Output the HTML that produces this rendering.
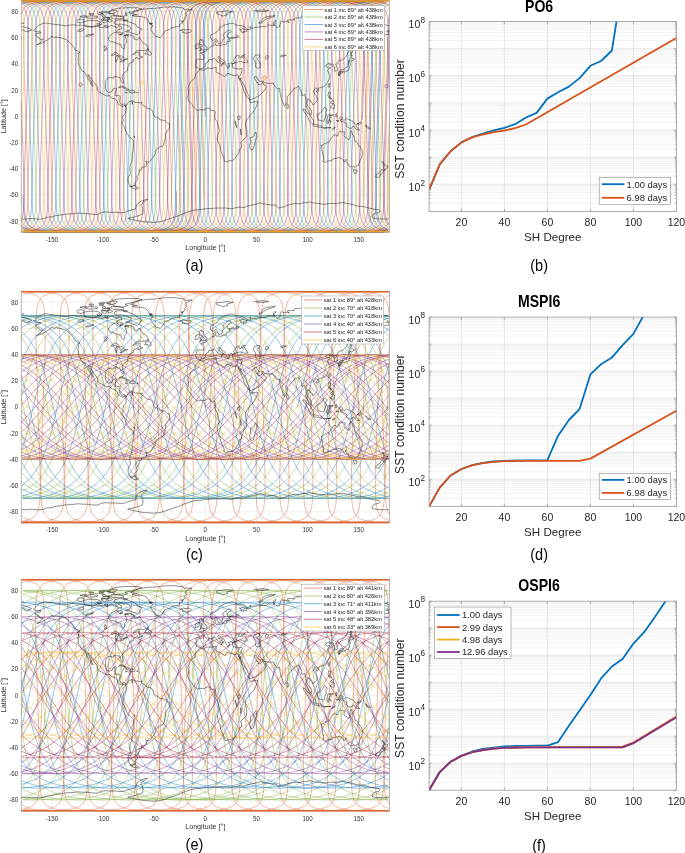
<!DOCTYPE html>
<html><head><meta charset="utf-8"><style>html,body{margin:0;padding:0;background:#fff;}svg{display:block;will-change:transform;}</style></head>
<body><svg width="685" height="853" viewBox="0 0 685 853" font-family='"Liberation Sans", sans-serif'><rect width="685" height="853" fill="#fff"/><defs><path id="coast" d="M33.5 -85.9 36.5 -89.1 38.6 -91 41.7 -92.4 45.2 -93.4 49.8 -92.7 53.9 -92.1 61.1 -91.2 66.2 -90.4 69.3 -91.2 73.4 -91.7 77.5 -91 81.5 -91.2 87.7 -89.7 92.8 -89.3 96.9 -89.9 102 -88.7 105.1 -89.7 107.1 -88.2 109.2 -90.1 111.2 -91 114.8 -89.7 117.3 -88.6 118.6 -90.9 121.4 -89.7 121.9 -87.5 117.9 -86.9 116.5 -84.2 113.2 -83.2 110.7 -81.2 108.8 -78.9 108.5 -76.9 110.4 -74.7 113.8 -74.3 117.9 -72.3 121.1 -72 121.2 -69.2 123.9 -67.3 124.8 -68.8 124.3 -71.5 126.7 -73.8 126.3 -77 125.3 -79.6 125.8 -81.7 129.6 -81.5 132.4 -80.3 134 -79.9 134.2 -77.3 136.2 -76.4 137.8 -77 139.1 -79 141.4 -76 142.6 -73.6 145 -72.3 146.7 -71.3 148.2 -68.5 146.7 -66.5 143.9 -65.8 140.4 -65.9 137.3 -65.8 134.9 -64.1 132.7 -61.4 134.2 -62.2 137.3 -64.3 139.3 -63.9 138.8 -62.2 139.3 -60.7 140.9 -60 142.9 -59.3 140.4 -58.3 138 -57.2 137.5 -59.2 136.3 -58.3 133.5 -57.1 133 -55.3 133.7 -54.8 132.2 -54.2 129.8 -53.3 129.5 -52 128.5 -50.8 127.7 -48.7 127.3 -47.3 128.1 -46.2 126.9 -45.5 125 -44.3 123 -42.3 122 -40 122.9 -37.1 123.4 -34.3 122.9 -33 122 -33.8 121.1 -35.4 120.6 -37.5 119.6 -39.2 118.1 -38.9 116.9 -39.8 114.8 -39.8 113.7 -39.6 114.1 -38.3 112.7 -38.1 110.7 -38.8 108.6 -38.6 106.6 -37.1 105.8 -35.9 105.6 -33.1 105.4 -29.5 105.9 -27.1 107 -25 108.6 -23.8 111 -24.4 112.2 -24.9 112.8 -27.2 115 -28.2 116.4 -27.8 115.8 -25.5 115.1 -22.9 115 -21 116.8 -20.7 119.4 -20.7 120.2 -19.5 119.8 -16.4 119.7 -14.4 121.1 -12.3 122.1 -11.5 123.9 -12.6 125.6 -11.8 126.2 -10.7 125.6 -9.6 125 -10.9 123.9 -11.1 123.1 -9.7 122.2 -10.1 121.2 -10.7 119.8 -11.1 117.6 -13 117.5 -14.8 115.8 -16.9 114.1 -17.7 111.8 -18.2 109.4 -20.8 106.6 -20.4 104.2 -21.5 101.4 -23.2 99.4 -24 97.6 -25.9 97.3 -29.3 96.1 -30.9 94 -33.5 92.5 -36 90.5 -38.3 89.5 -40.9 87.9 -41.7 88.5 -39.6 89.9 -37.1 91.2 -34.7 92.2 -31.8 93.3 -30.4 92.6 -30 90.5 -32.5 90.4 -34.3 88.5 -36.3 87.6 -38.6 85.9 -41.5 85.3 -43.5 84.1 -44.5 82 -45.3 80.6 -47.9 80 -49.5 78.8 -51.1 78.2 -53.1 78.4 -55 78 -57 78.6 -60.5 77.8 -63.4 79.4 -63.3 79.7 -64.3 77.5 -65.5 74.9 -66.4 74.4 -68.1 72.1 -71.3 70.8 -72.6 68.8 -74.8 66.4 -76.6 62.5 -78.1 59.6 -78.7 56.1 -79.3 53.6 -79 51.6 -80.2 50 -77.8 48.3 -77 45.9 -75.5 43.4 -73.8 40.1 -72.6 36.7 -71.4 39.6 -73.2 43.2 -77 40.1 -76.9 39.1 -78.6 36.8 -79.8 35.5 -81.2 36.7 -82.8 40.4 -83.3 40.8 -84.5 38.1 -84.6 35.1 -84.8 33.5 -85.9M126.2 -10.7 127.4 -12.3 128 -13.9 129.4 -14.7 131.5 -15.6 132.3 -16.2 131.8 -14.7 132.3 -13.6 131.9 -12.3 132.7 -12.1 132.1 -14.3 133.5 -15.1 135.4 -13.9 137.6 -13.9 139.4 -13.6 142 -13.9 141.4 -12.6 142.9 -11.1 144.1 -10.9 146 -8.9 148.1 -7.6 150.2 -7.5 152.5 -5.5 153.5 -2.5 154.2 -0.3 155.7 1 156.4 0.8 159.5 2.2 159.8 3.5 162.5 3.8 165.1 4.2 167.3 6.4 169.2 6.9 169.7 10 169.2 12.2 167.5 14.3 165.9 16.8 165.4 18.1 165.5 21 164.7 24.9 163.6 28 162.5 29.9 160.7 30.1 159 31.2 155.8 33.5 155.6 36.9 153.8 40 152 42.2 150.7 44.1 149.1 45.7 147.2 45.5 145.6 44.8 146.8 46.6 146.4 49.5 144.4 50.7 141.7 50.8 141.6 53.3 138.7 53.7 139.7 55.5 138.9 56.1 138.6 58.8 136.4 60.4 137.9 62.7 136.1 65 134.6 66.7 135.3 68.5 134.1 68.8 132.8 70.2 131.1 70.1 129.3 68.1 128.2 65.5 128.1 62.2 129 59.6 130.4 57 130 54.8 129.9 51.7 130.1 48.7 131.4 46.4 132.1 43.5 132.3 40 132.2 37.6 133 35 133.3 30.8 133.5 27.1 133.4 24 132.2 22.7 129.8 21.1 127.4 17.9 126.3 15.7 125.2 13 124 10 122.2 7.9 122.1 5.6 123.2 4.5 123.7 3.3 122.6 2.1 123.1 0.4 123.5 -1.2 124.6 -2 125.6 -3.5 126.2 -5.5 126.1 -8.5 125.6 -9.4 126.2 -10.7M135.1 68.9 136.3 70.7 138.6 71.8 137.3 72.3 135.2 72.7 133.2 72 131.1 71.1 129.6 69.6 132.2 70.1 134.2 69.3 135.1 68.9M199.6 -47 198.7 -45.6 197.5 -44 195.8 -42.6 195.3 -40 194.8 -38.4 193.5 -36.9 191.8 -36 190.5 -34.3 189.4 -32.1 188.6 -29.9 187.9 -27.5 188.7 -25.2 188.4 -21.4 187.7 -19.4 188.2 -17 189.3 -15.1 190.4 -13.8 191.8 -12.2 193 -10 194.5 -8.4 197.1 -5.9 199.7 -6.7 202.2 -6.7 204.1 -6.4 206.5 -8 208.4 -8.3 209.9 -8.1 211.3 -5.6 212.5 -5.8 214.1 -6 215.1 -5 215.3 -3.1 214.9 -1.3 214.8 0.8 215.7 3.7 217.2 5.2 217.9 7.9 218.8 11.4 219.4 14.4 218.2 17.4 217.4 21.9 217.4 23.6 218.7 27 220.1 29.6 220.5 33.5 221.4 35.9 222.1 37.5 223.1 39.6 224 41.7 224.1 44.7 225.9 45.6 228.4 44.5 231.7 44.3 233.5 43.5 235.6 41.3 237.3 38.4 238.5 36.9 239 34.3 238.7 33.5 241.6 31.6 241.5 28.3 240.8 25.9 242.5 24.5 244.2 22.7 246.7 20.2 246.7 14.3 245.7 10.5 245.4 6.2 246.5 3.4 248 2.1 249.7 -0.5 252.3 -3.3 254.3 -5.8 255.8 -9 257.3 -12.4 257.7 -14.8 256.3 -14.7 254.3 -14.5 251.6 -13.9 250.3 -13.6 249.6 -15.5 249 -17 247.4 -19.1 245.9 -20.8 244.8 -23.4 243.7 -25.8 243.1 -28.8 241.7 -31.3 240.6 -34.7 239.2 -37.3 238.6 -39.2 238.3 -41 236.5 -41.3 235 -40.5 232.9 -41.1 231.1 -41.4 228.6 -42.8 226.7 -42.7 225.8 -40.7 224.7 -39.7 223.2 -40.6 221.1 -41.8 219.3 -43 217 -43.5 216 -44.8 216.4 -46.2 215.8 -47.9 216.7 -48.5 215.3 -48.9 213.2 -48.3 210.7 -47.9 208.4 -48.2 206.3 -47.8 203.9 -46.2 202 -46.2 199.6 -47M238.6 -39.2 239.5 -37.2 240.4 -36.4 241 -38.6 240.7 -36.7 241.7 -35.1 242.8 -33 244.4 -30.9 245.3 -28.3 246.7 -25.8 247.8 -22.5 249.1 -20.2 249.6 -16.6 250.9 -16.6 252.9 -17.6 255 -18.3 257.4 -19.8 258.7 -20.4 260.5 -21.9 262.2 -23.4 263.2 -24.4 264.3 -25.9 266.5 -29.3 265.3 -30.9 264 -31.3 263 -33.5 263 -34.6 262.2 -33.3 260.6 -31.6 259.1 -31.7 258.1 -31.8 257.8 -34.2 257 -33.4 256.6 -34.8 255.7 -36 254.8 -37.5 254.3 -39.3 255.3 -39.7 256.5 -39.6 257.3 -37.7 258 -36.5 260 -35.1 262 -35.1 263.5 -35.5 264 -33.7 266.3 -33.3 268.2 -32.9 271.3 -33 273.2 -33.3 274.2 -31.3 275.7 -29.2 277.4 -27.4 279.6 -28 279.8 -25.2 280.4 -21.5 281.6 -16.9 282.8 -14.8 283.6 -11.7 284.6 -10.5 285.4 -11.7 286.4 -13.5 287 -13.6 287.4 -17 287.2 -19.8 288.4 -21 289.4 -21.7 291.1 -24 292.3 -25.5 293.8 -26.5 294.3 -28.2 296.2 -28.4 297.9 -29.9 298.8 -29.9 299.6 -27.8 300 -27.1 301 -25.8 301.8 -23.8 301.6 -21 302.9 -20.6 304.7 -22.1 305.3 -19.5 306 -17 306.1 -13.1 305.8 -10.7 306 -10.3 307.3 -8.4 308 -6.9 308.3 -5.1 308.9 -3.8 310.5 -2 311.2 -1.6 311.9 -2 311.1 -6.4 310.8 -7.2 309.7 -8.1 308.7 -9 307.9 -9.8 307.3 -12.2 306.8 -13.5 307.2 -15.6 307.6 -16.1 307.9 -17.7 308.5 -16.5 309.3 -16.5 310.2 -16 310.6 -14.4 312 -13.8 312.8 -11.8 312.5 -11.3 313.1 -11.4 314.4 -12.6 315.6 -14 317 -15.3 317.1 -17.6 316.7 -20 315.1 -21.9 314.1 -23.6 313.3 -25 314.1 -26.3 315 -27.9 315.9 -28.3 316.9 -28.2 318.2 -26.6 318.8 -28.2 320 -28.6 321.4 -29.1 322.2 -29.3 323.8 -29.9 325.3 -30.9 326.7 -32.1 327.6 -33.8 327.8 -34.8 328.6 -36.5 329.4 -37.1 330 -39.2 329.6 -40.5 330 -41.5 329 -42.7 328.3 -44.9 327.2 -45.7 328.2 -47 329.2 -47.9 330.6 -48.3 329.2 -49.1 328.8 -49.5 326.9 -49 326.1 -49.9 325.5 -50.7 326 -51.4 327.6 -52.3 329.5 -53.4 330.2 -52.9 329.5 -51.7 329.7 -51 330.8 -51.9 332.4 -52.3 333.5 -51.7 332.9 -50 333.6 -49.4 334.8 -49.4 334.4 -47.9 334.6 -45.1 336 -45.3 337.5 -46.1 337.7 -48.2 336.6 -50.6 335.7 -52.1 336.8 -52.7 338 -53.7 338.1 -55 339 -55.4 340.1 -56.3 341.5 -56.1 343.9 -57.5 345.6 -59.2 347.1 -61.6 348 -63.4 348.9 -65.6 349.1 -67.5 349.9 -69.2 349.8 -69.6 348.4 -71 345.7 -70.7 345.1 -71.5 346 -73.1 347.8 -75.1 350.1 -76.9 352 -77.7 354.2 -77.8 357.2 -77.7 359.5 -78.1 361.3 -77.3 363 -78.3 363.5 -79.3 366.2 -81 369.1 -81.1 369.4 -79.9 370.9 -79 372.7 -80 373.2 -81.7 373.6 -82 372.2 -82 373.3 -81.7 372.4 -79.9 371.1 -77.7 370.9 -76.1 372.2 -73.6 371 -72.4 371.1 -71.9 369.4 -71.1 368.4 -69.7 367.1 -68.1 365.7 -66.8 365.3 -68.8 364.8 -72.3 364.8 -74.4 365.7 -75.7 367.3 -76.1 369.2 -77.7 370.9 -79.1 372.5 -80 374 -81.2 375.5 -79 378.1 -79.4 380 -79 381.4 -79.9 383 -80.8 385 -81.4 386.7 -81.9 388.6 -81.6 389.4 -85.2 388.1 -84.5 386.7 -84.6 387.7 -85.7 389.4 -85.9M21.2 -85.9 23.2 -86.5 25.3 -85 27.3 -84.5 28.8 -84.5 28.7 -85.7 30.6 -85.9 31.7 -86.5 29.5 -87.6 26.3 -88.7 22.5 -89.9 21.2 -90.3M389.4 -90.3 388 -90.9 385 -91.6 382.9 -91.4 379.7 -91.8 379.2 -91.3 377.1 -91.2 375.1 -91 372 -91.2 370 -91 368.9 -92.4 366.9 -93 363.8 -93 360.8 -92.7 358.7 -93.8 354.6 -94.6 351.6 -95.2 348.5 -95 348 -93.7 345.9 -93.4 343.9 -93.8 340.8 -94.2 339.3 -92.7 337.8 -93.3 336.7 -95.4 334.2 -96.3 331.1 -96.5 327 -95.8 323.9 -96.4 320.9 -96.3 319.9 -96.7 317.8 -96.9 317.3 -97.7 319.9 -98.4 321.4 -99.4 319.9 -100.2 315.8 -100.5 313.7 -101.3 312 -101.8 308.6 -100.7 306.6 -100.1 304.5 -99.4 301.4 -99.4 299.4 -98.4 295.3 -98.5 293.8 -97.5 294.3 -96.3 291.2 -96.5 287.6 -96.4 287.8 -95 289.4 -93.9 287.6 -94.5 285.6 -94.8 283 -94.2 282.2 -95.5 281.7 -95.5 280.3 -93.8 280.6 -93.1 280 -91.7 279.8 -89.9 277.4 -88.9 275.9 -89.9 275 -90.8 273.9 -91.3 274.1 -92.7 275.4 -94.2 276.1 -95.4 275.4 -95.9 274.1 -94.6 273.2 -93 273.6 -92.1 274.7 -90.9 273.7 -90.7 271.3 -91 267.9 -91.4 267 -90.5 266.2 -89.6 263.9 -89.7 262 -89.6 260.4 -90.1 260.5 -89.3 257.4 -89.2 254.7 -88.8 252.9 -88 250.5 -88.7 250.4 -89.7 249.8 -89.9 250.4 -87.6 250.2 -86.6 248.4 -87.1 246.5 -86.5 245.1 -86.9 243 -87.8 241.2 -87.1 240.3 -87 239.3 -87.2 240.9 -86.3 241 -84.4 242.3 -84 243.7 -83.6 243.3 -85.3 245.8 -84.5 246.7 -84.9 246 -85.8 247.6 -86.7 247.1 -87.5 244.6 -89.6 241.3 -90.7 239.6 -90.8 237.1 -91.2 235.4 -91.6 233.6 -93 231.6 -93.1 229.1 -92.6 227.1 -92.1 224.9 -91.4 222.1 -89.9 220.8 -89.2 219.2 -88 218.5 -86.5 217.9 -85.4 216.1 -84 214.4 -82.9 212.3 -82 210.5 -81.1 210.3 -79.3 210.6 -77.9 211.1 -76.8 212.3 -76.1 213.7 -76.1 215.3 -77.2 216 -77.8 216.6 -77.2 217.1 -76.4 217.9 -74.4 218.2 -73.8 218.5 -72.6 219.9 -72.8 221.7 -73.4 222.2 -74.7 222.4 -75.8 222.5 -76.9 224.1 -77.8 224.5 -78.7 223 -80.3 223.2 -82 224.6 -83.2 226.7 -84.5 227.3 -85.4 228 -86.1 230.4 -86.2 231.3 -85.3 230.5 -84 228.2 -82.9 227.1 -81.6 227.3 -80.2 227 -79.4 228.7 -78.3 231.3 -78.9 233 -79.3 235.2 -78.7 234 -77.9 231.7 -78.1 229.3 -77.6 229.4 -76.6 230.2 -76.4 230.3 -75.3 229.1 -74.7 227.4 -75.2 226.9 -74.4 226.8 -73.2 227 -72.3 225.7 -71.9 224.3 -71.7 223.3 -71.8 222.1 -71.4 219.7 -70.5 218.3 -71.3 216.6 -70.7 216.4 -71.3 215.5 -71.5 215.4 -72.3 215.1 -72.7 216 -74 215.8 -75.5 214.5 -74.9 213.6 -74 213.6 -72.7 214.1 -71.3 214.4 -70.6 212.6 -70.3 211.4 -70.1 210.1 -69.2 209.6 -68.1 208.7 -67.2 207.9 -66.9 206.9 -66.7 206.6 -65.5 205.5 -65.1 204.2 -64.6 203.7 -65.1 203.9 -63.8 202.2 -63.9 200.6 -63.8 200.9 -62.7 202.4 -62.2 203.2 -61.7 204.1 -60.5 204 -58.7 203.8 -57 201.7 -57 199.8 -57.1 197.1 -57.2 195.7 -56.3 196.2 -55.2 196.3 -53.7 196.1 -52.4 195.7 -51.6 195.6 -50.7 196.3 -50.2 196.3 -48.6 197.6 -48.7 198.7 -48.3 199.2 -47.6 199.8 -47 200.8 -48.1 203.2 -48.1 204.6 -49.3 205.5 -50.8 205 -51.5 205.4 -52.4 206.2 -53.7 208.6 -54.9 208.5 -56.5 210 -56.9 211.9 -56.5 212.9 -57.2 214.4 -58.2 215.2 -57.6 215.9 -56.7 216.8 -55.4 218.2 -54.1 219.4 -53.7 220.7 -52.7 221.6 -52 221.3 -50 221.8 -51 222.8 -51.6 222.2 -53.2 224 -52.7 224.1 -52.8 223.2 -53.6 221.8 -54.6 220.8 -55 219.6 -55.9 219.1 -57.1 217.9 -58.4 217.9 -59.3 218.7 -59.9 219.2 -59.1 220.5 -58.6 221.1 -57.2 222.6 -56.6 224.3 -55.5 225.1 -54.9 225 -53.3 225.1 -52.8 226 -51.9 226.8 -50.3 227.6 -48.2 228.3 -47.7 229 -49 228.6 -50.3 229.8 -50 228.9 -51.9 228.4 -52.8 229.1 -52.3 230.3 -53.4 232 -53.4 232.2 -52.7 233.2 -52.9 235 -53.7 234 -54.8 233.5 -55.8 233.9 -56.7 234.6 -57.9 235.6 -59 236.4 -60.3 236.9 -61 238.1 -61 239.6 -60.3 238.5 -59.5 239.7 -58.3 241.2 -58.7 242.7 -59.2 241.1 -59.7 241.4 -60.4 243 -60.9 244.4 -61.6 245.3 -62 244.4 -61 243.6 -60.4 244.5 -59 245.5 -58 246.5 -56.5 247.8 -54.5 247.6 -54.2 245.7 -53.8 243.7 -54 242.9 -54.1 241.3 -55 239.6 -55 237.5 -54.2 235.2 -54 234.8 -52.9 233.2 -52.9 232.1 -52.4 232.7 -51.1 232.5 -49.9 233.2 -48.3 234.8 -48.1 236.4 -47.6 238.5 -47.3 240.1 -47.6 241.7 -47.9 242.2 -46.9 241.9 -45.7 241.6 -44.4 241.2 -43 240.6 -41.4 240.4 -40.9 238.6 -39.2M253.4 -58.3 254.7 -60.5 256.2 -61 258 -61.6 259.5 -61.4 259.6 -59.3 257.8 -58.3 257.1 -57.8 257.8 -56.6 259.2 -55.2 259.4 -54.1 260.5 -53.4 260 -52.3 260.4 -51 260.4 -48.9 257.8 -48.1 255.6 -49.3 255.3 -50.7 255.9 -52.7 255 -54.8 253.9 -56.3 253.4 -58.3M199.5 -65.6 201.8 -66.3 204 -66.4 206.7 -67.1 207 -69 205.6 -69.8 205.1 -70.9 204.1 -71.5 203.7 -72.8 203.2 -73.6 203.5 -75.5 202.1 -75.6 201.2 -75.7 202.1 -76.8 200.2 -76.8 199.4 -75.7 199.6 -73.8 199 -73.4 199.6 -72.4 200.4 -71.9 201.8 -71.9 202 -71 202.2 -70 200.9 -70 200.6 -69.4 201.1 -68.5 200.1 -67.9 201 -67.6 201.9 -67.3 200.9 -67.1 199.5 -65.6M199.1 -68.4 199.2 -69.6 199.1 -70.7 199.6 -71.4 199.1 -72.3 197.7 -72.4 196.8 -72.2 196.5 -71.1 195.1 -71 195.2 -70 195.8 -69.3 194.8 -68.3 195.3 -67.5 196.9 -67.7 198.8 -68.4 199.1 -68.4M182.1 -86.1 183 -84.9 182.1 -83.8 183.8 -83.7 186.1 -83.1 188.4 -83.6 190.4 -84.2 191.4 -85.3 190.4 -86.5 189 -87.1 187.1 -86.5 184.9 -86.5 183.3 -87 182.4 -87 180.2 -85.8 182.1 -86.1M130.6 -102.7 135.7 -105.1 139.8 -106.5 147 -107.7 156.2 -108.1 164.4 -109.3 174.6 -109.4 182.8 -108.3 184.8 -106.9 192 -107 187.4 -105.1 185.4 -102.8 186.4 -100.6 184.3 -98.6 185.4 -97.2 182.8 -95 182.3 -93 179.2 -91.7 179.7 -90.1 174.6 -89.3 171.5 -88.4 169.5 -86.7 165.9 -85.8 163.9 -84.1 162.9 -81.9 161.5 -79.9 160.3 -78.6 158.3 -79.4 155.7 -79.9 154.2 -81.9 153.1 -83.6 151.6 -85.5 150.6 -87.2 151.1 -89.1 153.1 -90.4 150.1 -92.4 152.6 -92.7 149 -93.7 148.5 -95.4 147 -97.2 145 -98.9 140.9 -99.8 135.2 -99.8 132.2 -100.9 137.3 -101.5 130.6 -102.7M142.1 -87.2 140 -84.8 139.1 -82.9 137.8 -81.6 135.2 -82.1 132.2 -83.1 129.1 -84.6 126 -84.4 125.5 -85.2 129.6 -85.9 130.1 -87.2 131.1 -88.4 130.1 -89.5 126 -91.4 123.7 -91.3 121.4 -92.2 115.8 -92 113.8 -93.1 114.8 -95.4 117.3 -96.2 123 -96.5 126.5 -95.5 130.1 -94.1 134.2 -92.5 136.8 -90.9 137 -89.5 140 -88.2 142.1 -87.2M123.5 -100.1 127.6 -101.4 125 -102.8 130.6 -104.1 135.7 -105.5 141.9 -107.4 137.8 -108.5 128.6 -108.7 118.4 -108.1 112.2 -106.8 110.2 -104.8 107.6 -103.5 113.2 -102.4 113.8 -100.9 121.4 -100.2 123.5 -100.1M123.5 -97.6 119.4 -97.5 113.2 -97.7 110.7 -99 111.2 -100.5 115.3 -100.5 119.9 -100 123.5 -99.2 123.5 -97.6M85.1 -90.5 89.7 -89.7 93.8 -90.1 97.4 -90.8 101.5 -91.6 101.5 -93.4 97.9 -95.4 94.3 -95.8 88.7 -95.8 84.1 -94.8 83.6 -93.4 85.1 -90.5M77.5 -94.2 81 -93.5 83.8 -94.6 84.1 -96.4 81.5 -97.3 78 -97.2 76.9 -95.1 77.5 -94.2M85.6 -98.9 88.7 -98 93.8 -98.1 97.9 -98.8 97.4 -100 94.3 -100.2 91.8 -100.7 87.7 -100.1 85.6 -98.9M103 -98.2 107.1 -98.9 109.2 -98.8 109.7 -97.2 105.1 -96.2 101 -96.4 103 -98.2M117.1 -84.1 121.9 -84.2 123.2 -83.2 119.9 -81.5 117.9 -82.7 117.1 -84.1M106.1 -96.3 107.1 -94.7 104.6 -93.3 101.5 -95 103 -96.7 106.1 -96.3M144.6 -62.4 145.5 -63.5 146.7 -65.2 148 -67.6 148.5 -67.5 148.3 -65.2 150.5 -64.6 151.4 -62.2 150.5 -61 148.7 -61.7 147.8 -62.4 144.6 -62.4M118.5 -28.7 119.9 -30 121.9 -30.4 124 -29.6 126.2 -28.3 128 -27.2 129.4 -26.5 127.9 -26.1 125.8 -26.1 126.1 -27.1 125 -28.2 123 -28.8 121.6 -29.1 120.1 -29.1 118.5 -28.7M129.1 -24.1 130.2 -25.8 131.7 -26.1 133.7 -25.8 135.3 -24.4 135 -23.8 133 -23.8 132.3 -23.1 131.1 -23.8 129.1 -24.1M125.2 -24.1 127.4 -23.6 126.5 -23.2 125.2 -24.1M136.6 -24.2 138.2 -24 137.8 -23.6 136.6 -23.6M216.6 -102.6 220.6 -101.3 222.7 -100.3 227.8 -101.7 226.8 -103 232.9 -104.7 226.8 -105.5 221.7 -104.8 216.6 -104.3 216.6 -102.6M258.5 -93.5 261.6 -94.7 262.1 -96 263.1 -98 266.7 -99.8 270.8 -100.1 275.4 -100.9 272.8 -99.4 266.7 -97.5 263.6 -95.6 262.1 -93.7 260 -92.7 258.5 -93.5M302.5 -104.1 307.6 -103.5 312.2 -103 311.2 -104.3 307.6 -106.1 303 -106.4 302.5 -104.1M344.4 -99 349.5 -99.6 353.6 -98.9 350.5 -96.8 346.4 -97.6 344.4 -99M23.2 -93.7 23.9 -93 21.2 -92.9 21.2 -93.7M253.4 -105.5 261.6 -106.4 268.7 -105.7 264.6 -104.7 256.4 -104.8M338.5 -41 339.6 -41.1 340.1 -43 339.8 -44 340.7 -44.4 339.3 -45.1 340.7 -46.4 341.8 -46.6 343.9 -46.6 344.4 -47.7 345.3 -48.6 345.9 -48.3 347.1 -49.5 348.1 -51 348.5 -52.7 348.5 -54 349.4 -54.4 350 -52.9 350.5 -51.5 349.5 -50.2 349.5 -48.6 349.2 -47.2 348.4 -46 347.6 -45.6 347 -45.3 345.4 -45.3 345.2 -44.9 344.2 -43.9 343.6 -44.9 343.1 -45.5 341.7 -45.1 340.8 -44.8 343 -44.1 342.6 -43.5 341.3 -43 340.7 -43.8 340.3 -43.2 340 -41.4 339 -40.6 338.1 -42.7 337.9 -43.6 338.8 -44.4 339.2 -44.4 338.5 -41M348.5 -54.4 348.7 -55.5 348.4 -55.8 350.1 -56.7 350.1 -59.5 351.5 -58.6 352.9 -57.8 353.9 -58 354.2 -56.7 352.8 -56.2 351.9 -55 349.7 -55.8 349.5 -54.6 348.5 -54.4M350.5 -60.4 352.1 -60.5 351.4 -62.2 351.6 -64.2 352.1 -64.6 352.8 -64.2 351.8 -67.9 351.9 -69.4 351.2 -71.1 350.3 -69.4 350.5 -67.6 350.1 -65.5 350.6 -63.5 350.4 -61.7 350.5 -60.4M328.2 -29.9 328.1 -31 329.1 -32.9 330.1 -32.8 329.6 -30.4 329 -28.8 328.2 -29.9M316.4 -25.2 317.4 -26.3 318.4 -26.3 318.8 -25.7 317.3 -23.8 316.4 -24.4 316.4 -25.2M328.6 -24.2 330.3 -24.2 330.5 -22.5 329.7 -21 329.6 -18.9 330.6 -18.7 332.1 -17 331.1 -17.9 329.1 -18.1 328.6 -19.1 327.9 -21.2 328.4 -22.3 328.6 -24.2M330.1 -9 331.8 -10.3 332.6 -11.4 333.6 -12.8 334.4 -12.2 334.7 -9.8 334.2 -8.3 333.6 -7.3 332.1 -8.3 330.1 -9M330.6 -14 331.6 -12.4 333 -13 333.4 -14.8 332.9 -16.4 331.9 -14.7 330.6 -14M316.8 -2 317.4 0.4 318 2.2 318 3.8 319.5 3.9 320.9 4.2 322.4 4.6 323.9 5.1 324.5 3.3 324.5 2 325.5 -0 325.8 -1.3 326.9 -1.7 325.8 -3 326 -5.5 327.2 -7.1 325.5 -8.5 324.6 -9 323.3 -7.1 322.4 -6 321.4 -4.6 320.4 -3.9 319.1 -3.1 318.8 -2 317.4 -2.6 316.8 -2M302.8 -7.3 305 -6.8 306.1 -5 307.5 -3 308.2 -2.8 309 -2.8 311.4 1 312.3 2.5 313.7 4.1 313.5 7.6 312.4 7.7 311.6 6.7 310.2 5.5 309 3.7 307.9 1 306.9 -0.3 306.3 -2.1 305.2 -3.1 303.9 -5 302.8 -7.3M312.9 8.9 313.8 7.9 315 7.7 316.3 8.4 318.3 8.9 319.4 8.8 320.5 9 322.4 10.1 322.3 11.3 320.4 10.9 318.3 10.6 316.3 10.1 314.2 9.7 313.1 9 312.9 8.9M327.4 7.2 328.4 7.3 328.3 3.8 329.1 3.4 330.6 6.2 331.3 5.6 330.3 3.7 329.4 2.2 329.7 1.3 331.4 1.2 329.6 -0.8 331.6 -0.7 332.5 -0.7 333.3 -2.1 332.6 -1.3 329.6 -1.4 328.5 -1.7 327.8 -0.3 327.2 2.9 326.8 3.5 327.4 7.2M322.9 11.4 324.5 11.7 326 11.3 327 11.5 329.1 11.5 331.1 11 330.1 11.4 327.5 11.3 325 11.8 322.9 11.4M332.1 13.1 333.1 11.9 335.5 11 334.7 11.7 332.6 13.4 332.1 13.1M335.7 -2 336.4 -2.9 336.2 -1 336.9 -0.4 336.1 1 335.6 -0.7 335.7 -2M336.2 4.2 338.8 4.1 339.1 5 336.7 4.7 336.2 4.2M339.3 1.7 340.8 0.5 342.5 1.2 342.9 3.3 343.9 4.3 345.4 3 346.4 2.1 348 2.9 349.5 3.4 351.3 4.3 353.1 5 354.4 6.4 354.4 7.2 356.3 8 355.9 9.7 357.1 11.3 358 11.9 359 13.4 359.6 13.8 358.3 13.5 356.2 13.2 354.6 10.6 353.3 10 351.9 10.9 352 11.8 350.4 12.1 349.5 11.9 347.5 10.6 346.4 9.8 347.2 8.9 346.2 6.9 343.6 5.8 342 4.7 341.1 5.4 340.3 3.7 341.8 3.1 340.5 2.9 339.3 1.7M357 7.3 358.7 7.1 360.3 5.6 361.1 5.6 360.8 7.2 359.4 8.3 357 7.3M365.4 8.6 366.4 9.6 367.9 10.5 369.5 11 370.5 12.4 368.9 12.6 366.9 11.5 365.4 8.6M321.4 28.8 321.7 32.1 322.1 34.5 322.9 38.6 323.6 41.4 323.6 43.6 322.9 44.9 324.6 45.9 326 45.9 327.9 44.5 331.6 44.4 332.3 43.2 334.2 42.3 336.2 41.9 339.6 41.3 340.9 41.9 342.7 43 343.6 45.2 344.3 45.6 345.3 44.1 346.2 42.7 345.9 44.7 346.8 46.5 347 46.6 348.1 47.3 348.4 49 349.1 49.8 350.7 50.3 352.1 50.8 353.5 49.6 354.1 50.6 354.9 51.2 356.1 50 356.9 49.5 358.7 49.1 358.8 47.7 359.4 46.1 359.9 44.4 361.3 42.2 361.8 40.6 362.4 36.9 361.9 34.2 361.8 32.8 360.9 31.8 359.5 29.6 358.4 29.2 357.7 26.7 356.2 25.5 354.9 24.9 354.5 22.4 354 21 353.9 19.5 353.2 18.6 352.2 18.3 352.1 16.8 351 14 350.6 14.8 350.1 16.9 350.2 19.7 349.9 21.5 349.1 23.1 347.8 22.8 346.4 21.5 345 20.8 344 19.3 344.3 17.4 345.3 16.1 344.7 15.6 343.9 15.7 341.9 15.5 340.9 15.1 340.1 14.8 338.9 16.2 338.4 17.2 337.9 19.5 336.2 19.5 335.3 18.3 334.3 18.5 333.3 19.1 332.5 20.4 331.5 22.1 330.4 22.7 329.9 24.6 329.1 25.5 327.5 26.2 326.8 26.7 325.5 27.1 324.7 27 323.4 28.2 322.5 28.6 322.1 29.5 321.4 28.8M353.2 53.3 355 53.8 357 53.6 357 55.3 356.6 56.6 355.7 57 354.6 57 353.9 55.3 353.2 53.3M381.9 45.1 383.6 46.2 384.1 48.2 385.2 49.1 386.5 49.6 387.9 49.4 387.3 51.4 386.2 51.7 385.5 53.4 384.6 54.5 383.9 54.1 384.5 52.7 383.1 51.4 383.9 49.9 383.9 48.5 382.9 47 381.9 45.1M381.9 53.1 383.6 54.2 383.2 55.3 382.4 56.3 381.9 57.4 380.5 57.9 379.8 60.1 378.5 61 376.9 60.8 375.6 60.3 376 59.1 377.4 57.8 379.8 56.3 380.7 54.8 381.3 53.6 381.9 53.1M255.7 15.7 256.4 17.7 257 20 256.2 21.9 255.9 23.3 254.9 26.9 253.9 30.8 253.5 32.6 251.7 33.5 250.3 32.8 250 30.8 249.6 28.8 249.9 27.8 250.7 26.2 250.7 24.9 250.3 22.8 250.7 21.2 252.7 20.7 254.1 19.1 254.4 17.8 255.7 15.7M287 -12.7 287.9 -12.2 288.6 -10.7 289 -9.2 288.4 -8.1 287.2 -7.9 286.9 -10 287 -12.7M21.2 102.6 26.3 102.6 31.4 102.2 38.6 102.8 43.7 102.3 46.8 100.9 51.9 100.5 56 99.2 62.1 98.5 66.2 97.7 72.3 97.5 77.5 96.7 82.6 97.1 87.7 97.3 92.8 97.9 97.9 98 102 96 106.1 95.6 110.2 96 115.3 95.9 121.4 96.5 125.5 95.8 127.6 94.7 131.7 93.7 135.7 92.4 136.3 89.7 137.8 87.1 140.9 84.9 146 83.1 147.5 83.1 145.5 84.5 143.4 85.8 141.9 87.1 140.9 89.1 142.4 91 142.9 93.7 142.9 96.3 142.4 97.6 139.8 98.9 134.7 100.6 129.6 101.5 127.6 102.2 133.7 103.5 143.9 105.5 154.2 106.1 160.3 105.5 168.5 102.8 172.6 101.5 176.7 100 179.7 98.9 185.9 96.3 190 95 194 93.7 199.2 93.4 205.3 92.4 210.4 92.2 215.5 91.7 220.6 91.7 225.8 91.7 230.9 92.4 236 91.4 239.1 90.8 244.2 91.2 246.2 90.1 251.3 88.8 256.4 87.8 260.5 86.5 263.6 87.6 266.7 88 271.8 88.6 275.9 88.8 276.9 90.4 278.9 92 280 90.8 283 91 285.1 89.9 289.2 88.4 293.3 87.5 295.3 87.2 299.4 87.4 303.5 86.5 307.6 86.2 309.6 85.5 313.7 86.6 317.8 87.1 322.9 87.8 326 87.8 330.1 87.1 335.2 87.2 340.3 86.5 343.4 86.2 346.4 87 350.5 87.8 353.6 88.4 355.7 89.3 358.7 89.9 362.8 90.1 365.9 90.9 368.9 91.7 372 92.4 375.1 93 379.2 93.5 380.2 94.7 378.7 96.3 375.1 96.9 373 98.2 372 100.2 372.5 101.5 375.6 102.2 377.1 102.4 381.2 102.6 385.3 102.7 389.4 102.6M111.1 -61.2 113.7 -62.9 114.9 -63.9 116.8 -63.8 118.6 -61.6 118.8 -60.9 116.8 -60.9 115.3 -62 112.7 -61 111.1 -61.2M115.8 -54.6 116.7 -54.8 117.1 -57 117.9 -59.1 118.6 -60 117.5 -60.3 115.8 -59.6 115.3 -58 115.7 -56.3 115.8 -54.6M118.7 -60.1 119.8 -60.4 122.2 -60.4 123.4 -59.2 122.9 -58.3 121.7 -58 120.9 -56.3 119.9 -57.6 120.1 -59 118.7 -60.1M120 -54.6 121.9 -54.4 123.7 -55.3 124.6 -56.1 122.5 -55.8 120.3 -55 120 -54.6M123.7 -56.7 125.5 -56.9 127.3 -57 127.4 -57.9 126 -57.5 124.1 -57.1 123.7 -56.7M77.5 -85.4 79.5 -86.7 81.5 -87.8 84.1 -87.1 83.1 -85.8 81 -85 79 -84.9 77.5 -85.4M85.6 -79.9 88.7 -80.2 90.7 -80.8 93.8 -82.3 91.3 -82 88.2 -81.7 86.7 -81 85.6 -79.9M104 -66 105.6 -67.3 104 -69.2 104.9 -70.5 106.1 -69.7 106.6 -67.5 106.4 -66.2 104 -66M265.1 -57.8 266.5 -57.1 268.1 -58.3 268.4 -60 267.2 -60.8 265.8 -60.3 265.1 -57.8M311.5 -67.5 313.2 -67.6 315.6 -69.4 317.3 -71.8 317.6 -73.1 316.1 -71.4 314 -69.4 312.1 -68.1 311.5 -67.5M280.5 -60.3 282 -61 284.6 -61.2 286.3 -61 285.6 -60.7 283 -60 281.5 -59 280.5 -60.3M237.6 0.3 239.7 -0.4 240.2 0.7 239.7 3.1 238.3 3.5 237.6 2 237.6 0.3M235.2 4.5 235.8 5.9 236.5 8.8 237 11.3 236.6 11.1 235.6 8.6 235.1 6.3 235.2 4.5M240.5 12.6 241 15.1 240.7 17.7 241.4 18.7 241 16.1 240.5 12.6M235.9 -78.7 237.5 -79 239 -79.5 238.6 -80.3 236.5 -80.6 235.9 -79.6 235.9 -78.7M133.9 20 134.9 20.3 134.4 21.5 133.9 20M106.1 -104.5 111.2 -105.5 115.3 -106.1 117.3 -105.1 115.3 -103.5 111.7 -102.6 108.1 -103.2 106.1 -104.5M98.9 -102 103 -103 104 -101.9 101 -101.3 98.9 -102M80 -99.8 85.1 -100.9 86.7 -100.1 83.6 -99 80 -99.8M102 -100 105.1 -100.6 106.1 -98.9 104 -98.1 102 -100M107.1 -98.9 109.7 -98.8 109.4 -97.9 107.1 -98.1 107.1 -98.9M107.6 -96.5 111.2 -96.8 112.7 -95.6 109.7 -94.3 107.6 -95 107.6 -96.5M104.6 -91 107.1 -91.2 108.1 -89.7 105.6 -89.3 104.6 -91M123.5 -96.7 127.6 -96.3 126.5 -95.1 123 -95.6 123.5 -96.7M120.4 -82.5 122.5 -82 120.9 -81.2 119.9 -81.7 120.4 -82.5M126.5 -81.5 128.6 -80.3 124 -80.7 126.5 -81.5M96.9 -92.7 98.9 -93.1 100.7 -91.7 97.9 -91.2 96.9 -92.7M88.7 -102.8 92.8 -103.1 93.8 -102 89.7 -101.9 88.7 -102.8M98.9 -103.8 104 -104.9 105.6 -104.1 102 -103.2 98.9 -103.8M180.8 -95 183.3 -95.4 182.3 -94.1 180.8 -95M152.1 -92.7 151.1 -92.1 149 -92.5 150.6 -93.1 152.1 -92.7" fill="none" stroke="#1c1c1c" stroke-width="0.5" stroke-linejoin="round"/></defs><clipPath id="clipa"><rect x="21.2" y="0.3" width="368.2" height="232.1"/></clipPath><rect x="21.2" y="0.3" width="368.2" height="232.1" fill="#fff"/><path d="M21.2 221.2H389.4M21.2 194.9H389.4M21.2 168.8H389.4M21.2 142.6H389.4M21.2 116.3H389.4M21.2 90.1H389.4M21.2 63.9H389.4M21.2 37.7H389.4M21.2 11.5H389.4M51.9 0.3V232.4M103.0 0.3V232.4M154.2 0.3V232.4M205.3 0.3V232.4M256.4 0.3V232.4M307.6 0.3V232.4M358.7 0.3V232.4" stroke="#e6e6e6" stroke-width="0.6" fill="none"/><g clip-path="url(#clipa)" fill="none" stroke-width="0.5" stroke-opacity="0.8"><path stroke="#D95319" d="M389.4 117.2 387.7 165.2 387.2 192.1 387.3 201.4 387.6 208.9 388.3 214.8 389.2 219M21.2 219.9 22.7 223.2 24.6 225.7 26.8 227.4 30.3 229 33.1 229.8 37.1 230.6 43.3 231.4 53.9 232.1 73.6 232.7 106.9 232.9 140.4 232.7 160.4 232.1 171.1 231.4 177.4 230.6 181.4 229.8 184.2 229 186.2 228.2 188.9 226.6 190.6 224.9 191.8 223.2 193 220.7 193.8 218.2 194.5 214.8 194.9 211.5 195.4 202.2 195.5 188.8 195.2 170.2 191.8 72.6 191.1 40.6 191.3 28.8 191.9 20.4 192.3 17 193.1 13.7 194 11.2 194.8 9.5 196.8 7 198.9 5.3 202.4 3.7 205.1 2.9 209.1 2.1 215.3 1.3 225.8 0.6 245.2 0 278.3 -0.2 312 -0 332.2 0.6 343.1 1.3 349.4 2 353.5 2.8 356.3 3.6 358.3 4.5 361 6.1 363.4 8.6 365.1 12 366.1 15.3 366.9 20.4 367.4 26.2 367.7 34.7 367.6 45.6 366.9 75.1 364.3 149.2 363.5 176.1 363.3 198 363.5 205.5 363.9 211.4 364.6 216.5 365.8 220.7 367.5 224 369.8 226.5 372.5 228.2 374.5 229 377.2 229.8 381.1 230.6 387.2 231.4M29.4 232.1 48.6 232.7 81.5 232.9 115.4 232.7 135.8 232.1 146.8 231.4 153.2 230.7 157.3 229.9 160.2 229.1 162.2 228.3 163.7 227.4 165.9 225.8 167.3 224.1 168.3 222.4 169.4 219.9 170 217.4 170.6 214 171.1 209.8 171.6 199.7 171.6 186.3 171.2 167.8 167.9 76 167.2 44.8 167.2 33.1 167.6 23.8 168.4 17.1 169.7 12 170.9 9.5 172 7.9 173.7 6.2 174.9 5.4 178.3 3.7 181.1 2.9 185 2.1 191 1.3 201.3 0.6 220.2 0 252.9 -0.2 287 -0 307.7 0.5 318.8 1.2 325.3 2 329.4 2.8 332.2 3.6 335.8 5.3 337.1 6.1 338.8 7.7 340.4 10.3 341.2 11.9 342 14.4 343 20.3 343.6 28.7 343.7 39.7 343.1 70.8 340.3 150.8 339.5 179.4 339.4 200.5 339.7 208 340.3 213.9 341.3 219 342.1 221.5 343 223.2 344.9 225.7 347 227.3 348.5 228.1 350.4 229 353.1 229.8 357 230.6 363 231.3 373.1 232.1M23.7 232.7 56.1 232.9 90.4 232.7 111.3 232.2 122.6 231.5 129.1 230.7 133.3 229.9 136.1 229.1 139.7 227.5 141 226.6 142.7 225 143.9 223.3 145.1 220.8 146.4 215.8 147.2 209 147.6 198.9 147.6 185.5 147.2 166.9 144 76 143.3 44.9 143.3 33.1 143.7 23.8 144.4 17.1 145.7 12.1 146.9 9.6 148 7.9 149.7 6.2 150.9 5.4 154.3 3.8 157 2.9 160.8 2.1 166.8 1.4 176.8 0.7 195.3 0.1 227.5 -0.2 262 -0 283.2 0.5 294.5 1.2 301.1 2 305.3 2.8 308.2 3.6 310.3 4.4 313.1 6.1 314.8 7.7 316 9.4 316.9 11.1 317.8 13.6 318.9 19.5 319.6 27 319.8 38 319.7 51.4 319.2 69.1 316.2 154.1 315.4 183.6 315.4 195.4 315.6 204.6 316.1 212.2 316.9 217.3 318.2 221.4 319 223.1 320.2 224.8 321.8 226.5 323 227.3 326.4 228.9 329.1 229.7 332.9 230.5 338.8 231.3 348.7 232 366.9 232.6M30.7 232.9 65.4 232.7 86.8 232.2 98.3 231.5 105 230.7 109.2 229.9 112.1 229.1 114.2 228.3 117 226.7 117.9 225.8 119.4 224.2 120.4 222.5 121.4 220 122.6 214.9 123.4 207.4 123.7 197.3 123.6 183.8 123.2 166.1 120.1 76.1 119.3 44.9 119.3 33.1 119.7 23.9 120.5 17.1 121.8 12.1 122.9 9.6 124.1 7.9 125.7 6.3 126.9 5.4 130.3 3.8 132.9 3 136.7 2.2 142.5 1.4 152.3 0.7 170.4 0.1 202.1 -0.2 236.9 -0.1 258.6 0.5 270.3 1.2 277 1.9 281.3 2.7 284.2 3.5 286.3 4.4 289.1 6 290.1 6.8 291.5 8.5 292.5 10.2 293.6 12.7 294.8 17.7 295.5 25.3 295.8 35.4 295.8 48.9 295.4 66.5 292.2 156.6 291.4 187.8 291.5 199.6 291.8 208.8 292.6 215.5 293.9 220.6 295.1 223.1 296.2 224.8 297.9 226.4 299 227.2 302.4 228.9 305 229.7 308.8 230.5 314.5 231.3 324.2 232 342 232.6 373.5 232.9M40.3 232.8 62.2 232.2 74 231.5 80.8 230.8 85.1 230 88 229.2 90.2 228.3 91.8 227.5 94 225.9 95.4 224.2 96.4 222.5 97.2 220.9 98 218.3 98.9 213.3 99.5 206.6 99.8 197.3 99.7 184.7 98.9 154.4 95.9 68.5 95.5 50.8 95.3 37.4 95.6 27.3 96.2 19.7 97.3 13.8 98.2 11.3 99 9.6 100.1 8 101.8 6.3 104.4 4.6 106.3 3.8 108.9 3 112.6 2.2 118.3 1.4 127.9 0.7 145.5 0.1 176.7 -0.2 211.8 -0.1 234.1 0.5 246 1.2 252.8 1.9 257.2 2.7 260.1 3.5 263.9 5.2 265.1 6 266.9 7.6 268.1 9.3 269 11 270.3 15.2 271.3 21.9 271.8 31.2 271.9 42.9 271.2 74.9 267.9 167.5 267.5 185.2 267.5 198.7 267.9 208.8 268.7 215.5 270 220.5 271.1 223.1 272.2 224.7 273.9 226.4 276.5 228 278.3 228.9 280.9 229.7 284.6 230.5 290.3 231.2 299.8 232 317.2 232.6 348.1 232.9 383.4 232.8M37.7 232.3 49.7 231.6 56.7 230.8 61 230 64 229.2 66.2 228.4 67.8 227.6 70 225.9 72 223.4 73.5 220 74.7 215 75.4 209.1 75.7 202.4 75.8 193.1 75.7 180.5 74.9 151.9 72 71.1 71.4 39.9 71.6 29 72.1 20.6 73.1 14.7 74.6 10.5 76.1 8 77.8 6.3 78.9 5.5 82.2 3.9 84.8 3 88.5 2.2 94.1 1.5 103.5 0.7 120.6 0.1 151.3 -0.2 186.7 -0.1 209.5 0.4 221.7 1.1 228.7 1.9 233.1 2.7 236.1 3.5 239.9 5.1 241.1 6 242.9 7.6 244.1 9.3 245 11 246.4 15.2 247.4 21.9 247.9 31.1 248 42.9 247.2 74.9 244 167.5 243.6 186 243.6 199.5 244 209.6 244.5 213.8 245.1 217.2 245.7 219.7 246.7 222.2 247.7 223.9 249 225.5 251 227.2 252.4 228 254.3 228.8 256.9 229.6 260.5 230.4 266.1 231.2 275.4 231.9 292.3 232.6 322.7 232.9 358.3 232.8 381.3 232.3M25.4 231.6 32.5 230.8 36.9 230 40 229.2 42.1 228.4 45 226.8 46 225.9 47.5 224.3 48.9 221.8 50.3 217.6 51.1 212.5 51.6 206.6 51.9 199.1 51.7 178 50.9 150.2 48.2 73.6 47.5 43.3 47.5 32.4 47.9 24 48.5 18.1 49.6 13 50.6 10.5 51.6 8.9 53.8 6.4 56.3 4.7 58.2 3.9 60.7 3.1 64.4 2.3 69.9 1.5 79.1 0.8 95.8 0.1 125.9 -0.2 161.6 -0.1 184.9 0.4 197.4 1.1 204.5 1.9 209 2.6 212.1 3.5 214.2 4.3 217.1 5.9 218.9 7.6 220.2 9.3 221.1 10.9 222 13.4 223.2 19.3 223.8 27.7 224 40.3 223.3 73.2 220 170 219.6 188.5 219.7 202 220.2 211.2 221.3 218 222 220.5 223.2 223 224.3 224.7 225.9 226.3 228.4 228 230.3 228.8 232.8 229.6 236.4 230.4 241.9 231.2 251 231.9 267.5 232.6 297.3 232.9 333.1 232.8 356.7 232.3 369.3 231.6 376.6 230.9 381.1 230.1 384.1 229.3 386.3 228.4 389.2 226.8M22 226 23.5 224.3 24.6 222.6 25.6 220.1 26.5 216.8 27.2 212.6 27.6 208.4 27.9 196.6 27.9 182.3 27.4 162.9 23.8 60.2 23.5 41.7 23.7 28.2 24.4 19 25 15.6 25.7 13.1 26.7 10.6 27.6 8.9 28.9 7.2 30.9 5.6 34.2 3.9 36.7 3.1 40.2 2.3 45.7 1.5 54.6 0.8 71 0.2 100.5 -0.2 136.4 -0.1 160.3 0.4 173.1 1.1 180.4 1.8 184.9 2.6 188 3.4 191.9 5.1 194.2 6.7 195.7 8.4 196.7 10.1 197.8 12.6 198.5 15.1 199.5 21.8 200 31.9 200.1 45.4 199.7 63.9 196.4 158.2 195.7 190.2 195.8 202.8 196.3 211.2 197.3 217.9 198.8 222.1 199.7 223.8 201.1 225.5 203 227.1 204.4 227.9 208.8 229.6 212.3 230.4 217.7 231.2 226.6 231.9 242.7 232.5 271.9 232.9 307.9 232.8 332.1 232.3 345 231.6 352.4 230.9 357 230.1 360.1 229.3 362.3 228.5 365.3 226.8 366.3 226 367.8 224.3 368.8 222.7 369.9 220.1 371.1 215.1 371.8 209.2 372.2 200.8 372.2 189 371.5 157.9 368.1 59.4 367.8 38.3 368.1 24.9 368.7 19 369.5 14.8 370.5 11.4 371.8 8.9 374.1 6.4 376.5 4.8 380.8 3.1 384.3 2.3M21.5 1.6 30.3 0.8 46.2 0.2 75.2 -0.2 111.2 -0.1 135.7 0.4 148.8 1 156.2 1.8 160.8 2.6 164 3.4 166.2 4.2 167.9 5 170.2 6.7 171.7 8.4 172.7 10 173.8 12.5 174.5 15.1 175.5 21.8 176.1 31.9 176.1 45.3 175.7 63.9 172.4 158.1 171.7 190.1 171.8 202.8 172.3 211.2 173.4 217.9 174.8 222.1 175.8 223.8 177.1 225.4 179 227.1 180.4 227.9 184.7 229.5 188.2 230.3 193.5 231.1 202.2 231.9 217.9 232.5 246.6 232.9 282.8 232.8 307.5 232.3 320.7 231.7 328.2 230.9 332.9 230.1 336 229.3 338.3 228.5 341.3 226.9 342.3 226 343.8 224.4 344.9 222.7 345.6 221 346.4 218.5 347 216 347.8 210.1 348.2 202.5 348.3 191.6 347.6 160.4 344.8 82.1 344 53.5 343.9 32.5 344.2 24.9 344.8 19 345.7 14 347 10.6 348.5 8.1 350.1 6.5 351.2 5.6 354.3 4 356.8 3.2 360.2 2.4 365.5 1.6 374.1 0.8M21.4 0.2 49.8 -0.2 86 -0.1 111 0.3 124.4 1 132 1.8 136.8 2.6 139.9 3.4 143.9 5 145.2 5.8 147 7.5 148.3 9.2 149.5 11.7 150.4 14.2 150.9 16.7 151.8 24.3 152.2 34.4 152.1 47.8 151.7 66.3 148.6 155.6 147.8 186.7 147.8 198.5 148.1 207.8 148.8 214.5 149.9 219.5 150.9 222.1 151.8 223.7 153.1 225.4 155.1 227.1 158.2 228.7 160.6 229.5 164.1 230.3 169.3 231.1 177.8 231.8 193.1 232.5 221.3 232.9 257.5 232.8 282.8 232.4 296.4 231.7 304.1 230.9 308.8 230.2 312 229.4 314.3 228.5 317.3 226.9 319.2 225.2 320.4 223.6 321.3 221.9 322.3 219.4 323.4 213.5 324.1 205.9 324.3 195 324.2 181.5 323.8 163.8 320.8 79.7 320 50.2 319.9 38.4 320.1 29.1 320.4 22.4 321.2 16.5 321.8 14 322.6 11.5 323.4 9.8 324.5 8.2 326.1 6.5 327.2 5.7 330.3 4 332.7 3.2 336.1 2.4 341.3 1.6 349.7 0.9 364.9 0.2M24.5 -0.2 60.8 -0.2 86.4 0.3 100.1 1 107.9 1.7 112.7 2.5 115.9 3.3 119.9 5 122.2 6.6 123.8 8.3 124.8 10 125.9 12.5 127.1 17.5 127.9 25.1 128.2 35.2 128.2 48.6 127.8 67.2 124.6 155.6 123.9 186.7 123.9 198.5 124.2 207.7 124.9 214.5 126 219.5 126.9 222 127.8 223.7 129.1 225.4 131.1 227 134.2 228.7 136.6 229.5 140 230.3 145.1 231.1 153.4 231.8 168.4 232.5 195.9 232.9 232.3 232.9 258.1 232.4 272.1 231.7 279.9 231 284.7 230.2 288 229.4 292 227.8 294.3 226.1 295.9 224.4 296.9 222.8 298 220.2 299.3 215.2 300.1 207.6 300.4 197.5 300.3 184.1 299.9 165.6 296.8 77.2 296 46 296 34.2 296.3 25 297 18.2 298.1 13.2 299 10.7 300 9 301.3 7.4 303.2 5.7 306.3 4 308.7 3.2 312 2.4 317.1 1.6 325.3 0.9 340.1 0.2 367.4 -0.2M35.6 -0.2 61.7 0.3 75.8 1 83.7 1.7 88.6 2.5 91.8 3.3 94.1 4.1 97.2 5.8 99.1 7.4 100.4 9.1 101.3 10.8 102.2 13.3 103.3 18.3 104 25 104.3 34.3 104.3 46.9 103.5 77.2 100.4 164.8 100 182.5 99.9 195.9 100.1 206 100.8 213.6 101.8 218.6 102.6 221.1 103.4 222.8 105.2 225.3 107.1 227 108.4 227.8 112.5 229.5 115.9 230.3 120.9 231 129 231.8 143.7 232.4 170.6 232.9 207 232.9 233.4 232.4 247.7 231.8 255.7 231 260.6 230.2 263.9 229.4 268 227.8 269.3 227 271.2 225.3 272.5 223.6 273.4 222 274.8 217.8 275.8 211 276.3 202.6 276.4 190 275.7 158 272.5 64.6 272.1 46.9 272.1 33.4 272.5 23.3 272.9 19.1 273.5 15.8 274.1 13.2 275.1 10.7 276 9.1 277.3 7.4 279.2 5.7 280.5 4.9 284.6 3.3 287.9 2.5 292.9 1.7 301 0.9 315.4 0.3 342.1 -0.2 378.5 -0.2M37 0.3 51.4 0.9 59.5 1.7 64.5 2.5 67.8 3.3 70.1 4.1 73.2 5.7 74.3 6.6 75.8 8.2 76.9 9.9 77.7 11.6 78.5 14.1 79.1 16.6 79.8 22.5 80.2 29.2 80.4 38.5 80.3 50.3 79.5 79.7 76.5 163.9 76.1 181.6 75.9 195.1 76.2 206 76.8 213.6 77.4 216.9 78.1 219.4 79 222 79.9 223.6 81.2 225.3 83.1 227 86.2 228.6 88.5 229.4 91.8 230.2 96.7 231 104.7 231.8 119 232.4 145.4 232.9 181.8 232.9 208.7 232.4 223.4 231.8 231.5 231 236.5 230.3 239.9 229.5 242.2 228.6 245.3 227 247.2 225.3 248.5 223.7 249.4 222 250.4 219.5 251.5 214.4 252.2 207.7 252.5 198.5 252.5 186.7 251.7 155.5 248.6 66.3 248.1 47.8 248.1 34.3 248.5 24.2 249.4 16.6 249.9 14.1 250.8 11.6 252 9.1 253.3 7.4 255.2 5.8 256.5 4.9 260.6 3.3 263.8 2.5 268.7 1.7 276.6 1 290.7 0.3 316.8 -0.2 353.2 -0.2 380.5 0.2M27.1 0.9 35.3 1.6 40.4 2.4 43.7 3.2 46.1 4 49.2 5.7 50.3 6.5 51.9 8.2 53.4 10.7 54.8 14.9 55.6 19.9 56.1 25.8 56.4 33.4 56.3 54.4 55.5 82.2 52.7 160.5 52 190.8 52.1 201.8 52.5 210.2 53.3 216 53.9 218.6 54.7 221.1 55.5 222.8 56.5 224.4 58.1 226.1 59.1 226.9 62.1 228.6 64.4 229.4 67.7 230.2 72.5 231 80.3 231.7 94.3 232.4 120.1 232.9 156.5 232.9 184 232.5 199 231.8 207.3 231.1 212.4 230.3 215.8 229.5 220 227.8 221.3 227 223.3 225.4 224.6 223.7 225.5 222 226.9 217.8 228 211.1 228.5 202.7 228.6 190.1 227.8 158.1 224.5 63.8 224.2 45.3 224.2 31.8 224.7 21.7 225.8 15 226.5 12.5 227.6 10 228.6 8.3 230.2 6.6 232.5 5 234.2 4.1 236.5 3.3 239.7 2.5 244.5 1.7 252.3 1 266 0.3 291.6 -0.2 327.9 -0.2 355.8 0.2 370.9 0.9 379.3 1.6 384.5 2.4 387.9 3.2M22.1 4 23.9 4.8 26.3 6.5 27.9 8.2 29.4 10.7 30.4 13.2 31.2 16.5 31.8 20.7 32.1 24.9 32.5 37.6 32.3 56.9 28.6 165.5 28.1 185.7 28.1 200 28.4 206.8 28.8 211.8 29.4 216 30.1 219.4 31.1 221.9 32.6 224.4 34.1 226.1 36.4 227.7 40.4 229.4 43.6 230.2 48.4 230.9 56 231.7 69.6 232.4 94.9 232.8 131.1 232.9 159.3 232.5 174.6 231.8 183.1 231.1 188.3 230.3 191.8 229.5 196 227.9 198.4 226.2 200 224.6 201.1 222.9 202.2 220.4 203 217.9 204 211.1 204.6 201 204.6 187.6 204.2 169.1 200.9 74.8 200.2 42.8 200.3 31 200.8 21.7 201.8 15 203.2 10.8 204.1 9.2 205.4 7.5 207.2 5.8 208.5 5 212.5 3.4 215.7 2.6 220.4 1.8 228 1 241.4 0.3 266.4 -0.1 302.6 -0.2 331 0.2 346.5 0.8 355.1 1.6 360.4 2.4 363.8 3.2 366.3 4 369.5 5.6 370.5 6.5 372.1 8.1 373.2 9.8 374.3 12.3 375.6 17.3 376.3 23.2 376.7 31.6 376.8 43.4 376 74.6 372.6 173.1 372.3 194.1 372.7 207.6 373.2 213.5 374 217.7 375 221 376.2 223.5 378.3 226 380.6 227.7 384.6 229.3 387.7 230.1M24.2 230.9 31.7 231.7 44.9 232.3 69.6 232.8 105.8 232.9 134.5 232.5 150.2 231.9 158.9 231.1 164.2 230.3 167.7 229.5 170.2 228.7 172 227.9 174.4 226.3 176 224.6 177.1 222.9 177.9 221.2 178.8 218.7 179.9 212.9 180.5 203.6 180.7 191 180.4 174.1 178.3 112.7"/><path stroke="#77AC30" d="M203.5 194.9 203.1 167.2 199.7 72 199.3 53.5 199.1 39.2 199.4 26.6 200.1 18.2 200.8 14.8 201.5 12.3 202.6 9.8 203.7 8.1 205.4 6.4 207.8 4.8 212.1 3.1 215.6 2.3 220.9 1.6 229.7 0.8 245.6 0.2 274.4 -0.2 310.6 -0.1 335.1 0.4 348.2 1 355.7 1.8 360.3 2.6 363.5 3.4 367.4 5 369.7 6.7 371.8 9.2 373.3 12.5 374.2 15.9 374.9 20.1 375.4 26 375.7 40.3 375.3 61.3 372.1 153.9 371.3 181.7 371.3 201.1 371.6 207.8 372 212.8 372.7 217 373.6 220.4 374.8 222.9 376.6 225.4 378.6 227.1 381.7 228.7 384.2 229.5 387.7 230.3M24.7 231.1 33.4 231.9 49.1 232.5 77.7 232.9 113.8 232.8 138.6 232.4 152 231.7 159.5 230.9 164.2 230.1 167.3 229.3 169.6 228.5 171.3 227.7 173.6 226 175.1 224.4 176.2 222.7 177.2 220.2 178 217.7 179 210.9 179.5 200.9 179.6 187.4 179.2 168.9 175.9 74.6 175.2 42.6 175.3 30 175.8 21.5 176.8 14.8 178.3 10.6 179.2 9 180.5 7.3 182.5 5.6 183.8 4.8 188.1 3.2 191.5 2.4 196.7 1.6 205.3 0.9 220.8 0.2 249.1 -0.2 285.3 -0.1 310.4 0.3 323.9 1 331.5 1.8 336.2 2.5 339.4 3.4 341.7 4.2 344.7 5.8 345.7 6.6 347.2 8.3 348.3 10 349.1 11.7 349.9 14.2 350.4 16.7 351.2 22.6 351.6 31 351.7 41.9 351.1 72.2 348.3 150.5 347.5 178.3 347.3 199.4 347.6 206.9 348.1 212.8 349 217.9 350.4 222 351.9 224.6 353.5 226.2 354.6 227 357.7 228.7 360.1 229.5 363.6 230.3 368.7 231.1 377.2 231.8M24.3 232.5 52.3 232.9 88.6 232.8 114 232.4 127.6 231.7 135.3 231 140.1 230.2 143.3 229.4 147.3 227.7 148.6 226.9 150.5 225.2 151.7 223.6 153 221.1 153.8 218.5 154.4 216 155.2 208.5 155.6 198.4 155.6 184.9 155.2 166.4 152 77.1 151.2 46 151.2 34.2 151.6 24.9 152.2 18.2 153.3 13.2 154.3 10.7 155.2 9 156.5 7.3 158.5 5.7 161.6 4 164 3.2 167.4 2.4 172.5 1.6 180.9 0.9 196 0.2 223.8 -0.2 260.1 -0.2 285.8 0.3 299.6 1 307.3 1.7 312.1 2.5 315.4 3.3 317.7 4.1 320.7 5.8 322.6 7.4 323.8 9.1 324.7 10.8 325.7 13.3 326.9 19.2 327.5 26.7 327.8 37.7 327.7 51.2 327.2 68.8 324.2 153 323.4 182.5 323.3 194.3 323.5 203.5 323.9 210.3 324.7 216.1 325.2 218.7 326.1 221.2 326.8 222.9 327.9 224.5 329.5 226.2 330.6 227 333.7 228.7 336.1 229.5 339.5 230.3 344.5 231.1 352.8 231.8 367.8 232.5M27 232.9 63.4 232.9 89.3 232.4 103.3 231.7 111.1 231 116 230.2 119.2 229.4 123.3 227.8 125.6 226.1 127.2 224.4 128.2 222.8 129.3 220.3 130.6 215.2 131.4 207.6 131.7 197.6 131.6 184.1 131.2 165.6 128.1 77.2 127.3 46 127.3 34.2 127.6 25 128.3 18.3 129.4 13.2 130.3 10.7 131.3 9 132.6 7.4 134.5 5.7 137.6 4.1 140 3.2 143.3 2.4 148.4 1.7 156.6 0.9 171.3 0.3 198.5 -0.2 234.9 -0.2 261.1 0.3 275.2 1 283.2 1.7 288.1 2.5 291.3 3.3 295.4 4.9 297.8 6.6 299.3 8.2 300.4 9.9 301.5 12.4 302.7 17.5 303.5 25 303.8 35.1 303.8 48.6 303.3 67.1 300.2 155.5 299.4 186.7 299.4 198.5 299.8 207.7 300.4 214.4 301.5 219.5 302.5 222 303.4 223.7 304.7 225.3 306.6 227 309.7 228.6 312 229.4 315.4 230.3 320.4 231 328.5 231.8 343 232.4 369.9 232.9M38.1 232.9 64.6 232.4 78.9 231.8 87 231 91.9 230.2 95.2 229.4 97.5 228.6 100.6 227 102.5 225.3 103.8 223.6 104.7 222 105.7 219.4 106.7 214.4 107.4 207.7 107.7 198.4 107.7 186.6 106.9 155.5 103.8 67.1 103.4 48.6 103.3 35.1 103.7 25 104.5 17.4 105.7 12.4 106.8 9.9 107.9 8.2 109.4 6.6 111.8 4.9 115.9 3.3 119.2 2.5 124.2 1.7 132.2 0.9 146.6 0.3 173.2 -0.2 209.6 -0.2 236.4 0.3 250.9 0.9 259 1.7 264 2.5 267.3 3.3 269.6 4.1 272.7 5.7 274.6 7.4 275.9 9.1 276.8 10.7 277.8 13.2 278.9 18.3 279.5 25 279.9 34.3 279.9 46 279.1 77.2 276 165.6 275.5 184.1 275.5 197.6 275.8 207.7 276.6 215.2 277.8 220.3 278.9 222.8 280 224.5 281.5 226.1 283.9 227.8 288 229.4 291.3 230.2 296.2 231 304.1 231.8 318.3 232.4 344.7 232.9 381 232.9M39.9 232.4 54.6 231.8 62.8 231 67.8 230.3 71.1 229.5 73.5 228.6 76.6 227 77.7 226.2 79.2 224.5 80.3 222.8 81.1 221.2 81.9 218.6 82.5 216.1 83.3 210.2 83.7 203.5 83.8 194.3 83.7 182.5 82.9 153 79.9 68.8 79.5 51.1 79.4 37.7 79.6 26.7 80.3 19.2 81.5 13.3 82.4 10.8 83.3 9.1 84.6 7.4 86.5 5.8 89.5 4.1 91.9 3.3 95.1 2.5 100 1.7 107.9 1 121.9 0.3 147.9 -0.2 184.3 -0.2 211.7 0.2 226.5 0.9 234.8 1.6 239.9 2.4 243.2 3.2 245.6 4 248.7 5.7 250.7 7.3 252 9 252.9 10.7 253.8 13.2 254.9 18.2 255.6 25 255.9 34.2 255.9 46 255.1 77.2 252 166.4 251.6 184.9 251.5 198.4 251.9 208.5 252.8 216 253.4 218.6 254.2 221.1 255.5 223.6 256.7 225.3 258.6 226.9 259.9 227.7 263.9 229.4 267.2 230.2 272 231 279.8 231.7 293.7 232.4 319.4 232.9 355.7 232.9 383.4 232.5M30.2 231.8 38.6 231.1 43.7 230.3 47.1 229.5 49.5 228.7 52.6 227 53.7 226.2 55.3 224.5 56.8 222 58.2 217.8 59.1 212.8 59.6 206.9 59.8 199.3 59.7 178.3 58.9 150.5 56.1 72.2 55.4 41.9 55.5 31 56 22.6 56.7 16.7 57.3 14.2 58.1 11.6 58.9 10 59.9 8.3 61.5 6.6 62.5 5.8 65.5 4.1 67.8 3.3 71 2.5 75.8 1.7 83.5 1 97.2 0.3 122.7 -0.2 159 -0.2 186.9 0.2 202.1 0.9 210.6 1.6 215.8 2.4 219.2 3.2 223.4 4.8 224.7 5.7 226.7 7.3 228 9 228.9 10.7 230.3 14.9 231.4 21.6 231.9 30 232 42.6 231.3 74.6 228 168.9 227.6 187.4 227.6 200.9 228.2 211 229.2 217.7 229.9 220.2 231 222.7 232.1 224.4 233.6 226.1 235.9 227.7 237.6 228.5 239.9 229.4 243.1 230.2 247.8 230.9 255.5 231.7 269 232.4 294.2 232.8 330.4 232.9 358.7 232.5 374.1 231.8 382.6 231.1 387.8 230.3M23 229.5 25.5 228.7 28.6 227.1 30.6 225.4 32.4 222.9 33.8 219.5 34.6 216.2 35.2 212 35.7 206.1 35.9 192.6 35.6 172.4 32.2 74.8 31.5 44.5 31.6 32.7 31.9 24.3 32.6 17.5 33.8 12.5 34.9 10 36 8.3 37.5 6.7 38.5 5.8 41.5 4.2 43.8 3.4 46.9 2.6 51.6 1.8 59.2 1 72.6 0.3 97.4 -0.1 133.7 -0.2 162.2 0.2 177.8 0.8 186.4 1.6 191.6 2.4 195.1 3.2 199.4 4.8 200.7 5.6 202.7 7.3 204 9 205 10.6 206.4 14.8 207.4 21.5 207.9 29.9 208.1 42.6 207.3 74.6 204 168.9 203.7 187.4 203.7 200.8 204.2 210.9 205.3 217.7 206 220.2 207.1 222.7 208.1 224.4 209.6 226 211.9 227.7 215.8 229.3 219 230.1 223.7 230.9 231.1 231.7 244.3 232.3 268.9 232.8 305.1 232.9 333.9 232.5 349.7 231.9 358.4 231.1 363.7 230.4 367.2 229.6 369.7 228.7 372.9 227.1 374.8 225.4 376.2 223.8 377.5 221.3 378.3 218.7 379 215.4 379.6 211.2 380.2 199.4 380.1 185.1 379.7 165.7 376 56.3 375.8 36.9 376.2 24.3 376.5 20.1 377.2 15.9 378.1 12.5 379.2 10 380.9 7.5 382.8 5.9 385.7 4.2 387.9 3.4M22.8 2.6 27.5 1.8 34.9 1 47.9 0.4 72.2 -0.1 108.3 -0.2 137.4 0.2 153.4 0.8 162.2 1.5 167.5 2.3 171.1 3.1 173.5 3.9 175.4 4.8 177.9 6.4 179.5 8.1 180.6 9.8 181.7 12.3 182.4 14.8 183.5 21.5 184.1 31.6 184.1 45.1 183.7 63.6 180.4 157.9 179.7 189.9 179.8 201.7 180.3 210.9 181.3 217.6 182.7 221.8 183.6 223.5 184.8 225.2 186.7 226.8 187.9 227.6 191.8 229.3 194.9 230.1 199.5 230.9 206.8 231.6 219.7 232.3 243.8 232.8 279.7 232.9 309.1 232.5 325.3 231.9 334.2 231.2 339.6 230.4 343.1 229.6 345.6 228.8 348.9 227.1 350 226.3 351.6 224.6 352.7 223 353.5 221.3 354.4 218.8 354.9 216.3 355.7 210.4 356.2 202 356.3 191 355.6 160.7 352.8 82.4 352 54.6 351.9 33.6 352.1 26 352.6 20.1 353.4 15.1 354.8 10.9 356.3 8.4 357.8 6.7 358.8 5.9 361.7 4.2 363.9 3.4 367 2.6 371.5 1.8 378.8 1.1M23.3 0.4 47.1 -0.1 83 -0.2 112.6 0.2 129 0.8 138 1.5 143.4 2.3 147 3.1 151.4 4.7 152.8 5.6 154.8 7.2 156.1 8.9 157 10.6 158 13.1 158.7 15.6 159.3 19 159.7 23.2 160.1 33.2 160.1 46.7 159.8 64.4 156.5 157.8 155.8 189.8 155.8 201.6 156.3 210.9 157.4 217.6 158.7 221.8 159.6 223.5 160.8 225.1 162.7 226.8 163.9 227.6 167.8 229.3 170.8 230.1 175.3 230.9 182.5 231.6 195.1 232.3 218.6 232.8 254.4 232.9 284.3 232.6 300.9 231.9 310 231.2 315.5 230.4 319.1 229.6 321.6 228.8 324.9 227.2 326 226.3 327.6 224.7 329.2 222.2 330.6 218 331.6 212.1 332.2 203.7 332.3 192.7 331.7 161.6 328.8 80.8 328 52.1 327.9 39.5 328 30.3 328.3 23.5 329 17.6 330.2 12.6 331.7 9.3 333.8 6.8 336 5.1 337.7 4.3 339.8 3.5 342.9 2.7 347.4 1.9 354.5 1.1 366.9 0.4M21.9 -0.1 57.6 -0.2 87.8 0.1 104.6 0.8 113.8 1.5 119.3 2.3 123 3.1 125.5 3.9 127.4 4.7 128.8 5.5 130.8 7.2 132.1 8.9 133.1 10.5 134.1 13 134.7 15.6 135.3 18.9 135.8 23.1 136.2 33.2 136.2 46.7 135.8 65.2 132.6 157.8 131.8 189.8 131.9 201.6 132.4 210.8 133.4 217.6 134.8 221.8 135.6 223.4 136.9 225.1 138.7 226.8 139.9 227.6 143.7 229.2 146.7 230 151.2 230.8 158.2 231.6 170.5 232.3 193.4 232.8 229 232.9 259.4 232.6 276.5 232 285.8 231.2 291.4 230.4 295 229.6 297.6 228.8 299.5 228 302 226.4 303.6 224.7 304.8 223 305.6 221.4 306.5 218.8 307.6 213 308.2 205.4 308.4 195.3 308.3 181.8 307.8 164.1 304.8 78.3 304 48 304 35.3 304.2 26.1 304.8 19.4 305.8 14.3 306.5 11.8 307.3 10.1 308.3 8.5 309.8 6.8 312 5.1 313.7 4.3 315.8 3.5 318.8 2.7 323.2 1.9 330.2 1.1 342.3 0.4 365 -0.1M32.2 -0.2 62.9 0.1 80.2 0.7 89.6 1.5 95.2 2.2 98.9 3 101.5 3.8 104.8 5.5 105.9 6.3 107.6 8 108.7 9.7 109.8 12.2 111.1 17.2 111.9 23.9 112.3 33.2 112.3 45 111.5 76.1 108.4 166.2 107.9 183.9 107.9 197.3 108.2 207.4 109 215 110.2 220 111.2 222.6 112.2 224.2 113.7 225.9 114.7 226.7 117.5 228.4 119.7 229.2 122.7 230 127 230.8 133.9 231.6 145.9 232.2 168.3 232.8 203.6 232.9 234.6 232.6 252 232 261.6 231.3 267.2 230.5 271 229.7 273.6 228.9 276.9 227.2 278 226.4 279.7 224.7 280.8 223.1 282 220.5 283.2 215.5 284 208.8 284.4 199.5 284.4 187.8 283.7 156.6 280.5 66.5 280.1 48.8 280 35.4 280.3 25.3 281.1 17.7 282.3 12.7 283.3 10.2 284.4 8.5 285.8 6.8 286.8 6 289.6 4.3 291.8 3.5 294.7 2.7 299 1.9 305.9 1.2 317.7 0.5 339.9 -0.1 375 -0.2M38.1 0.1 55.7 0.7 65.3 1.4 71.1 2.2 74.8 3 77.4 3.8 80.8 5.5 81.9 6.3 83.6 8 84.7 9.6 85.6 11.3 86.8 15.5 87.6 20.5 88.2 28.1 88.4 37.4 88.3 49.1 87.5 78.6 84.5 163.6 84 181.3 83.9 194.8 84.2 205.7 84.8 213.3 86 219.2 86.9 221.7 87.7 223.4 88.9 225 90.7 226.7 93.5 228.3 95.6 229.2 98.6 230 102.9 230.8 109.6 231.5 121.4 232.2 143.2 232.8 178.2 232.9 209.7 232.6 227.6 232 237.3 231.3 243.1 230.5 246.9 229.7 249.5 228.9 252.9 227.3 254 226.4 255.7 224.8 256.9 223.1 258 220.6 259.3 215.5 260.1 208.8 260.4 199.6 260.5 187.8 259.7 156.6 256.5 65.7 256.1 47.2 256.1 33.7 256.5 23.6 257.3 16.9 258.6 11.9 259.8 9.4 261.1 7.7 262.8 6 264.1 5.2 267.7 3.6 270.6 2.7 274.9 2 281.6 1.2 293.2 0.5 314.8 -0.1 349.6 -0.2 381.4 0.1M31.3 0.7 41.1 1.4 47 2.2 50.8 3 53.4 3.8 56.8 5.4 58 6.3 59.6 7.9 61.2 10.4 62.5 13.8 63.5 18.8 64.1 24.7 64.4 32.3 64.3 53.3 63.5 81.1 60.6 161.9 60 193.1 60.2 204 60.7 212.4 61.8 218.3 62.6 220.8 63.3 222.5 65 225 66.7 226.7 67.9 227.5 71.6 229.1 74.5 229.9 78.7 230.7 85.4 231.5 96.8 232.2 118.2 232.7 152.8 232.9 184.8 232.6 203.2 232 213.1 231.3 219 230.5 222.8 229.7 225.5 228.9 228.9 227.3 230.1 226.5 231.7 224.8 232.9 223.1 234.1 220.6 235.3 215.6 236.1 208.9 236.5 199.6 236.5 187.8 235.8 156.7 232.6 64.9 232.2 46.4 232.2 32.9 232.6 22.8 233.1 18.6 233.7 15.3 234.4 12.7 235.4 10.2 236.4 8.6 237.9 6.9 240.1 5.2 241.6 4.4 243.7 3.6 246.6 2.8 250.8 2 257.3 1.2 268.7 0.5 289.7 -0 324.2 -0.2 356.5 0.1 375 0.7 385.1 1.4M22.8 2.1 26.7 2.9 29.4 3.8 31.3 4.6 34 6.2 35.7 7.9 37.3 10.4 38.5 13.7 39.4 17.9 40.1 23.8 40.5 37.3 40.2 58.3 36.8 157.7 36.1 188 36.1 199.8 36.4 208.2 37 214.1 38 219.1 38.9 221.6 39.8 223.3 41.8 225.8 44 227.5 45.5 228.3 47.6 229.1 50.4 229.9 54.6 230.7 61.1 231.5 72.3 232.2 93.1 232.7 127.4 232.9 159.9 232.7 178.7 232.1 188.9 231.3 194.9 230.6 198.8 229.8 201.5 229 203.4 228.1 204.9 227.3 207 225.7 208.4 224 209.4 222.3 210.9 218.1 212 211.4 212.5 203 212.6 190.4 211.9 158.4 208.6 63.2 208.2 44.7 208.3 31.3 208.8 21.2 209.3 17.8 210 14.5 210.7 11.9 211.9 9.4 213.1 7.8 214.9 6.1 217.6 4.4 219.7 3.6 222.5 2.8 226.6 2 233.1 1.2 244.1 0.5 264.7 -0 298.8 -0.2 331.5 0 350.6 0.6 360.8 1.3 366.9 2.1 370.8 2.9 373.6 3.7 377 5.4 379.1 7 380.5 8.7 381.9 11.2 382.8 13.7 383.5 17.1 384.1 21.3 384.7 33.1 384.7 47.4 384.2 67.6 380.6 174.5 380.3 193 380.5 205.6 381.3 214 381.9 217.4 382.6 219.9 383.6 222.4 384.6 224.1 386 225.8 388.2 227.4M21.5 228.2 23.5 229.1 26.3 229.9 30.4 230.7 36.8 231.4 47.8 232.1 68.1 232.7 102 232.9 134.9 232.7 154.2 232.1 164.6 231.4 170.8 230.6 174.7 229.8 177.4 229 179.4 228.2 182.1 226.5 183.8 224.9 185 223.2 186.1 220.7 186.9 218.2 187.6 214.8 188.4 206.4 188.7 194.6 188.5 181.1 188.1 161.8 184.6 60.8 184.2 42.2 184.4 28.8 185.1 19.5 185.6 16.2 186.5 12.8 187.5 10.3 188.5 8.6 189.9 7 192.1 5.3 195.6 3.7 198.4 2.8 202.5 2 208.8 1.3 219.6 0.6 239.7 -0 273.4 -0.2 306.6 0 326.1 0.6 336.6 1.3 342.8 2.1 346.8 2.9 349.5 3.7 351.5 4.5 354.2 6.2 356.6 8.7 358.3 12 359.6 17 360.3 22.9 360.7 30.5 360.8 41.4"/><path stroke="#0072BD" d="M23 194.9 23.1 204.2 23.7 211.8 24.6 217.6 26 221.8 27.4 224.3 28.9 226 29.9 226.8 32.9 228.5 35.1 229.3 38.2 230.1 42.8 230.9 50.2 231.6 63.2 232.3 87.5 232.8 123.5 232.9 152.7 232.5 168.7 231.9 177.6 231.2 182.9 230.4 186.5 229.6 188.9 228.8 192.2 227.1 194.1 225.5 195.5 223.8 196.4 222.1 197.4 219.6 198.2 216.2 198.7 212.9 199.4 203.6 199.5 190.2 199.2 171.6 195.7 71.5 195.3 52.9 195.1 38.6 195.3 26.8 196.1 18.4 196.7 15.1 197.4 12.6 198.5 10.1 199.5 8.4 201 6.7 203.3 5.1 207.2 3.4 210.3 2.6 214.9 1.8 222.2 1.1 235 0.4 259 -0.1 294.9 -0.2 324.4 0.2 340.6 0.8 349.6 1.5 355 2.3 358.5 3.1 362.9 4.7 365.4 6.4 367 8.1 368.5 10.6 369.8 13.9 370.5 17.3 371.1 22.3 371.5 29.1 371.6 48.4 370.9 77 367.5 173.9 367.2 195.7 367.7 209.2 368.4 215.1 369.3 219.3 370.6 222.6 372.3 225.1 374.2 226.8 377.1 228.5 379.3 229.3 382.3 230.1 386.9 230.9M25.9 231.6 38.6 232.3 62.3 232.8 98.1 232.9 127.8 232.5 144.3 231.9 153.4 231.2 158.8 230.4 162.4 229.6 164.9 228.8 166.8 228 168.2 227.1 170.2 225.5 171.5 223.8 172.5 222.1 173.4 219.6 174.1 217.1 174.7 213.8 175.1 209.6 175.6 199.5 175.5 186 175.1 167.5 171.9 74.9 171.2 42.9 171.3 31.1 171.8 21.8 172.8 15.1 174.1 10.9 175 9.2 176.2 7.6 178.1 5.9 179.3 5.1 183.2 3.4 186.2 2.6 190.7 1.9 197.9 1.1 210.4 0.4 233.8 -0.1 269.5 -0.2 299.5 0.1 316.2 0.8 325.4 1.5 330.9 2.3 334.5 3.1 337 3.9 340.3 5.5 341.4 6.4 343 8 344.6 10.5 346 14.7 347 20.6 347.6 29 347.7 40 347.1 71.1 344.2 151.9 343.4 180.6 343.3 193.2 343.4 202.4 343.7 209.2 344.4 215.1 345.6 220.1 347.1 223.4 349.2 225.9 351.4 227.6 353.1 228.4 355.2 229.2 358.3 230 362.7 230.8 369.8 231.6 382.2 232.3M37.1 232.8 72.8 232.9 103 232.6 119.9 231.9 129.1 231.2 134.7 230.4 138.3 229.6 140.9 228.8 142.8 228 144.2 227.2 146.2 225.5 147.5 223.9 148.5 222.2 149.5 219.7 150.1 217.1 150.7 213.8 151.2 209.6 151.6 199.5 151.6 186 151.2 167.5 148 74.9 147.2 42.9 147.3 31.1 147.8 21.9 148.8 15.1 150.2 11 151.1 9.3 152.3 7.6 154.1 5.9 155.3 5.1 159.1 3.5 162.1 2.7 166.5 1.9 173.6 1.1 185.8 0.4 208.7 -0.1 244.2 -0.2 274.7 0.1 291.8 0.7 301.1 1.5 306.7 2.2 310.4 3 313 3.9 314.9 4.7 317.4 6.3 319.1 8 320.2 9.7 321 11.3 321.9 13.9 323 19.7 323.6 27.3 323.8 37.4 323.7 50.9 323.2 68.5 320.2 154.4 319.4 184.7 319.4 197.4 319.6 206.6 320.2 213.3 321.2 218.4 322 220.9 322.7 222.6 323.7 224.2 325.2 225.9 327.4 227.6 329.1 228.4 331.2 229.2 334.2 230 338.6 230.8 345.5 231.6 357.6 232.3 380.2 232.8M47.4 232.9 78.2 232.6 95.5 232 104.9 231.2 110.6 230.5 114.3 229.7 116.9 228.9 120.2 227.2 121.3 226.4 123 224.7 124.1 223 125.2 220.5 126.5 215.5 127.3 208.8 127.7 199.5 127.7 187.7 126.9 156.6 123.8 66.5 123.4 48.8 123.3 35.4 123.6 25.3 124.4 17.7 125.6 12.7 126.6 10.1 127.6 8.5 129.1 6.8 130.1 6 132.9 4.3 135.1 3.5 138 2.7 142.4 1.9 149.3 1.2 161.2 0.5 183.5 -0.1 218.8 -0.2 249.8 0.1 267.4 0.7 276.9 1.4 282.6 2.2 286.4 3 288.9 3.8 290.9 4.6 293.4 6.3 295.1 8 296.2 9.6 297 11.3 297.9 13.8 299 19.7 299.6 27.3 299.8 37.4 299.7 50.8 299.3 68.5 296.3 154.4 295.5 184.7 295.4 197.3 295.7 206.6 296.3 213.3 297.2 218.3 298 220.9 298.7 222.5 299.8 224.2 301.2 225.9 303.4 227.5 305 228.4 307.2 229.2 310.1 230 314.4 230.8 321.2 231.5 333.1 232.2 355.1 232.8M22 232.9 53.3 232.6 71 232 80.7 231.3 86.5 230.5 90.2 229.7 92.8 228.9 96.2 227.2 97.3 226.4 99 224.8 100.1 223.1 101.3 220.6 102.6 215.5 103.3 208.8 103.7 199.6 103.7 187.8 103 156.6 99.8 66.5 99.4 48.9 99.4 35.4 99.7 25.3 100.4 17.7 101.6 12.7 102.7 10.2 103.7 8.5 105.1 6.8 106.1 6 108.9 4.4 111 3.5 114 2.7 118.2 1.9 125 1.2 136.7 0.5 158.5 -0.1 193.4 -0.2 225 0.1 242.9 0.7 252.7 1.4 258.5 2.2 262.3 3 264.9 3.8 268.3 5.4 269.5 6.3 271.1 7.9 272.3 9.6 273.4 12.1 274.7 17.2 275.5 23.9 275.9 33.1 275.9 44.9 275.1 76.1 272 166.1 271.5 183.8 271.5 197.3 271.8 207.4 272.6 215 273.7 220 274.8 222.5 275.8 224.2 277.3 225.8 278.2 226.7 281 228.3 283.1 229.1 286 229.9 290.3 230.7 297 231.5 308.5 232.2 330 232.8 364.8 232.9M28.4 232.6 46.6 232 56.5 231.3 62.3 230.5 66.2 229.7 68.8 228.9 72.2 227.3 73.4 226.4 75 224.8 76.2 223.1 77 221.4 78.3 217.2 79.1 212.2 79.6 204.6 79.8 195.4 79.7 183.6 79 154.1 76 69.1 75.5 51.4 75.4 38 75.6 27 76.3 19.4 77.4 13.6 78.3 11.1 79.2 9.4 80.4 7.7 82.1 6 84.9 4.4 87 3.6 89.9 2.8 94.1 2 100.7 1.2 112.1 0.5 133.4 -0 168 -0.2 200.1 0.1 218.5 0.7 228.5 1.4 234.4 2.2 238.2 3 240.9 3.8 244.3 5.4 245.5 6.2 247.1 7.9 248.3 9.6 249.5 12.1 250.8 17.1 251.5 23.8 251.9 33.1 251.9 44.9 251.2 76 248 167 247.6 185.5 247.6 198.9 248 209 248.8 215.8 250.1 220.8 251.3 223.3 252.5 225 254.2 226.6 255.5 227.5 259.1 229.1 261.9 229.9 266.1 230.7 272.7 231.5 284 232.2 305 232.7 339.4 232.9 371.7 232.6M22.1 232.1 32.2 231.3 38.2 230.6 42.1 229.8 44.8 229 46.7 228.1 48.2 227.3 50.3 225.6 52.2 223.1 53 221.5 53.9 219 54.9 213.9 55.5 208 55.8 200.5 55.7 179.4 54.9 150.8 52.1 71.7 51.5 41.4 51.6 30.4 52 22.8 52.7 17 54 11.9 55.8 8.6 57.2 6.9 58.1 6.1 60.9 4.4 63 3.6 65.8 2.8 70 2 76.4 1.2 87.6 0.5 108.3 -0 142.6 -0.2 175.1 0 194 0.6 204.2 1.4 210.3 2.1 214.2 2.9 216.9 3.7 218.8 4.5 220.3 5.4 222.4 7 223.8 8.7 224.8 10.4 226.3 14.6 227.4 21.3 227.9 29.7 228 42.3 227.3 74.3 224 169.4 223.6 188 223.7 201.4 224.2 211.5 224.7 214.9 225.4 218.2 226.1 220.8 227.3 223.3 228.5 224.9 230.3 226.6 233 228.3 235.1 229.1 237.9 229.9 242 230.7 248.4 231.4 259.4 232.2 279.9 232.7 314 232.9 346.8 232.7 365.9 232.1 376.2 231.4 382.3 230.6 386.2 229.8 388.9 229M22.7 228.2 24.2 227.3 26.3 225.7 27.7 224 29.1 221.5 30 219 30.7 215.6 31.6 207.2 31.9 194.6 31.7 175.2 28 67.5 27.6 47.3 27.6 33 28.2 21.2 28.7 17 29.5 13.6 30.4 11.1 31.8 8.6 33.2 6.9 35.4 5.3 38.9 3.6 41.7 2.8 45.8 2 52.2 1.3 63.1 0.6 83.3 -0 117.1 -0.2 150.2 0 169.5 0.6 180 1.3 186.1 2.1 190.1 2.9 192.8 3.7 196.3 5.3 198.4 7 199.8 8.7 200.8 10.3 201.8 12.9 202.5 15.4 203.1 18.7 203.6 22.9 204 33 204 46.5 203.6 65 200.4 156.8 199.7 187.9 199.7 199.7 200.1 209 200.9 215.7 202.2 220.7 203.4 223.2 204.6 224.9 206.3 226.6 207.5 227.4 211 229 213.8 229.9 217.9 230.6 224.2 231.4 234.9 232.1 254.9 232.7 288.5 232.9 321.8 232.7 341.4 232.1 352 231.4 358.2 230.6 362.2 229.8 364.9 229 368.4 227.4 369.6 226.5 371.3 224.9 372.5 223.2 373.3 221.5 374.2 219 374.8 216.5 375.6 210.6 376.1 202.2 376.2 190.4 375.5 159.3 372.1 59.1 371.8 38.9 372.1 25.4 372.6 19.5 373.3 15.3 374.3 12 375.5 9.5 377.4 7 379.6 5.3 383.1 3.7 385.9 2.9M21.7 2.1 27.9 1.3 38.6 0.6 58.3 0 91.7 -0.2 125.2 0 145 0.6 155.7 1.3 162 2.1 166 2.9 168.8 3.7 170.8 4.5 172.3 5.3 174.5 7 175.9 8.6 176.9 10.3 177.9 12.8 178.6 15.3 179.2 18.7 179.6 22.9 180.1 33 180.1 46.5 179.7 65 176.5 156.8 175.7 187.9 175.8 199.7 176.1 208.9 176.9 215.7 178.2 220.7 179.4 223.2 180.6 224.9 182.3 226.5 183.5 227.4 187 229 189.7 229.8 193.7 230.6 199.9 231.4 210.4 232.1 229.9 232.7 263.1 232.9 296.8 232.7 316.9 232.1 327.7 231.4 334 230.7 338.1 229.9 340.9 229 344.4 227.4 345.6 226.6 347.4 224.9 349 222.4 350.5 218.2 351.5 212.3 352.1 203.9 352.3 193 351.7 161.8 348.8 81 348 52.4 347.8 39.8 347.9 30.5 348.3 23.8 348.9 17.9 350.1 12.9 351.5 9.5 353.5 7 355.6 5.3 357.1 4.5 359.1 3.7 361.8 2.9 365.8 2.1 371.9 1.3 382.3 0.6M33.4 0 66.3 -0.2 100.2 -0 120.5 0.6 131.5 1.3 137.9 2 142 2.8 144.8 3.6 148.3 5.3 149.5 6.1 151.3 7.8 152.5 9.4 153.6 12 155 17 155.8 23.7 156.2 33.8 156.1 47.3 155.7 65.8 152.5 156.7 151.8 187.9 151.8 199.6 152.2 208.9 153 215.6 154.3 220.7 155.4 223.2 156.6 224.8 158.3 226.5 159.5 227.3 163 229 165.7 229.8 169.6 230.6 175.7 231.4 185.9 232.1 205 232.7 237.7 232.9 271.8 232.7 292.4 232.2 303.4 231.5 309.9 230.7 314 229.9 316.9 229.1 318.9 228.3 321.7 226.6 323.4 224.9 324.6 223.3 325.4 221.6 326.3 219.1 327.5 213.2 328.1 205.6 328.3 194.7 328.2 181.2 327.8 163.6 324.8 78.5 324 49.1 323.9 37.3 324.1 28 324.6 20.5 325.4 15.4 326.1 12.9 327.1 10.4 328.1 8.7 329.5 7 331.6 5.4 333.1 4.6 335 3.7 337.7 2.9 341.6 2.1 347.6 1.4 357.8 0.6 376.6 0M40.9 -0.2 75.2 -0 96 0.5 107.2 1.2 113.7 2 117.9 2.8 120.7 3.6 122.8 4.4 125.6 6.1 126.5 6.9 128 8.6 129 10.2 130 12.8 131.2 17.8 131.9 25.4 132.2 35.5 132.2 48.9 131.8 66.6 128.6 156.7 127.8 187.8 127.9 199.6 128.2 208.9 129 215.6 130.3 220.6 131.5 223.1 132.6 224.8 134.3 226.5 135.5 227.3 138.9 228.9 141.6 229.8 145.5 230.6 151.4 231.3 161.5 232 180 232.6 212.3 232.9 246.8 232.7 267.9 232.2 279.2 231.5 285.8 230.7 289.9 229.9 292.8 229.1 294.9 228.3 297.7 226.6 298.6 225.8 300.1 224.1 301.1 222.5 302.1 220 303.3 214.9 304.1 207.4 304.4 197.3 304.3 183.8 303.9 166.1 300.7 76 300 44.9 300 33.1 300.4 23.8 301.2 17.1 302.5 12.1 303.6 9.6 304.8 7.9 306.4 6.2 307.6 5.4 311 3.8 313.7 3 317.5 2.2 323.4 1.4 333.4 0.7 351.7 0.1 383.7 -0.2M50.1 -0 71.5 0.5 82.9 1.2 89.6 2 93.8 2.8 96.7 3.6 98.8 4.4 100.4 5.2 102.5 6.9 104 8.5 105 10.2 105.7 11.9 106.5 14.4 107.5 19.4 108 26.2 108.3 35.4 108.2 48 107.5 78.4 104.4 164.2 104 181.9 103.9 195.4 104.1 205.5 104.7 213 105.8 218.9 106.7 221.4 107.5 223.1 108.7 224.8 110.3 226.4 113 228.1 114.9 228.9 117.5 229.7 121.3 230.5 127.2 231.3 137 232 155.1 232.6 186.9 232.9 221.7 232.8 243.3 232.2 254.9 231.5 261.6 230.7 265.9 230 268.8 229.1 270.9 228.3 273.7 226.7 274.7 225.8 276.1 224.2 277.1 222.5 278.2 220 279.3 215 280.1 207.4 280.4 197.3 280.4 183.8 280 166.2 276.8 76.1 276 44.9 276.1 33.1 276.4 23.9 277.2 17.2 278.5 12.1 279.7 9.6 280.8 7.9 282.5 6.3 283.6 5.4 287 3.8 289.6 3 293.4 2.2 299.2 1.4 308.9 0.7 326.8 0.1 358.3 -0.2M25.1 -0.1 46.9 0.5 58.7 1.2 65.4 1.9 69.7 2.7 72.7 3.5 74.8 4.4 76.4 5.2 78.6 6.8 80 8.5 81 10.2 81.8 11.9 82.6 14.4 83.5 19.4 84.1 26.1 84.4 35.4 84.3 48 83.5 78.3 80.5 164.2 80 181.9 79.9 195.3 80.2 205.4 80.8 213 81.9 218.9 82.7 221.4 83.6 223.1 84.7 224.7 86.4 226.4 89 228.1 90.9 228.9 93.5 229.7 97.2 230.5 103 231.3 112.6 232 130.2 232.6 161.5 232.9 196.6 232.8 218.8 232.2 230.6 231.5 237.5 230.8 241.8 230 244.7 229.2 248.5 227.5 249.7 226.7 251.5 225 252.7 223.4 253.6 221.7 254.9 217.5 255.9 210.8 256.4 201.5 256.5 189.8 255.8 157.8 252.5 65.2 252.1 47.5 252.1 34 252.5 23.9 253.3 17.2 254.5 12.2 255.7 9.6 256.8 8 258.5 6.3 261.1 4.7 263 3.8 265.5 3 269.3 2.2 274.9 1.4 284.5 0.7 301.9 0.1 332.9 -0.2 368.2 -0.1M22.4 0.5 34.4 1.1 41.3 1.9 45.6 2.7 48.6 3.5 50.8 4.3 52.4 5.1 54.6 6.8 56.6 9.3 58.1 12.7 59.3 17.7 60 23.6 60.3 30.3 60.4 39.6 60.3 52.2 59.5 80.8 56.6 161.6 56 192.8 56.2 203.7 56.7 212.1 57.7 218 59.2 222.2 60.7 224.7 62.4 226.4 63.5 227.2 66.8 228.9 69.4 229.7 73.1 230.5 78.7 231.2 88.1 232 105.4 232.6 136.1 232.9 171.5 232.8 194.2 232.3 206.3 231.6 213.3 230.8 217.7 230 220.7 229.2 224.5 227.6 225.7 226.7 227.5 225.1 228.7 223.4 229.6 221.7 231 217.5 232 210.8 232.5 201.6 232.6 189.8 231.8 157.8 228.6 65.2 228.2 46.7 228.2 33.2 228.6 23.1 229.1 18.9 229.6 15.5 230.3 13 231.3 10.5 232.2 8.8 233.6 7.2 235.6 5.5 238.9 3.9 241.5 3.1 245.1 2.3 250.7 1.5 260 0.7 277.1 0.1 307.5 -0.2 343.1 -0.1 366 0.4 378.3 1.1 385.3 1.9M21.6 2.7 24.6 3.5 28.4 5.1 30.6 6.8 32.7 9.3 33.9 11.8 34.9 15.1 35.6 19.3 36.2 25.2 36.5 38.7 36.2 59.7 32.8 158.2 32.1 189.4 32.1 201.2 32.5 209.6 33.2 215.5 34.5 220.5 35.6 223 36.8 224.7 38.4 226.3 39.5 227.2 42.8 228.8 45.3 229.6 49 230.4 54.5 231.2 63.7 231.9 80.5 232.6 110.7 232.9 146.4 232.8 169.6 232.3 182 231.6 189.2 230.8 193.6 230 196.7 229.2 200.5 227.6 201.7 226.8 203.5 225.1 204.8 223.4 205.7 221.8 207 217.6 208 210.9 208.5 201.6 208.6 189.8 207.9 157.8 204.6 63.5 204.2 45 204.3 31.5 204.8 21.5 205.9 14.7 206.6 12.2 207.8 9.7 208.9 8 210.5 6.4 213 4.7 214.9 3.9 217.4 3.1 221 2.3 226.5 1.5 235.6 0.8 252.2 0.1 282.1 -0.2 317.9 -0.1 341.4 0.4 354 1.1 361.2 1.8 365.7 2.6 368.7 3.4 372.6 5.1 374.8 6.7 376.3 8.4 377.8 10.9 378.7 13.4 379.5 16.8 380.1 21 380.5 26 380.7 32.8 380.7 47.1 380.2 67.3 376.6 175.9 376.3 195.2 376.7 207.9 377 212.1 377.7 216.3 378.5 219.6 379.5 222.1 381 224.6 382.6 226.3 385.1 228 387 228.8M21.3 229.6 24.9 230.4 30.3 231.2 39.3 231.9 55.7 232.5 85.3 232.9 121.2 232.8 145 232.3 157.7 231.6 165 230.9 169.5 230.1 172.6 229.3 174.8 228.5 177.7 226.8 179.6 225.1 180.8 223.5 182.1 221 182.9 218.4 183.6 215.1 184.4 206.7 184.7 194.9 184.5 180.6 184 161.2 180.7 63.6 180.3 46.7 180.3 34.1"/><path stroke="#7E2F8E" d="M205.3 116.3 203.3 55.7 203.1 38.9 203.3 27.1 204 18.7 204.6 15.3 205.3 12.8 206.3 10.3 207.3 8.6 208.7 7 210.9 5.3 214.4 3.7 217.2 2.9 221.2 2.1 227.4 1.3 238 0.6 257.7 0 291 -0.2 324.5 0 344.5 0.6 355.2 1.3 361.5 2.1 365.5 2.9 368.3 3.7 371.8 5.3 374 7 375.4 8.6 376.8 11.1 377.7 13.7 378.4 17 379 21.2 379.6 33 379.6 47.3 379.2 66.7 376.2 150.9 375.4 177 375.2 196.3 375.6 208.9 376.2 214 377 218.2 378.1 221.5 379.5 224 380.9 225.7 383 227.4 386.5 229 389.2 229.8M25 230.6 31.2 231.4 41.6 232.1 61.1 232.7 94.2 232.9 127.9 232.7 148.1 232.1 159 231.4 165.3 230.7 169.4 229.9 172.2 229.1 174.2 228.2 175.7 227.4 177.9 225.8 179.3 224.1 180.3 222.4 181.3 219.9 182 217.4 182.6 214 183.1 209.8 183.5 199.7 183.5 186.3 183.1 167.7 179.9 76 179.2 44.8 179.2 33 179.6 23.8 180.4 17.1 181.7 12 182.8 9.5 184 7.8 185.7 6.2 186.9 5.4 190.4 3.7 193.1 2.9 197 2.1 203.1 1.3 213.5 0.6 232.7 0 265.6 -0.2 299.5 -0 320 0.6 330.9 1.3 337.3 2 341.4 2.8 344.3 3.6 347.8 5.3 349 6.1 350.8 7.8 352.4 10.3 353.2 11.9 353.9 14.5 355 20.3 355.5 28.8 355.7 39.7 355.1 70.8 352.2 151.7 351.4 180.3 351.3 192.9 351.4 202.2 351.7 208.9 352.4 214.8 353.5 219.8 355 223.2 356.9 225.7 359 227.3 360.5 228.2 362.4 229 365.2 229.8 369.1 230.6 375.1 231.4 385.4 232.1M36.1 232.7 68.8 232.9 102.9 232.7 123.6 232.2 134.7 231.5 141.2 230.7 145.3 229.9 148.1 229.1 151.7 227.4 152.9 226.6 154.7 225 155.9 223.3 157.1 220.8 158.4 215.7 159.2 209 159.6 198.9 159.6 185.5 159.2 166.9 156 76 155.2 44.9 155.2 33.1 155.6 23.8 156.4 17.1 157.7 12.1 158.9 9.5 160 7.9 161.7 6.2 162.9 5.4 166.3 3.7 169 2.9 172.9 2.1 178.9 1.4 189 0.6 207.8 0 240.2 -0.2 274.5 -0 295.4 0.5 306.7 1.2 313.2 2 317.4 2.8 320.2 3.6 322.3 4.4 325.1 6.1 326.8 7.7 328 9.4 328.9 11.1 329.8 13.6 330.9 19.5 331.5 27 331.8 38 331.6 51.4 331.2 69.1 328.2 154.2 327.4 183.6 327.3 195.4 327.5 204.7 328.1 212.2 328.9 217.3 330.2 221.5 331 223.1 332.2 224.8 333.8 226.5 335 227.3 338.4 228.9 341.1 229.8 344.9 230.6 350.9 231.3 360.9 232 379.4 232.6M43.4 232.9 77.9 232.7 99.1 232.2 110.4 231.5 117 230.7 121.2 229.9 124.1 229.1 126.2 228.3 129 226.6 129.9 225.8 131.4 224.2 132.4 222.5 133.4 220 134.6 214.9 135.4 207.4 135.7 197.3 135.6 183.8 135.2 166.1 132 76 131.3 44.9 131.3 33.1 131.7 23.9 132.5 17.1 133.8 12.1 134.9 9.6 136.1 7.9 137.7 6.2 138.9 5.4 142.3 3.8 145 3 148.8 2.2 154.7 1.4 164.6 0.7 182.8 0.1 214.8 -0.2 249.5 -0 270.9 0.5 282.4 1.2 289.1 2 293.3 2.8 296.2 3.6 298.3 4.4 301.1 6 302.1 6.9 303.5 8.5 304.5 10.2 305.5 12.7 306.7 17.8 307.5 25.3 307.8 35.4 307.7 48.9 307.3 66.6 304.2 156.6 303.4 187.8 303.4 199.6 303.8 208.8 304.6 215.6 305.9 220.6 307 223.1 308.2 224.8 309.9 226.4 311 227.3 314.4 228.9 317 229.7 320.8 230.5 326.7 231.3 336.5 232 354.5 232.6 386.2 232.9M52.8 232.8 74.5 232.2 86.2 231.5 92.9 230.8 97.2 230 100.1 229.2 102.2 228.3 103.8 227.5 106 225.9 107.4 224.2 108.4 222.5 109.2 220.8 110 218.3 110.9 213.3 111.5 206.6 111.7 197.3 111.7 184.7 110.9 154.4 107.9 68.5 107.4 50.8 107.3 37.3 107.5 27.2 108.1 19.7 109.3 13.8 110.1 11.3 111 9.6 112.1 7.9 113.8 6.3 116.4 4.6 118.3 3.8 120.9 3 124.7 2.2 130.4 1.4 140.1 0.7 157.9 0.1 189.4 -0.2 224.4 -0.1 246.3 0.5 258.1 1.2 264.9 1.9 269.2 2.7 272.2 3.5 274.3 4.4 277.1 6 278.1 6.8 279.5 8.5 280.6 10.2 281.6 12.7 282.8 17.7 283.6 25.3 283.9 35.4 283.8 48.8 283.4 66.5 280.2 156.6 279.5 187.8 279.5 199.5 279.9 208.8 280.6 215.5 281.9 220.6 283.1 223.1 284.2 224.7 285.9 226.4 287 227.2 290.4 228.9 293 229.7 296.7 230.5 302.4 231.3 312 232 329.6 232.6 360.8 232.9M27.7 232.8 50 232.2 61.9 231.5 68.7 230.8 73.1 230 76 229.2 78.2 228.4 79.8 227.5 82 225.9 83.4 224.2 84.5 222.5 85.2 220.9 86 218.4 86.9 213.3 87.5 206.6 87.8 197.3 87.7 184.7 87 154.4 83.9 68.5 83.5 50.8 83.4 37.4 83.6 27.3 84.2 19.7 85.3 13.8 86.2 11.3 87 9.6 88.1 8 89.8 6.3 92.3 4.7 94.2 3.8 96.8 3 100.5 2.2 106.2 1.5 115.7 0.7 133.1 0.1 164 -0.2 199.3 -0.1 221.8 0.4 233.8 1.1 240.8 1.9 245.1 2.7 248.1 3.5 251.9 5.1 253.1 6 254.9 7.6 256.1 9.3 257 11 258.3 15.2 259.4 21.9 259.9 31.1 259.9 42.9 259.2 74.9 256 167.5 255.6 186 255.6 199.5 256 209.6 256.4 213.8 257 217.2 257.7 219.7 258.7 222.2 259.6 223.9 261 225.5 263 227.2 264.4 228 266.3 228.8 268.9 229.7 272.6 230.5 278.2 231.2 287.6 232 304.7 232.6 335.4 232.9 370.8 232.8M25.4 232.3 37.6 231.6 44.6 230.8 49 230 52 229.2 54.1 228.4 55.8 227.6 58 225.9 60 223.4 61.6 220.1 62.8 215 63.4 209.1 63.8 202.4 63.9 193.2 63.7 180.5 62.9 151.9 60.1 71.1 59.4 39.9 59.6 29 60.2 20.6 61.1 14.7 62.6 10.5 64.2 8 65.8 6.3 66.9 5.5 70.2 3.9 72.8 3.1 76.4 2.3 82 1.5 91.3 0.8 108.2 0.1 138.6 -0.2 174.2 -0.1 197.2 0.4 209.5 1.1 216.6 1.9 221.1 2.7 224.1 3.5 227.9 5.1 229.1 5.9 230.9 7.6 232.2 9.3 233 10.9 234.4 15.1 235.4 21.9 235.9 31.1 236 42.9 235.3 74.9 232 169.2 231.6 187.7 231.6 201.2 232.2 211.3 233.3 218 234 220.5 235.2 223 236.3 224.7 237.9 226.3 240.4 228 242.3 228.8 244.8 229.6 248.5 230.4 254 231.2 263.2 231.9 279.9 232.6 310 232.9 345.7 232.8 369 232.3 381.5 231.6 388.6 230.8M24.9 230.1 27.9 229.2 31.8 227.6 34 225.9 36.1 223.4 37.3 220.9 38.3 217.6 39.1 213.4 39.6 207.5 39.9 194 39.6 173 36.2 74.5 35.5 43.3 35.6 31.6 36 23.1 36.7 17.3 37.9 12.2 39.1 9.7 40.2 8 41.8 6.4 42.9 5.5 46.2 3.9 48.7 3.1 52.3 2.3 57.8 1.5 66.9 0.8 83.4 0.1 113.2 -0.2 149 -0.1 172.6 0.4 185.2 1.1 192.4 1.8 197 2.6 200 3.4 203.9 5.1 205.1 5.9 207 7.6 208.2 9.2 209.1 10.9 210.4 15.1 211.5 21.8 212 31.1 212.1 42.9 211.3 74.8 208 169.1 207.7 187.7 207.7 201.1 208.3 211.2 209.3 217.9 210.1 220.5 211.2 223 212.3 224.6 213.9 226.3 216.4 228 220.8 229.6 224.4 230.4 229.8 231.2 238.8 231.9 255.1 232.5 284.6 232.9 320.5 232.8 344.4 232.3 357.2 231.6 364.5 230.9 369 230.1 372.1 229.3 376 227.6 378.3 226 379.8 224.3 381.2 221.8 382.1 219.3 382.9 215.9 383.5 211.7 383.9 206.7 384.1 200 384.1 185.7 383.7 165.4 380 56.8 379.8 38.3 380.1 25.7 380.9 17.3 381.7 13.9 382.5 11.4 383.8 8.9 385.2 7.2 387.1 5.6 388.5 4.8M22.2 3.9 24.7 3.1 28.2 2.3 33.6 1.5 42.4 0.8 58.6 0.2 87.8 -0.2 123.8 -0.1 148 0.4 160.9 1.1 168.3 1.8 172.9 2.6 176 3.4 179.9 5 182.2 6.7 183.7 8.4 184.7 10 185.8 12.6 186.5 15.1 187.5 21.8 188 31.9 188.1 45.4 187.7 63.9 184.4 158.2 183.7 190.2 183.8 202.8 184.3 211.2 185.4 217.9 186.8 222.1 187.7 223.8 189.1 225.4 191 227.1 192.4 227.9 196.7 229.6 200.2 230.4 205.6 231.1 214.4 231.9 230.3 232.5 259.3 232.9 295.4 232.8 319.8 232.3 332.9 231.7 340.3 230.9 344.9 230.1 348.1 229.3 350.3 228.5 353.3 226.8 354.3 226 355.8 224.3 356.8 222.7 357.6 221 358.4 218.5 359 216 359.7 210.1 360.1 202.5 360.3 191.6 359.6 161.3 356.8 81.3 356 53.5 355.9 32.5 356.2 24.9 356.7 19 357.7 14 358.9 10.6 360.5 8.1 362.1 6.4 363.2 5.6 366.3 4 368.8 3.2 372.3 2.4 377.6 1.6 386.3 0.8M33.8 0.2 62.5 -0.2 98.6 -0.1 123.3 0.4 136.6 1 144.1 1.8 148.8 2.6 151.9 3.4 155.9 5 157.2 5.8 159 7.5 160.3 9.2 161.5 11.7 162.3 14.2 162.9 16.7 163.8 24.3 164.2 34.4 164.1 47.8 163.7 66.4 160.5 156.4 159.8 187.6 159.8 199.4 160.2 208.6 160.9 215.4 162.2 220.4 163.3 222.9 164.4 224.6 166 226.2 167.1 227.1 170.2 228.7 172.7 229.5 176.1 230.3 181.4 231.1 190 231.9 205.5 232.5 233.9 232.9 270.1 232.8 295.1 232.4 308.6 231.7 316.1 230.9 320.9 230.1 324 229.3 326.3 228.5 329.3 226.9 331.1 225.2 332.4 223.5 333.3 221.9 334.2 219.4 335.4 213.5 336.1 205.9 336.3 195 336.2 181.5 335.8 163.8 332.8 79.6 332 50.2 331.9 38.4 332 29.1 332.4 22.4 333.2 16.5 333.8 14 334.6 11.5 335.4 9.8 336.5 8.1 338.1 6.5 339.2 5.6 342.3 4 344.8 3.2 348.2 2.4 353.4 1.6 361.9 0.9 377.2 0.2M37.1 -0.2 73.4 -0.1 98.7 0.3 112.3 1 119.9 1.8 124.7 2.5 127.9 3.3 130.2 4.2 133.2 5.8 134.2 6.6 135.7 8.3 136.8 10 137.9 12.5 139.1 17.5 139.9 25.1 140.2 35.2 140.2 48.7 139.8 66.3 136.6 155.6 135.8 186.7 135.8 198.5 136.2 207.8 136.8 214.5 137.9 219.5 138.9 222 139.8 223.7 141.1 225.4 143.1 227 146.2 228.7 148.6 229.5 152 230.3 157.2 231.1 165.6 231.8 180.8 232.5 208.6 232.9 244.9 232.9 270.5 232.4 284.2 231.7 292 231 296.8 230.2 300 229.4 304 227.7 306.3 226.1 307.9 224.4 308.9 222.7 310 220.2 311.2 215.2 312 207.6 312.4 197.5 312.3 184.1 311.9 165.5 308.7 77.1 308 46 308 34.2 308.3 25 309 18.2 310.1 13.2 311 10.7 311.9 9 313.2 7.3 315.2 5.7 318.3 4 320.7 3.2 324.1 2.4 329.2 1.6 337.5 0.9 352.5 0.2 380 -0.2M48.2 -0.2 74 0.3 87.9 1 95.8 1.7 100.6 2.5 103.9 3.3 106.2 4.1 109.2 5.8 111.1 7.4 112.4 9.1 113.3 10.8 114.2 13.3 115.3 18.3 115.9 25.1 116.3 34.3 116.2 46.9 115.5 77.2 112.4 164.8 112 182.5 111.9 195.9 112.1 206 112.8 213.6 113.7 218.7 114.6 221.2 115.4 222.8 116.4 224.5 118 226.2 120.4 227.8 122.2 228.7 124.6 229.5 127.9 230.3 133 231.1 141.2 231.8 156 232.5 183.3 232.9 219.7 232.9 245.8 232.4 259.9 231.7 267.8 231 272.7 230.2 275.9 229.4 280 227.8 282.4 226.1 283.9 224.4 285 222.8 286.1 220.3 287.3 215.2 288.1 207.7 288.4 197.6 288.4 184.1 287.9 165.6 284.8 77.2 284 46 284 34.2 284.3 25 285 18.3 286.1 13.2 287.1 10.7 288 9 289.3 7.4 291.2 5.7 294.3 4.1 296.6 3.2 300 2.4 305 1.7 313.1 0.9 327.8 0.3 354.7 -0.2M22.9 -0.2 49.3 0.3 63.6 0.9 71.6 1.7 76.5 2.5 79.8 3.3 82.1 4.1 85.2 5.7 87.1 7.4 88.4 9.1 89.3 10.7 90.2 13.3 91.3 18.3 92 25 92.3 34.3 92.3 46.1 91.5 77.2 88.4 165.6 88 184.1 87.9 197.6 88.3 207.7 89.1 215.3 90.3 220.3 91.4 222.8 92.5 224.5 94 226.1 96.4 227.8 100.5 229.4 103.8 230.2 108.8 231 116.9 231.8 131.3 232.4 158 232.9 194.4 232.9 221.1 232.4 235.5 231.8 243.6 231 248.6 230.2 251.9 229.4 254.2 228.6 257.3 227 259.2 225.3 260.5 223.6 261.4 222 262.4 219.5 263.5 214.4 264.1 207.7 264.5 198.4 264.4 186.7 263.7 155.5 260.6 67.1 260.1 48.6 260.1 35.1 260.4 25 261.2 17.5 262.4 12.4 263.5 9.9 264.6 8.2 266.1 6.6 268.5 4.9 272.6 3.3 275.9 2.5 280.8 1.7 288.8 0.9 303.1 0.3 329.5 -0.2 365.9 -0.2M24.6 0.3 39.3 0.9 47.4 1.7 52.4 2.4 55.8 3.2 58.1 4.1 61.2 5.7 62.3 6.5 63.8 8.2 64.9 9.9 65.7 11.6 66.5 14.1 67.1 16.6 67.9 22.5 68.3 29.2 68.4 38.5 68.3 51.1 67.5 80.5 64.6 162.2 64 193.4 64.2 204.3 64.7 211.9 65.6 217.7 67 221.9 68.5 224.4 70.1 226.1 71.1 226.9 74.2 228.6 76.5 229.4 79.7 230.2 84.6 231 92.5 231.7 106.6 232.4 132.7 232.9 169.1 232.9 196.4 232.5 211.2 231.8 219.4 231.1 224.5 230.3 227.8 229.5 232 227.8 233.3 227 235.3 225.3 236.5 223.7 237.5 222 238.9 217.8 239.9 211.1 240.4 202.7 240.5 190.1 239.8 158.1 236.5 63.8 236.1 45.3 236.2 31.8 236.7 21.7 237.8 15 238.5 12.5 239.6 9.9 240.6 8.3 242.2 6.6 244.5 4.9 246.2 4.1 248.5 3.3 251.8 2.5 256.6 1.7 264.5 1 278.4 0.3 304.2 -0.2 340.6 -0.2 368.1 0.2 383.1 0.9M23.2 1.6 28.3 2.4 31.7 3.2 34.1 4 37.2 5.7 39.2 7.3 41 9.8 42.3 13.2 43.3 17.4 43.9 22.4 44.3 28.3 44.5 35.9 44.2 56.9 40.7 158.8 40 189.1 40.1 200.9 40.5 209.3 41.2 215.2 42.4 220.2 43.5 222.7 44.5 224.4 46.1 226.1 47.1 226.9 50.1 228.6 52.4 229.4 55.6 230.2 60.4 231 68.2 231.7 81.9 232.4 107.5 232.9 143.8 232.9 171.6 232.5 186.8 231.8 195.2 231.1 200.4 230.3 203.8 229.5 208 227.9 209.3 227 211.3 225.4 212.6 223.7 213.5 222 214.9 217.8 216 211.1 216.5 202.7 216.6 190.1 215.9 158.1 212.6 63.8 212.2 45.3 212.2 31.8 212.8 21.7 213.8 15 214.5 12.5 215.6 10 216.7 8.3 218.2 6.6 220.5 5 224.5 3.3 227.7 2.5 232.5 1.8 240.1 1 253.7 0.3 279 -0.1 315.2 -0.2 343.4 0.2 358.7 0.9 367.2 1.6 372.4 2.4 375.9 3.2 378.3 4 381.4 5.6 383.4 7.3 384.7 9 385.6 10.6 386.6 13.2 387.4 16.5 387.9 19.9 388.6 29.1 388.7 42.6 388.4 61.1 384.9 161.3 384.5 179.8 384.3 194.1 384.6 205.9 385.3 214.3 385.9 217.7 386.7 220.2 387.7 222.7 388.8 224.4M21.3 225.2 23.1 226.9 24.4 227.7 28.4 229.3 31.5 230.1 36.3 230.9 43.9 231.7 57.3 232.4 82.2 232.8 118.5 232.9 146.9 232.5 162.4 231.9 171 231.1 176.3 230.3 179.7 229.5 182.2 228.7 185.3 227.1 186.4 226.2 188 224.6 189.1 222.9 190.2 220.4 191 217.9 191.6 214.5 192.4 206.1 192.7 194.3 192.5 180 192 161.5 188.5 58.8 188.2 39.4 188.5 26 189 20.1 189.7 15.9 190.6 12.5 191.6 10 193.4 7.5 195.2 5.8 198.2 4.2 200.5 3.4 203.6 2.6 208.3 1.8 215.8 1 229 0.4 253.7 -0.1 289.9 -0.2 318.6 0.2 334.3 0.8 343 1.6 348.3 2.4 351.8 3.2 354.3 4 357.5 5.6 359.4 7.3 360.7 8.9 361.7 10.6 362.7 13.1 363.3 15.6 363.9 19 364.6 27.4 364.8 39.2 364.6 56.9 362.4 120"/><path stroke="#A2142F" d="M387.6 37.8 387.5 52.1 387 71.4 383.6 167.4 383.2 195.2 383.5 207 384.4 215.4 385.1 218.7 385.9 221.3 387.3 223.8 388.6 225.4M21.2 226.3 23.7 227.9 28 229.6 31.5 230.4 36.8 231.1 45.6 231.9 61.4 232.5 90.3 232.9 126.4 232.8 151 232.3 164.1 231.7 171.6 230.9 176.2 230.1 179.4 229.3 183.3 227.7 185.6 226 187.1 224.4 188.1 222.7 189.2 220.2 189.9 217.7 191 210.9 191.5 200.8 191.5 187.4 191.1 168.9 187.9 74.6 187.1 42.6 187.2 29.9 187.7 21.5 188.8 14.8 190.2 10.6 191.2 8.9 192.5 7.3 194.4 5.6 195.8 4.8 200.1 3.2 203.6 2.4 208.8 1.6 217.5 0.8 233.2 0.2 261.8 -0.2 298 -0.1 322.7 0.3 336.1 1 343.6 1.8 348.3 2.6 351.4 3.4 353.7 4.2 356.7 5.8 357.7 6.7 359.2 8.3 360.3 10 361.3 12.5 362.6 17.6 363.2 23.4 363.6 31.8 363.7 43.6 363 73.9 359.5 175.8 359.3 196.8 359.4 204.4 359.8 210.3 360.4 215.4 361.4 219.5 362.8 222.9 364.6 225.4 366.6 227.1 369.7 228.7 372.2 229.5 375.6 230.3 380.8 231.1M21.2 231.8 36.7 232.5 65 232.9 101.2 232.8 126.3 232.4 139.8 231.7 147.4 230.9 152.1 230.2 155.3 229.3 157.6 228.5 159.3 227.7 161.6 226.1 163.1 224.4 164.2 222.7 165.3 220.2 166 217.7 167 211 167.5 200.9 167.6 187.4 167.2 168.9 163.9 74.6 163.2 42.6 163.3 30 163.8 21.6 164.9 14.8 166.3 10.7 167.2 9 168.5 7.3 170.5 5.7 171.8 4.8 176 3.2 179.5 2.4 184.6 1.6 193.1 0.9 208.4 0.2 236.4 -0.2 272.7 -0.1 298.1 0.3 311.7 1 319.4 1.7 324.2 2.5 327.4 3.3 329.7 4.2 332.7 5.8 333.7 6.6 335.2 8.3 336.7 10.8 338.1 15 339.1 20.9 339.6 28.4 339.8 39.4 339.1 70.5 336.2 152.2 335.4 181.7 335.3 194.3 335.5 203.5 335.9 210.3 336.6 216.2 337.2 218.7 338 221.2 338.8 222.9 339.9 224.5 341.5 226.2 342.6 227 345.7 228.7 348.1 229.5 351.5 230.3 356.6 231.1 365 231.8 380.1 232.5M39.7 232.9 76 232.9 101.7 232.4 115.5 231.7 123.2 231 128 230.2 131.3 229.4 135.3 227.7 137.6 226.1 139.2 224.4 140.2 222.7 141.3 220.2 142.5 215.2 143.3 207.6 143.7 197.5 143.6 184.1 143.2 165.6 140.1 77.1 139.3 46 139.3 34.2 139.6 25 140.3 18.2 141.4 13.2 142.3 10.7 143.2 9 144.5 7.3 146.5 5.7 149.6 4 152 3.2 155.4 2.4 160.4 1.6 168.7 0.9 183.7 0.2 211.1 -0.2 247.5 -0.2 273.4 0.3 287.4 1 295.2 1.7 300.1 2.5 303.3 3.3 307.4 4.9 309.7 6.6 311.3 8.3 312.3 9.9 313.4 12.4 314.7 17.5 315.5 25.1 315.8 35.1 315.7 48.6 315.3 67.1 312.2 155.5 311.4 186.7 311.4 198.5 311.7 207.7 312.4 214.4 313.5 219.5 314.4 222 315.4 223.7 316.7 225.3 318.6 227 321.7 228.6 324.1 229.5 327.4 230.3 332.5 231 340.7 231.8 355.4 232.4 382.6 232.9M50.8 232.9 77 232.4 91.1 231.7 99.1 231 103.9 230.2 107.2 229.4 109.5 228.6 112.6 226.9 114.5 225.3 115.8 223.6 116.7 221.9 117.6 219.4 118.7 214.4 119.4 207.7 119.7 198.4 119.7 185.8 118.9 155.5 115.8 67.9 115.4 50.2 115.3 36.8 115.6 26.7 116.2 19.1 117.2 14.1 118 11.6 118.8 9.9 120.6 7.4 122.5 5.7 123.8 4.9 127.9 3.3 131.3 2.4 136.3 1.7 144.4 0.9 158.9 0.3 185.8 -0.2 222.2 -0.2 248.7 0.3 263.1 0.9 271.1 1.7 276 2.5 279.3 3.3 283.4 4.9 285.8 6.6 287.3 8.2 288.4 9.9 289.5 12.4 290.7 17.5 291.5 25 291.8 35.1 291.8 48.6 291.4 67.1 288.2 155.5 287.5 186.7 287.5 198.4 287.8 207.7 288.4 214.4 289.5 219.5 290.5 222 291.4 223.6 292.7 225.3 294.6 227 297.7 228.6 300 229.4 303.3 230.2 308.3 231 316.3 231.8 330.7 232.4 357.3 232.9M25.5 232.9 52.3 232.4 66.8 231.8 74.9 231 79.9 230.2 83.2 229.4 85.5 228.6 88.6 227 90.5 225.3 91.8 223.6 92.7 222 93.7 219.5 94.8 214.4 95.4 207.7 95.8 198.4 95.8 186.7 95 155.5 91.9 67.1 91.4 48.6 91.4 35.1 91.7 25 92.5 17.5 93.7 12.4 94.8 9.9 95.9 8.2 97.4 6.6 99.8 4.9 103.9 3.3 107.2 2.5 112.1 1.7 120 0.9 134.2 0.3 160.5 -0.2 196.9 -0.2 224 0.3 238.7 0.9 246.9 1.7 251.9 2.4 255.3 3.2 257.6 4.1 260.7 5.7 262.6 7.4 263.9 9 264.9 10.7 265.8 13.2 266.9 18.3 267.6 25 267.9 34.2 267.9 46 267.1 77.2 264 165.6 263.6 184.1 263.5 197.6 263.8 207.7 264.6 215.2 265.9 220.3 266.9 222.8 268 224.4 269.6 226.1 271.9 227.8 276 229.4 279.2 230.2 284.1 231 292 231.7 306 232.4 332 232.9 368.4 232.9M27.6 232.5 42.4 231.8 50.7 231.1 55.8 230.3 59.1 229.5 61.5 228.7 64.6 227 65.7 226.2 67.3 224.5 68.3 222.8 69.1 221.2 70 218.7 70.5 216.1 71.3 210.3 71.7 203.5 71.9 194.3 71.7 181.6 70.9 152.2 68 70.5 67.4 39.4 67.6 28.4 68.1 20.9 69.1 15 70.4 10.8 71.9 8.3 73.5 6.6 74.5 5.8 77.5 4.1 79.8 3.3 83.1 2.5 87.9 1.7 95.7 1 109.6 0.3 135.3 -0.2 171.6 -0.2 199.3 0.2 214.3 0.9 222.7 1.6 227.8 2.4 231.2 3.2 235.4 4.8 236.7 5.7 238.7 7.3 240 9 240.9 10.7 242.3 14.9 243.4 21.6 243.9 30 244 42.6 243.2 74.6 240 168.9 239.6 187.4 239.6 200.9 240.2 211 241.2 217.7 241.9 220.2 243 222.7 244.1 224.4 245.6 226.1 247.9 227.7 249.6 228.6 251.9 229.4 255.1 230.2 259.9 231 267.6 231.7 281.3 232.4 306.8 232.9 343.1 232.9 371 232.5 386.3 231.8M26.5 231.1 31.6 230.3 35.1 229.5 37.5 228.7 40.6 227 42.6 225.4 44.4 222.9 45.8 219.5 46.7 215.3 47.4 210.3 47.7 204.4 47.9 196.8 47.7 175.8 44.2 74.8 43.5 45.3 43.5 34.3 43.8 25.9 44.4 19.2 45.3 14.2 46.1 11.7 46.9 10 48.7 7.5 50.5 5.8 51.8 5 55.8 3.3 59 2.5 63.7 1.8 71.4 1 84.9 0.3 110.1 -0.1 146.3 -0.2 174.5 0.2 190 0.9 198.5 1.6 203.7 2.4 207.1 3.2 209.6 4 212.7 5.6 214.7 7.3 216 9 216.9 10.6 217.9 13.2 218.6 15.7 219.1 19 219.8 27.4 220 40.1 219.4 72.9 216 170.6 215.6 189.1 215.7 202.5 216.4 212.6 216.9 216 217.7 219.4 218.6 221.9 219.5 223.5 220.8 225.2 222.6 226.9 225.6 228.5 227.9 229.3 231 230.1 235.7 230.9 243.3 231.7 256.7 232.4 281.6 232.8 317.8 232.9 346.3 232.5 361.9 231.9 370.5 231.1 375.8 230.3 379.2 229.5 381.7 228.7 384.9 227.1 385.9 226.2 387.5 224.6 389.1 222.1M21.2 221.2 22.5 217 23.3 211.2 23.8 203.6 24 193.5 23.4 163.2 21.2 101.7M389.4 100.9 388.1 63 387.7 39.4 387.8 31 388.1 24.3 388.6 19.2 389.4 15M21.4 14.2 22.5 10.9 24 8.3 25.5 6.7 27.8 5 31.7 3.4 34.9 2.6 39.6 1.8 47 1 60.2 0.4 84.8 -0.1 121 -0.2 149.8 0.2 165.6 0.8 174.3 1.6 179.6 2.3 183.1 3.1 185.6 4 188.8 5.6 190.7 7.3 192 8.9 193 10.6 194 13.1 194.8 16.5 195.3 19.8 196 29.9 196.1 43.4 195.7 61.9 192.3 160.4 191.7 192.4 191.9 205 192.5 213.4 193.7 219.3 194.7 221.8 195.6 223.5 196.8 225.2 198.6 226.8 201.6 228.5 203.8 229.3 206.9 230.1 211.6 230.9 219 231.7 232 232.3 256.4 232.8 292.4 232.9 321.5 232.5 337.5 231.9 346.3 231.2 351.6 230.4 355.2 229.6 359.5 227.9 360.9 227.1 362.8 225.4 364.7 222.9 365.5 221.3 366.3 218.8 367.3 213.7 367.9 207 368.2 198.6 368.2 187.6 367.5 158.2 364.1 58 363.8 36.9 364.3 23.5 364.9 17.6 365.9 13.4 367.2 10 368.9 7.5 370.8 5.9 373.7 4.2 375.9 3.4 379 2.6 383.6 1.8M22.7 1.1 35.6 0.4 59.7 -0.1 95.6 -0.2 125 0.2 141.2 0.8 150.1 1.5 155.5 2.3 159 3.1 163.4 4.7 164.8 5.6 166.8 7.2 168.1 8.9 169 10.6 170 13.1 170.7 15.6 171.2 19 171.7 23.2 172.1 33.3 172.1 46.7 171.7 64.4 168.5 157.9 167.7 189.9 167.8 201.6 168.3 210.9 169.3 217.6 170.7 221.8 171.6 223.5 172.8 225.1 174.7 226.8 175.9 227.6 179.8 229.3 182.9 230.1 187.4 230.9 194.7 231.6 207.4 232.3 231.2 232.8 267.1 232.9 296.7 232.5 313.1 231.9 322.1 231.2 327.5 230.4 331.1 229.6 333.6 228.8 336.9 227.1 338 226.3 339.6 224.6 341.2 222.1 342.6 217.9 343.6 212.1 344.1 203.7 344.3 192.7 343.7 161.6 340.8 80.7 340 52.1 339.9 39.5 340 30.2 340.3 23.5 341 17.6 342.2 12.6 343.7 9.2 345.8 6.7 348 5.1 349.7 4.3 351.9 3.4 354.9 2.6 359.4 1.8 366.6 1.1 379.2 0.4M34.5 -0.1 70.3 -0.2 100.2 0.1 116.8 0.8 125.9 1.5 131.4 2.3 135 3.1 137.5 3.9 139.4 4.7 140.8 5.5 142.8 7.2 144.1 8.9 145.1 10.5 146 13.1 146.7 15.6 147.3 18.9 147.7 23.1 148.2 33.2 148.2 46.7 147.8 65.2 144.5 157.8 143.8 189.8 143.9 201.6 144.4 210.9 145.4 217.6 146.7 221.8 147.6 223.4 148.9 225.1 150.7 226.8 151.9 227.6 155.7 229.2 158.8 230 163.2 230.8 170.4 231.6 182.8 232.3 206 232.8 241.7 232.9 271.9 232.6 288.7 231.9 297.9 231.2 303.4 230.4 307.1 229.6 309.6 228.8 311.5 228 314 226.3 315.6 224.7 316.8 223 317.6 221.3 318.4 218.8 319.5 212.9 320.1 205.4 320.4 195.3 320.2 181.8 319.8 164.1 316.8 78.3 316 47.9 315.9 35.3 316.2 26.1 316.8 19.3 317.7 14.3 318.5 11.8 319.3 10.1 320.3 8.4 321.8 6.8 324 5.1 325.7 4.3 327.8 3.5 330.8 2.7 335.3 1.9 342.3 1.1 354.6 0.4 377.6 -0.1M44.9 -0.2 75.3 0.1 92.4 0.7 101.7 1.5 107.3 2.3 110.9 3.1 113.5 3.9 116.8 5.5 117.9 6.3 119.5 8 120.7 9.7 121.8 12.2 123.1 17.2 123.9 23.9 124.2 33.2 124.2 45 123.5 76.1 120.3 166.2 119.9 183.9 119.9 197.4 120.2 207.5 121 215 122.1 220.1 123.2 222.6 124.2 224.2 125.7 225.9 126.7 226.7 129.6 228.4 131.7 229.2 134.7 230 139.1 230.8 146.1 231.6 158.2 232.3 180.9 232.8 216.3 232.9 247 232.6 264.3 232 273.7 231.2 279.3 230.5 283 229.7 285.6 228.9 288.9 227.2 290 226.4 291.7 224.7 292.8 223 293.9 220.5 295.2 215.5 296 208.8 296.4 199.5 296.4 187.7 295.6 156.6 292.5 66.5 292.1 48.8 292 35.4 292.3 25.3 293.1 17.7 294.3 12.7 295.3 10.1 296.3 8.5 297.8 6.8 298.8 6 301.6 4.3 303.8 3.5 306.8 2.7 311.1 1.9 318 1.1 330 0.5 352.4 -0.1 387.7 -0.2M50.5 0.1 67.9 0.7 77.5 1.4 83.1 2.2 86.9 3 89.5 3.8 92.8 5.5 93.9 6.3 95.6 8 96.7 9.6 97.5 11.3 98.8 15.5 99.6 20.5 100.1 28.1 100.3 37.4 100.3 49.2 99.5 78.6 96.5 163.7 96 181.3 95.9 194.8 96.1 205.7 96.8 213.3 97.9 219.2 98.8 221.7 99.7 223.4 100.9 225 102.7 226.7 105.5 228.4 107.7 229.2 110.6 230 114.9 230.8 121.8 231.5 133.6 232.2 155.8 232.8 190.9 232.9 222.2 232.6 239.8 232 249.4 231.3 255.2 230.5 258.9 229.7 261.5 228.9 264.9 227.2 266 226.4 267.7 224.7 268.8 223.1 270 220.6 271.3 215.5 272 208.8 272.4 199.6 272.4 187.8 271.7 156.6 268.5 66.5 268.1 48.9 268 35.4 268.4 25.3 269.1 17.7 270.3 12.7 271.4 10.2 272.4 8.5 273.8 6.8 274.8 6 277.6 4.4 279.7 3.5 282.7 2.7 287 1.9 293.7 1.2 305.5 0.5 327.3 -0.1 362.3 -0.2M25.6 0.1 43.5 0.7 53.2 1.4 59 2.2 62.8 3 65.4 3.8 68.8 5.4 69.9 6.3 71.6 7.9 72.8 9.6 73.6 11.3 74.9 15.5 75.7 20.5 76.2 28.1 76.4 37.3 76.3 49.1 75.5 78.6 72.5 163.6 72.1 181.3 72 194.8 72.2 205.7 72.8 213.3 74 219.2 74.9 221.7 75.7 223.3 77 225 78.7 226.7 81.5 228.3 83.6 229.1 86.5 230 90.8 230.7 97.5 231.5 109.1 232.2 130.7 232.8 165.5 232.9 197.3 232.6 215.4 232 225.2 231.3 231.1 230.5 234.9 229.7 237.5 228.9 240.9 227.3 242.1 226.4 243.7 224.8 244.9 223.1 246 220.6 247.3 215.6 248.1 208.8 248.5 199.6 248.5 187.8 247.7 156.7 244.5 64.9 244.1 46.4 244.1 32.9 244.6 22.8 245.1 18.6 245.7 15.2 246.4 12.7 247.4 10.2 248.4 8.5 249.9 6.9 252.1 5.2 253.6 4.4 255.7 3.6 258.6 2.8 262.8 2 269.5 1.2 280.9 0.5 302.3 -0 336.9 -0.2 368.9 0.1 387.3 0.7M29 1.4 34.9 2.2 38.7 3 41.4 3.8 43.3 4.6 46 6.2 48.3 8.7 50 12.1 51.1 16.3 51.8 21.3 52.2 27.2 52.4 34.8 52.2 55.8 51.4 82.8 48.7 159.4 48 189.7 48.1 200.6 48.5 209 49.1 214.9 50.3 220 51.3 222.5 52.3 224.1 53.8 225.8 54.7 226.6 57.5 228.3 59.6 229.1 62.5 229.9 66.6 230.7 73.2 231.5 84.5 232.2 105.6 232.7 140.1 232.9 172.4 232.6 190.9 232 201 231.3 206.9 230.6 210.8 229.8 213.5 228.9 215.4 228.1 216.9 227.3 219 225.6 220.4 224 221.4 222.3 222.8 218.1 223.9 211.4 224.5 203 224.6 190.4 223.9 158.4 220.5 63.2 220.2 44.7 220.2 31.2 220.8 21.2 221.2 17.8 221.9 14.4 222.7 11.9 223.9 9.4 225.1 7.7 226.8 6.1 229.6 4.4 231.7 3.6 234.5 2.8 238.7 2 245.2 1.2 256.4 0.5 277.2 -0 311.5 -0.2 344 0 362.8 0.6 373 1.4 379 2.1 382.9 2.9 385.6 3.7 389 5.4M22 6.2 23.7 7.9 24.8 9.5 26 12.1 27 15.4 27.6 18.8 28 23 28.5 34.8 28.4 49.1 28 68.4 24.4 173.7 24.1 193 24.3 205.6 25 214.1 25.6 217.4 26.3 219.9 27.4 222.4 28.4 224.1 29.8 225.8 32 227.4 35.6 229.1 38.4 229.9 42.5 230.7 49 231.5 60 232.2 80.6 232.7 114.7 232.9 147.4 232.7 166.5 232.1 176.7 231.4 182.8 230.6 186.7 229.8 189.5 229 191.4 228.2 194.1 226.5 195.8 224.8 197 223.2 198.1 220.7 198.9 218.1 199.6 214.8 200 211.4 200.5 202.2 200.6 188.7 200.3 170.2 196.9 72.5 196.2 40.5 196.4 28.8 197 20.3 197.4 17 198.2 13.6 199.1 11.1 199.9 9.4 201.1 7.8 202.9 6.1 205.6 4.5 207.6 3.6 210.5 2.8 214.5 2 220.9 1.3 231.9 0.6 252.2 -0 286.1 -0.2 319 0 338.3 0.6 348.7 1.3 354.9 2.1 358.8 2.9 361.5 3.7 363.5 4.5 365 5.3 367.1 7 369.1 9.5 369.9 11.2 370.8 13.7 371.8 18.7 372.4 24.6 372.7 33 372.8 44.8 372 75.1 368.6 174.5 368.3 195.5 368.8 209 369.4 214.9 370.3 219.1 371.6 222.4 373.3 224.9 375 226.6 377.7 228.2 379.7 229 382.5 229.9 386.6 230.7M24.7 231.4 35.5 232.1 55.6 232.7 89.3 232.9 122.5 232.7 142 232.1 152.5 231.4 158.7 230.6 162.7 229.8 165.4 229 167.4 228.2 170.1 226.5 172.5 224 174.2 220.7 175.5 215.7 176.2 209.8 176.6 202.2 176.7 191.3"/><path stroke="#EDB120" d="M207.1 37.8 207.2 28.5 207.8 20.9 208.7 15.1 210.1 10.9 211.5 8.4 213 6.7 214 5.9 217 4.2 219.2 3.4 222.3 2.6 226.9 1.8 234.3 1.1 247.3 0.4 271.6 -0.1 307.6 -0.2 336.8 0.2 352.8 0.8 361.7 1.5 367 2.3 370.6 3.1 373 3.9 376.3 5.6 378.2 7.2 379.6 8.9 380.9 11.4 381.7 13.9 382.3 16.5 382.9 20.7 383.3 24.9 383.6 36.6 383.5 51 383 70.3 379.5 173.9 379.2 193.2 379.5 205.9 379.8 210.9 380.3 215.1 381 218.5 382.2 221.8 383.6 224.3 385.1 226 387.4 227.6 389.1 228.5M23.1 229.3 26.2 230.1 30.8 230.9 38.1 231.6 50.9 232.3 74.9 232.8 110.8 232.9 140.3 232.5 156.5 231.9 165.5 231.2 170.9 230.4 174.4 229.6 176.9 228.8 178.8 228 181.3 226.3 182.9 224.6 184 223 185.1 220.5 185.9 217.9 186.9 211.2 187.5 201.1 187.5 187.7 187.2 169.1 183.9 74.8 183.1 42.9 183.2 31.1 183.7 21.8 184.7 15.1 186.1 10.9 187 9.2 188.2 7.6 190.1 5.9 191.3 5.1 195.2 3.4 198.2 2.6 202.8 1.8 210 1.1 222.7 0.4 246.4 -0.1 282.2 -0.2 312 0.2 328.4 0.8 337.5 1.5 342.9 2.3 346.5 3.1 349 3.9 352.3 5.6 353.4 6.4 355 8 356.1 9.7 356.9 11.4 357.8 13.9 358.4 16.4 359.1 22.3 359.6 30.7 359.7 41.7 359 72.8 356.3 150.3 355.4 178 355.3 199.1 355.6 206.7 356 212.5 356.9 217.6 358.2 221.8 359.7 224.3 361.2 226 362.2 226.8 365.1 228.4 367.3 229.3 370.3 230.1 374.8 230.8 382 231.6M26.3 232.3 49.7 232.8 85.4 232.9 115.4 232.6 132.1 231.9 141.3 231.2 146.8 230.4 150.4 229.6 152.9 228.8 154.8 228 156.2 227.2 158.2 225.5 159.5 223.8 160.5 222.2 161.5 219.6 162.1 217.1 162.7 213.8 163.1 209.6 163.6 199.5 163.6 186 163.2 167.5 159.9 74.9 159.2 42.9 159.3 31.1 159.8 21.9 160.8 15.1 162.2 10.9 163 9.3 164.3 7.6 166.1 5.9 167.3 5.1 171.1 3.5 174.2 2.7 178.6 1.9 185.7 1.1 198.1 0.4 221.2 -0.1 256.9 -0.2 287.1 0.1 304 0.8 313.2 1.5 318.8 2.3 322.4 3.1 325 3.9 328.3 5.5 329.4 6.3 331 8 332.6 10.5 334.1 14.7 335 20.6 335.6 29 335.8 39.9 335.1 71.1 332.3 151.9 331.5 180.5 331.3 193.2 331.4 202.4 331.8 209.1 332.4 215 333.6 220.1 335.2 223.4 337.2 225.9 339.4 227.6 341.1 228.4 343.2 229.2 346.2 230 350.6 230.8 357.7 231.6 369.9 232.3M24.6 232.8 60.1 232.9 90.6 232.6 107.7 232 117 231.2 122.6 230.5 126.3 229.7 128.9 228.8 130.8 228 132.2 227.2 134.2 225.5 135.6 223.9 136.5 222.2 137.5 219.7 138.2 217.2 138.8 213.8 139.2 209.6 139.6 199.5 139.6 186 139.2 167.5 136 74.9 135.3 42.9 135.3 31.1 135.8 21.9 136.8 15.2 138.2 11 139.1 9.3 140.3 7.6 142.1 6 143.3 5.1 147.1 3.5 150.1 2.7 154.5 1.9 161.4 1.1 173.5 0.4 196.1 -0.1 231.5 -0.2 262.3 0.1 279.6 0.7 289 1.5 294.7 2.2 298.4 3 301 3.8 302.9 4.7 305.4 6.3 307.1 8 308.2 9.7 309 11.3 309.9 13.8 311 19.7 311.6 27.3 311.8 37.4 311.7 50.9 311.3 68.5 308.2 154.4 307.4 184.7 307.4 197.3 307.7 206.6 308.2 213.3 309.2 218.4 310 220.9 310.7 222.6 311.8 224.2 313.2 225.9 315.4 227.5 317 228.4 319.2 229.2 322.1 230 326.5 230.8 333.4 231.5 345.3 232.2 367.6 232.8M34.7 232.9 65.7 232.6 83.3 232 92.8 231.3 98.5 230.5 102.2 229.7 104.8 228.9 108.2 227.2 109.3 226.4 111 224.7 112.1 223.1 113.3 220.6 114.5 215.5 115.3 208.8 115.7 199.5 115.7 187.8 115 156.6 111.8 66.5 111.4 48.8 111.3 35.4 111.6 25.3 112.4 17.7 113.6 12.7 114.6 10.2 115.7 8.5 117.1 6.8 118.1 6 120.9 4.3 123.1 3.5 126 2.7 130.3 1.9 137.1 1.2 148.9 0.5 171 -0.1 206.1 -0.2 237.4 0.1 255.1 0.7 264.8 1.4 270.6 2.2 274.3 3 276.9 3.8 280.3 5.5 281.4 6.3 283.1 7.9 284.2 9.6 285.4 12.1 286.7 17.2 287.5 23.9 287.8 33.1 287.8 44.9 287.1 76.1 283.9 166.2 283.5 183.8 283.5 197.3 283.8 207.4 284.5 215 285.7 220 286.8 222.5 287.8 224.2 289.2 225.9 290.2 226.7 293 228.3 295.1 229.2 298.1 230 302.3 230.8 309.1 231.5 320.8 232.2 342.6 232.8 377.5 232.9M40.9 232.6 58.8 232 68.6 231.3 74.4 230.5 78.2 229.7 80.8 228.9 84.2 227.3 85.3 226.4 87 224.8 88.2 223.1 89 221.4 90.3 217.2 91.1 212.2 91.6 204.6 91.8 195.4 91.7 183.6 90.9 154.1 87.9 69.1 87.5 51.4 87.4 37.9 87.6 27 88.2 19.4 89.4 13.6 90.3 11 91.2 9.4 92.4 7.7 94.1 6 96.9 4.4 99 3.6 101.9 2.8 106.2 2 112.9 1.2 124.4 0.5 145.9 -0.1 180.7 -0.2 212.5 0.1 230.7 0.7 240.6 1.4 246.4 2.2 250.3 3 252.9 3.8 256.3 5.4 257.5 6.3 259.1 7.9 260.3 9.6 261.4 12.1 262.7 17.1 263.5 23.9 263.9 33.1 263.9 44.9 263.2 76 260 167 259.6 185.5 259.5 199 259.9 209.1 260.7 215.8 262.1 220.8 263.3 223.3 264.5 225 266.2 226.7 267.5 227.5 271.1 229.1 274 229.9 278.2 230.7 284.8 231.5 296.2 232.2 317.5 232.7 352.1 232.9 384.2 232.6M34.4 232 44.4 231.3 50.3 230.5 54.1 229.7 56.8 228.9 58.7 228.1 60.2 227.3 62.3 225.6 64.2 223.1 65 221.5 65.9 218.9 66.9 213.9 67.5 208 67.8 200.4 67.7 179.4 66.9 151.6 64 70.8 63.4 39.7 63.6 28.7 64.2 20.3 65.2 14.4 66 11.9 66.7 10.2 68.4 7.7 70.1 6.1 71.4 5.2 75 3.6 77.8 2.8 82 2 88.6 1.2 99.9 0.5 120.9 -0 155.3 -0.2 187.6 0.1 206.2 0.6 216.3 1.4 222.3 2.1 226.2 2.9 228.9 3.7 232.3 5.4 233.5 6.2 235.2 7.9 236.3 9.6 237.5 12.1 238.8 17.1 239.6 23.8 239.9 33.1 240 44.9 239.2 76 236 167.8 235.6 186.3 235.6 199.8 236.1 209.9 236.5 214.1 237.1 217.4 237.8 219.9 238.9 222.5 239.9 224.1 241.3 225.8 243.5 227.4 245 228.3 247.1 229.1 249.9 229.9 254.1 230.7 260.5 231.5 271.7 232.2 292.4 232.7 326.7 232.9 359.2 232.7 378.1 232.1 388.3 231.3M26.2 230.6 30.1 229.8 32.8 229 34.7 228.2 37.4 226.5 39.1 224.8 40.7 222.3 42 219 42.8 214.8 43.5 208.9 43.9 195.4 43.6 174.4 40.2 75 39.5 44.7 39.5 33 39.9 24.5 40.4 18.7 41.5 13.6 42.4 11.1 43.2 9.4 45.2 6.9 47.4 5.3 48.9 4.4 50.9 3.6 53.8 2.8 57.9 2 64.3 1.3 75.3 0.5 95.8 -0 129.9 -0.2 162.7 0 181.8 0.6 192.1 1.3 198.2 2.1 202.1 2.9 204.8 3.7 206.8 4.5 209.5 6.2 211.2 7.9 212.4 9.5 213.2 11.2 214.1 13.7 214.8 17.1 215.3 20.4 215.9 28.8 216.1 40.6 215.4 72.6 212 170.3 211.6 188.8 211.7 202.3 212.3 211.5 212.7 214.9 213.4 218.2 214.2 220.7 215.4 223.3 216.5 224.9 218.3 226.6 221 228.2 223 229.1 225.8 229.9 229.9 230.7 236.3 231.4 247.2 232.1 267.4 232.7 301.2 232.9 334.3 232.7 353.6 232.1 364.1 231.4 370.2 230.6 374.2 229.8 376.9 229 380.4 227.4 382.5 225.7 384 224 384.9 222.4 386 219.8 386.8 216.5 387.3 213.1 388 203.9 388.2 190.4 387.9 171.9 384.4 70.9 383.9 51.5 383.7 38 384 26.3 384.8 17.8 385.5 14.5 386.3 12 387.5 9.5 388.7 7.8M21.2 7 23.4 5.3 26.9 3.7 29.7 2.8 33.7 2.1 40.1 1.3 50.8 0.6 70.8 -0 104.4 -0.2 137.7 0 157.3 0.6 167.9 1.3 174.1 2.1 178.1 2.9 180.8 3.7 182.8 4.5 185.5 6.2 187.2 7.8 188.4 9.5 189.6 12 190.4 14.5 191 17.9 191.5 21.2 192 30.5 192.1 44 191.7 62.5 188.3 160.1 187.7 192.1 187.8 203.9 188.4 212.3 188.9 215.7 189.7 219 190.5 221.5 191.4 223.2 192.6 224.9 194.3 226.6 197 228.2 199 229 201.8 229.8 205.8 230.6 212 231.4 222.7 232.1 242.4 232.7 275.8 232.9 309.3 232.7 329.1 232.1 339.8 231.4 346.1 230.6 350.1 229.8 352.9 229 354.9 228.2 357.6 226.6 360 224.1 361 222.4 362 219.9 363.2 214.8 363.8 209 364.2 200.5 364.2 189.6 363.5 159.3 360.8 83.5 360 55.7 359.8 34.7 360 27.1 360.5 21.2 361.2 16.2 362.3 12 364 8.7 366.4 6.2 369.1 4.5 371.1 3.7 373.8 2.9 377.8 2.1 384 1.3M26.3 0.6 45.8 0 79 -0.2 112.7 -0 132.8 0.6 143.6 1.3 149.9 2 154 2.8 156.8 3.7 158.8 4.5 160.3 5.3 162.5 7 163.9 8.6 164.9 10.3 165.9 12.8 166.6 15.3 167.2 18.7 167.7 22.9 168.1 33 168.1 46.4 167.7 65 164.5 156.7 163.8 187.9 163.8 199.7 164.2 208.9 165 215.6 166.3 220.7 167.4 223.2 168.6 224.9 170.3 226.5 171.5 227.4 175 229 177.7 229.8 181.7 230.6 187.8 231.4 198.2 232.1 217.5 232.7 250.4 232.9 284.3 232.7 304.6 232.1 315.6 231.4 322 230.7 326.1 229.9 328.9 229.1 330.9 228.2 333.6 226.6 335.4 224.9 336.6 223.3 337.4 221.6 338.3 219.1 339.4 213.2 340.1 205.6 340.3 194.7 340.2 181.2 339.7 163.5 336.7 78.5 335.9 49 335.9 37.3 336.1 28 336.6 20.4 337.4 15.4 338.1 12.9 339.1 10.4 340.1 8.7 341.5 7 343.6 5.4 345.1 4.5 347.1 3.7 349.8 2.9 353.7 2.1 359.8 1.3 370.1 0.6 389.1 0M53.6 -0.2 87.7 -0 108.3 0.5 119.3 1.2 125.8 2 129.9 2.8 132.7 3.6 134.8 4.4 137.5 6.1 139.9 8.6 140.9 10.3 142 12.8 143.1 17.8 143.9 25.4 144.2 35.5 144.1 48.9 143.7 66.6 140.6 156.7 139.8 187.9 139.8 199.6 140.2 208.9 141 215.6 142.3 220.6 143.5 223.2 144.6 224.8 146.3 226.5 147.5 227.3 150.9 229 153.6 229.8 157.5 230.6 163.5 231.3 173.7 232.1 192.5 232.7 225 232.9 259.3 232.7 280.1 232.2 291.3 231.5 297.8 230.7 302 229.9 304.8 229.1 306.9 228.3 309.7 226.6 311.4 225 312.6 223.3 313.5 221.6 314.4 219.1 315.5 213.2 316.1 205.7 316.4 194.7 316.2 181.3 315.8 163.6 312.8 78.5 312 49.1 311.9 37.3 312.1 28 312.7 20.5 313.5 15.4 314.8 11.2 315.6 9.6 316.7 7.9 318.4 6.2 319.6 5.4 323 3.8 325.7 2.9 329.6 2.1 335.5 1.4 345.6 0.7 364.1 0.1M28.2 -0.2 62.7 -0 83.7 0.5 95.1 1.2 101.7 2 105.8 2.8 108.7 3.6 110.8 4.4 113.6 6.1 114.5 6.9 116 8.6 117 10.2 118 12.7 119.2 17.8 120 25.3 120.3 35.4 120.2 48.9 119.8 66.6 116.6 156.7 115.9 187.8 115.9 199.6 116.3 208.9 117.1 215.6 118.3 220.6 119.5 223.1 120.7 224.8 122.3 226.5 123.5 227.3 126.9 228.9 129.6 229.7 133.4 230.5 139.3 231.3 149.3 232 167.6 232.6 199.6 232.9 234.2 232.7 255.6 232.2 267 231.5 273.7 230.7 277.9 229.9 280.8 229.1 282.9 228.3 285.7 226.7 286.6 225.8 288.1 224.2 289.1 222.5 290.1 220 291.3 214.9 292.1 207.4 292.4 197.3 292.3 183.8 291.9 166.1 288.8 76 288 44.9 288 33.1 288.4 23.9 289.2 17.1 290.5 12.1 291.6 9.6 292.8 7.9 294.5 6.3 295.6 5.4 299 3.8 301.6 3 305.4 2.2 311.3 1.4 321.1 0.7 339.2 0.1 371 -0.2M37.6 -0.1 59.2 0.5 70.8 1.2 77.5 2 81.8 2.7 84.7 3.6 86.8 4.4 88.4 5.2 90.6 6.9 92 8.5 93 10.2 93.8 11.9 94.6 14.4 95.5 19.4 96.1 26.1 96.3 35.4 96.3 48 95.5 78.3 92.5 164.2 92 181.9 91.9 195.4 92.1 205.5 92.7 213 93.9 218.9 94.7 221.4 95.5 223.1 96.7 224.8 98.4 226.4 101 228.1 102.9 228.9 105.5 229.7 109.3 230.5 115.1 231.3 124.8 232 142.7 232.6 174.2 232.9 209.2 232.8 231 232.2 242.8 231.5 249.5 230.8 253.8 230 256.8 229.2 260.5 227.5 261.7 226.7 263.5 225 264.7 223.4 265.5 221.7 266.9 217.5 267.9 210.8 268.4 201.5 268.5 189.7 267.7 157.7 264.5 65.1 264.1 47.5 264.1 34 264.5 23.9 265.2 17.2 266.5 12.1 267.7 9.6 268.8 8 270.5 6.3 273.1 4.6 275 3.8 277.6 3 281.3 2.2 287.1 1.4 296.7 0.7 314.3 0.1 345.6 -0.2 380.7 -0.1M34.7 0.5 46.5 1.2 53.4 1.9 57.7 2.7 60.6 3.5 62.8 4.3 64.4 5.2 66.6 6.8 68.6 9.3 70.1 12.7 71.3 17.7 72 23.6 72.3 30.3 72.4 39.6 72.3 52.2 71.5 80.8 68.6 161.7 68 192.8 68.1 203.7 68.7 212.2 69.7 218 71.1 222.2 72.7 224.7 74.4 226.4 75.5 227.2 78.8 228.9 81.4 229.7 85.2 230.5 90.8 231.3 100.4 232 117.8 232.6 148.8 232.9 184.1 232.8 206.5 232.2 218.5 231.6 225.4 230.8 229.8 230 232.7 229.2 236.5 227.6 237.7 226.7 239.5 225.1 240.7 223.4 241.6 221.7 242.9 217.5 243.9 210.8 244.4 201.6 244.5 189.8 243.8 157.8 240.5 65.2 240.1 46.6 240.1 33.2 240.6 23.1 241 18.9 241.6 15.5 242.3 13 243.3 10.5 244.2 8.8 245.6 7.2 247.6 5.5 249.1 4.7 250.9 3.8 253.5 3 257.2 2.2 262.8 1.5 272.3 0.7 289.5 0.1 320.2 -0.2 355.6 -0.1 378.3 0.4M22.2 1.1 29.2 1.9 33.6 2.7 36.6 3.5 38.7 4.3 41.6 6 42.6 6.8 44.1 8.5 45.1 10.1 45.9 11.8 47 16 47.8 21 48.2 26.9 48.4 34.5 48.3 55.5 47.4 83.3 44.7 159.1 44 189.4 44.1 200.3 44.4 208.8 45.1 214.6 46.2 219.7 47.2 222.2 48.1 223.9 50.4 226.4 52.9 228 54.8 228.8 57.4 229.6 61 230.4 66.6 231.2 75.9 232 93 232.6 123.4 232.9 158.9 232.8 181.9 232.3 194.2 231.6 201.2 230.8 205.7 230 208.7 229.2 210.8 228.4 213.7 226.8 215.5 225.1 216.8 223.4 217.6 221.8 218.6 219.2 219.7 213.4 220.4 205 220.6 192.3 219.9 159.5 216.5 62.7 216.2 44.2 216.3 30.7 216.8 21.4 217.9 14.7 218.6 12.2 219.8 9.7 220.9 8 222.5 6.4 225 4.7 226.9 3.9 229.5 3.1 233.1 2.3 238.6 1.5 247.8 0.8 264.6 0.1 294.8 -0.2 330.5 -0.1 353.7 0.4 366.1 1.1 373.3 1.9 377.7 2.7 380.8 3.5 382.9 4.3 385.8 5.9 387.6 7.6 389.4 10.1M21.6 10.9 22.9 15.1 23.8 21 24.4 29.4 24.5 40.4 23.9 72.3 21.2 146.4M389.4 147.3 388.6 174.2 388.3 192.7 388.5 205.4 388.8 210.4 389.3 214.6M21.3 215.4 22.3 219.6 23.7 223 25.5 225.5 27.5 227.2 28.9 228 30.8 228.8 33.3 229.6 36.9 230.4 42.4 231.2 51.5 231.9 68.1 232.6 98 232.9 133.8 232.8 157.3 232.3 169.9 231.6 177.1 230.9 181.6 230.1 184.6 229.3 186.8 228.4 189.7 226.8 191.6 225.1 192.8 223.5 194 220.9 194.8 218.4 195.4 215.9 196.3 208.3 196.6 196.6 196.6 183.1 196.1 163.7 193.2 81.2 192.4 52.6 192.3 31.6 192.6 24.8 193.1 19 194.1 13.9 195.4 10.6 196.9 8.1 198.5 6.4 199.6 5.6 202.9 3.9 205.4 3.1 209 2.3 214.4 1.5 223.4 0.8 239.8 0.2 269.4 -0.2 305.3 -0.1 329.1 0.4 341.8 1.1 349.1 1.8 353.6 2.6 356.7 3.4 358.9 4.2 361.8 5.9 362.9 6.7 364.4 8.4 365.4 10.1 366.5 12.6 367.2 15.1 367.8 18.5 368.5 26.9 368.8 39.5 368.1 72.3 364.8 168.3 364.4 186 364.4 198.6"/></g><circle cx="80.5" cy="84.6" r="1.7" fill="none" stroke="#A2142F" stroke-width="0.5"/><circle cx="141.5" cy="82.7" r="1.7" fill="none" stroke="#EDB120" stroke-width="0.5"/><circle cx="264.4" cy="77.7" r="1.7" fill="none" stroke="#D95319" stroke-width="0.5"/><circle cx="386.5" cy="86.2" r="1.7" fill="none" stroke="#7E2F8E" stroke-width="0.5"/><g clip-path="url(#clipa)"><use href="#coast" transform="translate(0 116.35)"/></g><rect x="21.2" y="0.3" width="368.2" height="232.1" fill="none" stroke="#8a8a8a" stroke-width="0.6"/><line x1="21.2" x2="389.4" y1="0.9" y2="0.9" stroke="#E99A22" stroke-width="1.5"/><line x1="21.2" x2="389.4" y1="231.6" y2="231.6" stroke="#E8A030" stroke-width="1.5"/><g font-size="6.9" fill="#333"><text transform="translate(18.2 223.6) scale(0.9 1)" text-anchor="end">-80</text><text transform="translate(18.2 197.3) scale(0.9 1)" text-anchor="end">-60</text><text transform="translate(18.2 171.2) scale(0.9 1)" text-anchor="end">-40</text><text transform="translate(18.2 145.0) scale(0.9 1)" text-anchor="end">-20</text><text transform="translate(18.2 118.8) scale(0.9 1)" text-anchor="end">0</text><text transform="translate(18.2 92.5) scale(0.9 1)" text-anchor="end">20</text><text transform="translate(18.2 66.3) scale(0.9 1)" text-anchor="end">40</text><text transform="translate(18.2 40.1) scale(0.9 1)" text-anchor="end">60</text><text transform="translate(18.2 13.9) scale(0.9 1)" text-anchor="end">80</text><text transform="translate(51.9 241.9) scale(0.9 1)" text-anchor="middle">-150</text><text transform="translate(103.0 241.9) scale(0.9 1)" text-anchor="middle">-100</text><text transform="translate(154.2 241.9) scale(0.9 1)" text-anchor="middle">-50</text><text transform="translate(205.3 241.9) scale(0.9 1)" text-anchor="middle">0</text><text transform="translate(256.4 241.9) scale(0.9 1)" text-anchor="middle">50</text><text transform="translate(307.6 241.9) scale(0.9 1)" text-anchor="middle">100</text><text transform="translate(358.7 241.9) scale(0.9 1)" text-anchor="middle">150</text></g><text x="205.3" y="250.4" font-size="7.15" fill="#333" text-anchor="middle">Longitude [°]</text><text transform="translate(6.3 116.3) rotate(-90)" font-size="7.15" fill="#333" text-anchor="middle">Latitude [°]</text><rect x="302.3" y="5.8" width="82.0" height="44.8" fill="#fff" stroke="#999" stroke-width="0.5"/><line x1="304.6" x2="323.0" y1="9.5" y2="9.5" stroke="#D95319" stroke-width="0.55"/><text x="324.5" y="11.5" font-size="5.75" fill="#222">sat 1 inc 89° alt 438km</text><line x1="304.6" x2="323.0" y1="17.0" y2="17.0" stroke="#77AC30" stroke-width="0.55"/><text x="324.5" y="19.0" font-size="5.75" fill="#222">sat 2 inc 89° alt 438km</text><line x1="304.6" x2="323.0" y1="24.5" y2="24.5" stroke="#0072BD" stroke-width="0.55"/><text x="324.5" y="26.5" font-size="5.75" fill="#222">sat 3 inc 89° alt 438km</text><line x1="304.6" x2="323.0" y1="31.9" y2="31.9" stroke="#7E2F8E" stroke-width="0.55"/><text x="324.5" y="33.9" font-size="5.75" fill="#222">sat 4 inc 89° alt 438km</text><line x1="304.6" x2="323.0" y1="39.4" y2="39.4" stroke="#A2142F" stroke-width="0.55"/><text x="324.5" y="41.4" font-size="5.75" fill="#222">sat 5 inc 89° alt 438km</text><line x1="304.6" x2="323.0" y1="46.9" y2="46.9" stroke="#EDB120" stroke-width="0.55"/><text x="324.5" y="48.9" font-size="5.75" fill="#222">sat 6 inc 89° alt 438km</text><text transform="translate(194.4 271.0) scale(0.93 1)" font-size="15.6" fill="#000" text-anchor="middle">(a)</text><clipPath id="clipc"><rect x="21.2" y="291.2" width="368.2" height="231.7"/></clipPath><rect x="21.2" y="291.2" width="368.2" height="231.7" fill="#fff"/><path d="M21.2 511.9H389.4M21.2 485.7H389.4M21.2 459.5H389.4M21.2 433.2H389.4M21.2 407.1H389.4M21.2 380.9H389.4M21.2 354.6H389.4M21.2 328.4H389.4M21.2 302.2H389.4M51.9 291.2V522.9M103.0 291.2V522.9M154.2 291.2V522.9M205.3 291.2V522.9M256.4 291.2V522.9M307.6 291.2V522.9M358.7 291.2V522.9" stroke="#e6e6e6" stroke-width="0.6" fill="none"/><g clip-path="url(#clipc)" fill="none" stroke-width="0.5" stroke-opacity="0.8"><path stroke="#D95319" d="M205.3 407.1 203.3 347.1 203.1 330.3 203.3 318.5 204 310 205.1 304.1 206.1 301.6 206.9 299.9 208.2 298.3 210 296.6 212.9 295 215.1 294.1 218.2 293.3 222.7 292.5 230 291.8 242.7 291.1 266.5 290.6 302.5 290.5 332.1 290.9 348.5 291.5 357.5 292.2 363 293 366.5 293.8 369 294.6 372.3 296.3 374.3 297.9 375.6 299.6 376.9 302.1 377.8 304.6 378.5 308 379 312.2 379.6 324 379.6 338.4 379.2 357.8 375.5 467.5 375.3 486.9 375.7 499.5 376.2 504.6 377 508.8 378.1 512.1 379.4 514.7 380.8 516.3 382.9 518 386.3 519.6 389 520.4M24.6 521.2 30.6 522 40.6 522.7 59.1 523.3 91.4 523.6 125.9 523.4 147.1 522.9 158.4 522.2 165 521.4 169.2 520.6 172.1 519.8 174.1 519 175.7 518.2 177.9 516.5 179.3 514.8 180.3 513.2 181.4 510.6 182 508.1 183 501.4 183.6 491.3 183.6 477.8 183.2 459.2 179.9 365.5 179.2 333.5 179.3 320.8 179.8 312.4 180.9 305.7 182.2 301.5 183.2 299.8 184.4 298.1 186.3 296.4 187.7 295.6 191.7 294 195 293.2 200 292.4 208 291.6 222.4 291 248.9 290.5 285.4 290.5 312.3 291 326.8 291.6 334.9 292.4 339.9 293.2 343.2 294 345.5 294.8 348.6 296.4 349.7 297.3 351.2 298.9 352.7 301.4 354.1 305.7 355.1 311.5 355.6 320 355.8 330.9 355.1 362.2 352.3 442.3 351.5 471 351.4 483.7 351.5 492.9 351.8 499.7 352.5 505.6 353.6 510.6 355.1 514 357.1 516.5 359.3 518.1 360.8 519 362.9 519.8 365.7 520.6 369.9 521.4 376.4 522.2 387.6 522.9M40.3 523.4 74.7 523.6 107.2 523.4 125.9 522.8 136.1 522 142.1 521.3 145.9 520.5 148.6 519.6 150.6 518.8 153.2 517.2 154.9 515.5 156.1 513.8 157.2 511.3 158.5 506.3 159.4 498.7 159.7 488.6 159.7 475.1 159.3 457.4 156.1 367.1 155.3 335.8 155.4 324 155.7 314.8 156.5 308 157.7 303 158.9 300.5 160 298.8 161.6 297.1 162.7 296.3 165.9 294.6 168.4 293.8 171.9 293 177.3 292.2 186.2 291.5 202.4 290.9 231.8 290.5 267.9 290.6 291.9 291.1 304.8 291.8 312.1 292.5 316.7 293.3 319.8 294.1 322 294.9 324.9 296.6 326.8 298.3 328 299.9 328.9 301.6 329.8 304.1 331 310 331.6 317.6 331.9 328.6 331.8 342.1 331.3 359.8 328.4 443.3 327.6 472.8 327.5 484.7 327.6 493.9 328 500.7 328.7 506.6 329.3 509.1 330.1 511.6 330.8 513.3 331.9 515 333.4 516.6 334.4 517.5 337.3 519.1 339.5 519.9 342.5 520.8 347 521.5 354.2 522.3 366.8 523M22.1 523.5 58 523.6 87.9 523.3 104.5 522.6 113.6 521.9 119 521.1 122.6 520.3 125.2 519.5 127 518.7 129.5 517 131.2 515.3 132.3 513.7 133.4 511.1 134.7 506.1 135.4 499.4 135.8 489.2 135.8 475.8 135.4 457.2 132.2 366.9 131.5 335.7 131.5 323.9 131.8 314.6 132.6 307.9 133.9 302.8 135.1 300.3 136.2 298.6 137.9 297 139 296.1 142.4 294.5 145.1 293.7 148.9 292.9 154.8 292.1 164.7 291.4 183 290.8 215.1 290.5 249.8 290.7 271.2 291.2 282.7 291.9 289.3 292.7 293.5 293.5 296.4 294.3 298.5 295.1 301.3 296.8 302.2 297.6 303.7 299.3 304.7 300.9 305.7 303.5 306.9 308.5 307.7 316.1 308 326.2 307.9 339.7 307.5 357.4 304.4 446.9 303.6 477.2 303.6 489 303.9 498.3 304.6 505.1 305.7 510.1 306.6 512.6 307.5 514.3 308.8 516 310.7 517.6 313.8 519.3 316.1 520.1 319.4 520.9 324.3 521.7 332.2 522.4 346.4 523.1 372.7 523.6M41 523.6 68.1 523.1 82.8 522.5 90.9 521.7 96 521 99.3 520.1 101.7 519.3 104.8 517.7 106.7 516 108 514.3 108.9 512.7 109.8 510.1 110.9 505.1 111.6 498.4 111.9 489.1 111.9 477.3 111.2 446.9 108 357.5 107.6 339.7 107.5 326.2 107.9 316.1 108.6 308.5 109.8 303.5 110.8 301 111.8 299.3 113.2 297.6 114.2 296.8 117 295.1 119 294.3 121.8 293.5 126 292.7 132.4 291.9 143.5 291.2 164.2 290.7 198.4 290.5 231.1 290.7 250.1 291.3 260.3 292.1 266.4 292.8 270.3 293.6 273 294.4 274.9 295.3 277.6 296.9 279.9 299.4 280.9 301.1 281.9 303.6 283 308.7 283.8 316.2 284.1 326.4 284 339.9 283.6 357.6 280.5 447 279.7 478.2 279.7 490 280.1 499.3 280.9 506.1 282.1 511.1 283.2 513.6 284.3 515.3 286 517 287 517.8 290.3 519.4 292.7 520.3 296.3 521.1 301.6 521.8 310.4 522.6 326.4 523.2 355.6 523.6M23.5 523.5 47.8 523 60.8 522.3 68.2 521.6 72.8 520.8 75.9 520 78.2 519.2 79.8 518.3 82.1 516.7 84.2 514.2 85.1 512.5 86 510 87.1 504.9 87.7 498.2 88 488.9 88 477.1 87.3 446.7 84.1 357.3 83.7 339.6 83.7 326.1 84 316 84.8 308.4 86 303.3 87 300.8 88 299.1 89.5 297.5 90.5 296.6 93.4 295 95.6 294.2 98.6 293.4 103.1 292.6 110.2 291.8 122.7 291.1 146 290.6 181.7 290.5 211.9 290.8 228.7 291.5 237.8 292.2 243.4 293 247 293.8 249.5 294.6 252.8 296.2 253.9 297.1 255.5 298.7 256.6 300.4 257.8 302.9 259 308 259.8 314.7 260.2 324 260.2 335.8 259.4 367 256.3 457.3 255.9 475 255.8 488.5 256.2 498.6 257 506.2 258.3 511.3 259.4 513.8 260.6 515.5 262.3 517.1 264.9 518.8 266.8 519.6 269.4 520.4 273.2 521.2 279.1 522 288.9 522.7 307 523.3 338.8 523.6 373.7 523.5M27.1 522.9 38.7 522.2 45.4 521.4 49.6 520.6 52.5 519.8 54.6 519 56.2 518.2 58.4 516.5 60.4 514 61.9 510.7 63.1 505.6 63.7 499.7 64.1 493 64.2 483.7 64 471 63.2 442.4 60.4 362.2 59.8 331 59.9 320 60.5 311.6 61.4 305.7 62.8 301.5 64.3 299 65.8 297.3 66.9 296.5 69.9 294.8 72.2 294 75.5 293.2 80.3 292.4 88.2 291.7 102.2 291 128.3 290.5 164.7 290.5 192.1 290.9 207 291.6 215.2 292.3 220.3 293.1 223.6 293.9 227.8 295.6 229.1 296.4 231.1 298.1 232.3 299.7 233.3 301.4 234.7 305.6 235.7 312.4 236.2 320.8 236.3 333.4 235.6 365.5 232.3 459.2 232 477.7 232 491.2 232.5 501.3 233.5 508.1 234.2 510.6 235.2 513.1 236.2 514.8 237.6 516.5 239.8 518.1 241.3 518.9 243.3 519.8 246.2 520.6 250.3 521.4 256.7 522.1 267.6 522.8 288.1 523.4 322.1 523.6 355 523.4 374.2 522.8 384.6 522.1M22.4 521.3 26.4 520.5 29.1 519.7 31.1 518.9 33.7 517.2 35.4 515.5 37.1 513 38.3 509.7 39.2 505.5 39.9 499.6 40.3 486.1 40 465 36.6 364.6 35.9 333.3 36 321.5 36.4 313.1 37.2 307.2 37.8 304.7 38.6 302.2 39.4 300.5 40.5 298.8 42.1 297.2 43.2 296.3 46.4 294.7 48.9 293.9 52.4 293 57.6 292.3 66.4 291.5 82.2 290.9 111.1 290.5 147.3 290.6 171.9 291.1 185 291.7 192.5 292.5 197.1 293.3 200.3 294.1 204.2 295.7 205.5 296.6 207.3 298.2 208.6 299.9 209.5 301.6 210.8 305.8 211.8 312.5 212.4 321.8 212.4 333.6 211.7 365.7 208.4 459.3 208.1 477.9 208.1 491.4 208.6 501.5 209.6 508.2 210.3 510.7 211.4 513.3 212.4 514.9 213.9 516.6 216.1 518.3 219.9 519.9 222.9 520.7 227.4 521.5 234.4 522.3 246.8 523 269.8 523.5 305.4 523.6 335.9 523.3 352.8 522.6 362.1 521.9 367.7 521.1 371.3 520.3 373.8 519.5 377.1 517.9 379.2 516.2 380.5 514.5 381.8 512 382.7 509.5 383.4 506.1 384 501.9 384.6 490.1 384.5 475.8 384.1 456.4 380.4 348.4 380.2 329.8 380.5 317.2 380.8 312.1 381.4 307.9 382.1 304.5 383 302 384.3 299.5 385.7 297.8 387.8 296.2 389.2 295.3M22.9 294.5 25.5 293.7 29.3 292.9 35.1 292.1 44.8 291.4 62.7 290.8 94.3 290.5 129.3 290.6 151.2 291.2 162.9 291.9 169.7 292.6 173.9 293.4 176.9 294.2 180.6 295.9 182.8 297.6 184.2 299.2 185.2 300.9 186.3 303.4 187 305.9 188 312.7 188.5 322.8 188.5 336.3 188.1 354.9 184.9 448.5 184.1 480.6 184.2 492.4 184.7 501.7 185.8 508.4 187.2 512.6 188.1 514.3 189.3 515.9 191.2 517.6 192.5 518.4 196.5 520.1 199.8 520.9 204.6 521.7 212.4 522.4 226.3 523.1 252.1 523.6 288.5 523.6 316.1 523.2 331.1 522.5 339.5 521.8 344.6 521 348 520.2 350.4 519.4 353.5 517.7 354.6 516.9 356.1 515.2 357.2 513.5 358 511.9 358.8 509.3 359.4 506.8 360.2 500.9 360.6 492.5 360.7 481.5 360 450.3 357.3 373.5 356.5 346.5 356.3 325.4 356.5 317.8 357 311.9 357.7 306.9 358.8 302.7 360.6 299.3 362.9 296.8 365.7 295.2 367.7 294.4 370.5 293.5 374.5 292.7 380.9 292M23.6 291.3 43.8 290.7 77.6 290.5 110.8 290.7 130.1 291.3 140.6 292 146.7 292.8 150.7 293.6 153.4 294.4 155.4 295.2 158.1 296.9 159.8 298.6 161 300.2 162.2 302.7 163.5 307.8 164.3 315.4 164.6 325.5 164.6 339 164.2 356.7 161 447 160.3 478.2 160.3 490 160.7 499.3 161.4 506 162.7 511.1 163.8 513.6 164.9 515.3 166.5 516.9 167.6 517.8 170.7 519.4 173.2 520.2 176.7 521 181.9 521.8 190.6 522.6 206.2 523.2 234.8 523.6 271.1 523.5 295.9 523.1 309.2 522.4 316.8 521.6 321.5 520.8 324.6 520 326.9 519.2 329.8 517.6 331.7 515.9 332.9 514.2 333.8 512.5 334.8 510 335.9 504.1 336.6 496.5 336.8 485.6 336.7 472.1 336.2 453.5 333.3 370.8 332.5 342.1 332.4 330.3 332.5 321.1 332.9 314.3 333.5 308.4 334.7 303.4 336.2 300 338.3 297.5 340.5 295.8 342.1 295 344.3 294.2 347.3 293.4 351.7 292.6 358.7 291.8 370.8 291.1M25.4 290.6 61 290.5 91.6 290.8 108.8 291.4 118.1 292.2 123.7 292.9 127.4 293.8 130 294.6 131.9 295.4 134.4 297 136.1 298.7 137.2 300.4 138.3 302.9 139.6 308 140.4 315.5 140.8 325.7 140.7 339.1 140.3 356.9 137.1 447.2 136.4 478.4 136.4 490.2 136.8 499.4 137.6 506.2 138.8 511.2 140 513.8 141.1 515.4 142.8 517.1 143.9 517.9 147.3 519.6 149.9 520.4 153.6 521.2 159.4 522 169 522.7 186.7 523.3 218 523.6 253.2 523.5 275.3 522.9 287.1 522.2 293.9 521.5 298.3 520.7 301.2 519.9 303.3 519 306.2 517.4 307.1 516.6 308.6 514.9 309.6 513.2 310.7 510.7 311.8 505.6 312.6 498.1 312.9 487.9 312.9 474.4 312.5 456.7 309.3 367.3 308.6 336.9 308.5 325.1 308.9 315.8 309.5 309.1 310.6 304 311.5 301.5 312.4 299.8 313.7 298.2 315.6 296.5 318.6 294.9 320.9 294 324.1 293.2 328.9 292.4 336.6 291.7 350.3 291 375.8 290.5M44 290.5 71.9 290.9 87.1 291.6 95.5 292.3 100.7 293.1 104.1 293.9 106.5 294.7 109.6 296.4 111.6 298 112.9 299.7 113.8 301.4 114.8 303.9 115.9 309 116.5 315.7 116.9 325 116.9 336.8 116.1 367.2 113 456.6 112.6 474.3 112.5 487.8 112.8 497.9 113.6 505.5 114.7 510.6 115.7 513.1 116.7 514.8 119.1 517.3 121.8 518.9 123.8 519.7 126.6 520.5 130.6 521.3 136.9 522.1 147.7 522.8 167.7 523.4 201.3 523.6 234.7 523.4 254.3 522.8 264.8 522.1 271 521.3 275 520.5 277.8 519.7 279.8 518.9 282.5 517.2 284.8 514.7 285.8 513.1 286.8 510.5 288 505.5 288.7 497.9 289 487.8 289 474.3 288.6 456.6 285.4 367.1 284.7 336.8 284.7 324.9 285 315.7 285.7 308.9 286.8 303.9 287.7 301.4 288.7 299.7 290 298 291.9 296.3 295.1 294.7 297.5 293.9 301 293.1 306.2 292.3 314.7 291.6 330.2 290.9 358.6 290.5M26.7 290.6 51.8 291 65.2 291.7 72.8 292.5 77.6 293.3 80.7 294.1 83 294.9 84.7 295.7 87 297.4 89.1 299.9 90 301.6 90.9 304.1 92 309.1 92.7 315.9 93 325.1 93 336.9 92.2 367.3 89.1 456.8 88.7 474.5 88.6 488 88.9 498.1 89.7 505.7 90.9 510.7 91.9 513.2 93 514.9 94.4 516.6 95.4 517.4 98.3 519.1 100.4 519.9 103.4 520.7 107.7 521.5 114.7 522.3 126.7 522.9 149.3 523.5 184.7 523.6 215.6 523.3 232.9 522.7 242.4 521.9 248.1 521.2 251.7 520.4 254.3 519.5 257.7 517.9 258.8 517.1 260.4 515.4 261.6 513.7 262.7 511.2 264 506.2 264.7 499.4 265.1 490.2 265.1 478.3 264.4 447.1 261.2 356.8 260.8 339.1 260.8 325.6 261.1 315.5 261.9 307.9 263.2 302.9 264.4 300.4 265.5 298.7 267.1 297 269.7 295.4 271.6 294.5 274.2 293.7 277.9 292.9 283.6 292.1 293.1 291.4 310.6 290.8 341.7 290.5 377 290.6M31.2 291.2 43.1 291.9 50 292.6 54.4 293.4 57.3 294.2 59.5 295 61.1 295.9 63.3 297.5 65.3 300 66.8 303.4 68 308.4 68.7 314.3 69 321.1 69.1 330.4 69 343 68.2 371.7 65.3 451.9 64.7 483.1 64.8 494 65.4 502.5 66.3 508.4 67.7 512.6 69.2 515.1 70.7 516.7 71.7 517.6 74.7 519.2 77 520 80.2 520.9 84.9 521.6 92.6 522.4 106.1 523.1 131.4 523.5 167.8 523.6 195.9 523.2 211.3 522.5 219.8 521.8 225 521 228.4 520.2 232.6 518.6 234 517.7 235.9 516.1 237.3 514.4 238.2 512.7 239.6 508.5 240.7 501.8 241.2 493.4 241.3 480.7 240.5 448.7 237.3 355 236.9 336.4 236.9 322.9 237.4 312.8 238.4 306.1 239.1 303.6 240.1 301 241.1 299.4 242.5 297.7 244.6 296 246.1 295.2 248.2 294.4 250.9 293.6 254.9 292.8 261.2 292 271.8 291.3 291.6 290.7 325 290.5 358.6 290.7 378.4 291.3 389.1 292M27.1 292.8 31.1 293.6 33.9 294.4 35.9 295.2 38.6 296.9 40.3 298.5 42 301 43.2 304.4 44.1 308.6 44.8 314.5 45.2 328 45 349.1 41.6 447 40.9 475.6 40.8 486.6 41 495 41.4 501.8 42.1 506.8 43.2 511 44.8 514.4 47 516.9 49.4 518.6 53.6 520.2 57.1 521 62.2 521.8 70.7 522.5 86 523.2 114.1 523.6 150.5 523.5 175.8 523.1 189.4 522.4 197.1 521.6 201.9 520.9 205.1 520.1 207.3 519.2 210.3 517.6 212.2 515.9 213.5 514.2 214.4 512.6 215.3 510 216.5 504.2 217.2 495.7 217.4 483.1 216.7 451 213.3 352.3 213 333.7 213.1 320.2 213.8 310.1 214.4 306.8 215.3 303.4 216.3 300.9 217.3 299.2 218.8 297.5 221 295.9 224.7 294.2 227.7 293.4 232 292.6 238.9 291.9 250.8 291.2 273.1 290.6 308.4 290.5 339.5 290.8 357.1 291.4 366.6 292.1 372.4 292.9 376.1 293.7 378.7 294.5 380.6 295.4 383.1 297 385.4 299.5 387.1 302.9 388.2 307.1 389 313 389.4 319.7M21.2 320.6 21.3 329.8 21.2 342.5M389.4 343.3 388.6 372 385.7 452.2 385.1 483.4 385.3 496 386.1 504.5 386.6 507.8 387.3 510.4 388.3 512.9 389.2 514.6M21.7 515.4 23.3 517.1 24.4 517.9 27.7 519.5 30.3 520.4 34 521.2 39.6 521.9 49.1 522.7 66.4 523.3 97.2 523.6 132.7 523.5 155.3 523 167.4 522.3 174.3 521.5 178.7 520.7 181.7 519.9 185.4 518.2 186.7 517.4 188.5 515.8 189.7 514.1 190.9 511.6 191.7 509 192.2 506.5 192.8 502.3 193.2 498.1 193.5 486.3 193.4 472.8 192.9 453.4 189.4 349.6 189.1 330.2 189.4 316.7 189.9 310.8 190.5 306.6 191.4 303.2 192.5 300.7 194.2 298.2 196.1 296.5 199.1 294.9 201.3 294.1 204.5 293.3 209.2 292.5 216.8 291.7 230.2 291 255.2 290.6 291.5 290.5 320 290.9 335.5 291.5 344.1 292.3 349.3 293.1 352.8 293.9 355.2 294.7 357 295.5 359.4 297.2 361 298.8 362.1 300.5 363.2 303 364 305.6 365 312.3 365.6 322.4 365.6 335.9 365.2 354.5 362.7 427.9"/><path stroke="#77AC30" d="M297.4 315.4 306.7 315.7 317.4 316.9 322.3 317.8 326.8 318.9 335 321.5 341.9 324.7 344.9 326.4 348.4 328.8 353.8 333.4 356.4 336.1 358.7 338.8 362.8 344.6 366.5 351.2 369.9 358.8 373.2 368.1 375.9 376.7 378.6 386.9 389.2 431.3M21.3 432.1 24.7 443.9 28.2 453.9 31.8 462.3 35.9 469.7 38.4 473.3 40.5 476.1 43 478.9 45.7 481.5 51.2 486 54.9 488.4 58 490.1 62.6 492.2 66.4 493.6 72.1 495.3 76.7 496.4 81.6 497.3 86.8 498 97.9 498.7 109.1 498.5 114.6 498.1 121.6 497.2 126.5 496.2 131.1 495.1 135.3 493.9 140.4 492 144.9 489.8 149.9 487 154.1 483.9 158.5 479.9 162.2 475.8 165.3 471.5 168.5 466.4 171.2 461.2 173.5 455.9 175.9 449.8 180 436.5 183.7 422.3 192.4 385.8 195.1 375.5 197.8 367 201.3 357.7 204.8 350.2 206.8 346.5 209.1 342.8 213.4 337.1 216.5 333.7 220.2 330.5 223.5 328 227.2 325.6 231.5 323.4 235 321.8 240.2 320 244.5 318.7 250.7 317.3 255.8 316.5 266.6 315.5 277.9 315.4 283.5 315.7 290.6 316.5 298.9 317.9 306.3 319.9 313.9 322.8 320.3 326.1 325.6 329.7 330.7 334.3 335.5 339.8 339.4 345.6 342.6 351.5 345.4 357.6 348 364.5 350.8 373.1 355.3 389.6 365.1 430.9 368.2 441.9 371.3 451.2 375.1 460.3 379 467.8 381.3 471.4 383.9 475 386.2 477.8 388.8 480.5M21.2 481.2 25.8 485 30.3 488.1 35.6 490.8 41.7 493.3 48.7 495.5 55 496.8 63.6 498 70.9 498.6 78.4 498.7 87.8 498.3 94.9 497.6 103.1 496.1 109.1 494.5 115.7 492.2 121.4 489.6 127.2 486.1 130.5 483.6 134.1 480.3 137.3 476.9 140 473.4 142.5 469.8 145 465.4 147.3 460.9 149.6 455.6 153.3 445.5 156.8 433.8 160 421.2 168 387 170.6 377.6 173.2 369 176.2 360.4 179.4 352.8 183 346.1 186.8 340.4 189.6 336.9 192.1 334.1 194.9 331.5 198.1 328.9 201.7 326.5 204.7 324.8 209.1 322.6 212.8 321.1 218.2 319.4 222.6 318.2 227.4 317.2 232.5 316.4 243.4 315.5 254.7 315.5 263.9 316.1 269.1 316.8 274 317.8 281.5 319.6 289.2 322.5 295.7 325.7 298.6 327.5 301.9 330 307 334.6 311.7 340.1 315.6 345.9 318.8 351.9 322.1 359.4 325.2 367.9 327.8 376.5 330.4 386 339.2 423.3 342.9 437.5 345.1 444.5 347.5 451.5 349.9 457.6 352.3 462.9 355.6 468.8 359 473.9 363.1 478.8 367.2 482.8 372.1 486.5 377 489.4 382.6 492.1 389.2 494.4M22.4 494.8 28.4 496.3 33.3 497.2 40.3 498.1 45.8 498.5 53.3 498.7 59 498.6 64.5 498.3 71.6 497.5 76.6 496.6 82.8 495.2 87.1 493.9 92.2 492 96.7 489.9 100.8 487.6 104.4 485.2 107.6 482.7 110.4 480 112.9 477.3 115.7 473.8 118.2 470.2 120.4 466.5 122.7 462.1 126.7 453 129.9 443.7 133.3 431.9 136.3 420 143.9 387.5 146.4 378 148.8 370.2 151.7 361.7 154.9 354 158.3 347.3 162 341.5 164.7 338 167.1 335.2 169.8 332.5 172.8 329.9 176.2 327.4 179.1 325.7 183.3 323.4 186.8 321.9 194.8 319.2 199.3 318.1 204.1 317.1 209.2 316.3 214.6 315.8 225.8 315.4 235.2 315.7 244.1 316.7 252.2 318.2 256.7 319.4 260.8 320.7 268 323.7 274 327.2 276.7 329 279.8 331.6 284.5 336.2 289 341.9 293 348.4 296.7 356 300 364.4 302.8 372.9 305.6 383.2 315.7 425.2 318.1 434.7 320.4 442.5 323.3 451.1 326 458 329.3 464.7 332.7 470.6 336.9 476.3 339.3 479.1 342 481.7 345.1 484.3 347.6 486.2 351.4 488.5 354.5 490.2 361.7 493.3 365.7 494.6 370.2 495.8 374.9 496.8 380 497.6 389 498.5M22.6 498.6 32 498.7 43.1 498 51.7 496.8 56.4 495.8 60.9 494.6 68.7 491.8 75.2 488.6 78.1 486.8 81.5 484.3 86.7 479.7 91.4 474.2 95.7 467.7 99.6 460.3 103.1 451.9 106.2 442.5 109.4 431.6 112.3 419.7 119.8 387.9 122.3 378.5 124.6 370.6 127.5 362.1 130.7 354.5 134.1 347.7 137.7 341.9 140.3 338.4 142.7 335.6 145.4 332.9 148.3 330.3 151.7 327.8 154.5 326 158.6 323.8 162.1 322.2 169.9 319.4 174.4 318.3 179.2 317.3 184.2 316.5 189.6 315.9 200.7 315.4 212 315.8 217.3 316.3 222.5 317.1 227.3 318 231.8 319.2 239.8 321.9 243.3 323.4 247.6 325.7 250.4 327.4 253.8 329.9 256.8 332.5 259.5 335.2 262 337.9 264.7 341.5 268.3 347.3 271.8 354 274.9 361.6 277.9 370.2 280.2 378 282.7 387.5 290.4 420 293.4 431.9 296.5 442.9 299.7 452.2 303.5 461.3 307.5 468.7 312 475.2 314.3 478 316.9 480.7 319.8 483.3 323.1 485.8 326.8 488.2 329.9 489.9 336.9 493 340.9 494.3 345.3 495.6 350 496.6 355 497.4 365.7 498.5 377 498.7 388.1 497.9M21.6 497.7 30 496.3 37.5 494.4 45.2 491.6 51.7 488.3 54.5 486.5 57.9 484.1 62.9 479.5 67.6 473.9 71.5 468.1 74.7 462.2 77.4 456.1 80 449.2 82.8 440.7 87.1 424.9 96.7 384.4 99.5 374.2 102.2 365.6 105.5 357.2 109 349.6 112.9 343 117.1 337.4 119.6 334.6 122.4 332 125.5 329.4 128.1 327.5 134 324.1 141.1 321 145.1 319.7 149.5 318.5 157.5 316.9 166.3 315.8 175.7 315.4 186.9 315.7 197.5 316.9 202.4 317.8 207 318.9 215.1 321.6 218.7 323.1 223 325.3 225.9 327.1 229.3 329.5 232.4 332.1 235.2 334.8 237.6 337.5 240.4 341.1 244.1 346.9 247.6 353.6 250.8 361.2 253.7 369.7 256.3 378.3 258.8 387.8 266.5 420.3 269.7 433 273.1 444.7 276.4 454 280.4 463.1 282.8 467.6 285.1 471.2 287.7 474.8 290.6 478.3 293.2 481 296.2 483.6 300.4 486.7 304.2 489 308.6 491.2 313.5 493.2 318.9 494.9 325 496.4 331.7 497.6 337 498.2 344.4 498.7 350 498.7 357.5 498.5 364.8 497.9 371.6 496.8 377.9 495.5 383.6 493.8 388.7 491.9M21.7 491.4 26.1 489.2 30.9 486.3 35 483.2 39.2 479.2 42.8 475 45.8 470.7 48.9 465.6 51.9 459.6 54.1 454.3 56.1 448.9 60.2 435.6 63.7 422.2 72.2 386.5 74.7 377 77 369.2 80.1 360.7 83.3 353.1 86.4 347.1 90.1 341.3 94.6 335.7 97.3 333 100.2 330.4 103.6 327.9 106.3 326.1 112.7 322.8 120.3 319.9 127.7 318 132.5 317 137.7 316.3 146.8 315.5 158.1 315.4 169.1 316.3 174.2 317 179.1 318 183.6 319.1 189.1 320.8 192.8 322.3 197.3 324.4 200.4 326.1 204 328.6 207.2 331.1 210.1 333.7 212.7 336.4 215.5 339.9 219.4 345.7 223 352.4 226.3 360 229.6 369.3 232.2 377.9 234.7 387.3 242.7 421.5 246 434.1 249.7 446.6 253.4 456.6 255.8 461.9 258.2 466.4 260.8 470.8 263.3 474.4 266.2 477.9 269.5 481.2 273.3 484.5 276.7 486.9 282.8 490.4 290 493.4 297 495.5 305 497.1 315.6 498.4 324.9 498.7 334.3 498.5 343.3 497.5 351.5 496 358.8 494.1 365.2 491.7 370.7 489 376.3 485.4 381 481.6 385.5 476.8 389.3 471.9M21.6 471.2 24.7 466 27.7 460 30.5 453.2 33.3 445.5 35.7 437.6 38.2 428.2 47 390.9 51.2 375.1 53.7 367.3 56.2 360.4 58.7 354.3 61.7 348.3 65.3 342.4 69.6 336.8 74.3 332.1 79 328.2 84.8 324.7 91.6 321.6 98.3 319.3 105.9 317.5 112.7 316.4 118 315.8 129.2 315.4 134.9 315.5 142.3 316 147.5 316.6 154.2 317.8 158.8 318.9 164.3 320.6 169.3 322.5 173.8 324.7 177.7 327 181.2 329.4 184.3 332 187.7 335.4 192.3 340.9 194.7 344.5 196.8 348.2 200.5 355.7 204.1 364.9 207.1 374.3 210 384.5 219.2 423.4 223.1 438.4 225.6 446.2 228 453.1 230.6 459.2 233.1 464.5 236.5 470.4 240.1 475.4 244.4 480.2 248.8 484.1 254.1 487.8 259.2 490.6 265.2 493.1 270.7 494.9 276.8 496.4 281.7 497.3 288.7 498.1 294.2 498.6 305.5 498.7 311.1 498.4 318.3 497.7 323.4 496.9 328.2 495.9 332.6 494.7 338 493 342.8 490.9 347.1 488.7 350.9 486.4 354.3 483.9 357.3 481.3 359.9 478.6 362.3 475.8 365 472.3 367.3 468.7 369.4 465 371.7 460.5 373.7 455.9 377.1 446.7 380.6 434.9 384.1 421.5 389.2 399.3M21.2 398.5 25.1 382.6 28.7 370.1 32.3 360 36.3 350.9 40.5 343.6 43 340 45.3 337.2 47.8 334.4 50.6 331.8 53.7 329.2 57.2 326.8 61.2 324.5 65.7 322.3 70.7 320.4 74.9 319.1 81 317.7 86 316.8 96.7 315.6 107.9 315.4 113.5 315.6 120.8 316.3 126 317 130.8 317.9 135.4 319 140.9 320.8 145.8 322.7 151.2 325.5 155.9 328.5 160.6 332.3 164.6 336.3 168 340.5 171.3 345.6 174.6 351.5 177 356.8 179.4 362.9 181.5 369.1 183.7 376.2 187.6 391.2 196.7 429.3 199.5 439.5 202.2 448.1 205.7 457.3 209.3 464.8 211.4 468.5 213.7 472.1 218.1 477.8 221.4 481.1 224.3 483.8 227.7 486.2 231.5 488.6 235.7 490.8 240.5 492.8 245.9 494.6 250.3 495.8 256.7 497.1 261.9 497.8 269.1 498.5 274.8 498.7 286 498.5 291.5 498 298.4 497 306.3 495.4 313.3 493.2 320.4 490.2 326.4 486.7 331.4 483 336.2 478.3 340.7 472.7 344.4 466.9 347.5 460.9 350.1 454.8 352.7 447.9 355.1 440.1 359.4 424.3 368.8 384.7 371.6 374.4 374.3 365.9 377.6 357.4 381.1 349.9 384.9 343.3 389.1 337.6M21.5 336.9 25.4 332.8 30 329 35.6 325.4 41 322.6 47.3 320.2 54.5 318.2 62.7 316.7 69.8 315.8 79.1 315.4 86.6 315.5 95.8 316.1 104.3 317.4 112 319.2 118.7 321.5 124.5 324 130.5 327.5 133.9 330 137.6 333.2 140.8 336.6 143.7 340.1 146.1 343.7 148.8 348.1 151.1 352.6 153.4 357.9 157.1 367.9 160.9 380.4 164.1 393.1 172.1 427.2 174.6 436.7 177.3 445.3 180.3 453.8 183.5 461.4 187.1 468.1 190.9 473.9 193.8 477.4 196.3 480.1 199.1 482.7 202.3 485.3 205.9 487.7 208.9 489.4 213.3 491.6 217 493 222.5 494.8 227 496 231.8 496.9 236.9 497.7 247.8 498.6 259.1 498.6 268.2 497.9 273.4 497.2 278.3 496.3 285.8 494.4 293.5 491.5 300 488.3 302.8 486.5 306.1 484 309.1 481.4 311.8 478.7 316.4 473.1 320.1 467.3 323.2 461.4 326.5 453.7 329.5 445.2 332.1 436.6 334.7 427.2 342.9 392.3 346.6 378 350.7 364.8 353 358.6 355.4 353.3 358.4 347.3 361.6 342.2 365.4 337.3 369.2 333.2 373.8 329.3 378.2 326.3 383.4 323.5 388.1 321.4M21.2 321 26.7 319.2 32.7 317.7 39.4 316.6 44.7 315.9 52.1 315.4 57.7 315.4 65.2 315.6 72.5 316.2 77.7 317 84.1 318.2 88.6 319.4 94 321.2 98.8 323.2 103.1 325.4 106.8 327.8 111 330.9 113.9 333.5 116.5 336.2 119.3 339.7 121.9 343.3 124.1 346.9 126.5 351.4 130.5 360.5 133.7 369.8 137.2 381.6 140.2 393.4 148 426.8 150.5 436.2 152.8 444.1 156.1 453.3 159.3 461 162.8 467.7 166.6 473.5 169.4 477 171.9 479.7 174.7 482.4 177.8 484.9 181.4 487.4 184.3 489.1 188.7 491.3 192.3 492.8 196.3 494.2 200.5 495.4 205.2 496.4 210.1 497.3 220.8 498.5 232.1 498.7 241.4 498.2 250.1 497.1 258.1 495.4 262.4 494.2 266.3 492.8 273.3 489.7 279.1 486.2 281.7 484.4 284.7 481.8 289.3 477 293.6 471.4 297.1 465.5 300.8 458 304.1 449.6 307.1 440.2 309.9 430 319.6 389.5 324 373 326.8 364.4 329.5 357.5 332.6 350.7 335.9 344.8 339.9 339.1 342.2 336.3 344.8 333.6 350.1 329 353.7 326.6 356.6 324.9 363.4 321.7 370 319.4 374.5 318.3 379.3 317.3 387.9 316M21.5 315.9 32.6 315.4 42 315.6 52.7 316.8 57.6 317.7 62.3 318.8 66.6 320 70.5 321.4 77.4 324.5 80.5 326.2 84.1 328.6 87.3 331.2 90.2 333.8 92.7 336.5 95 339.3 99.4 345.8 103.4 353.2 107.2 362.4 110.3 371.7 113.4 382.7 116.2 393.8 123.9 426.3 126.4 435.8 128.7 443.6 131.6 452.1 134.8 459.8 138.2 466.5 141.8 472.3 144.5 475.9 146.9 478.6 149.5 481.3 152.5 483.9 155.9 486.4 158.7 488.2 162.9 490.4 166.3 492 174.2 494.8 178.7 495.9 183.5 496.9 188.6 497.7 193.9 498.3 205.1 498.7 216.3 498.3 221.7 497.7 226.8 497 231.7 496 236.1 494.9 244.1 492.1 247.6 490.6 251.8 488.3 254.6 486.6 258 484.1 261 481.5 263.7 478.8 266.1 476 268.8 472.5 272.5 466.7 275.9 460 279 452.3 282 443.8 284.3 436 286.8 426.5 294.5 394 297.5 382.1 300.4 371.9 303.5 362.6 307.3 353.4 311.2 346 315.6 339.5 317.9 336.7 320.4 334 323.3 331.3 326.5 328.8 330.1 326.4 333.1 324.6 339.9 321.5 343.8 320.1 348.1 318.9 352.7 317.8 357.6 316.9 368.3 315.7 377.6 315.4 388.8 315.8M22.4 316 31.1 317.2 35.9 318.2 40.3 319.3 48.3 322.1 54.9 325.3 57.8 327.1 61.3 329.5 66.4 334.1 71.2 339.6 75.2 345.4 78.4 351.3 81.2 357.3 83.8 364.2 86.7 372.8 91.1 389.3 101 430.6 103.8 440.8 106.6 449.4 109.9 457.8 113.5 465.3 117 471.2 121.3 476.9 123.8 479.6 126.6 482.3 129.7 484.8 132.3 486.7 138.2 490.1 145.4 493.2 149.4 494.5 153.8 495.7 161.9 497.3 170.7 498.3 180 498.7 191.3 498.4 201.9 497.1 206.7 496.2 211.3 495.1 219.4 492.4 222.9 490.9 227.2 488.7 230.1 486.9 233.5 484.4 236.6 481.9 239.3 479.2 241.8 476.4 244.5 472.9 248.2 467.1 251.7 460.4 254.9 452.8 257.8 444.3 260.4 435.6 262.9 426.2 270.5 393.6 273.5 381.8 276.9 370 280.2 360.7 284.2 351.6 286.5 347.1 288.8 343.5 291.3 339.9 294.1 336.4 296.7 333.7 299.6 331.1 303.7 327.9 307.4 325.5 311.7 323.3 316.5 321.3 321.8 319.5 327.8 318 334.3 316.8 339.6 316.1 346.9 315.5 352.5 315.4 358.2 315.4 365.6 315.9 370.9 316.5 377.6 317.6 383.7 319.1 389.2 320.8M22.3 321.3 27.1 323.3 32.3 326.1 36.8 329.2 41.4 333 45.2 337.1 49 342 52.2 347.1 55.3 353.1 57.6 358.4 60 364.6 64.1 377.8 67.8 392.1 76.2 427.8 78.8 437.2 81.4 445.8 84.5 454.3 87.8 461.9 90.9 467.9 94.7 473.6 99.4 479.2 104.4 483.8 107.8 486.3 110.6 488.1 117 491.4 124.6 494.3 132 496.2 136.9 497.1 142.1 497.9 151.2 498.6 162.5 498.7 173.4 497.8 178.6 497 183.4 496.1 187.9 494.9 193.4 493.2 197.1 491.7 201.6 489.6 204.6 487.8 208.2 485.4 211.4 482.9 214.3 480.3 216.8 477.5 219.7 474 223.5 468.3 227.1 461.6 230.4 454 233.7 444.7 236.3 436.1 238.8 426.6 246.6 393.3 249.8 380.6 253.6 368.1 257.2 358.1 259.6 352.8 261.9 348.3 264.5 343.9 267 340.3 269.8 336.8 273 333.4 276.7 330.1 280 327.7 285.9 324.2 291.7 321.6 298.4 319.3 306 317.5 314.5 316.2 323.7 315.5 331.2 315.4 340.5 315.8 347.6 316.6 355.8 318.1 363.1 320.1 369.5 322.5 374.9 325.2 380.5 328.8 385.1 332.6 389.1 336.7M21.5 337.4 25.7 343.1 29.6 349.7 33.1 357.2 36.3 365.7 39.1 374.2 41.9 384.5 51.3 424.2 55.5 439.9 58.3 448.5 60.9 455.4 63.6 461.5 66.7 467.4 70.4 473.2 75 478.8 79.9 483.5 85 487.2 91.2 490.6 98.5 493.6 105.6 495.6 113.6 497.3 120.6 498.1 126.1 498.6 137.4 498.7 143 498.4 150.2 497.7 155.3 496.9 161.6 495.5 165.9 494.3 171.2 492.5 174.8 491 179 488.8 182.8 486.4 186.2 483.9 189.2 481.3 192.5 477.9 196.9 472.3 199.3 468.7 201.4 465 205 457.5 208.5 448.3 211.2 439.7 214 429.5 223.3 390.6 227 376.4 229.1 369.3 231.3 363.1 233.7 357 236.1 351.7 239.3 345.8 242.7 340.7 246 336.5 250 332.5 254.7 328.6 259.3 325.6 264.6 322.9 269.5 320.9 275 319.1 279.5 318 286.1 316.8 291.3 316.1 298.6 315.5 304.2 315.4 315.5 315.7 326.1 317 330.9 317.9 336.9 319.4 341 320.8 345.9 322.7 349.3 324.3 353.3 326.6 356.8 329.1 360 331.6 362.8 334.3 365.3 337 367.6 339.8 370.1 343.4 374.3 350.7 378.4 359.8 381.9 369.9 385.4 381.7 389.3 397.5M21.3 398.3 26.6 421.3 30.1 434.8 33.6 446.5 37 455.7 39 460.3 41.2 464.8 43.3 468.5 45.6 472.1 48.3 475.7 50.7 478.4 53.3 481.1 56.3 483.7 59.6 486.2 63.4 488.6 67.6 490.8 72.4 492.8 77.8 494.6 82.2 495.8 87 496.8 92 497.6 99.2 498.4 104.8 498.7 116.1 498.6 121.6 498.2 128.6 497.3 133.6 496.4 139.7 495 146.5 492.8 152.3 490.2 157.4 487.3 162.5 483.6 166.8 479.7 171 474.9 174.6 469.8 177.9 463.9 180.4 458.7 182.9 452.6 185.4 445.6 187.5 438.6 191.5 423.6 200.7 384.7 203.6 374.5 206.6 365.1 210.1 355.9 213.8 348.4 215.9 344.7 218.3 341.1 222.9 335.5 226.3 332.2 229.3 329.6 232.8 327.1 236.7 324.8 241.1 322.7 246.1 320.7 251.6 319 256.2 317.9 262.8 316.7 268 316 275.4 315.5 281 315.4 292.2 315.8 297.6 316.3 304.4 317.4 312.1 319.2 318.8 321.4 325.7 324.6 331.5 328.1 336.3 331.9 341 336.6 345.3 342.2 348.9 348.1 351.9 354.1 354.5 360.2 357 367.1 359.5 374.9 363.7 390.7 372.5 428 375 437.4 377.4 445.3 380.1 453 383 459.9 386 465.8 389.1 471M21.3 471.7 25.7 477.3 28.2 480.1 31.1 482.7 34.2 485.3 36.9 487.1 43 490.5 50.2 493.5 57.3 495.6 62 496.6 67 497.5 76 498.4 85.3 498.7 96.5 498.3 101.9 497.7 107 496.9 111.8 496 116.3 494.8 124.2 492.1 130.9 488.8 133.8 487.1 137.3 484.6 140.4 482.1 143.1 479.4"/><path stroke="#0072BD" d="M297.4 407.1 301.3 390.4 304.3 378.5 307.4 368.4 310.5 359.9 313.8 352.3 317.4 345.6 321.3 339.8 326 334.3 331.2 329.7 334.6 327.2 337.5 325.5 344 322.2 351.9 319.5 356.3 318.3 361.1 317.3 369.7 316.1 378.9 315.4 388.3 315.4M22 315.5 31.1 316.3 36.2 317.1 41.1 318 45.6 319.1 49.8 320.4 57.1 323.4 60.3 325 64.2 327.4 66.8 329.2 69.9 331.8 72.7 334.4 75.2 337.2 77.4 340 80 343.6 83.4 349.4 86.6 356.2 89.4 363.1 92.2 371.6 94.5 379.5 97 389 107 431 109.9 441.2 112.7 449.8 116 458.2 119.7 465.7 123.7 472.3 128.1 477.9 132.9 482.6 136 485.1 138.7 487 144.7 490.4 152 493.4 156.1 494.7 160.5 495.9 168.7 497.4 177.6 498.4 187 498.7 198.2 498.3 203.5 497.8 208.7 497 213.5 496 218 494.9 226 492.2 229.5 490.6 233.7 488.4 236.5 486.6 239.9 484.1 242.9 481.5 245.6 478.8 248 476.1 250.7 472.5 254.4 466.7 257.8 460 261 452.4 263.9 443.8 266.2 436 268.7 426.6 276.4 394 279.4 382.1 282.8 370.4 286 361.1 289.9 352 294 344.6 296.4 340.9 299.2 337.4 301.6 334.7 304.4 332 307.5 329.4 311 327 314.9 324.7 319.4 322.5 324.3 320.6 328.5 319.3 334.5 317.8 339.4 316.9 346.4 316 351.9 315.6 359.5 315.4 365.1 315.5 370.6 315.8 377.7 316.6 382.8 317.5 388.9 318.9M22.2 319.3 28.9 321.6 34.7 324.2 39.7 327 44.7 330.8 49 334.7 53.1 339.6 56.6 344.6 59.9 350.5 62.4 355.8 64.9 361.9 67.3 368.9 69.5 375.9 73.4 390.9 82.3 428.2 84.8 437.6 87.5 446.2 90.5 454.7 93.9 462.3 97.1 468.2 101 474 105.7 479.6 110.7 484.2 114.2 486.6 117 488.4 123.5 491.7 131.3 494.5 138.8 496.4 143.7 497.3 148.9 498 158.1 498.7 169.4 498.6 180.3 497.7 185.4 496.9 190.1 495.9 194.6 494.7 200 492.9 203.6 491.4 208.1 489.3 211 487.5 214.6 485.1 217.7 482.6 220.6 479.9 223.1 477.2 225.9 473.7 229.7 467.9 233.2 461.2 236.5 453.6 239.5 445.1 242.1 436.5 244.6 427 252.6 392.9 255.9 380.2 259.4 368.5 263 358.5 265.3 353.1 267.6 348.7 270.2 344.2 272.6 340.6 275.4 337.1 278.6 333.7 281.5 331.1 284.7 328.6 290.3 325 295.8 322.3 302.3 319.9 308.1 318.3 316.2 316.8 323.2 315.9 330.6 315.4 338.1 315.4 345.6 315.7 354.5 316.7 361 318 368.4 319.9 373.6 321.8 379.3 324.4 384.2 327.3 389.3 331M21.8 331.7 24.6 334.3 27.1 337.1 29.9 340.6 32.3 344.2 34.5 347.8 36.8 352.3 40.7 361.4 43.9 370.7 47.3 382.5 50.3 394.4 57.6 425.4 62.1 441.9 64.9 450.4 67.6 457.3 70.4 463.4 73.7 469.3 77.7 475 80 477.8 82.6 480.5 87.9 485.1 93.4 488.7 100 491.9 106.4 494.2 110.8 495.5 115.4 496.5 123.9 497.9 131.1 498.5 136.8 498.7 148 498.5 158.7 497.3 163.7 496.4 169.8 494.9 173.9 493.7 179 491.7 182.4 490.1 186.5 487.9 190.1 485.5 193.3 482.9 196.8 479.6 199.9 476.2 204.1 470.5 207.9 463.9 211.4 456.3 214.8 447.1 217.5 438.5 220.3 428.3 228.9 391.7 232.4 378.3 236.5 365 238.5 359.7 240.8 354.3 243.4 349.1 246.4 343.9 249.4 339.6 252.9 335.5 257 331.5 261 328.3 265.7 325.3 270 323.1 274.8 321.1 278.8 319.8 283.2 318.6 287.9 317.5 294.6 316.4 300 315.8 311.1 315.4 322.4 315.8 327.7 316.4 332.8 317.1 337.7 318.1 342.2 319.2 346.3 320.5 351.3 322.5 357.8 325.8 360.6 327.5 364 330 367 332.6 369.7 335.3 374.3 340.9 378.5 347.4 382.2 354.9 385.9 364.1 389.2 374.2M21.2 375 25.2 390 34.6 429.6 37.5 439.9 40.2 448.4 44.1 458.4 48.2 466.7 50.4 470.3 52.9 473.9 57.6 479.5 61.1 482.8 64.3 485.3 67.9 487.7 71.9 490 76.5 492.1 80.3 493.5 85.9 495.2 90.5 496.3 97.1 497.5 102.4 498.1 109.8 498.6 115.4 498.7 126.6 498.3 132 497.7 138.7 496.6 146.4 494.8 153 492.5 158.8 489.9 164.7 486.4 169.6 482.7 174.4 478 178.8 472.4 182.5 466.5 185.5 460.6 188.1 454.5 190.7 447.5 193.1 439.7 197.3 424 207 383.5 209.8 373.3 212.9 363.9 216.6 354.8 220.4 347.3 222.6 343.6 225.1 340 229.8 334.5 233.3 331.2 236.5 328.7 240.2 326.2 244.2 324 248.9 321.9 254 320 259.8 318.4 264.6 317.4 271.3 316.3 276.7 315.8 284.2 315.4 289.8 315.4 295.4 315.6 302.7 316.2 307.9 317 314.3 318.3 321.5 320.3 327.8 322.7 333.2 325.4 338.7 329 343.3 332.9 347.8 337.7 352 343.3 355.5 349.2 358 354.5 360.3 359.8 362.6 366 364.8 373 369.1 388.7 376.9 422.1 380.4 435.5 384.5 448.8 386.8 454.9 389.1 460.3M21.2 461 24.8 467.7 29.1 474.2 33.2 479.1 38.1 483.7 43.3 487.4 49.5 490.8 56.9 493.7 64 495.8 68.8 496.8 73.9 497.6 82.9 498.5 92.2 498.7 103.4 498.2 112.1 497.1 117 496.1 121.5 495 129.6 492.3 133.1 490.8 137.3 488.5 141.1 486.2 145.2 483 148.7 479.7 151.8 476.3 155 472 157.8 467.7 160.2 463.2 162.7 458 166.8 447.2 170.6 434.7 174 421.3 182.2 386.3 184.8 376.9 187.4 368.3 190.8 359 194.1 351.4 197.8 344.8 201.8 339 204.8 335.6 207.4 332.9 210.4 330.3 213.8 327.8 217.5 325.4 220.7 323.7 225.4 321.7 229.2 320.3 234.9 318.6 239.6 317.6 244.6 316.7 249.9 316 257.2 315.5 262.8 315.4 274.1 315.8 282.9 316.8 287.8 317.7 292.5 318.8 299.4 320.9 306.5 324 312.5 327.4 315.1 329.3 318.2 331.9 321 334.5 323.4 337.3 327.7 342.9 331.2 348.8 334.5 355.5 337.3 362.4 340.2 371 342.5 378.8 344.8 387.5 352.8 421.6 356.1 434.3 359.8 446.8 363.6 456.8 366 462.1 368.7 467.3 371.4 471.7 374.6 475.9 377.7 479.4 381.1 482.7 385.2 485.8 388.9 488.2M21.7 488.8 27.1 491.5 32.1 493.5 39.2 495.6 45.5 496.9 52.3 497.9 59.6 498.5 67.1 498.7 74.7 498.5 81.9 497.9 88.8 496.9 95.2 495.6 100.9 494 106.1 492.1 111.7 489.4 115.6 487.1 119.9 484 123 481.4 125.6 478.8 128.6 475.3 131.2 471.7 133.5 468.1 136 463.7 140.1 454.6 143.6 444.5 147.1 432.8 150.1 420.9 157.9 387.6 160.4 378.1 163 369.5 166 361 169.2 353.4 172.7 346.7 176.5 340.9 179.2 337.3 181.7 334.6 184.5 331.9 187.6 329.4 191.1 326.9 194 325.2 198.3 323 201.9 321.5 205.8 320.1 210.1 318.8 214.7 317.8 219.6 316.8 230.3 315.7 241.5 315.4 250.8 315.8 256.2 316.4 261.3 317.2 269.1 319 277.2 321.6 284 324.8 289.7 328.3 295.2 332.8 297.9 335.5 300.3 338.2 304.4 344 307.8 349.8 311.3 357.4 314.5 365.8 317.2 374.4 320 384.6 329.3 423.5 333.5 439.3 335.9 447.1 338.4 454 341 460.1 344.1 466.1 347.6 472 352 477.6 356.7 482.3 361.5 486.1 367.3 489.6 374.3 492.7 381 495 388.7 496.7M22.2 497 27.3 497.8 32.7 498.3 43.9 498.7 55.1 498.2 60.4 497.6 67.1 496.5 71.8 495.5 76.1 494.2 80.1 492.9 84.9 490.8 89.2 488.6 92.9 486.3 96.3 483.8 99.2 481.2 101.9 478.5 104.3 475.7 106.4 472.9 108.8 469.3 112.9 461.9 116.8 452.7 120 443.4 123.2 432.4 126.1 420.6 134 387.2 136.5 377.8 138.9 369.9 141.8 361.4 145 353.8 148.4 347.1 152.1 341.3 154.9 337.7 157.3 335 160 332.3 163.1 329.7 166.5 327.3 169.4 325.5 173.6 323.3 177.2 321.8 185.2 319.1 189.8 317.9 194.6 317 205.2 315.7 216.4 315.4 227.6 315.9 232.9 316.5 238 317.3 242.7 318.4 247.1 319.5 254.9 322.3 258.3 323.9 262.4 326.2 265.2 328 268.5 330.5 271.5 333.1 274.1 335.8 276.5 338.5 279.1 342.1 282.7 347.9 286.1 354.7 289.2 362.3 292.1 370.8 294.4 378.7 296.9 388.1 304.4 419.9 307.4 431.8 310.3 442 313.4 451.3 316.8 459.7 320.6 467.2 324.9 473.7 329.5 479.3 334.5 483.9 339.7 487.6 346 490.9 353.4 493.9 357.6 495.1 362.2 496.2 370.5 497.7 379.5 498.5 388.9 498.7M22.6 498.7 33.7 498 38.9 497.3 43.8 496.4 48.4 495.3 52.7 494 60.2 491.1 63.5 489.5 67.5 487.2 70.2 485.4 73.4 482.9 76.2 480.2 78.8 477.5 83.1 471.9 86.7 466 90.1 459.3 93.2 451.6 96.1 443.1 98.4 435.3 100.9 425.8 111.1 383 114 372.7 117.1 363.4 120.4 355 124.2 347.5 128.4 341 132.9 335.4 137.8 330.7 142.9 327 149 323.6 156.3 320.6 160.4 319.3 164.9 318.1 173 316.6 182 315.7 191.3 315.4 202.5 315.8 207.9 316.4 213 317.2 217.8 318.1 222.3 319.3 230.2 322 233.7 323.6 237.9 325.8 240.7 327.6 244.1 330.1 247.1 332.7 249.8 335.4 252.2 338.1 254.8 341.7 258.5 347.5 261.9 354.2 265.1 361.9 268 370.4 270.3 378.2 272.8 387.7 280.5 420.2 283.4 432.1 286.6 443.1 289.8 452.4 293.7 461.5 297.7 469 300.1 472.6 302.7 476.1 305.2 478.9 307.9 481.5 310.9 484.1 314.3 486.6 318.1 489 322.4 491.1 327.3 493.1 331.4 494.5 337.3 496 342.1 497 349 498 354.5 498.5 365.7 498.7 376.8 498.1 382.1 497.4 388.7 496.2M22 495.9 29.3 493.9 35.6 491.4 41 488.7 46.5 485.1 51.1 481.3 55.6 476.5 59.8 470.8 63.3 465 65.9 459.7 68.4 453.6 70.9 446.7 73.4 438.9 77.3 423.9 86.6 385 89.1 375.5 91.8 367 95 358.5 98.4 350.9 102.1 344.3 106.2 338.5 108.6 335.8 111.2 333.1 116.6 328.6 122.2 325 129 321.8 137 319.1 144.7 317.3 149.8 316.5 155.1 315.9 164.4 315.4 175.6 315.6 186.4 316.7 191.3 317.6 196 318.7 200.3 319.9 204.3 321.3 207.9 322.8 212.3 324.9 215.2 326.7 218.8 329.1 221.9 331.7 224.7 334.3 227.2 337 230 340.6 233.8 346.3 237.3 353 240.6 360.7 243.6 369.2 246.2 377.8 248.7 387.2 256.5 420.6 259.7 433.2 263.2 445 266.8 455 269.1 460.3 271.3 464.8 273.9 469.3 276.3 472.9 279 476.4 282.1 479.8 284.9 482.5 288 485 292.5 488.1 297.8 490.8 303.9 493.3 309.4 495.1 317.2 496.8 324 497.8 331.2 498.5 338.7 498.7 346.3 498.6 353.6 498 360.5 497 366.9 495.7 372.7 494.1 379.1 491.7 384.6 489.1 389.4 486.1M22 485.5 25.2 483 28.8 479.6 31.8 476.2 34.5 472.7 36.9 469.1 39.4 464.6 41.7 460.1 43.9 454.8 47.5 444.8 51 433 54.2 420.4 61.8 387.8 66.4 371.3 69.3 362.8 72 355.9 74.9 349.8 78.3 344 82.4 338.2 84.8 335.5 87.5 332.8 93 328.3 96.6 325.9 99.7 324.2 106.7 321.1 113.6 319 118.2 317.9 123.1 316.9 131.9 315.8 143 315.4 148.7 315.5 156.1 316 161.4 316.6 166.4 317.4 171.1 318.5 176.9 320.1 180.8 321.5 185.5 323.5 188.7 325.2 192.5 327.5 195.9 330 199 332.6 201.6 335.3 204.6 338.7 208.7 344.5 212.4 351.1 215.8 358.7 219.2 367.9 221.8 376.5 224.4 386 232.8 421.7 236.3 435.1 240.1 447.6 242 453 244.2 458.4 246.7 463.7 249.6 468.8 252.5 473.2 255.8 477.4 259 480.8 262.7 484 267 487.1 271 489.4 275.4 491.6 279.1 493.1 283.1 494.4 287.5 495.6 292.2 496.6 297.2 497.5 306.2 498.4 317.4 498.7 328.5 498.1 333.8 497.5 338.8 496.6 343.5 495.6 347.9 494.4 355.6 491.5 362 488.2 367.4 484.6 372.6 480 377.4 474.5 381.7 468 385.7 460.6 389.2 452.2M21.2 451.4 24.4 442.1 27.5 431.1 30.4 419.2 37.3 389.9 41.3 374.9 43.5 367.8 46 360.9 48.5 354.8 51.1 349.5 54.5 343.7 58.7 338 63.1 333.2 67.6 329.3 73.1 325.7 78.4 322.9 84.6 320.5 91.7 318.4 98.1 317.1 103.2 316.3 110.5 315.6 116.1 315.4 121.7 315.4 129.2 315.7 134.6 316.2 141.4 317.3 146.2 318.2 152.1 319.8 156.1 321.2 160.9 323.2 165.1 325.4 168.9 327.8 172.3 330.3 175.9 333.5 178.5 336.2 180.9 339 183.4 342.6 185.7 346.2 189.6 353.7 193.4 362.8 196.5 372.2 199.6 383.2 209.7 425.2 213.9 441 216.5 448.7 219.1 455.7 221.7 461.7 224.9 467.7 228.7 473.5 233.3 479 238.3 483.7 243.4 487.4 249.6 490.8 257 493.7 264.1 495.8 272.2 497.3 279.3 498.2 284.8 498.6 296.1 498.7 301.7 498.4 308.8 497.6 313.9 496.8 320.2 495.4 324.5 494.2 329.7 492.3 333.2 490.8 337.4 488.6 341.2 486.2 344.5 483.7 347.5 481.1 350.8 477.7 355.2 472.1 357.5 468.4 359.6 464.8 363.5 456.5 366.9 447.2 369.8 437.9 372.6 427.6 380.6 393.5 383.4 382.4 386.3 372.2 389.2 363.6M21.2 362.9 24.7 354.5 28.5 347 32.7 340.5 37.3 334.9 42.3 330.3 47.5 326.6 53.7 323.2 61.2 320.3 65.4 319 69.9 317.9 74.8 317 80 316.2 91 315.4 102.3 315.5 113.1 316.6 118.1 317.4 122.9 318.4 127.3 319.6 131.3 320.9 135 322.4 139.5 324.5 143.5 326.8 147.8 329.9 151.5 333.2 154.8 336.5 158.1 340.7 161 345.1 163.9 350.2 166.4 355.5 168.6 360.9 170.6 366.3 174.4 378.8 177.9 392.2 186.3 427.9 189.1 438.2 191.8 446.7 195.2 456 198.6 463.6 202.4 470.2 206.5 475.9 209.6 479.3 212.3 482 215.4 484.6 218.9 487 222.8 489.4 226.1 491 230.9 493 234.9 494.3 240.8 495.9 245.6 496.9 250.7 497.7 256 498.3 267.2 498.7 272.9 498.6 280.3 498.1 288.9 497 293.7 496 298.2 494.8 305 492.6 311.8 489.5 317.6 485.9 323.1 481.5 325.8 478.8 328.2 476 332.3 470.3 335.7 464.4 338.6 458.4 341.4 451.5 344.3 443 346.6 435.2 349.1 425.7 356.5 393.9 359.7 381.3 363.2 369.5 366.7 359.5 369 354.1 371.2 349.6 373.7 345.2 376.6 340.9 379.3 337.4 382.5 333.9 386.1 330.7 389.4 328.1M22.1 327.5 26.9 324.6 31.4 322.5 37.7 320.1 43.5 318.5 51.5 316.9 58.5 316 65.9 315.5 73.4 315.4 80.9 315.7 88.1 316.4 94.8 317.5 102.4 319.3 107.8 321.1 113.8 323.7 118.9 326.5 123.3 329.5 126.4 332.1 129.2 334.8 132.2 338.2 134.9 341.8 137.2 345.4 139.7 349.8 141.9 354.3 144.2 359.7 147.5 368.9 150.9 380.7 154.2 393.3 162 426.7 164.5 436.1 167.1 444.7 170.1 453.3 173.3 460.9 176.8 467.6 180.6 473.4 183.4 476.9 185.8 479.6 188.6 482.3 191.8 484.8 195.3 487.3 198.2 489 202.5 491.2 206.2 492.7 210.1 494.1 214.4 495.3 219 496.4 224 497.3 234.7 498.5 245.9 498.7 255.2 498.2 260.5 497.6 265.6 496.8 273.4 495.1 281.5 492.4 288.3 489.2 291.2 487.5 294.8 485.1 300.1 480.5 302.7 477.8 305 475 309 469.3 312.3 463.4 315.7 455.8 318.9 447.3 321.6 438.8 324.3 428.5 333.4 390.4 337.3 375.4 339.8 367.6 342.3 360.7 344.8 354.6 347.4 349.3 350.8 343.5 355 337.8 359.4 333 364 329.1 369.5 325.5 374.9 322.8 381.1 320.4 388.3 318.3M21.7 318 28.2 316.7 33.5 316.1 44.5 315.4 55.8 315.6 61.3 316.1 68.2 317 73.1 318 79 319.5 83.1 320.8 88 322.8 92.4 325 96.2 327.3 99.7 329.8 102.7 332.4 105.4 335.1 107.9 337.8 110.6 341.4 112.9 345 117 352.4 120.9 361.5 124.1 370.8 127.2 381.8 130.2 393.7 137.9 426.2 140.4 435.7 142.9 444.3 145.9 452.8 149.1 460.4 152.6 467.1 156.3 473 159 476.5 161.5 479.2 164.2 481.9 167.3 484.5 170.7 486.9 173.6 488.7 177.9 490.9 181.4 492.4 189.5 495.1 194.1 496.2 199 497.1 209.6 498.4 220.8 498.7 230.1 498.3 239 497.3 247 495.7 251.4 494.5 255.5 493.2 262.6 490.1 268.5 486.6 273.5 482.9 278.3 478.2 282.8 472.6 286.4 466.8 290.2 459.3 293.6 450.9 296.7 441.6 299.6 431.3 302.6 419.5 309.8 388.5 312.3 379 314.6 371.2 317.5 362.7 320.6 355 323.9 348.3 327.5 342.4 330.1 338.9 332.4 336.1 335 333.4 338 330.8 341.2 328.2 344 326.4 348 324.2 351.4 322.6 359.1 319.7 363.4 318.5 368.1 317.5 373.1 316.6 378.4 316 387.7 315.4M21.3 315.4 30.7 315.6 39.8 316.4 48.1 317.8 52.7 318.9 57 320.1 64.5 323 70.8 326.4 76 330.1 81 334.7 85.7 340.2 90 346.7 93.8 354.2 97.3 362.6 100.4 371.9 103.3 382.1 106.3 394 114 426.5 116.5 436 118.8 443.8 121.7 452.4 124.9 460 128.3 466.7 132 472.5 134.7 476.1 137.1 478.8 139.8 481.5 142.8 484.1 146.2 486.6 149 488.4 153.2 490.6 156.7 492.2 164.7 494.9 169.2 496 174 497 179.1 497.7 184.5 498.3 195.7 498.7 206.9 498.3 212.3 497.7 217.4 496.9 222.1 495.9 226.6 494.7 234.5 492 238 490.4 242.1 488.2 244.9 486.4 248.3 483.9 251.3 481.3 253.9 478.6 256.3 475.8 259 472.3 262.6 466.5 266 459.7 269.2 452.1 272.1 443.6 274.4 435.7 276.9 426.3 284.6 393.7 287.5 381.9 290.7 370.9 293.9 361.6 297.8 352.4 301.8 345 304.2 341.4 306.3 338.6 308.7 335.8 311.3 333.1 314.3 330.5 317.6 328 321.3 325.6 325.6 323.4 330.3 321.4 334.3 320 338.6 318.7 343.2 317.7 349.9 316.5 355.2 315.9 366.3 315.4 377.6 315.7 388.1 317M21.6 317.3 29.4 319 36.2 321.2 42.1 323.8 48.1 327.2 53.1 331 57.9 335.6 62 340.5 65.7 346.3 68.9 352.3 71.6 358.3 74.2 365.3 77 373.8 81.2 389.6 90.2 427.7 94.4 442.6"/><path stroke="#7E2F8E" d="M205.3 407.1 218.9 391.5 224.3 385.8 229.4 380.8 234.3 376.5 239.4 372.5 244.9 368.7 249.9 365.6 255.3 362.8 260.9 360.4 266.8 358.3 272.9 356.7 279.2 355.5 284.9 354.9 291.4 354.7 297.1 354.9 302.7 355.4 309.1 356.6 314.5 357.9 320.4 359.9 325.4 361.9 330.8 364.6 336 367.6 341.5 371.3 346.2 374.8 350.6 378.6 355.3 382.9 359.9 387.5 368.6 397 389 420.6M21.3 421.2 27.2 427.4 32.8 432.9 38.2 437.7 43.3 441.8 48.8 445.5 54.5 449 59.9 451.7 65.6 454.1 71.5 456.1 77.7 457.6 84 458.7 90.5 459.3 97 459.4 103.5 459 109.9 458.1 116.1 456.7 120.7 455.4 125.8 453.6 130 451.7 134.8 449.4 139.3 446.8 143.6 443.9 147.8 440.9 152.3 437.3 159.2 431 166.7 423.3 173.9 415.4 191 395.4 200.3 385.5 205.4 380.5 210.3 376.3 215.5 372.2 220.3 368.9 226.7 365 232.8 362 239.2 359.4 245.2 357.5 252.2 356 258.6 355.1 265.1 354.7 271.6 354.8 278.1 355.4 284.4 356.5 290.6 358.1 296.5 360.1 302.2 362.4 308.2 365.6 313.9 369 319.3 372.9 323.9 376.5 328.2 380.3 336.9 388.8 345 397.8 363.1 418.8 372.4 428.7 380.8 436.6 385.3 440.2 389.4 443.3M21.8 443.7 26.1 446.6 30.6 449.2 35.3 451.6 40.3 453.7 45.4 455.5 49.9 456.8 55.4 458 60.2 458.8 65.8 459.3 70.7 459.4 75.6 459.3 81.3 458.8 86 458 91.5 456.8 96 455.5 101.2 453.7 108.8 450.2 116.6 445.8 123.8 440.7 131 434.7 137.3 428.7 143.7 422 166 396.2 174.8 386.8 179.9 381.7 184.7 377.4 189.7 373.3 194.5 369.9 200.8 365.9 206.8 362.8 213.1 360.1 219.1 358.1 226 356.3 232.3 355.3 238.8 354.7 245.3 354.7 251 355.1 257.4 356 263.7 357.3 269.7 359.2 275.5 361.4 281 364 286.2 366.9 291.8 370.5 296.5 374 301 377.7 305.8 382 310.4 386.5 319.6 396.5 335.3 414.9 341.9 422.3 348.9 429.5 355.7 435.9 363.6 442.3 371.6 447.5 376.2 450.1 380.3 452.1 384.6 453.8 389 455.4M21.5 455.6 29.2 457.7 37.1 458.9 45.2 459.4 53.4 459.2 61.4 458.1 69.2 456.3 76.6 453.8 84.2 450.4 90.8 446.7 96.9 442.6 103.2 437.7 109.1 432.4 114.7 426.9 120.6 420.6 141.1 396.9 149.7 387.5 154.8 382.4 159.6 378.1 164 374.4 168.7 370.9 174.9 366.8 180.8 363.6 187.1 360.7 192.9 358.6 199.8 356.7 206.1 355.6 212.5 354.9 219.1 354.7 224.8 354.9 230.4 355.5 235.9 356.5 242.1 358.1 247.3 359.8 253 362.2 257.7 364.5 262.9 367.5 267.8 370.8 273.1 374.7 278.1 378.9 283.3 383.8 293.2 394.1 312.7 416.8 321.3 426.2 325.9 430.8 330.6 435.2 335 439 339.7 442.5 345.1 446.2 351 449.6 357.1 452.6 362.9 454.8 369.6 456.9 375.9 458.2 382.3 459.1 388.8 459.4M21.4 459.4 27.1 459.3 32.8 458.8 38.3 457.9 44.5 456.4 49.8 454.7 55.5 452.5 61 449.8 66.2 446.9 71.1 443.6 76.4 439.7 81.4 435.5 86.7 430.7 91.7 425.6 97 419.8 116.6 397.2 125.2 387.7 129.8 383.1 134.5 378.7 138.9 375 143.6 371.5 149.7 367.4 155.6 364.1 161.8 361.2 167.6 359 174.4 357 180.7 355.7 187.1 354.9 193.6 354.7 200.1 354.9 206.6 355.6 212.9 356.8 219.7 358.7 225.5 360.8 231.8 363.7 237.7 367 243.9 371 248.5 374.5 253 378.2 257.8 382.6 262.8 387.7 271.5 397.1 291.5 420.3 297.3 426.5 302.9 432.1 308.8 437.4 315.1 442.3 321.2 446.4 327 449.8 334.6 453.3 342 455.9 349.7 457.8 357.7 459 365.8 459.4 373.1 459.1 381.1 458.1 388.9 456.3M21.4 456 25.9 454.6 30.2 452.9 34.4 451 39 448.5 42.9 446.3 47.2 443.4 51.3 440.4 55.8 436.7 62.7 430.4 70.1 422.7 76.8 415.2 93 396.3 102.2 386.4 106.8 381.9 111.6 377.5 116.1 373.8 120.8 370.4 126.4 366.8 131.6 363.9 137.2 361.3 142.9 359.1 149 357.3 155.2 355.9 161.6 355 167.3 354.7 173.8 354.8 181.1 355.4 187.4 356.5 194.3 358.4 200.2 360.4 206.5 363.2 212.5 366.4 218.7 370.4 223.4 373.9 227.9 377.6 232.7 381.9 237.8 386.9 246.5 396.4 268.4 421.6 274.8 428.4 281 434.3 288.2 440.4 295.4 445.5 302.4 449.6 310 453.2 315.1 455.1 319.6 456.5 325 457.8 329.8 458.6 335.4 459.2 340.3 459.4 345.2 459.4 350.9 458.9 355.7 458.3 361.2 457.1 365.8 455.9 370.9 454.2 375.2 452.4 380 450.1 384.6 447.6 389 444.8M21.4 444.4 26.2 441 30.7 437.4 35 433.5 39.7 429.1 49 419.2 67.5 397.6 75.7 388.7 84.4 380.1 88.7 376.3 93.3 372.7 98.7 368.9 104.4 365.4 110.5 362.3 116.1 360 122.1 358 128.2 356.4 134.6 355.4 140.2 354.8 146.7 354.7 154.1 355.1 160.4 356 167.4 357.6 173.4 359.5 179.9 362.1 185.9 365.1 192.3 369 197.1 372.4 202.3 376.4 207.1 380.7 212.3 385.7 221.5 395.6 238.7 415.6 245.3 423 252.8 430.7 259.7 437 264.2 440.6 268.4 443.7 272.7 446.5 276.5 448.8 281.2 451.2 285.4 453.1 290.5 455 295 456.4 301.2 457.9 307.5 458.9 314 459.4 319.7 459.4 326.2 459 332.6 458 338.8 456.6 344.9 454.8 350.6 452.5 356.1 449.9 362 446.6 367.5 442.9 372.7 438.9 378.2 434.2 383.4 429.3 389.3 423.1M21.6 422.6 28.2 415.1 44 396.8 52.2 387.8 56.7 383.3 61.4 378.9 65.9 375.1 70.5 371.6 76 367.9 81.1 364.9 86.5 362.2 91.5 360.1 97.4 358.1 102.8 356.7 109.1 355.5 114.8 354.9 121.3 354.7 127.8 354.9 134.2 355.7 141.3 357.1 147.3 358.9 153.9 361.3 160 364.3 165.9 367.6 170.8 370.9 176 374.8 181.5 379.5 186.7 384.5 196.5 394.8 214.7 415.9 222.3 424.3 230.4 432.5 238.5 439.6 243.8 443.5 248.7 446.7 253.9 449.7 258.7 452 264.4 454.4 269.6 456.1 275 457.5 280.5 458.5 287.8 459.3 294.3 459.4 301.6 459 308.8 458 315.7 456.3 322.4 454.1 328.8 451.4 335.5 447.9 341.1 444.3 347 440 352.6 435.4 358.3 430 363.3 424.9 369.1 418.6 389.1 395.4M21.4 394.9 27.2 388.6 32.7 383 38 378.1 43.6 373.5 48.9 369.7 54.6 366.1 60.6 362.9 66.2 360.5 72.8 358.2 78.9 356.6 85.3 355.5 91.7 354.8 98.2 354.7 104.8 355 111.2 355.9 117.4 357.2 122 358.5 127.1 360.3 131.4 362.1 136.1 364.5 140.7 367.1 145 369.9 149.2 372.9 153.7 376.5 161.2 383.2 168.7 390.9 175.8 398.9 192.5 418.3 202.2 428.7 207.4 433.7 212.3 438 217.5 442 222.3 445.4 228.7 449.2 234.8 452.2 241.2 454.8 247.2 456.6 254.3 458.2 260.7 459.1 267.2 459.4 273.7 459.3 280.2 458.7 286.5 457.5 292.6 456 298.5 454 304.2 451.5 309.6 448.8 315.3 445.3 320.7 441.5 325.3 437.9 329.6 434.2 338.3 425.6 346.5 416.7 364.6 395.6 373.3 386.2 381.1 378.8 389 372.4M21.4 372 26.2 368.6 30.6 365.9 35.3 363.4 40.1 361.2 45.2 359.2 50.4 357.6 55.9 356.3 60.6 355.5 66.3 354.9 71.1 354.7 76 354.7 81.7 355.2 86.5 355.8 92 357 97.3 358.4 102.5 360.2 110.2 363.6 118 368.1 125.2 373.1 132.5 379.1 138.7 385 145.6 392.3 167.5 417.6 176.7 427.5 181.8 432.5 186.7 436.9 191.2 440.5 195.9 444 202.1 447.9 208.1 451.1 214.4 453.9 220.3 455.9 227.3 457.7 233.6 458.7 240.9 459.4 247.4 459.4 253.1 459 259.5 458.1 265.7 456.7 271.7 454.9 277.5 452.6 283 450 288.9 446.7 294.4 443 299 439.5 303.5 435.8 308.3 431.4 312.8 426.9 321.5 417.4 343.4 392.1 350.3 384.9 356.6 379 364.4 372.6 372.3 367.2 380.3 362.9 384.4 361 388.8 359.4M21.3 359.1 29.7 356.7 37.6 355.3 45.7 354.7 53.8 354.8 61.9 355.8 70.4 357.7 77.9 360.1 85.6 363.5 92.1 367.1 98.3 371.2 104.6 376.1 110.6 381.3 116.2 386.9 122.1 393.1 143 417.3 151.7 426.8 156.8 431.8 161.6 436.2 166 439.9 170.7 443.4 176.9 447.4 182.8 450.6 189.1 453.5 195 455.6 201.8 457.4 208.2 458.6 214.6 459.3 221.1 459.4 226.8 459.2 232.5 458.5 238 457.5 244.1 455.9 249.3 454.2 255 451.8 259.7 449.5 264.9 446.5 269.8 443.2 275.1 439.2 280 435 285.3 430.1 295.1 419.8 314.6 397.2 322.8 388.2 331.5 379.7 335.9 375.9 340.5 372.3 346.5 368.1 352.3 364.8 358.4 361.8 364.2 359.5 370.2 357.6 376.4 356.1 382.7 355.2 389.2 354.7M21.8 354.7 27.6 354.7 34 355.3 39.6 356.1 45.8 357.6 51.1 359.2 56.8 361.4 62.3 364 67.6 367 72.5 370.2 77.8 374.1 83.4 378.7 88.7 383.6 93.7 388.7 99 394.5 118.5 417.1 126.7 426.1 131.2 430.6 135.9 435 140.3 438.8 145 442.3 151.1 446.5 156.9 449.8 163.1 452.7 168.9 455 175.7 457 181.9 458.3 188.3 459.1 194.8 459.4 201.4 459.3 208.6 458.5 214.9 457.2 221.8 455.3 227.6 453.2 233.8 450.3 239.7 447 245.9 443 250.5 439.4 255 435.7 259.7 431.3 264.3 426.8 273 417.3 293.4 393.6 299.3 387.4 304.9 381.8 310.8 376.6 317.1 371.6 323.2 367.5 329 364.2 335.9 361 343.3 358.3 350.9 356.4 358.9 355.1 367 354.7 374.4 354.9 381.6 355.8 389.4 357.5M21.9 357.7 26.5 359.1 31.5 361 35.7 362.9 40.4 365.3 44.3 367.6 48.6 370.4 52.7 373.4 57.2 377.1 64.1 383.4 71.6 391.1 78.7 399.1 94.9 417.9 104.2 427.9 108.8 432.4 113.6 436.7 118.1 440.4 122.8 443.9 128.4 447.5 133.7 450.4 139.2 452.9 145 455.1 151 456.9 157.3 458.2 163.7 459.1 169.4 459.4 175.9 459.3 182.4 458.7 188.7 457.7 195.6 455.9 201.5 453.9 207.9 451.1 213.8 447.9 220.1 444 224.8 440.5 229.3 436.9 234.2 432.5 239.3 427.5 248.5 417.6 269.9 392.8 276.3 386.1 282.4 380.1 289.6 374 296.8 368.9 303.8 364.7 311.3 361.1 316.4 359.2 320.9 357.8 326.3 356.4 331 355.6 336.7 354.9 341.6 354.7 346.5 354.7 351.3 355 356.1 355.6 360.9 356.5 365.5 357.6 370.8 359.2 375.1 360.9 380 363.1 384.7 365.5 389.2 368.2M21.6 368.6 26.4 371.9 31.6 376 36.5 380.2 41.1 384.7 50.9 395.1 69.5 416.7 77.7 425.6 86.3 434.1 90.7 437.9 95.3 441.5 100.7 445.3 106.4 448.8 111.8 451.5 117.4 453.9 123.3 456 129.5 457.5 135.8 458.7 142.3 459.3 148.8 459.4 156.1 459 162.5 458 169.5 456.4 175.5 454.5 181.9 451.9 188 448.8 194.3 445 199.1 441.6 204.2 437.5 209.1 433.2 214.2 428.2 223.5 418.3 240.2 398.9 246.8 391.5 254.3 383.8 261.2 377.4 265.6 373.8 269.8 370.7 274 367.9 278.5 365.2 283.2 362.8 287.4 360.9 291.8 359.3 296.3 357.9 302.4 356.3 308.8 355.3 315.3 354.7 321 354.7 326.7 355 333.1 355.8 339.4 357.1 345.4 358.9 351.2 361.1 356.8 363.6 362 366.5 367.7 370.1 373 374 378.5 378.6 383.8 383.5 389.3 389.1M21.6 389.6 29.2 398.1 45.9 417.5 53.6 425.9 58.2 430.5 62.9 434.9 67.3 438.7 71.9 442.2 77.3 446 82.5 449 87.9 451.7 93.5 454.1 99.5 456.1 104.8 457.5 111.2 458.6 116.8 459.2 123.3 459.4 129.8 459.2 136.3 458.4 143.3 456.9 149.4 455.1 155.9 452.7 162 449.7 167.9 446.3 172.8 443.1 178 439.1 183.5 434.4 188.7 429.5 198.5 419.1 216.6 398.1 224.2 389.6 232.3 381.5 240.5 374.4 245.8 370.5 250.7 367.2 255.9 364.3 260.7 362 265.7 359.9 270.9 358.2 276.2 356.8 281.8 355.7 289 354.9 295.5 354.7 302.8 355 310 356 317 357.6 323.7 359.8 330.1 362.5 336.2 365.6 341.9 369.1 347.8 373.3 353.4 377.9 359.3 383.3 364.3 388.3 370.1 394.6 389.2 416.7M21.4 417.3 27.6 424.1 33.6 430.3 38.9 435.2 44.4 439.8 49.7 443.7 55.3 447.4 61.2 450.6 66.8 453.1 73.3 455.5 79.4 457.2 85.7 458.5 92.2 459.2 98.7 459.4 105.2 459.2 111.6 458.4 118.7 457 123.3 455.7 128.4 453.9 132.7 452.2 137.5 449.9 142 447.3 146.4 444.5 151.2 441.1 155.7 437.5 163.2 430.7 170.6 423 177.8 415 194 396.1 203.2 386.2 208.3 381.2 213.2 376.9 217.7 373.2 222.4 369.8 228.1 366.3 234 363.1 239.6 360.6 245.5 358.5 251.6 356.8 257.9 355.6 264.4 354.9 270 354.7 275.8 354.8 282.2 355.5 287.8 356.4 293.9 358 299.9 360 305.5 362.3 310.9 365.1 316.7 368.5 321.5 371.8 326.7 375.8 331.6 380.1 336.8 385.1 346.6 395.5 363.3 414.9"/><path stroke="#A2142F" d="M89.7 362.7 96.4 366.3 103.2 370.7 109.6 375.5 116.1 381.2 121.8 386.7 127.6 393 149.1 417.7 157.8 427.1 162.9 432.2 167.7 436.5 172.1 440.2 176.8 443.7 183.1 447.7 189 450.9 195.3 453.7 201.2 455.7 208.1 457.5 214.4 458.7 221.7 459.3 228.2 459.4 233.9 459.1 239.5 458.3 245 457.2 251.1 455.5 256.3 453.7 261.9 451.3 267.2 448.5 272.3 445.4 277.1 442 282.3 438 287.2 433.7 291.9 429.3 301.6 418.9 319.7 397.8 327.4 389.4 336 380.8 344.3 373.8 349.6 369.9 355.2 366.3 360.5 363.5 366.1 360.9 371.9 358.8 377.2 357.2 383.4 355.9 389 355.1M21.6 355 28.1 354.7 34.6 354.8 41.1 355.4 47.4 356.6 53.6 358.2 60.2 360.5 65.8 362.9 71.8 366.1 77.5 369.6 82.8 373.5 88.4 378.1 93.7 383 98.7 388 104.1 393.8 124.1 416.9 132.7 426.4 137.3 431 142 435.4 146.5 439.1 151.1 442.6 157.2 446.7 163.1 450.1 169.3 453 175.1 455.1 181.9 457.1 188.2 458.4 194.6 459.2 201.1 459.4 207.6 459.2 214.1 458.5 220.4 457.3 227.2 455.4 233.1 453.3 239.3 450.4 245.2 447.1 251.4 443.1 256.1 439.6 260.5 435.9 265.3 431.5 270.3 426.4 279 417 299 393.8 304.8 387.5 309.9 382.5 315.8 377.2 321.4 372.6 327.5 368.4 333.2 365 340 361.7 346.5 359.1 353.3 357.1 360.4 355.7 367.6 354.9 374.1 354.7 381.4 355 388.6 356M21.2 356.2 26.7 357.4 31.9 359 37 360.9 41.9 363.1 46.6 365.6 51.7 368.7 56.5 372 61.1 375.6 68.6 382.3 76.7 390.4 83.8 398.4 101 418.3 110.2 428.2 115.4 433.2 120.2 437.5 124.8 441.2 129.5 444.6 135.2 448.1 140.5 450.9 146.1 453.4 152 455.5 158 457.2 163.5 458.3 170 459.1 175.7 459.4 182.2 459.3 188.6 458.7 195 457.5 201.9 455.7 207.7 453.7 214 450.9 220 447.7 226.2 443.7 230.9 440.2 235.4 436.5 240.2 432.2 245.3 427.2 254 417.7 275.4 393 281.8 386.2 288 380.2 294.6 374.6 301.7 369.4 308.6 365.2 315.4 361.8 319.7 360 324.1 358.5 328.7 357.2 333.3 356.2 338.1 355.4 343 354.9 347.8 354.7 352.7 354.7 361.6 355.6 366.4 356.4 371 357.6 375.5 358.9 379.9 360.5 384.1 362.3 388.9 364.7M21.3 365.1 27.1 368.5 33.1 372.7 38.8 377.2 44.6 382.5 49.7 387.6 55.5 393.9 75.5 417 83.7 426 92.4 434.5 96.8 438.3 101.4 441.8 106.8 445.6 112.6 449 118 451.8 123.7 454.1 129.6 456.1 135.7 457.7 142.1 458.7 148.6 459.3 155.1 459.4 162.4 458.9 168.8 457.9 175.7 456.3 181.7 454.3 188.1 451.7 194.1 448.6 200.5 444.7 205.2 441.3 210.3 437.2 215.2 432.9 220.3 427.9 229.5 418 245.7 399.1 252.4 391.6 259.3 384.4 266.2 378 274.1 371.7 282.1 366.4 286.7 363.9 290.8 361.9 295.1 360.2 299.5 358.6 305.6 356.9 311.1 355.8 317.5 355 323.2 354.7 328.9 354.7 335.4 355.3 340.9 356.2 347.1 357.7 352.4 359.3 358.1 361.6 363.6 364.2 368.8 367.1 373.8 370.4 379.1 374.3 384.1 378.5 389.4 383.3M21.7 383.8 26.7 388.9 32 394.7 51 416.8 59.2 425.8 67.9 434.3 72.3 438.1 76.8 441.7 82.2 445.4 87.3 448.5 92.7 451.3 98.3 453.7 104.2 455.8 110.3 457.4 116.6 458.6 122.3 459.2 128.8 459.4 135.3 459.2 141.7 458.4 148.8 457 154.9 455.2 161.4 452.7 167.6 449.8 174 446.1 178.9 442.8 184.1 438.8 189.6 434.1 194.8 429.1 204.5 418.7 222.2 398.2 229.8 389.7 237.9 381.6 245.5 375 250.1 371.5 255 368.1 260.1 365.1 264.8 362.7 269.8 360.6 274.9 358.7 280.2 357.2 285.6 356 292.8 355 299.4 354.7 305.9 354.8 313.1 355.6 320.2 357 327 359 333.5 361.4 339.7 364.4 345.5 367.8 351 371.5 356.8 375.9 362.2 380.7 367.9 386.1 373.8 392.4 389.2 410.1M21.4 410.7 28.9 419.2 34.7 425.5 40.2 431.1 46.1 436.5 51.7 441 57.1 444.9 62.7 448.4 68.8 451.5 75.1 454.2 81.1 456.2 88 457.8 94.4 458.9 101.7 459.4 108.2 459.4 114.7 458.8 121.8 457.6 126.5 456.5 131.7 454.8 136.8 452.9 141.6 450.6 146.3 448.2 150.7 445.4 155.5 442.1 160.1 438.5 167.7 431.8 175.7 423.7 182.9 415.7 200 395.8 209.8 385.3 214.9 380.4 220.4 375.6 225.6 371.6 230.4 368.3 236.9 364.5 243 361.6 249.5 359.1 255.5 357.3 262.6 355.8 269 355 275.5 354.7 282 354.8 287.7 355.4 294 356.6 300.2 358.1 306.1 360.2 311.7 362.6 317.8 365.7 323.4 369.2 328.8 373 337.2 380 345.4 388 353.5 396.9 368.8 414.7 375.4 422.2 382.4 429.4 389.2 435.8M21.5 436.3 26.6 440.4 31.3 443.9 36.2 447.1 41.5 450 47 452.6 52 454.6 57.2 456.3 62.6 457.6 68.2 458.6 73.8 459.2 79.5 459.4 85.2 459.3 90.9 458.7 96.4 457.8 101.8 456.5 107.1 454.9 111.5 453.3 115.7 451.4 123.6 447.2 131.6 441.8 139.4 435.4 145.7 429.5 152.7 422.3 159.3 414.9 175.5 396 184.2 386.6 189.3 381.6 194.2 377.2 199.3 373.1 204 369.7 210.3 365.8 216.3 362.6 222.7 360 228.6 358 235.6 356.3 241.9 355.3 249.2 354.7 255.8 354.7 261.4 355.2 267.8 356.2 274 357.6 280 359.5 285.7 361.8 291.2 364.4 297 367.8 302.5 371.5 307.1 375.1 311.5 378.8 316.3 383.2 320.8 387.8 329.5 397.2 350 420.9 356.3 427.7 362 433.2 368.5 438.9 375.5 444.1 382.4 448.4 389.2 451.9M21.7 452.2 25.9 453.9 30.3 455.5 38.8 457.7 47.5 459 56.5 459.4 65.4 458.9 74.1 457.4 82.5 455 86.8 453.4 91.1 451.6 97.7 448.1 104.6 443.7 111 438.9 117.6 433.2 123.2 427.7 129.6 421 150.5 396.8 159.2 387.3 164.3 382.3 169.1 377.9 173.6 374.2 178.2 370.7 184.4 366.7 190.4 363.5 196.6 360.6 202.5 358.5 209.4 356.7 215.7 355.5 223 354.8 229.5 354.7 235.2 355 240.8 355.7 246.3 356.8 252.4 358.4 258.3 360.5 263.9 362.9 269.2 365.7 274.3 368.8 279.1 372.2 284.3 376.2 289.2 380.5 293.8 385 303.6 395.4 321.7 416.4 329.3 424.9 337.4 433 345.7 440 351 443.9 355.9 447.1 361.2 450.1 366.7 452.7 372.4 454.9 377.7 456.5 383.1 457.8 388.7 458.7M21.3 458.8 27.7 459.4 34.3 459.4 40.8 458.9 47.9 457.8 54.1 456.3 60.8 454.1 67.2 451.4 73.2 448.3 78.8 444.7 84.2 440.9 89.8 436.3 95.7 431 100.7 425.9 106 420.1 126 397 134.2 388 139.3 383 144 378.6 148.4 374.8 153.1 371.3 159.2 367.2 165.1 363.9 171.3 361 177.1 358.9 184 356.9 190.2 355.7 196.7 354.9 203.2 354.7 209.7 354.9 216.1 355.6 222.4 356.9 229.3 358.8 235.1 360.9 241.3 363.8 247.2 367.1 253.4 371.2 258 374.7 262.5 378.4 267.2 382.8 272.3 387.8 281 397.3 300.5 419.9 306.3 426.2 311.4 431.3 317.2 436.6 322.8 441.2 328.8 445.4 334.6 448.8 340.7 451.9 347.1 454.5 353.8 456.6 360.8 458.2 368.1 459.1 375.4 459.4 381.9 459.2 389.1 458.3M21.7 458.2 27.2 457 32.5 455.5 37.6 453.7 42.6 451.5 47.3 449.1 52.4 446.1 57.3 442.8 62.5 438.8 70.1 432.2 78.1 424 85.8 415.6 102.9 395.6 112.2 385.7 116.8 381.2 121.7 376.9 126.8 372.8 131.5 369.4 136.6 366.3 141.9 363.4 147.4 360.9 153.2 358.7 159.3 357 164.8 355.9 171.2 355 176.9 354.7 183.4 354.8 190.7 355.5 197 356.6 203.9 358.4 209.8 360.5 216.1 363.3 222 366.5 228.2 370.6 232.9 374 237.4 377.7 242.2 382.1 247.3 387.1 256 396.6 277.4 421.3 283.8 428 289.4 433.5 296 439.2 303 444.4 310 448.7 316.8 452.1 321 453.9 325.4 455.4 330 456.8 334.6 457.8 339.4 458.6 344.2 459.2 353.2 459.4 362.1 458.7 366.8 457.9 371.5 456.9 376.1 455.6 380.5 454.1 384.8 452.3 388.9 450.3M21.4 450 27.8 446.3 33.9 442.1 40.2 437.2 46.1 431.9 51.2 426.8 57 420.6 77.5 396.9 85.7 388 94.4 379.5 98.8 375.7 103.4 372.1 108.8 368.4 114.6 364.9 120 362.2 125.7 359.9 131.6 357.9 137.8 356.4 144.2 355.3 150.6 354.8 157.1 354.7 164.4 355.2 170.8 356.2 177.8 357.9 183.7 359.9 190.1 362.5 196.1 365.6 202.4 369.5 207.2 373 212.3 377.1 217.1 381.4 222.3 386.4 231.5 396.3 247.7 415.2 254.3 422.7 261.3 429.9 268.1 436.2 276.1 442.5 284.1 447.8 292.2 452 296.4 453.8 300.8 455.3 306.9 457.1 312.3 458.2 318.8 459.1 324.4 459.4 330.1 459.4 335.8 458.9 341.4 458.1 347.7 456.8 352.9 455.2 358.8 453 363.6 450.8 368.9 448 374 444.8 379.3 441 384.4 436.9 389.2 432.6M21.6 432.1 27.1 426.5 33 420.3 53 397.1 61.1 388.2 69.9 379.7 74.2 375.9 78.2 372.7 83.6 368.9 89.3 365.5 94.7 362.7 100.3 360.3 106.2 358.2 112.4 356.6 118.7 355.5 124.3 354.9 130.9 354.7 137.4 354.9 143.8 355.7 150.9 357.2 156.9 359 163.4 361.5 169.6 364.4 176 368.2 180.9 371.5 186.1 375.5 191.6 380.2 196.7 385.1 206.5 395.6 224.1 416.1 231.3 424 239.3 432.1 246.9 438.8 251.5 442.4 256.4 445.7 261.5 448.8 266.2 451.2 271.1 453.3 276.2 455.2 281.5 456.8 286.9 458 294.1 459 300.6 459.4 307.1 459.3 314.4 458.6 320.7 457.4 327.6 455.6 334.1 453.2 340.4 450.3 346.3 447 351.8 443.4 357.6 439 363.1 434.3 368.3 429.3 374.3 423.1 380.5 416.2 389.3 406M21.5 405.4 29.4 396.3 35.6 389.4 41.7 383.3 46.9 378.4 52.5 373.8 58.4 369.5 64.1 366 70.1 362.8 76.5 360.1 82.4 358.1 89.3 356.4 95.7 355.3 102.9 354.7 109.5 354.7 116 355.2 123.1 356.4 127.8 357.5 133 359.1 138.1 361 143 363.2 147.6 365.7 152.7 368.8 157.5 372.1 162.1 375.7 169.6 382.4 177.7 390.6 184.8 398.5 202 418.5 211.7 428.9 216.9 433.9 222.4 438.6 227.6 442.6 232.4 445.9 238.9 449.7 245 452.6 251.5 455.1 257.6 456.9 264.6 458.4 271.1 459.2 277.6 459.4 284.1 459.2 289.7 458.6 296.1 457.5 302.2 455.9 308.1 453.9 313.7 451.4 319.1 448.7 324.8 445.2 330.2 441.4 334.2 438.2 338.6 434.5 347.3 426 355.5 417 376.4 392.8 382.8 386 389 380.1M21.3 379.6 26.3 375.4 31.5 371.4 36.3 368.1 41.5 365 46.9 362.3 51.8 360.2 57 358.4 62.3 357 68.6 355.7 74.2 355 79.9 354.7 85.6 354.7 91.3 355.2 96.9 356 102.4 357.2 108.4 359 112.8 360.6 117 362.4 125 366.7 133 372 140.9 378.3 147.7 384.7 154.6 391.9 177 417.7 186.2 427.7 191.3 432.7 196.2 437 201.2 441.1 206 444.5 212.3 448.4 218.3 451.6 224.7 454.2 230.7 456.2 237.6 457.9 244 458.9 251.3 459.4 257.8 459.4 264.3 458.8 270.6 457.7 276.8 456.2 282.8 454.2 288.4 451.9 293.9 449.2 299.6 445.8 305.1 442 309.7 438.4 314.1 434.7 322.8 426.2 331 417.2 351.4 393.5 357.3 387.3 362.9 381.7 369.4 376 375.7 371.1 382.5 366.7 389.1 363.1M21.6 362.8 25.8 360.9 30.1 359.3 38.5 356.8 43.2 355.9 48 355.2 56.9 354.7 65.9 355.1 70.7 355.7 75.4 356.6 83.8 358.9 88.2 360.5 92.4 362.3 99.1 365.8 106 370.1 113 375.3 119.5 381 125.2 386.5 131.5 393.3 152.5 417.5 161.2 427 166.3 432 171.1 436.4 175.5 440 180.2 443.5 186.4 447.5 192.4 450.8 198.7 453.6 204.5 455.6 211.4 457.5 217.7 458.6 224.2 459.3 230.7 459.4 236.4 459.2 242.8 458.4 248.3 457.3 254.5 455.6 260.3 453.5 265.9 451.1 271.2 448.2 276.3 445.1 281.1 441.8 286.2 437.7 291.1 433.4 295.8 428.9 305.1 419.1 323.2 398 330.8 389.6 338.9 381.5 347.1 374.4 352.4 370.5 357.3 367.2 362.5 364.3 367.3 362 373 359.6 378.2 357.9 383.6 356.6 389.1 355.6M21.7 355.4 29 354.8 36.3 354.7 43.6 355.3 51.5 356.7 58.4 358.6 65.7 361.2 72.5 364.5 79 368.3 84.4 372 89.6 376.1 95 380.8 100.2 385.8 109.4 395.7 132.3 422.1 139.2 429.3 145.4 435.2 152.7 441.2 160 446.2 167.1 450.3 174.8 453.7 179.9 455.5 184.5 456.8 189.1 457.9 193.9 458.7 198.7 459.2 203.6 459.4 208.5 459.4 213.4 459 218.2 458.4 222.9 457.5 227.6 456.4 232.8 454.7 237.1 453.1 242 450.9 246 448.8 250.5 446.1"/><path stroke="#EDB120" d="M320.9 451.4 328.7 454.6 337 457.1 345.6 458.7 354.6 459.4 363.5 459.2 372.3 458 380.8 455.9 388.9 453M21.4 452.7 28.9 449 35.9 444.8 42.9 439.6 50.1 433.5 55.7 428 62.1 421.3 83.1 397.1 91.7 387.6 96.3 383 101 378.6 105.4 374.9 110.1 371.4 115.6 367.7 121.4 364.3 126.9 361.7 132.6 359.4 138.6 357.5 144.8 356.1 151.2 355.2 156.9 354.7 163.4 354.7 170.7 355.3 177.1 356.3 184 358.1 189.9 360 196.3 362.8 202.3 365.9 208.6 369.8 213.3 373.3 218.4 377.4 223.2 381.7 228.3 386.7 237 396.2 259.4 422 266.3 429.2 272.6 435.1 279.9 441.1 287.7 446.5 295.6 450.9 299.8 452.8 304.1 454.5 309.3 456.2 314.7 457.5 320.2 458.6 325.8 459.2 331.5 459.4 337.2 459.3 342.9 458.8 348.5 457.9 353.9 456.6 359.2 455 364.3 453.1 369.1 450.9 373.8 448.5 378.9 445.4 383.7 442 388.9 438M21.2 437.5 28.7 430.8 36.1 423.1 43.3 415.1 59.5 396.2 67.7 387.3 76 379.3 83.8 372.9 89.2 369.1 94.9 365.6 100.9 362.5 106.6 360.1 112.5 358.1 118.6 356.5 125 355.4 130.6 354.8 137.1 354.7 143.7 355 150.1 355.8 157.1 357.3 163.1 359.1 169.6 361.7 175.8 364.7 182.2 368.4 187 371.8 192.2 375.8 197.1 380 202.3 385 212.1 395.4 229.7 415.9 236.8 423.8 244.4 431.5 251.9 438.2 256.5 441.8 261.3 445.2 265.7 447.9 270.3 450.4 275.1 452.7 280.2 454.6 285.4 456.3 290 457.5 297.2 458.7 303.6 459.3 310.1 459.4 316.6 459 323 458.1 330 456.5 336 454.6 342.5 452 348.6 449 354.3 445.5 359.7 441.8 365.4 437.2 370.8 432.4 376.4 426.9 382.2 420.7 389.3 412.6M21.5 412.1 37.8 393.2 43.7 387 49.3 381.5 55.2 376.2 61 371.7 66.4 368 72.2 364.6 78.4 361.6 84.9 359.1 91.7 357.1 98.7 355.7 106 354.9 112.5 354.7 119 355 126.2 355.9 131.7 357.1 137 358.5 142.2 360.4 147.1 362.5 151.8 364.9 157 367.9 161.9 371.2 167.1 375.1 174.7 381.8 182.7 389.9 190.4 398.4 208 418.9 217.8 429.3 223 434.2 228.5 438.9 233.7 442.9 238.6 446.2 244.4 449.6 250.5 452.5 257 455 263.1 456.8 270.1 458.3 276.5 459.1 283 459.4 289.6 459.2 295.2 458.7 301.5 457.5 307.7 455.9 313.6 453.9 319.2 451.5 324.6 448.8 329.7 445.7 335.2 442 339.8 438.4 344.1 434.6 348.9 430.2 353.4 425.6 361.5 416.6 380.1 395.1 389.4 385.2M21.7 384.7 26.9 379.7 32.4 375 37.6 371.1 42.5 367.8 47.7 364.8 53.1 362.1 58.8 359.8 64 358 70.1 356.5 75.7 355.5 82.1 354.8 87.8 354.7 93.5 354.9 100 355.6 105.5 356.6 111.6 358.2 116.1 359.7 120.4 361.4 124.6 363.3 129.2 365.8 137.3 371 141.4 374 145.9 377.7 152.7 384.1 159.7 391.3 166.3 398.7 183 418.1 192.3 428.1 197.4 433 202.2 437.4 207.4 441.4 212.1 444.8 218.5 448.7 224.5 451.8 230.9 454.4 236.9 456.3 243.9 458 250.3 458.9 257.6 459.4 264.1 459.3 270.6 458.7 276.9 457.6 283.1 456 289 454 294.6 451.7 300 448.9 305.8 445.5 311.2 441.7 315.8 438.1 320.1 434.3 328.9 425.8 337 416.9 356.5 394.2 361.9 388.5 366.9 383.4 372.7 378 378.3 373.4 383.7 369.6 389.3 366M21.8 365.7 26.4 363.2 30.6 361.3 34.9 359.6 39.4 358.1 43.9 356.9 48.6 355.9 53.4 355.2 58.3 354.8 63.2 354.7 68.1 354.8 72.9 355.2 77.7 355.9 82.4 356.9 87 358.1 91.5 359.6 96.5 361.6 104 365.3 110.9 369.6 118 374.8 124.6 380.4 130.2 385.9 136.6 392.6 158.5 417.9 167.2 427.3 172.3 432.4 177.2 436.7 181.6 440.4 186.4 443.8 192.6 447.8 198.6 451 204.9 453.8 210.8 455.8 217.7 457.6 224 458.7 230.5 459.3 237 459.4 242.7 459.1 249.1 458.3 254.6 457.2 260.7 455.4 266.5 453.3 272.1 450.8 277.4 448 283.1 444.4 287.8 441 292.3 437.4 297.2 433.1 302.3 428.1 311.6 418.1 328.3 398.7 335.4 390.8 343.4 382.6 350.9 375.9 355.5 372.3 360.3 368.9 364.7 366.2 369.4 363.7 374.2 361.4 379.2 359.4 384.5 357.8 389.1 356.6M21.6 356.5 28.8 355.3 36.1 354.7 43.4 354.8 50.7 355.5 57.8 356.8 65.4 359 71.9 361.5 78.7 364.8 84.5 368.2 90.6 372.3 96.2 376.9 102.1 382.2 107.2 387.2 113.1 393.4 133.5 417.1 142.2 426.6 147.3 431.6 152.1 436 156.5 439.7 161.2 443.2 167.4 447.3 173.3 450.5 179.6 453.4 185.4 455.5 192.3 457.4 198.6 458.5 205 459.2 211.5 459.4 218 459.1 224.5 458.3 230.7 457 237.6 455.1 243.3 452.9 249.5 449.9 255.4 446.6 261.5 442.5 266.1 439 270.5 435.2 275.3 430.8 279.8 426.2 288.5 416.8 308 394.1 313.3 388.4 318.4 383.3 323.6 378.4 329.2 373.8 334.5 369.9 340.2 366.3 346.1 363.2 351.7 360.7 357.6 358.6 363.7 356.9 370 355.6 376.4 354.9 382.9 354.7 388.6 354.9M21.2 354.9 26.8 355.6 33.2 356.7 39.3 358.4 45.1 360.5 50.8 362.9 56.1 365.7 61.8 369.2 67.2 373 75.5 380 80.2 384.4 84.7 389 92.8 398 110.9 419 120.7 429.4 125.9 434.4 130.8 438.6 136 442.6 140.9 445.9 146 449 151.4 451.7 157.1 454.1 162.3 455.8 168.4 457.5 173.9 458.5 179.6 459.2 185.3 459.4 191.8 459.3 198.2 458.6 204.6 457.5 211.4 455.6 217.3 453.6 223.6 450.8 229.5 447.5 235.7 443.5 240.4 440.1 244.9 436.4 249.7 432 254.8 427 263.5 417.5 284.4 393.3 290.8 386.5 296.4 381 303 375.4 309.4 370.5 315.6 366.5 322.2 363 330 359.7 338.3 357.1 346.9 355.5 355 354.7 363.1 354.8 372 355.7 380.6 357.6 388.7 360.3M21.3 360.6 28.9 364.1 36.6 368.6 43.8 373.7 51 379.8 57.2 385.7 63.6 392.5 85 417.2 93.7 426.7 98.2 431.2 103 435.6 107.4 439.3 112.1 442.9 117.6 446.5 123.4 449.9 128.9 452.5 134.7 454.8 140.7 456.6 146.9 458 153.3 459 159 459.4 165.5 459.4 172.8 458.8 179.1 457.7 186.1 456 192 454 198.3 451.2 204.3 448.1 210.6 444.1 215.3 440.7 219.8 437 224.7 432.7 229.8 427.7 239 417.8 261.4 392 268.3 384.7 274.6 378.8 281.8 372.8 289.7 367.4 297.6 363.1 305.4 359.8 310.6 358.1 315.9 356.7 321.5 355.6 327.1 355 332.8 354.7 337.7 354.7 343.4 355.2 348.9 356 354.4 357.1 359.7 358.7 364.9 360.5 369.8 362.6 374.5 365 379.6 368.1 384.5 371.4 389.1 374.9M21.5 375.3 29.1 382 37.1 390.2 44.7 398.6 61.4 418.1 69.7 427 77.9 434.9 85.8 441.4 91.1 445.2 96.9 448.7 102.9 451.7 108.6 454.1 114.5 456.1 120.7 457.7 127 458.7 132.7 459.3 139.2 459.4 145.7 459.1 152.1 458.2 159.2 456.7 165.2 454.9 171.6 452.3 177.8 449.3 184.2 445.5 189 442.2 194.2 438.2 199.1 433.9 204.3 428.9 214 418.5 231.2 398.6 238.3 390.6 245.8 382.9 253.3 376.2 257.9 372.6 262.7 369.2 267.1 366.5 271.7 363.9 276.5 361.6 281.5 359.6 286.7 357.9 291.3 356.7 298.4 355.4 304.9 354.8 311.4 354.7 317.9 355 324.3 355.9 330.6 357.3 336.6 359 343.1 361.6 348.6 364.2 354.4 367.5 359.9 371.2 365.7 375.6 371.2 380.3 376.9 385.8 382.8 392 389.4 399.5M21.6 400 38.8 420 44.6 426.2 50.2 431.8 56.1 437.1 61.8 441.6 67.2 445.4 72.9 448.9 79 451.9 85.4 454.5 92.2 456.7 99.2 458.2 106.4 459.1 113.7 459.4 120.3 459.2 127.5 458.3 133 457.2 138.3 455.7 143.5 453.9 148.4 451.8 153.2 449.5 158.4 446.5 163.3 443.2 168.5 439.3 176.1 432.6 184.2 424.5 191.9 416.1 210 395 219.7 384.7 225 379.7 230.4 375 235.7 371.1 240.6 367.8 246.4 364.4 252.6 361.5 259.1 359 265.1 357.2 272.2 355.7 278.6 354.9 285.1 354.7 291.6 354.9 297.3 355.5 303.6 356.6 309.7 358.2 315.6 360.3 321.3 362.7 326.6 365.4 331.7 368.5 337.2 372.3 341.7 375.9 346.1 379.7 350.8 384.1 355.3 388.7 363.5 397.6 381.1 418.1 389.3 427.1M21.6 427.6 26.7 432.6 32.1 437.4 37.2 441.4 42.6 445.2 47.7 448.3 53 451.1 58.6 453.6 64.5 455.7 70.6 457.3 76.9 458.5 83.4 459.2 89.1 459.4 94.8 459.3 101.2 458.6 106.8 457.6 112.9 456 117.4 454.6 121.7 452.9 125.9 451 130.6 448.5 134.4 446.3 138.7 443.4 142.8 440.4 147.3 436.7 154.2 430.4 161.6 422.7 168.3 415.2 185 395.8 194.2 385.9 199.4 380.9 204.2 376.6 209.3 372.5 214.1 369.1 220.5 365.3 226.6 362.2 233 359.6 239 357.7 245.9 356.1 252.3 355.1 258.8 354.7 265.3 354.7 271.8 355.3 278.2 356.4 284.3 357.9 290.3 359.9 296 362.2 302 365.3 307.8 368.8 313.2 372.5 317.8 376.1 322.1 379.9 330.8 388.5 339 397.4 358 419.5 363.3 425.3 368.3 430.4 373.6 435.3 379.1 439.9 384.4 443.8 389.4 447.1M21.8 447.4 26.4 450 30.5 452 35.5 454 39.9 455.6 45.2 457.1 49.9 458.1 54.7 458.8 59.5 459.3 64.4 459.4 69.3 459.3 74.2 458.9 79 458.3 83.7 457.3 88.3 456.1 92.8 454.7 97.8 452.7 105.3 449.1 112.3 444.8 119.4 439.7 126 434 132.2 428.1 138.6 421.3 160 396.6 169.2 386.6 174.3 381.6 179.1 377.3 183.6 373.6 188.4 370.1 194.6 366.2 200.6 363 206.9 360.2 212.8 358.2 219.7 356.4 226.1 355.4 232.5 354.8 239.1 354.7 244.8 355 251.2 355.9 256.7 357 262.7 358.7 268.6 360.9 274.1 363.4 279.4 366.2 285.1 369.8 289.8 373.2 294.3 376.9 299.2 381.2 304.3 386.2 313.5 396.1 329.7 415 336.9 423 344.3 430.7 351.8 437.4 356.3 441.1 361.1 444.5 365.5 447.3 370 449.8 374.8 452.2 379.1 453.9 384.2 455.7 388.8 457M21.4 457.2 29.2 458.7 36.5 459.3 43.9 459.4 51.1 458.8 58.3 457.6 65.9 455.5 73.2 452.8 80.1 449.6 85.9 446.2 92 442.1 98.2 437.1 104.1 431.8 109.2 426.7 115 420.5 135 397.3 143.7 387.8 148.7 382.8 153.5 378.4 157.9 374.7 162.6 371.2 168.7 367.1 174.6 363.8 180.9 360.9 186.7 358.8 193.5 356.9 199.8 355.6 206.3 354.9 212.8 354.7 219.3 354.9 225.7 355.7 232 356.9 238.8 358.9 244.7 361 250.9 363.9 256.8 367.2 262.9 371.3 267.5 374.8 272 378.6 276.7 383 281.8 388 290 397 309.9 420.1 315.3 425.9 320.3 431 325.6 435.8 331.2 440.4 336.5 444.3 341.5 447.5 346.8 450.4 352.3 452.9 358.1 455.1 364.2 456.9 370.4 458.2 376.8 459.1 383.3 459.4 389 459.3M21.6 459.3 27.3 458.7 33.6 457.6 39.8 456.1 45.7 454.1 51.4 451.7 57.5 448.6 63.2 445.2 68.6 441.4 73.1 437.8 77.5 434 86.2 425.4 94.3 416.4 112.9 394.9 122.7 384.5 127.9 379.6 132.8 375.3 138 371.3 142.9 368 148 365 153.5 362.3 159.1 359.9 164.3 358.2 170.5 356.6 176 355.6 181.6 354.9 187.3 354.7 193.8 354.8 200.3 355.5 206.6 356.7 213.5 358.5 219.3 360.6 225.6 363.4 231.5 366.7 237.7 370.7 242.4 374.2 246.9 377.9 251.7 382.2 256.8 387.3 265.4 396.7 286.4 421 292.3 427.2 297.9 432.7 304.4 438.4 310.8 443.3 316.9 447.3 323.5 450.9 331.3 454.2 339.5 456.8 348.2 458.6 356.2 459.4 364.4 459.3 373.3 458.4 381.1 456.8 389.3 454.2M21.8 454 29.5 450.6 37.4 446.1 45.2 440.7 52.4 434.6 58.6 428.7 65.5 421.5 87 396.7 95.6 387.3 100.2 382.7 105 378.3 109.4 374.6 114.1 371.1 119.6 367.4 125.5 364.1 130.9 361.5 136.7 359.3 142.7 357.4 149 356 155.4 355.1 161 354.7 167.6 354.7 174 355.3 180.4 356.3 187.3 358 193.3 360 199.6 362.6 205.7 365.8 212 369.7 216.7 373.1 221.8 377.2 226.6 381.5 231.7 386.6 240.9 396.5 262.8 421.8 269.7 429 276 435 283.2 441 291.1 446.4 298.9 450.8 306.7 454.1 311.9 455.9 317.2 457.3 322.7 458.4 327.5 459 333.2 459.4 338.1 459.4 343.8 459.1 349.4 458.4 354.1 457.5 359.5 456.1 364.7 454.3 369.7 452.3 374.5 450 379.1 447.5 384.1 444.3 388.8 440.9M21.2 440.4 28.9 433.9 37.1 425.8 45.3 416.9 66.7 392.2 73.6 384.9 80.4 378.5 84.9 374.8 88.9 371.7 96.9 366.4 101.5 363.9 105.6 361.9 109.9 360.2 114.3 358.6"/></g><g clip-path="url(#clipc)"><use href="#coast" transform="translate(0 407.05)"/></g><rect x="21.2" y="291.2" width="368.2" height="231.7" fill="none" stroke="#8a8a8a" stroke-width="0.6"/><line x1="21.2" x2="389.4" y1="291.8" y2="291.8" stroke="#DD6530" stroke-width="1.4"/><line x1="21.2" x2="389.4" y1="522.3" y2="522.3" stroke="#DD6530" stroke-width="1.7"/><g font-size="6.9" fill="#333"><text transform="translate(18.2 514.2) scale(0.9 1)" text-anchor="end">-80</text><text transform="translate(18.2 488.1) scale(0.9 1)" text-anchor="end">-60</text><text transform="translate(18.2 461.9) scale(0.9 1)" text-anchor="end">-40</text><text transform="translate(18.2 435.6) scale(0.9 1)" text-anchor="end">-20</text><text transform="translate(18.2 409.4) scale(0.9 1)" text-anchor="end">0</text><text transform="translate(18.2 383.2) scale(0.9 1)" text-anchor="end">20</text><text transform="translate(18.2 357.0) scale(0.9 1)" text-anchor="end">40</text><text transform="translate(18.2 330.8) scale(0.9 1)" text-anchor="end">60</text><text transform="translate(18.2 304.6) scale(0.9 1)" text-anchor="end">80</text><text transform="translate(51.9 532.4) scale(0.9 1)" text-anchor="middle">-150</text><text transform="translate(103.0 532.4) scale(0.9 1)" text-anchor="middle">-100</text><text transform="translate(154.2 532.4) scale(0.9 1)" text-anchor="middle">-50</text><text transform="translate(205.3 532.4) scale(0.9 1)" text-anchor="middle">0</text><text transform="translate(256.4 532.4) scale(0.9 1)" text-anchor="middle">50</text><text transform="translate(307.6 532.4) scale(0.9 1)" text-anchor="middle">100</text><text transform="translate(358.7 532.4) scale(0.9 1)" text-anchor="middle">150</text></g><text x="205.3" y="540.9" font-size="7.15" fill="#333" text-anchor="middle">Longitude [°]</text><text transform="translate(6.3 407.1) rotate(-90)" font-size="7.15" fill="#333" text-anchor="middle">Latitude [°]</text><rect x="301.5" y="296" width="82.0" height="48.0" fill="#fff" stroke="#999" stroke-width="0.5"/><line x1="303.8" x2="322.2" y1="300.0" y2="300.0" stroke="#D95319" stroke-width="0.55"/><text x="323.7" y="302.0" font-size="5.75" fill="#222">sat 1 inc 89° alt 428km</text><line x1="303.8" x2="322.2" y1="308.0" y2="308.0" stroke="#77AC30" stroke-width="0.55"/><text x="323.7" y="310.0" font-size="5.75" fill="#222">sat 2 inc 70° alt 418km</text><line x1="303.8" x2="322.2" y1="316.0" y2="316.0" stroke="#0072BD" stroke-width="0.55"/><text x="323.7" y="318.0" font-size="5.75" fill="#222">sat 3 inc 70° alt 418km</text><line x1="303.8" x2="322.2" y1="324.0" y2="324.0" stroke="#7E2F8E" stroke-width="0.55"/><text x="323.7" y="326.0" font-size="5.75" fill="#222">sat 4 inc 40° alt 433km</text><line x1="303.8" x2="322.2" y1="332.0" y2="332.0" stroke="#A2142F" stroke-width="0.55"/><text x="323.7" y="334.0" font-size="5.75" fill="#222">sat 5 inc 40° alt 433km</text><line x1="303.8" x2="322.2" y1="340.0" y2="340.0" stroke="#EDB120" stroke-width="0.55"/><text x="323.7" y="342.0" font-size="5.75" fill="#222">sat 6 inc 40° alt 433km</text><text transform="translate(194.4 559.9) scale(0.93 1)" font-size="15.6" fill="#000" text-anchor="middle">(c)</text><clipPath id="clipe"><rect x="21.2" y="579.2" width="368.2" height="231.8"/></clipPath><rect x="21.2" y="579.2" width="368.2" height="231.8" fill="#fff"/><path d="M21.2 799.9H389.4M21.2 773.7H389.4M21.2 747.5H389.4M21.2 721.3H389.4M21.2 695.1H389.4M21.2 668.9H389.4M21.2 642.7H389.4M21.2 616.5H389.4M21.2 590.3H389.4M51.9 579.2V811.0M103.0 579.2V811.0M154.2 579.2V811.0M205.3 579.2V811.0M256.4 579.2V811.0M307.6 579.2V811.0M358.7 579.2V811.0" stroke="#e6e6e6" stroke-width="0.6" fill="none"/><g clip-path="url(#clipe)" fill="none" stroke-width="0.5" stroke-opacity="0.8"><path stroke="#D95319" d="M205.3 695.1 203.3 634.5 203.1 617.7 203.3 605.9 204 597.5 204.6 594.2 205.3 591.7 206.3 589.1 207.3 587.5 208.7 585.8 210.8 584.1 214.2 582.5 216.9 581.7 220.7 580.9 226.7 580.1 236.7 579.4 255.3 578.8 287.5 578.5 322 578.7 343.1 579.3 354.4 580 361 580.7 365.2 581.5 368.1 582.3 371.7 584 373.9 585.6 375.3 587.3 376.7 589.8 377.6 592.3 378.4 595.7 379 599.9 379.4 604.9 379.6 611.6 379.6 625.9 379.2 645.3 375.4 755.5 375.2 774.9 375.6 787.5 376 791.7 376.7 795.9 377.6 799.2 378.8 801.7 380.6 804.2 382.6 805.9 385.9 807.5 388.4 808.3M23.7 809.1 29.1 809.9 38.1 810.7 54.4 811.3 83.9 811.7 119.8 811.6 143.7 811.1 156.5 810.4 163.8 809.6 168.4 808.8 171.5 808 173.7 807.2 175.3 806.4 177.6 804.7 179.1 803.1 180.2 801.4 181.2 798.9 181.9 796.4 183 789.7 183.5 779.6 183.5 766.1 183.1 747.6 179.9 653.4 179.1 621.4 179.2 608.8 179.7 600.4 180.8 593.7 182.2 589.5 183.1 587.8 184.4 586.1 186.3 584.5 187.6 583.7 191.7 582 195 581.2 199.9 580.4 208 579.7 222.3 579 248.8 578.6 285.2 578.6 312.1 579 326.6 579.7 334.7 580.4 339.7 581.2 343 582 345.4 582.8 348.5 584.5 349.6 585.3 351.1 587 352.2 588.6 353 590.3 353.8 592.8 354.4 595.3 355.2 601.2 355.6 609.6 355.7 620.5 355 650.8 352.2 729.1 351.4 756.8 351.3 777.9 351.5 785.4 352 791.3 352.9 796.4 354.2 800.5 355.7 803.1 357.2 804.7 358.2 805.5 361.1 807.2 363.3 808 366.3 808.8 370.9 809.6 378.1 810.4M22.5 811.1 46.1 811.6 81.9 811.7 111.7 811.3 128.2 810.7 137.3 809.9 142.8 809.2 146.4 808.4 148.9 807.6 150.8 806.7 152.2 805.9 154.2 804.2 155.5 802.6 156.5 800.9 157.4 798.4 158.1 795.9 158.7 792.5 159.1 788.3 159.6 778.2 159.6 764.8 159.2 746.3 155.9 653.7 155.2 621.8 155.3 610 155.7 600.7 156.6 594.9 157.2 592.3 158.1 589.8 158.9 588.2 160.1 586.5 161.9 584.8 163.1 584 166.7 582.4 169.5 581.5 173.7 580.7 180.2 580 191.4 579.3 212.2 578.7 246.4 578.5 278.9 578.8 297.8 579.4 308 580.1 314 580.9 317.9 581.7 320.6 582.5 322.5 583.3 325.2 585 326.9 586.6 328 588.3 328.9 590 329.8 592.5 330.9 598.3 331.5 605.9 331.7 616.8 331.6 630.3 331.2 648 328.2 732.9 327.4 762.4 327.3 774.2 327.5 783.4 328 791 328.8 796 330.1 800.2 331 801.9 332.1 803.5 333.8 805.2 334.9 806 338.3 807.7 341 808.5 344.8 809.3 350.7 810.1 360.7 810.8 379 811.4M42.7 811.7 77.3 811.5 98.7 810.9 110.2 810.2 116.9 809.5 121.1 808.7 124 807.9 126.1 807.1 128.9 805.4 129.9 804.6 131.3 802.9 132.3 801.3 133.4 798.7 134.5 793.7 135.3 786.1 135.6 776.1 135.6 762.6 135.2 744.9 132 654.9 131.2 623.8 131.3 612 131.6 602.8 132.4 596 133.6 591 134.8 588.5 135.9 586.8 137.5 585.2 138.6 584.3 141.8 582.7 144.3 581.9 147.8 581.1 153.2 580.3 162.1 579.6 178.1 578.9 207.3 578.5 243.3 578.6 267.5 579.1 280.5 579.8 287.9 580.6 292.5 581.3 295.6 582.1 297.8 583 300.8 584.6 301.8 585.4 303.3 587.1 304.4 588.8 305.4 591.3 306.6 596.3 307.4 603.9 307.8 614 307.7 627.4 307.3 645.9 304.2 734.3 303.4 764.6 303.4 777.2 303.7 786.4 304.4 793.2 305.4 798.2 306.4 800.7 307.3 802.4 308.6 804 310.5 805.7 313.5 807.3 315.9 808.2 319.1 809 324 809.8 331.9 810.5 346.1 811.2 372.3 811.6M40.4 811.6 67.6 811.2 82.4 810.5 90.6 809.8 95.6 809 99 808.2 101.4 807.4 104.5 805.8 106.4 804.1 107.7 802.4 108.6 800.8 109.6 798.2 110.7 793.2 111.3 786.5 111.7 777.2 111.6 764.6 110.9 734.3 107.8 646 107.3 627.5 107.3 614 107.6 603.9 108.4 596.4 109.6 591.3 110.6 588.8 111.7 587.2 113.2 585.5 114.2 584.7 117 583 119.2 582.2 122.3 581.4 126.8 580.6 133.9 579.9 146.4 579.2 169.6 578.6 205.3 578.5 235.4 578.9 252.2 579.5 261.4 580.2 266.9 581 270.5 581.8 273.1 582.6 276.3 584.3 277.5 585.1 279.1 586.8 280.2 588.4 281.4 590.9 282.6 596 283.4 602.7 283.8 611.9 283.8 623.7 283 654.8 279.9 744.9 279.5 762.5 279.4 776 279.7 786.1 280.5 793.6 281.6 798.7 282.7 801.2 283.7 802.9 286.1 805.4 288.8 807 290.9 807.8 293.7 808.6 297.8 809.4 304.2 810.2 315.3 810.9 335.8 811.5 369.8 811.7M34.4 811.4 53.5 810.8 63.8 810.1 69.9 809.3 73.8 808.5 76.5 807.7 78.5 806.9 80 806.1 82.1 804.4 83.5 802.8 84.5 801.1 85.5 798.6 86.2 796.1 87 791 87.5 783.5 87.7 774.2 87.7 762.4 86.8 732.2 83.9 648 83.3 616.9 83.5 606 84.1 598.4 85.2 592.5 86.1 590 86.9 588.3 88.1 586.7 89.8 585 92.4 583.4 94.3 582.5 96.9 581.7 100.7 580.9 106.6 580.2 116.4 579.4 134.4 578.8 166.1 578.5 200.9 578.7 222.6 579.2 234.2 579.9 241 580.7 245.2 581.5 248.2 582.3 251.9 583.9 253.1 584.8 254.9 586.4 256.1 588.1 256.9 589.8 257.8 592.3 258.4 594.8 259.3 600.7 259.8 609.9 259.8 622.5 259.1 653.7 255.9 746.2 255.5 763.9 255.4 777.3 255.8 787.4 256.6 794.1 257.8 799.2 259 801.7 260.1 803.4 261.7 805 264.2 806.7 268.4 808.3 272 809.1 277.3 809.9 286 810.6 301.9 811.3 330.7 811.7 366.8 811.6M23.1 811.1 36.3 810.4 43.8 809.7 48.4 808.9 51.6 808.1 53.8 807.3 56.8 805.6 57.8 804.8 59.3 803.1 60.4 801.4 61.1 799.8 61.9 797.3 62.5 794.7 63.2 788.9 63.6 782.1 63.8 772.9 63.7 760.3 62.8 730.8 59.9 649.2 59.3 618.1 59.5 607.1 60 599.6 61 593.7 62.4 589.5 63.9 587 65.4 585.3 66.4 584.5 69.5 582.9 71.8 582.1 75 581.3 79.9 580.5 87.7 579.7 101.7 579.1 127.5 578.6 163.9 578.6 191.4 579 206.3 579.6 214.7 580.4 219.8 581.2 223.1 582 227.3 583.6 228.7 584.4 230.6 586.1 231.9 587.8 232.8 589.4 234.2 593.6 235.3 600.3 235.8 608.7 235.9 621.4 235.2 653.3 231.9 747.6 231.5 766.1 231.5 779.5 232.1 789.6 233.1 796.3 233.8 798.8 234.8 801.3 235.9 803 237.3 804.7 239.6 806.3 241.2 807.2 243.4 808 246.4 808.8 250.8 809.6 257.9 810.3 270.2 811 293.1 811.5 328.7 811.7 359.1 811.3 376.1 810.7 385.4 810M22.8 809.2 26.5 808.4 29 807.6 30.9 806.8 33.4 805.1 35.1 803.5 36.7 800.9 38.1 796.8 38.9 792.6 39.5 786.7 39.8 773.2 39.5 752.2 36.2 654.6 35.4 624.3 35.4 612.5 35.7 604.1 36.3 597.4 37.4 592.4 38.3 589.9 39.1 588.2 41.1 585.7 43.2 584 44.8 583.2 46.8 582.4 49.6 581.6 53.7 580.8 60.1 580 70.9 579.3 91.2 578.7 125 578.5 158 578.8 177.4 579.4 187.8 580.1 194 580.8 197.9 581.6 200.7 582.4 202.7 583.3 205.4 584.9 207.1 586.6 208.2 588.2 209.1 589.9 210 592.4 210.7 595.8 211.2 599.1 211.8 607.6 211.9 619.3 211.2 652.1 207.9 748 207.5 766.6 207.6 780 208.1 790.1 209.2 796.8 210 799.3 211.1 801.8 212.3 803.5 213.9 805.2 216.5 806.8 218.5 807.6 221.1 808.5 224.8 809.3 230.6 810 240.3 810.8 258.1 811.4 289.4 811.7 324.5 811.5 346.5 811 358.3 810.3 365.1 809.5 369.4 808.7 372.3 807.9 376 806.3 378.3 804.6 379.7 803 381.1 800.5 382 797.9 382.8 794.6 383.4 790.4 383.8 785.3 384 778.6 384 764.3 383.6 744.1 379.9 635.6 379.6 617.1 379.9 604.5 380.8 596.1 381.5 592.7 382.4 590.2 383.7 587.7 385 586 387 584.4 388.3 583.5M21.9 582.7 24.4 581.9 27.9 581.1 33.1 580.3 41.8 579.6 57.4 578.9 85.9 578.5 122.1 578.6 146.9 579.1 160.3 579.8 167.8 580.5 172.6 581.3 175.7 582.1 179.7 583.7 182 585.4 183.5 587.1 184.6 588.7 185.6 591.3 186.4 593.8 187.4 600.5 187.9 610.6 188 624 187.6 642.5 184.3 736.8 183.6 768.7 183.6 780.5 184.2 789.8 185.2 796.5 186.6 800.7 187.5 802.3 188.8 804 190.6 805.7 191.9 806.5 195.9 808.1 199.2 808.9 204 809.7 211.7 810.5 225.5 811.1 251 811.6 287.3 811.6 315.1 811.2 330.3 810.6 338.7 809.8 343.9 809.1 347.3 808.3 349.7 807.4 352.8 805.8 353.9 805 355.5 803.3 356.6 801.6 357.4 800 358.2 797.4 358.8 794.9 359.6 789 360 780.6 360.1 769.7 359.5 739.4 356.7 661.2 355.9 633.4 355.7 612.4 356 604.8 356.4 598.9 357.3 593.9 358.6 589.7 360.1 587.2 361.5 585.5 362.5 584.7 365.4 583.1 367.5 582.2 370.5 581.4 374.9 580.6 381.9 579.9M25.8 579.2 48.5 578.7 83.8 578.5 114.6 578.9 131.8 579.5 141.3 580.2 146.9 581 150.6 581.8 153.2 582.6 155.1 583.4 156.5 584.2 158.5 585.9 159.9 587.6 160.9 589.2 161.8 591.7 162.5 594.3 163.1 597.6 163.5 601.8 164 611.9 164 625.4 163.6 643.9 160.4 735.6 159.6 766.7 159.6 778.5 160 787.7 160.8 794.5 162.1 799.5 163.3 802 164.5 803.7 166.2 805.3 167.4 806.2 171 807.8 173.7 808.6 177.8 809.4 184.1 810.2 194.8 810.9 214.8 811.4 248.3 811.7 281.6 811.4 301.3 810.9 311.9 810.1 318.1 809.4 322.1 808.6 324.8 807.8 326.8 807 329.5 805.3 331.3 803.6 332.4 802 333.3 800.3 334.2 797.8 335.3 791.9 335.9 784.3 336.2 773.4 336 760 335.6 742.3 332.6 657.3 331.8 627.9 331.7 616.1 331.9 606.8 332.4 599.3 333.2 594.2 334.5 590.1 335.3 588.4 336.5 586.7 338.1 585 339.3 584.2 342.6 582.6 345.2 581.8 348.9 581 354.7 580.2 364.2 579.5 381.7 578.9M44.6 578.5 79.8 578.7 102.1 579.2 114.1 579.9 120.9 580.7 125.3 581.5 128.3 582.3 130.4 583.1 133.2 584.7 134.2 585.6 135.7 587.2 136.7 588.9 137.8 591.4 139 596.4 139.7 604 140.1 614.1 140 627.5 139.6 646.1 136.4 734.4 135.7 764.7 135.7 777.3 136 786.5 136.7 793.3 137.8 798.3 138.7 800.8 139.7 802.5 141 804.2 142.9 805.8 146.1 807.5 148.5 808.3 152 809.1 157.2 809.9 165.7 810.6 181.1 811.2 209.3 811.6 245.6 811.6 270.7 811.1 284.3 810.4 291.9 809.7 296.7 808.9 299.9 808.1 302.1 807.3 305.1 805.6 306.2 804.8 307.7 803.1 308.8 801.5 309.8 799 311.1 793.9 311.9 786.4 312.2 776.3 312.1 762.8 311.7 744.3 308.6 656 307.8 625.7 307.8 613.1 308.1 603.8 308.8 597.1 309.8 592.1 310.8 589.6 311.7 587.9 313.8 585.4 316.1 583.7 317.8 582.9 320.1 582.1 323.3 581.3 328 580.5 335.7 579.8 349.3 579.1 374.5 578.6M42.5 578.6 70.7 579 86.1 579.6 94.6 580.3 99.8 581.1 103.2 581.9 105.6 582.7 108.8 584.4 110.8 586 112.1 587.7 113 589.4 114 591.9 115.1 596.9 115.8 603.7 116.1 612.9 116.1 625.5 115.3 655.8 112.2 744.1 111.8 762.7 111.7 776.1 112 786.2 112.8 793.8 114 798.8 115 801.3 116 803 117.5 804.6 118.5 805.5 121.3 807.1 123.5 807.9 126.5 808.7 130.8 809.5 137.7 810.3 149.7 811 172 811.5 207.2 811.7 238.3 811.3 255.8 810.7 265.3 810 271 809.2 274.7 808.4 277.3 807.6 280.7 806 281.8 805.2 283.5 803.5 284.6 801.8 285.8 799.3 287 794.3 287.8 787.6 288.2 778.3 288.2 766.5 287.5 735.4 284.3 645.4 283.9 627.7 283.8 614.3 284.1 604.2 284.9 596.6 286 591.6 287.1 589.1 288.1 587.4 290.4 584.9 293.1 583.2 295.1 582.4 297.9 581.6 301.9 580.8 308.1 580.1 318.7 579.3 338.4 578.8 371.7 578.5M37 578.8 56.9 579.3 67.7 580 74 580.8 78 581.6 80.8 582.4 82.8 583.2 84.3 584 86.5 585.7 87.9 587.4 88.9 589 90.4 593.2 91.3 598.3 91.9 605 92.1 614.2 92.1 626.9 91.3 657.1 88.3 743 87.8 760.6 87.7 774.1 87.9 784.2 88.5 791.7 89.7 797.6 90.5 800.1 91.3 801.8 92.5 803.5 94.1 805.1 96.7 806.8 98.6 807.6 101.2 808.4 104.8 809.2 110.5 810 119.9 810.7 137.2 811.3 168 811.7 203.3 811.5 226 811 238.1 810.3 245 809.6 249.4 808.8 252.4 808 256.2 806.3 257.4 805.5 259.2 803.8 260.5 802.2 261.3 800.5 262.7 796.3 263.7 789.6 264.2 780.3 264.3 768.6 263.5 736.6 260.3 643.2 259.9 625.5 259.9 612.1 260.3 602 260.8 597.8 261.3 594.4 262 591.9 262.9 589.4 263.9 587.7 265.2 586.1 267.1 584.4 268.5 583.6 272.7 581.9 276.1 581.1 281.2 580.4 289.7 579.6 304.9 579 332.7 578.6 369 578.6M26.3 579.1 40.1 579.7 47.8 580.5 52.6 581.3 55.8 582.1 58.1 582.9 61.1 584.5 62.2 585.4 63.7 587 64.8 588.7 65.5 590.4 66.3 592.9 66.9 595.4 67.7 601.3 68.1 608 68.2 617.3 68.1 629.9 67.3 659.3 64.4 740.9 63.8 772.1 63.9 783 64.4 790.6 65.4 796.4 66.8 800.6 68.2 803.1 69.8 804.8 70.8 805.6 73.8 807.3 76 808.1 79.2 808.9 83.9 809.7 91.5 810.4 104.8 811.1 129.7 811.6 165.9 811.7 194.4 811.3 210 810.6 218.6 809.9 223.9 809.1 227.4 808.3 231.6 806.7 233 805.8 235 804.2 236.3 802.5 237.2 800.8 238.6 796.6 239.7 789.9 240.2 781.5 240.3 768.9 239.6 736.9 236.3 642.7 235.9 624.2 236 610.7 236.5 600.7 237.5 593.9 238.2 591.4 239.2 588.9 240.2 587.2 241.7 585.6 243.9 583.9 245.5 583.1 247.6 582.3 250.6 581.5 254.9 580.7 261.7 579.9 273.5 579.2 295.5 578.7 330.6 578.5 361.9 578.8 379.7 579.4 389.4 580.2M26.9 580.9 30.7 581.7 33.3 582.6 35.2 583.4 37.8 585 39.5 586.7 41 589.2 42.5 593.4 43.3 597.6 43.9 603.5 44.2 616.9 44 637.9 40.6 736.4 39.8 765.8 39.8 777.6 40.1 786 40.8 792.7 41.8 797.8 42.7 800.3 43.5 802 45.4 804.5 47.6 806.1 49.1 806.9 51.1 807.8 53.8 808.6 57.8 809.4 63.9 810.1 74.4 810.8 93.8 811.4 126.9 811.7 160.6 811.5 180.8 810.9 191.7 810.2 198.1 809.4 202.1 808.6 205 807.8 207 807 209.7 805.3 211.4 803.7 212.6 802 213.5 800.3 214.4 797.8 215.1 794.5 215.6 791.1 216.2 782.7 216.4 770.9 215.7 738.1 212.3 641.4 211.9 622.9 212 609.4 212.6 600.2 213.6 593.4 214.4 590.9 215.5 588.4 216.7 586.7 218.3 585.1 220.9 583.4 222.7 582.6 225.3 581.8 229 581 234.6 580.2 243.9 579.5 260.9 578.9 291.4 578.5 326.9 578.7 349.8 579.2 362.1 579.9 369.1 580.6 373.6 581.4 376.6 582.2 380.4 583.9 382.6 585.5 384.1 587.2 385.1 588.9 386.2 591.4 387.1 594.7 387.6 598.1 388.3 607.3 388.5 620.8 388.2 639.3 384.7 741.1 384.2 760.4 384.1 773.9 384.4 785.7 385.2 794.1 385.9 797.4 386.8 799.9 388.1 802.4 389.4 804.1M22 804.9 24.5 806.6 28.6 808.2 32 809 37.1 809.8 45.4 810.6 60.4 811.2 87.9 811.6 124.3 811.6 150.1 811.1 164 810.5 171.9 809.7 176.7 808.9 180 808.1 182.3 807.3 185.3 805.7 186.3 804.9 187.9 803.2 189 801.5 190 799 190.8 796.5 191.4 793.1 192.2 784.7 192.4 773 192.3 758.7 191.8 740.2 188.3 637.5 188 618.2 188.3 604.7 188.8 598.8 189.4 594.6 190.3 591.3 191.4 588.8 193.1 586.3 195 584.6 197.9 582.9 200.2 582.1 203.3 581.3 208 580.5 215.5 579.8 228.7 579.1 253.2 578.6 289.3 578.5 318.1 578.9 334 579.6 342.7 580.3 348 581.1 351.5 581.9 354 582.7 357.2 584.4 359.2 586 360.5 587.7 361.4 589.3 362.4 591.9 363 594.4 363.6 597.7 364.3 606.1 364.5 617.9 364.3 634.7 362.4 693.6"/><path stroke="#77AC30" d="M116.9 720.9 118.8 736.6 121 749.8 123.5 760.4 126.3 768.5 128.1 772.5 129.8 775.7 131.8 778.8 134.2 781.9 136.3 784.1 138.8 786.4 141.8 788.5 145.3 790.6 149.5 792.6 154.7 794.5 160.9 796.2 165.7 797.2 174.1 798.4 180.4 799.1 190.9 799.7 198.4 799.9 205.8 799.8 216.7 799.4 223.4 798.8 232.4 797.7 237.6 796.8 244.3 795.2 249.8 793.4 254.3 791.4 258.1 789.4 262.2 786.5 265.5 783.6 268.8 779.7 271.4 775.8 273.9 771.1 276.1 765.5 278.1 759 279.5 753.3 280.9 746.7 283.2 731 285 714.4 289.1 668.7 290.6 656.3 292.2 645.6 294.3 634.9 296.8 625.9 299.7 618.7 301.3 615.5 303.2 612.4 305.5 609.3 308.2 606.3 310.7 604 313.6 601.9 317.1 599.8 321.2 597.8 326.3 595.9 330.2 594.7 337.1 593.2 342.4 592.3 355 590.9 365.7 590.4 373.2 590.3 387.8 590.7M23.1 591 32.6 592 43.2 593.8 51.5 596 54.9 597.3 59.2 599.2 61.7 600.6 64.9 602.7 67.7 604.9 70 607.2 72 609.5 74.2 612.6 76.1 615.7 78.1 619.7 80.5 626.1 82.6 633.4 84.4 641.6 86.1 651.5 88.5 672.2 93.4 724.6 94.9 737 96.6 747.7 98.8 757.5 101.5 766.5 103.2 770.5 104.7 773.7 108.1 779.1 110.5 782.2 112.7 784.5 115.3 786.7 118.3 788.8 121.9 790.9 124.7 792.2 131.5 794.7 140.3 796.9 151.5 798.6 164.9 799.6 176 799.9 190.8 799.5 203.9 798.3 214.7 796.6 219.1 795.5 224.9 793.7 228.1 792.5 232.3 790.5 235.8 788.4 238.7 786.2 241.2 784 243.9 780.9 246.2 777.9 248.1 774.7 251.1 768.3 253.6 761.1 255.8 752.1 257.8 741.4 259.2 731.5 260.5 719.9 264.2 678.3 265.8 663.4 267.6 649.3 269.7 637.8 271.1 632.1 272.5 627.2 274.2 622.4 275.9 618.4 278 614.4 280 611.3 282.5 608.2 284.6 605.9 288.1 603 291.2 600.9 295 598.8 299.6 596.9 305.1 595.1 309.4 594 316.9 592.5 322.7 591.7 332.5 590.8 339.7 590.5 347.1 590.3 358.3 590.5 365.4 590.8 375.2 591.8 381 592.6 388.5 594M22.5 594.6 28.3 596.3 34.5 598.9 39.4 601.6 44.1 605.3 46.3 607.5 48.3 609.8 51.4 614.5 54.3 620 56.7 626.5 58.6 633 60.1 639.5 61.5 647.7 62.8 656.8 64.9 675.1 69.2 722.4 70.7 734.9 72.2 744.8 74.1 754.6 76.6 763.6 79.3 770.8 82.3 776.4 84.3 779.5 86.9 782.5 89.1 784.8 91.7 787 94.8 789.1 97.2 790.5 101.4 792.5 104.7 793.8 112.7 796.1 122.8 798 135.5 799.3 146.2 799.8 161.2 799.8 175.1 798.9 186.8 797.3 191.7 796.3 198.1 794.7 201.7 793.5 206.3 791.5 210.1 789.5 213.3 787.3 216 785.1 218.9 782.1 221.4 779.1 223.4 775.9 226.6 769.6 229.3 762.3 231.6 753.4 233.6 742.7 235 732.8 236.5 720.3 240.3 678 241.9 662.2 244 647.3 246.2 635.8 247.7 630.1 249.2 625.2 251 620.4 252.9 616.4 255.2 612.5 257.5 609.4 260.2 606.4 263.6 603.4 266.6 601.3 269 599.9 274.7 597.2 282 594.8 288.9 593.2 297.1 591.9 306.6 591 317.3 590.4 328.5 590.3 339.5 590.7 349.5 591.6 358.2 592.8 365.5 594.2 373.3 596.6 379.4 599.2 384.1 601.9 388.7 605.6M21.2 606.3 24 609.4 26.2 612.5 28.1 615.6 30.1 619.6 31.7 623.6 33.3 628.4 34.9 634.1 36.2 639.9 38.1 651.4 39.9 665.5 44.6 716.2 46.6 734.4 48 743.5 49.3 750.9 50.8 757.4 52.7 763.9 54.8 769.6 57.6 775.1 60.6 779.8 63.9 783.6 68.2 787.3 72.6 790.1 78.2 792.8 83.4 794.7 89.7 796.3 97.3 797.8 106.3 798.9 116.6 799.6 127.7 799.9 135.1 799.8 145.9 799.3 155.6 798.4 161.3 797.6 168.8 796.1 174.9 794.4 180 792.5 184.2 790.5 188.7 787.7 192.4 784.8 195.3 781.8 197.7 778.7 199.7 775.6 201.4 772.4 203.1 768.4 204.6 764.4 206.1 759.5 208.6 748.9 210.5 737.4 212.1 724.1 216.7 674.3 218.8 655.2 220.2 646.1 221.8 637.9 223.3 631.4 225.3 624.9 227.9 618.5 231 612.9 234.5 608.3 238.2 604.5 243.2 600.9 248.3 598.2 255 595.7 261.2 594 268.7 592.6 274.4 591.8 284.2 590.9 291.3 590.5 302.5 590.3 309.9 590.5 317.1 590.8 326.9 591.7 332.7 592.5 340.3 594 344.6 595 350.1 596.8 354.6 598.8 358.4 600.8 362.5 603.7 365.8 606.7 368.5 609.7 370.7 612.8 372.6 616 374.5 619.9 376.1 623.9 377.7 628.8 380.3 639.4 382.3 650.9 384.1 665 389.4 721.5M21.3 722.3 23.2 738.1 25.5 751.3 26.8 757 28.1 761.9 29.5 765.9 31 769.9 32.9 773.9 34.8 777.1 36.9 780.2 38.9 782.5 41.1 784.7 43.7 786.9 46.8 789.1 50.5 791.1 54.9 793.1 60.3 794.9 66.8 796.5 71.8 797.5 80.6 798.7 87.1 799.3 101.6 799.9 116.5 799.6 123.5 799.2 133 798.2 138.6 797.4 145.8 795.9 151.8 794.1 156.7 792.3 160.8 790.2 165.2 787.4 168.8 784.5 172.2 780.7 175 776.8 177.6 772.1 179.9 766.5 181.8 760.8 183.3 755.1 184.7 748.5 185.9 741.1 187.2 732 189.1 714.6 193.4 667.3 195 654 196.7 643.3 199 632.6 201.8 623.7 203.4 619.7 204.9 616.5 206.7 613.4 208.9 610.3 211.5 607.2 214.7 604.2 218.6 601.3 222.2 599.3 226.6 597.3 231.8 595.5 238.2 593.8 243.2 592.8 251.8 591.6 258.3 591 269 590.4 276.4 590.3 283.9 590.4 294.6 590.9 301.2 591.5 309.9 592.7 317.3 594.2 325.2 596.5 331.3 599.1 333.8 600.4 337.1 602.6 341.4 606.2 343.5 608.5 345.4 610.8 348.8 616.3 351.4 621.9 353.4 627.5 355.4 634.9 357.1 643.1 358.5 652.1 360.9 672 364.5 711.9 366.1 727.7 368.1 742.6 370.3 754.1 371.8 759.8 373.5 765.5 375.4 770.3 377.8 775 380.3 779 382.7 782 385.7 785 389.4 788M22.2 788.7 27.1 791.4 33.4 794 39.3 795.7 46.4 797.2 54.9 798.5 64.7 799.4 75.5 799.8 86.8 799.8 97.6 799.3 107.3 798.4 115.7 797.2 122.8 795.6 128.6 793.9 134.8 791.3 139.7 788.5 143.5 785.6 145.9 783.4 148.5 780.4 150.7 777.3 153 773.3 154.9 769.3 156.7 764.5 158.2 759.6 159.6 753.9 161.8 742.4 163.7 728.4 165.3 712.6 169.2 670.2 170.6 657.8 172 647.9 174 637.2 176.3 628.2 178.9 620.9 182 614.6 184 611.5 186.5 608.4 189.4 605.4 192 603.2 195.1 601 198.8 599 203.3 597 206.8 595.8 213 594.1 217.8 593.1 229.2 591.5 242.9 590.5 257.9 590.3 268.7 590.8 281.6 592 292.1 593.9 300.2 596.2 303.6 597.4 307.9 599.4 310.4 600.8 313.5 602.9 316.2 605.1 318.5 607.3 321.1 610.4 323.2 613.5 326.2 619 329 626.3 331.5 635.2 333.5 645.1 335 655 336.5 667.4 340.9 715.6 343 734.7 344.4 743.8 345.9 752 347.7 759.3 349.7 765.8 352.4 772.2 355.5 777.7 359.1 782.4 361.3 784.6 363.9 786.8 366.9 789 369.3 790.4 375 793 382.3 795.4 389.2 797M23.6 797.4 32.3 798.6 38.8 799.2 53.2 799.9 68.1 799.7 75.1 799.2 84.7 798.3 90.3 797.4 97.6 795.9 101.7 794.8 107.1 793 111.4 791 115.1 788.9 118.1 786.8 121.5 783.8 123.6 781.6 126 778.5 127.9 775.3 130 771.4 131.7 767.4 133.1 763.3 134.5 758.5 135.9 752.8 138 741.2 139.9 727.2 141.4 712.2 145.2 670.7 146.6 658.2 148 648.3 149.9 637.6 152.2 628.7 154.8 621.4 157.8 615 159.8 611.9 162.1 608.8 165 605.8 167.5 603.6 170.5 601.4 174.1 599.3 178.5 597.4 181.8 596.1 187.8 594.4 192.4 593.4 203.5 591.6 217 590.6 231.8 590.3 242.8 590.7 256 591.8 266.8 593.6 275.2 595.8 281.8 598.3 284.5 599.7 288 601.8 290.9 603.9 293.4 606.2 295.5 608.4 297.4 610.7 300.8 616.2 302.4 619.4 304 623.4 306.6 631.5 308.8 641.3 310.6 652 312.3 665.3 317.2 718.5 318.4 729.2 319.7 739.2 321.3 749 323.4 758.1 325.6 765.4 328.2 771.8 330.3 775.7 332.3 778.9 334.7 781.9 336.9 784.2 339.4 786.4 342.4 788.6 345.9 790.7 348.6 792 353.5 793.9 357.2 795.1 366.4 797.2 377.9 798.8 388.1 799.6M23.5 799.7 34.7 799.9 49.2 799.4 62 798.1 72.4 796.2 80.5 794 83.8 792.7 88.1 790.7 91.6 788.6 94.6 786.5 97.1 784.3 99.3 782 101.1 779.7 103.3 776.6 105 773.4 106.9 769.4 109.7 761.4 112.4 750.8 114.2 740 116 726.8 117.5 711.9 121.2 670.3 122.6 658.7 123.9 648.8 125.9 638.1 128.1 629.1 130.6 621.8 133.6 615.5 135.5 612.3 137.8 609.2 140.6 606.2 143.1 604 146 601.8 149.5 599.7 153.6 597.7 156.9 596.5 162.6 594.7 167.1 593.6 177.8 591.9 191 590.7 205.7 590.3 220.4 590.8 233.3 592 243.9 593.8 248.2 594.9 253.8 596.7 257 598 261.1 600 264.5 602.1 267.4 604.3 269.8 606.5 272.5 609.5 274.7 612.6 276.6 615.8 279.6 622.1 282 629.4 284.3 638.4 286.2 649.1 287.6 659 288.9 670.6 292.6 712.2 294.1 726.3 295.8 739.5 297.8 751.1 299.1 756.8 300.4 761.7 301.7 765.7 303.3 769.7 305.2 773.7 307 776.9 309.2 780 311.1 782.3 313.3 784.5 315.8 786.7 318.9 788.9 322.5 791 326.9 792.9 330.3 794.2 338.6 796.4 349.1 798.2 362.1 799.5 376.8 799.9 387.9 799.7M23.3 799.5 33.3 798.7 44.7 797 53.6 794.9 57.3 793.7 62 791.8 64.7 790.4 68.1 788.3 71 786.1 73.5 783.9 75.6 781.7 78 778.6 80 775.4 82 771.5 84.6 765.1 86.8 757.8 88.8 748.7 90.5 738.9 92.9 718.2 97.9 665 99.4 652.6 101.2 641.8 103.4 632 104.8 627.1 106.2 623.1 107.8 619.1 109.4 615.9 112.9 610.4 114.8 608.1 116.9 605.9 119.5 603.7 122.5 601.5 126.1 599.4 128.8 598.1 135.5 595.6 144.2 593.4 155.2 591.7 168.6 590.6 179.7 590.3 194.4 590.6 207.7 591.8 218.6 593.5 223.1 594.6 228.9 596.3 232.2 597.6 236.4 599.6 239.9 601.7 242.9 603.8 245.4 606.1 248.2 609.1 250.5 612.2 252.4 615.3 255.4 621.7 257.9 629 260.2 637.9 262.2 648.6 263.6 658.6 264.9 670.2 268.7 712.5 270.2 727.5 272 740.7 274.1 752.2 275.4 758 276.8 762.8 278.5 767.7 280.2 771.7 282.3 775.6 284.3 778.8 286.7 781.8 288.9 784.1 291.4 786.3 294.3 788.5 297.8 790.6 302 792.6 307.1 794.4 311.1 795.6 318.1 797.1 323.5 798 332.8 799.1 339.7 799.5 354.5 799.9 361.9 799.8 372.5 799.2 379 798.5 387.5 797.3M21.8 796.8 28.5 795.2 35.7 792.8 41.2 790.1 43.6 788.7 46.6 786.6 49.1 784.3 51.3 782.1 54.8 777.5 57.9 771.9 60.5 765.5 62.5 759 64.1 752.5 65.6 744.3 67 735.2 69.2 716.1 73.7 667.1 75.2 654.7 76.7 644.8 78.7 634.9 81.2 626 84 618.7 87 613.2 89.2 610.1 91.1 607.8 93.3 605.6 95.9 603.3 99 601.2 101.4 599.8 105.5 597.8 108.8 596.5 116.6 594.2 126.7 592.3 139.2 590.9 149.9 590.4 164.8 590.4 178.8 591.3 190.7 592.8 195.6 593.8 202.1 595.4 205.7 596.6 210.4 598.5 214.2 600.6 217.5 602.7 220.2 604.9 223.2 607.9 225.7 611 227.7 614.1 229.5 617.3 231 620.4 233.6 627.7 236 636.7 238 647.3 239.4 657.3 240.9 669.7 244.8 712.9 246.4 728.7 248.3 742.7 250.6 754.2 252 759.9 253.5 764.8 255.4 769.6 257.2 773.6 259.5 777.5 261.8 780.6 264.5 783.7 266.9 785.9 270.8 788.8 275.8 791.6 282.1 794.1 288.1 795.8 295.3 797.3 303.9 798.6 313.8 799.4 324.7 799.9 335.9 799.8 346.7 799.3 356.3 798.4 364.6 797.1 371.6 795.5 379 793.1 384.8 790.5 389.3 787.7M22.1 787 25.5 784 28.2 781 30.5 777.9 32.9 774 35.1 769.2 36.9 764.4 38.6 758.7 40 752.9 42.1 741.4 44.1 726.5 45.6 711.6 49.1 672.5 51.5 652.7 52.9 643.6 54.6 635.4 56.6 628 58.5 622.4 61 616.8 64.4 611.3 68.2 606.7 72.4 603 75.5 600.9 78 599.5 83.8 596.9 91.4 594.5 98.5 593 106.9 591.7 113.3 591.1 123.9 590.5 131.3 590.3 138.8 590.4 149.6 590.8 156.3 591.4 165.2 592.5 170.3 593.5 177 595.1 182.5 596.9 187 598.8 190.8 600.9 194.9 603.8 198.1 606.7 200.8 609.8 203 612.9 204.9 616 206.4 619.2 208.1 623.2 209.5 627.2 210.9 632.1 213.4 643.6 215.1 654.3 216.7 667.6 221 714.9 222.9 732.3 224.2 741.4 225.5 748.8 226.9 755.4 228.4 761.1 230.3 766.8 232.6 772.4 235.3 777.1 238.1 781 241.6 784.8 245.2 787.7 249.7 790.5 253.9 792.5 259 794.4 265.1 796.1 272.5 797.5 278.2 798.4 287.9 799.3 295 799.7 309.9 799.9 317.2 799.6 327.5 798.9 333.7 798.2 341.8 796.9 346.4 795.8 352.4 794.1 357.3 792.2 361.4 790.2 364.8 788.1 367.6 785.9 370.1 783.7 372.8 780.6 375 777.5 376.9 774.4 378.5 771.2 380.1 767.2 381.6 763.2 383 758.3 385.3 747.7 387.4 734.5 389.4 717.1M21.2 716.2 24.6 678.8 26.1 663.9 28.1 649 30.2 637.5 31.6 631.8 33 626.9 34.7 622 36.5 618 38.6 614.1 40.6 611 43.1 607.9 45.3 605.6 48.9 602.7 53.3 599.9 57.4 597.9 62.4 596 68.4 594.3 73.1 593.3 81.3 591.9 87.5 591.3 97.9 590.5 105.2 590.3 112.7 590.3 123.7 590.7 130.5 591.2 139.7 592.3 145 593.2 151.9 594.8 157.6 596.5 163.6 599.1 168.4 601.9 173 605.6 176.5 609.3 179.8 614 182.6 619.5 185.1 626 187 632.5 188.6 639 189.9 646.4 191.3 655.5 193.3 673.7 198 724.4 199.7 737.7 201.4 748.4 202.6 754.1 204.1 759.8 205.6 764.7 207.1 768.7 208.9 772.7 210.6 775.9 212.6 779 215 782.1 218 785.1 221.7 788 226.3 790.8 230.6 792.8 235.8 794.6 242.1 796.3 249.7 797.7 255.6 798.5 265.4 799.4 276.3 799.9 283.8 799.9 294.8 799.5 301.7 799.1 311 798 318.9 796.6 325.5 795 330.9 793.2 336.7 790.6 341.3 787.8 345.7 784.1 349.1 780.3 352.2 775.6 355 770.1 357.2 764.5 359.1 758 360.6 751.4 362 744 363.4 734.9 365.4 716.7 370.2 665.2 372 651.1 374 639.6 375.3 633.8 376.8 628.1 378.5 623.3 380.1 619.3 382.1 615.3 384 612.2 386.3 609.1 389.1 606.1M21.7 605.3 26.4 601.7 31.2 598.9 37.4 596.3 45.4 594.1 52.9 592.6 61.7 591.4 71.9 590.6 82.9 590.3 94.1 590.5 104.7 591.1 114.1 592.1 122.1 593.4 128.8 595 136 597.4 141.5 600.1 143.8 601.5 146.8 603.7 149.4 605.9 152.2 608.9 154.5 612 156.9 615.9 158.8 619.9 160.7 624.7 162.3 629.6 163.8 635.3 166 646.8 168.1 661.7 169.7 677.4 173.6 720.6 175.1 733.1 176.5 743 178.5 753.7 180.9 762.6 183.6 769.9 185.1 773.1 186.8 776.2 188.9 779.4 191.4 782.4 194.4 785.4 197.2 787.6 200.4 789.7 204.3 791.8 209.1 793.7 212.7 794.9 219.2 796.5 224.3 797.5 236.2 799 250.3 799.8 265.2 799.8 275.9 799.2 288.3 797.8 298.2 795.9 306 793.6 309.2 792.3 313.3 790.3 315.7 788.9 318.7 786.7 321.3 784.5 323.5 782.3 325.9 779.2 328 776.1 329.7 772.9 331.2 769.7 333.9 762.5 336 754.3 338 744.5 339.5 734.6 340.9 722.1 345.2 674.8 347.3 656.5 348.6 647.4 350.1 639.2 351.6 632.7 353.5 626.2 356 619.7 358.8 614.2 362 609.5 364 607.2 366.3 605 371.1 601.4 376.1 598.6 382.4 596.1 388.4 594.4M22.5 593.8 30.1 592.4 36 591.6 45.9 590.8 53.1 590.4 60.6 590.3 71.7 590.5 78.8 590.9 88.5 591.9 94.2 592.7 101.5 594.2 105.7 595.3 111.1 597.1 115.6 599 119.3 601.1 122.4 603.3 125.8 606.2 127.9 608.5 130.3 611.6 132.3 614.7 134.3 618.6 136 622.7 137.7 627.5 139.1 632.4 140.4 638.1 142.5 649.6 144.3 662.9 145.8 677.8 149.6 720.2 150.9 731.8 152.3 741.7 154.3 752.4 156.6 761.4 159.1 768.6 162.1 775 164.1 778.1 166.4 781.2 169.2 784.3 171.7 786.5 174.7 788.6 178.3 790.7 182.5 792.7 185.9 794 191.7 795.7 196.3 796.7 207.3 798.5 220.6 799.6 235.4 799.9 246.5 799.6 259.8 798.4 270.7 796.7 279.3 794.5 285.9 792 288.6 790.7 292.2 788.6 295.1 786.4 297.7 784.2 299.8 781.9 301.7 779.6 305.1 774.2 306.7 771 308.4 767 309.8 762.9 311.2 758.1 313.3 748.2 315.1 737.5 316.6 725.1 321.6 671.9 324.1 651.2 325.7 641.3 327.5 633.1 329.7 625.8 332.2 619.4 334.1 615.4 336.1 612.3 338.3 609.2 340.4 606.9 342.7 604.7 345.5 602.5 348.8 600.4 351.3 599 355.8 597 359.3 595.8 367.8 593.6 378.6 591.8 388.2 590.9M23.5 590.7 38.3 590.3 52.9 590.8 65.8 592 76.3 593.9 84.5 596.1 87.9 597.4 92.2 599.3 95.8 601.4 98.8 603.6 101.4 605.8 103.5 608.1 105.4 610.4 107.6 613.5 109.4 616.6 111.2 620.6 114.1 628.7 116.7 639.3 118.7 650.8 120.4 664 121.9 678.2 125.6 719.7 126.9 731.3 128.3 741.2 130.2 751.9 132.5 760.9 135 768.2 137.9 774.6 139.8 777.7 142.1 780.8 144.8 783.8 147.3 786.1 150.2 788.2 153.6 790.3 157.7 792.3 160.9 793.6 166.6 795.4 171 796.5 181.6 798.3 194.7 799.5 209.4 799.9 224.1 799.5 237.1 798.3 247.8 796.5 252.2 795.4 257.9 793.6 261.1 792.4 265.2 790.4 268.7 788.3 271.6 786.1 274 783.9 276.8 780.8 279 777.7 280.9 774.6 283.9 768.2 286.4 761 288.6 752 290.6 741.3 292 731.4 293.3 719.8 297 678.2 298.4 664.1 300.1 650.8 302.2 639.3 304.5 629.5 307.3 621.4 309.1 617.4 310.8 614.3 312.9 611.2 314.7 608.9 316.7 606.6 319.1 604.3 322 602.2 325.4 600.1 329.4 598 332.6 596.8 340.2 594.4 350.1 592.5 362.4 591 376.7 590.3 387.9 590.4M23.4 590.5 33.9 591.1 45.9 592.6 55.5 594.6 63 597 66.1 598.3 70 600.3 72.3 601.7 75.2 603.9 77.7 606.1 79.9 608.4 81.7 610.7 83.8 613.8 86.7 619.3 89.5 626.6 91.9 635.5 93.9 645.4 95.4 655.3 96.9 667.7 101.3 715.9 103.4 735 104.8 744.1 106.4 752.3 107.9 758.8 109.9 765.3 112.5 771.7 115.6 777.3 119 781.9 121.2 784.2 123.7 786.4 126.7 788.5 128.9 789.9 134.4 792.6 141.5 795.1 148.1 796.7 156 798 165.4 799.1 175.9 799.7 183.3 799.9 190.8 799.8 201.6 799.4 208.3 798.8 217.3 797.7 222.5 796.8 229.1 795.2 234.7 793.4 239.2 791.4 243 789.4 246.2 787.2 249.6 784.3 252.5 781.3 254.8 778.2 256.7 775 258.7 771.1 260.4 767.1 261.8 763 263.2 758.2 265.7 746.7 267.3 736.8 268.6 726 274 668.7 275.4 656.3 277 645.5"/><path stroke="#0072BD" d="M57.3 646.1 60.9 637.7 64.6 630.9 68.7 625.2 71.1 622.3 73.7 619.6 76.8 617 79.3 615.1 85.1 611.5 88.4 609.8 92.1 608.2 99.1 606 103.8 604.8 108.8 603.8 114.2 603 119.9 602.5 125.8 602.2 131.7 602.1 137.7 602.3 143.4 602.7 149 603.4 154.2 604.2 159.1 605.3 163.6 606.5 167.8 607.9 171.5 609.5 175 611.1 179.1 613.4 182.6 615.9 186.5 619.2 189.9 622.6 192.8 626.1 195.8 630.5 198.4 634.9 201 640.2 203.3 645.6 206.8 655.7 210.3 668.3 213.4 681.1 220.6 713.9 224.9 730.6 227.6 739.2 230.2 746.2 232.9 752.3 236.2 758.3 240.1 764.1 244.3 769 249.4 773.6 254.8 777.4 261.3 780.7 267.8 783.2 275.3 785.3 283.9 786.8 289.4 787.5 295.2 787.9 305.1 788.1 311 787.9 316.8 787.4 322.3 786.7 327.4 785.8 332.3 784.7 336.7 783.4 340.7 782 344.4 780.4 347.8 778.7 351.8 776.4 355.3 773.9 358.4 771.3 361.2 768.5 363.6 765.8 367.8 760 371.9 752.5 375.6 744.1 378.8 734.8 382 723.7 385.1 711 389.3 691.8M21.2 691 25.2 673.4 28.5 660.7 32 649.7 35.6 640.5 37.8 635.9 39.9 632.2 42.2 628.5 44.3 625.7 46.7 622.8 49.3 620.1 52.2 617.4 55.6 614.9 59.3 612.5 63.6 610.2 68.5 608.1 72.6 606.7 78.7 605.1 83.6 604 89 603.2 94.6 602.6 100.4 602.2 106.3 602.1 112.3 602.2 120 602.8 125.6 603.4 130.8 604.3 135.6 605.4 141.5 607.1 146.7 609.1 152.4 611.8 157.2 614.8 162.1 618.7 166.1 622.8 169.5 627 172.9 632.2 176.1 638.1 178.5 643.5 180.8 649.7 183.2 656.7 185.2 663.8 188.9 678.9 197.4 717.3 200.1 727.6 202.9 737.1 206.3 746.4 209.8 754 211.9 757.7 214.2 761.4 218.6 767.1 221.9 770.5 224.9 773.2 228.3 775.7 232.1 778.1 236.5 780.4 240.2 781.9 245.7 783.8 250.2 785 256.9 786.4 262.3 787.2 269.9 787.8 275.8 788.1 281.7 788.1 287.6 787.8 293.4 787.3 300.6 786.3 308.7 784.5 315.8 782.3 321.9 779.7 328.1 776.2 333.2 772.4 338 767.7 342.5 762 346.1 756.1 349.2 750.1 351.7 743.9 354.2 736.9 356.6 729 360.8 712.4 369.7 672.4 372.4 662.1 375 653.4 378 644.9 381.4 637.2 385.2 630.5 389.3 624.7M21.7 624 25.5 619.9 30.1 616 35.7 612.3 41.2 609.5 47.7 607 55.2 604.9 63.7 603.4 71.2 602.5 81 602.1 88.9 602.2 96.6 602.8 105.6 604.1 113.6 605.9 120.6 608.2 126.6 610.9 132.6 614.4 136 616.9 139 619.6 142.3 623 145.2 626.5 148.2 630.9 150.7 635.3 152.9 639.9 155.2 645.2 158.8 655.4 162.3 668 165.4 680.7 173 715.2 175.3 724.7 177.8 733.4 181 742.7 184.1 750.4 187.6 757.2 191.4 763.1 194.2 766.6 196.7 769.4 199.6 772.1 202.8 774.6 206.4 777.1 209.5 778.9 214.1 781 217.9 782.5 222.1 783.9 226.7 785.1 231.7 786.2 237 787 242.6 787.6 248.4 788 254.4 788.1 260.3 788 269.9 787.3 275.4 786.5 280.5 785.6 288.2 783.6 292.3 782.2 296 780.6 302.5 777.2 305.3 775.4 308.6 772.9 313.6 768.2 318.2 762.5 321.9 756.6 324.9 750.6 328.1 742.9 331.1 734.3 333.6 725.7 336 716.1 344.1 679.3 347.6 665 351.6 651.6 353.9 645.4 356.1 640 359.2 634 362.3 628.8 365.5 624.5 369.3 620.4 373.8 616.4 378.2 613.3 383.4 610.4 388.3 608.3M21.4 607.8 27 606 33.3 604.5 40.2 603.3 45.8 602.7 53.6 602.2 59.6 602.1 65.5 602.3 73.2 602.9 78.6 603.6 85.4 604.9 90.1 606 95.7 607.9 100.7 609.9 105 612.2 108.9 614.6 113.1 617.8 116 620.4 118.5 623.2 121.4 626.7 123.9 630.4 126.1 634.1 128.4 638.6 132.2 647.8 135.4 657.2 138.6 669 141.6 681.8 148.9 714.6 151.2 724.1 153.7 732.8 156.8 742.2 159.9 749.9 163.3 756.7 167.1 762.5 169.8 766.1 172.3 768.9 175.1 771.6 178.2 774.2 181.8 776.7 184.8 778.5 191.7 781.7 195.7 783.1 200.1 784.5 204.8 785.6 209.9 786.5 215.4 787.3 221.1 787.8 227 788.1 233 788.1 242.7 787.6 251.9 786.4 260.1 784.7 264.6 783.4 268.7 782 274.7 779.4 280.7 775.9 283.3 774 286.4 771.4 291.1 766.6 295.3 760.8 299.2 754.2 302.7 746.6 305.9 738 308.8 728.6 311.5 718.3 320.7 676.7 325 660 327.7 651.4 330.3 644.4 333 638.3 336.2 632.3 338.5 628.6 340.6 625.8 342.9 622.9 345.5 620.2 348.4 617.5 350.9 615.6 356.5 612 363.4 608.7 367.3 607.2 371.7 605.9 379.7 604.1 388.7 602.8M22.4 602.6 28.2 602.2 34.2 602.1 44 602.4 53.4 603.4 58.6 604.3 63.5 605.4 68 606.6 72.1 608 75.9 609.5 79.3 611.2 82.4 612.9 86.1 615.4 89.3 617.9 92.2 620.6 94.8 623.4 97 626.2 101.4 632.8 105.2 640.3 108.9 649.6 111.9 659 114.9 670 117.7 682 125 714.8 127.3 724.4 129.5 732.3 132.6 741.6 135.7 749.3 139.1 756.1 142.7 762 145.4 765.6 147.8 768.4 150.6 771.1 153.7 773.7 157.2 776.2 160.1 778 166.9 781.3 170.8 782.8 175 784.2 179.7 785.3 184.7 786.3 190.1 787.1 195.8 787.7 201.6 788 207.6 788.1 217.4 787.7 223.1 787.1 228.4 786.3 233.5 785.4 238.1 784.2 242.4 782.9 246.3 781.4 249.9 779.8 254.1 777.5 257 775.7 260.4 773.1 263.4 770.5 266 767.8 268.4 764.9 271 761.4 274.6 755.4 277.9 748.6 280.9 740.9 283.7 732.3 286 724.4 288.3 714.9 295.6 682.1 298.4 670.1 301.3 659 304.4 649.6 308.1 640.4 311.9 632.8 316.2 626.3 318.5 623.4 321.1 620.7 326.3 616.1 329.9 613.6 332.9 611.8 339.8 608.5 343.8 607.1 348.1 605.8 352.9 604.6 358 603.7 367.2 602.6 373 602.2 379 602.1 388.8 602.4M22.5 602.6 31.7 603.7 36.8 604.7 41.5 605.9 48.5 608.1 52.2 609.7 55.6 611.3 61.5 614.9 64 616.8 67 619.5 69.7 622.2 72.1 625 74.3 627.9 76.7 631.5 79.9 637.5 82.7 643.6 85.6 651.3 88.3 660 92.5 676.6 102 719 104.7 729.3 107.6 738.7 110.9 747.3 114.4 754.9 117.9 760.8 122.2 766.5 126.8 771.3 129.9 773.9 132.5 775.8 138.6 779.3 144.5 782 148.6 783.4 153 784.7 161.3 786.4 170.4 787.6 180.2 788.1 186.2 788.1 192.1 787.8 197.8 787.3 203.2 786.6 208.3 785.6 213.1 784.5 217.5 783.2 221.5 781.7 228.4 778.5 231.4 776.7 235 774.2 238.2 771.6 241 768.9 243.5 766.2 246.2 762.6 249.9 756.7 253.4 749.9 256.5 742.3 259.6 732.9 262.1 724.2 264.4 714.6 271.8 681 274.7 669.1 277.9 657.2 281 647.8 284.9 638.6 287.2 634.1 289.4 630.4 291.9 626.8 294.7 623.2 297.3 620.5 300.2 617.8 303.5 615.2 307.2 612.8 311.4 610.5 316.2 608.4 321.6 606.5 326.2 605.3 332.8 603.9 338.1 603.1 345.7 602.4 351.6 602.1 357.6 602.1 365.4 602.5 371.1 603 378.2 604.1 383.1 605.2 389.1 606.9M22.3 607.3 27.4 609.3 33 612.1 37.8 615.1 42.6 619 46.6 623.1 50.5 628.1 53.7 633.2 56.8 639.2 59.1 644.6 61.4 650.8 63.7 657.8 65.7 664.9 69.2 679.3 77.5 716.9 79.9 726.4 82.5 735.1 85.4 743.6 88.7 751.3 91.8 757.3 95.6 763.2 97.8 766 100.3 768.8 105.4 773.5 108.8 776 111.7 777.8 118.4 781.1 122.3 782.6 126.5 784 134.4 785.9 143.2 787.2 152.8 788 158.8 788.1 164.7 788 170.6 787.6 176.2 787 181.5 786.2 186.5 785.1 191.1 783.9 195.3 782.6 199.1 781.1 203.7 778.9 206.8 777.2 210.4 774.7 213.7 772.1 216.5 769.4 219.1 766.7 221.9 763.1 225.7 757.3 229.1 750.5 232.3 742.8 235.5 733.4 237.9 724.8 240.3 715.2 247.9 680.8 251 668.1 254.5 655.4 258.1 645.3 260.3 639.9 262.6 635.4 265.1 630.9 267.5 627.3 270.3 623.7 273.5 620.3 276.4 617.6 279.7 615.1 285.6 611.5 291.3 608.8 298.1 606.4 304.2 604.8 312.9 603.3 320.4 602.5 330.2 602.1 338.1 602.3 345.8 602.9 354.7 604.2 361.1 605.7 368.2 607.9 374.3 610.5 379.5 613.4 384.8 617.2 389.1 621.2M21.5 621.9 26.1 627.6 30.3 634.2 34 641.7 37.5 651 40.5 660.4 43.4 671.5 52.7 713.1 56.7 729 59.3 737.6 61.9 744.6 64.5 750.8 67.6 756.8 71.3 762.6 75.9 768.3 80.9 773 86.1 776.8 92.4 780.2 98.7 782.7 106 784.9 114.3 786.6 121.7 787.5 127.5 787.9 133.4 788.1 139.4 788 145.2 787.7 150.9 787.2 156.3 786.4 163 785 167.5 783.8 173 782 176.7 780.4 181.1 778.2 185 775.8 188.4 773.2 192.1 769.9 195.3 766.5 199.6 760.7 201.8 757 203.8 753.3 207.3 745.7 210.6 736.4 213.2 727.7 215.8 717.4 224.4 679 227.9 664.7 231.9 651.3 234.2 645.1 236.5 639.7 239.1 634.4 242.2 629.3 245.4 625 249.1 620.8 253.5 616.8 257.9 613.7 263 610.7 267.7 608.6 273.1 606.7 277.6 605.4 282.4 604.3 287.6 603.5 295 602.6 300.9 602.2 306.8 602.1 312.8 602.2 318.6 602.6 324.2 603.2 329.5 604 336.1 605.4 340.6 606.7 345.9 608.6 349.6 610.1 353.9 612.4 356.8 614.2 360.2 616.7 363.3 619.4 366 622.1 370.5 627.8 372.9 631.4 375 635.1 378.9 643.5 382.4 652.8 385.9 664.6 389.4 678.9M21.4 679.7 27.5 707.7 30.5 720.5 33.7 732.4 37.1 742.5 41 751.7 43.3 756.2 45.5 759.9 48 763.6 50.2 766.4 52.7 769.2 55.6 771.9 58.8 774.5 62.4 776.9 66.5 779.3 71.2 781.4 76.5 783.3 80.9 784.6 85.7 785.7 90.9 786.7 98.3 787.5 104.1 788 110 788.1 116 788 121.8 787.7 129.3 786.9 134.5 786 141 784.5 146.8 782.8 153.1 780.3 158.4 777.4 163.8 773.7 168.3 769.7 172.6 764.8 176.2 759.8 179.6 753.8 182.1 748.5 184.6 742.4 187 735.3 189.3 727.5 193.1 712.4 202.1 671.6 204.8 661.3 207.7 651.8 211.3 642.6 214.9 635 217 631.3 219.4 627.6 224 622 227.4 618.6 231.4 615.3 235.1 612.9 239.3 610.6 244.1 608.5 248.1 607 254 605.3 258.9 604.3 266 603.1 271.6 602.5 277.5 602.2 283.4 602.1 289.4 602.2 297.1 602.8 302.6 603.5 309.4 604.8 317 606.8 323.6 609.2 329.2 612 334.8 615.6 339.5 619.6 344 624.4 348.2 630.1 351.6 636.1 354.4 642.2 356.9 648.3 359.2 655.4 361.5 663.2 365.3 678.3 373.6 715.9 376 725.5 378.3 733.4 380.6 740.4 383.3 747.4 386.1 753.5 389 758.7M21.2 759.4 25.3 765.2 29.7 770.1 34.2 774 39.7 777.7 45.1 780.5 51.5 783 59 785.1 67.4 786.7 76.8 787.7 86.6 788.1 96.5 787.8 105.8 786.8 114.3 785.2 121.8 783.1 125.8 781.7 129.4 780.1 135.7 776.6 139.3 774.2 142.4 771.5 145.9 768.2 148.8 764.6 151.9 760.3 154.6 755.9 156.9 751.4 159.2 746 162.8 735.9 166.4 723.3 169.7 709.7 177.5 674.5 179.9 665 182.3 656.3 185.5 647 188.7 639.3 192.3 632.5 196.1 626.7 198.9 623.1 201.5 620.4 204.4 617.7 207.7 615.2 211.5 612.7 214.6 611 219.3 608.8 223.2 607.4 227.5 606 232.1 604.8 237.2 603.9 242.5 603.1 248.2 602.5 254.1 602.2 260 602.1 265.9 602.3 275.5 603.1 280.9 603.9 285.9 604.9 293.4 606.9 297.5 608.3 301.1 609.9 307.5 613.3 310.2 615.2 313.5 617.8 318.4 622.5 322.9 628.2 326.5 634.1 329.6 640.1 332.7 647.8 335.6 656.4 338.1 665 340.5 674.6 348.4 710.6 351.7 724.1 355.6 737.5 357.5 743 359.7 748.4 362.2 753.7 365.1 758.9 368 763.3 371.5 767.5 375.5 771.6 379.5 774.8 384.2 777.9 388.6 780.1M21.5 780.7 26.6 782.7 32.3 784.4 38.8 785.9 45.8 787.1 53.4 787.8 61.2 788.1 67.2 788 75 787.6 80.6 787 87.6 785.8 93.9 784.3 99.6 782.5 104.6 780.5 109.1 778.3 113 775.9 117.2 772.7 120.1 770 122.7 767.3 125.6 763.7 128.1 760.1 130.3 756.4 132.6 751.9 136.5 742.7 139.7 733.3 142.9 721.5 146 708.7 153.4 675.1 155.8 665.6 158.2 656.9 161.1 648.3 164.2 640.6 167.6 633.8 171.3 627.9 174 624.3 176.4 621.6 179.2 618.9 182.3 616.2 185.8 613.7 188.8 612 195.7 608.7 199.6 607.2 203.9 605.9 208.6 604.7 213.7 603.8 219.1 603 224.8 602.5 230.7 602.2 236.6 602.1 246.4 602.6 255.7 603.7 264 605.3 268.5 606.6 272.6 608 276.3 609.5 279.7 611.2 285.7 614.7 288.2 616.6 291.3 619.3 295.8 624.1 300 629.8 303.9 636.5 307.3 644.1 310.5 652.7 313.1 661.3 315.8 671.6 325.1 713.2 329.1 729.1 331.7 737.7 334.3 744.7 336.9 750.9 340 756.9 343.7 762.7 348.3 768.4 353.3 773.1 358.6 776.8 364.9 780.3 368.6 781.8 372.6 783.3 380.2 785.3 388.7 786.9M22.4 787.1 28 787.7 33.9 788 39.8 788.1 45.8 787.9 51.6 787.5 57.1 786.9 62.4 786 67.3 785 71.9 783.8 76 782.4 79.8 780.9 83.3 779.2 86.4 777.5 90.1 775.1 93.4 772.5 96.3 769.8 98.9 767.1 101.2 764.2 103.3 761.4 105.6 757.7 109.5 750.2 113.2 740.9 116.2 731.5 119.2 720.4 122.1 708.5 129.3 675.7 131.6 666.1 134.1 657.4 136.9 648.8 140 641.1 143.3 634.3 146.9 628.4 149.6 624.9 152 622.1 154.7 619.3 157.8 616.7 161.2 614.2 164.1 612.4 168.4 610.1 172.1 608.5 176 607.1 180.4 605.8 185.1 604.6 190.2 603.7 195.7 602.9 201.4 602.4 211.2 602.1 221.1 602.4 226.8 603 232.2 603.7 237.3 604.7 242 605.9 246.3 607.2 250.3 608.6 253.9 610.2 258.2 612.5 261 614.3 264.5 616.8 267.5 619.5 270.2 622.2 272.6 625 275.2 628.6 278.8 634.5 282.2 641.3 285.2 649 288 657.6 290.5 666.3 292.8 675.8 299.9 707.8 302.7 719.8 305.6 730.9 308.7 740.3 312 748.8 315.7 756.3 319.9 762.9 322.1 765.8 324.5 768.6 329.6 773.3 333 775.8 335.9 777.6 342.5 781 346.3 782.5 350.5 783.8 355.1 785.1 360 786.1 369 787.4 378.7 788 388.6 788M22.4 787.9 31.9 787.1 37.2 786.3 42.2 785.3 46.9 784.1 51.1 782.7 55 781.2 58.5 779.6 64.6 776.1 67.3 774.2 70.4 771.6 73.2 768.9 75.7 766.2 78 763.3 80.4 759.7 83.8 753.7 86.6 747.7 89.6 739.9 92.3 731.3 94.5 723.4 96.9 713.8 106.5 670.7 109.3 660.4 112.2 651 115.4 642.4 119.1 634.9 122.6 629 127 623.2 131.7 618.5 134.9 615.9 137.5 614 143.7 610.5 149.8 607.9 153.9 606.5 158.4 605.3 166.8 603.6 176 602.5 185.9 602.1 191.8 602.2 197.7 602.5 203.3 603 208.7 603.8 213.8 604.8 218.4 606 222.7 607.3 226.7 608.8 233.5 612.1 236.4 613.9 239.9 616.4 243 619 245.8 621.7 248.2 624.5 250.9 628.1 254.6 633.9 258 640.7 261.1 648.4 263.9 657 266.4 665.7 268.7 675.3 276.1 708.9 279 720.8 282.2 732.7 285.3 742.1 289.2 751.3 291.5 755.8 293.6 759.5 296.1 763.2 298.3 766 300.8 768.8 303.5 771.5 306.7 774.1 310.2 776.6 314.3 778.9 318.9 781.1 324.1 783.1 328.4 784.4 333.2 785.5 338.3 786.5 345.6 787.4 351.3 787.9 357.3 788.1 363.2 788.1 369.1 787.8 376.6 787 382 786.2 388.5 784.8M21.8 784.4 28.9 782.1 34.9 779.5 40 776.6 45.2 772.8 49.5 768.7 53.6 763.8 57 758.7 60.3 752.8 62.8 747.4 65.2 741.3 67.5 734.2 69.8 726.3 73.5 711.2 81.8 673.6 84.5 663.3 87 654.6 90 646.1 93.3 638.4 96.5 632.4 100.3 626.6 102.6 623.7 105.1 621 110.3 616.3 113.8 613.8 116.8 612 123.6 608.8 127.5 607.3 131.8 606 139.8 604.1 148.8 602.8 158.5 602.2 164.4 602.1 170.4 602.3 176.2 602.7 181.7 603.4 187 604.2 191.9 605.3 196.4 606.5 200.5 607.9 204.3 609.4 208.8 611.7 211.8 613.4 215.4 615.9 218.5 618.5 221.4 621.2 223.8 624 226.6 627.5 230.3 633.4 233.8 640.2 236.9 647.9 239.8 656.5 242.3 665.2 244.6 674.7 252.2 709.1 255.3 721.9 258.6 733.7 262 743.8 264.2 749.2 266.4 753.8 268.9 758.3 271.2 761.9 273.9 765.5 277 769 279.8 771.7 283 774.3 287.5 777.4 292.9 780.2 299.2 782.7 304.9 784.5 313.1 786.3 320.3 787.3 327.9 787.9 335.9 788.1 343.8 787.9 351.4 787.2 358.5 786.1 366.5 784.2 372.2 782.4 378.3 779.9 383.6 777 388.9 773.2M21.4 772.6 24.4 769.9 26.9 767.2 29.8 763.6 32.3 760 34.5 756.3 36.8 751.8 38.9 747.2 41 741.8 44.1 732.4 47.3 720.6 50.1 708.6 57.4 675.8 61.7 659.1 64.4 650.5 67.1 643.5 69.8 637.4 73.1 631.5 77.1 625.7 79.4 622.8 82 620.1 85 617.4 87.4 615.5 93.1 611.9 100 608.6 106.8 606.3 114.7 604.3 123.5 603 129.2 602.4 135.1 602.1 141.1 602.1 147 602.3 152.7 602.8 158.3 603.4 163.5 604.3 169.9 605.8 174.2 607.1 179.4 609.1 183 610.7 187.1 613 190.8 615.5 194 618 196.9 620.7 200.1 624.2 204.3 629.9 206.5 633.6 208.5 637.4 211.8 645 215.2 654.3 217.7 663 220.4 673.3 228.7 710.9 232 724.5 235.9 737.9 237.9 743.3 240 748.7 242.6 754 245.5 759.2 248.5 763.6 251.9 767.8 255.3 771.2 259.2 774.5 263.8 777.5 268.1 779.8 272.9 781.9 277 783.3 281.4 784.6 286.2 785.7 291.4 786.7 296.8 787.4 302.6 787.8 308.5 788.1 314.4 788.1 320.3 787.8 326.1 787.3 331.5 786.6 336.7 785.7 341.5 784.5 345.9 783.3 351.1 781.3 357.9 778 360.8 776.2 364.3 773.7 369.5 769 372 766.3 374.2 763.4 378.5 756.8 382.2 749.3 385.9 740 389.3 729.1M21.3 728.3 25.3 712.4 34.4 671.6 37.1 661.3 40 651.8 43.8 641.8 46 637.2 47.9 633.5 50.2 629.8 52.7 626.2 55 623.3 57.6 620.6 61.2 617.3 64.6 614.7 68.4 612.3 72.7 610 77.7 608 81.8 606.6 87.9 604.9 92.9 603.9 100.1 602.9 105.8 602.4 111.7 602.1 117.7 602.1 123.6 602.3 131.2 603 136.6 603.8 143.3 605.1 149.3 606.8 155.8 609.2 160.4 611.4 165.3 614.4 169.5 617.6 173.8 621.6 177.4 625.8 180.9 630.9 183.8 636.1 186.7 642.2 189.4 649.1 192 656.9 194.2 664.8 196.6 674.4 204.8 711.2 208.5 726.3 210.5 733.4 212.8 740.4 215.2 746.6 217.6 751.9 220.8 757.9 224.1 763 228.1 768 232.3 772.1 237.3 775.9 242.2 778.9 248.1 781.6 254.9 783.9"/><path stroke="#7E2F8E" d="M383.2 766.5 389.1 768.9M22 769.2 27.4 770.9 32 771.9 36.9 772.7 41.8 773.3 46.9 773.6 52.1 773.7 57.2 773.5 63.4 772.8 68.3 772.1 72.9 771 77.4 769.8 82.6 768 86.4 766.3 90.9 764 94.2 762 98 759.3 100.8 757.1 104.1 754.2 107.1 751.1 109.8 747.9 114.7 741.4 119.8 733.1 123.8 725.4 128.1 716 132.4 705.8 142.9 679.3 149.4 664.9 153.4 657.1 157.1 650.9 160.8 645.6 165 640.4 170.4 634.9 173.7 632 176.6 629.8 183.1 625.8 189.6 622.7 193.6 621.1 197.9 619.8 206 617.9 214.7 616.8 223.6 616.5 231.3 616.9 238.7 617.8 245.7 619.3 253.2 621.7 259.1 624.1 265.2 627.5 270.5 631.2 275.9 635.8 280.6 640.7 285.2 646.5 289.7 653.3 293.6 660.3 297.2 667.4 301 676 314.6 709.8 320.6 723.6 324.2 730.7 327.8 736.9 331.3 742.4 335.3 747.6 340.3 753.2 346.2 758.5 352.3 762.8 358.4 766.1 365.3 768.9 372.9 771.2 381.2 772.8 388.8 773.5M21.8 773.6 29.5 773.7 38.4 773 45.6 771.8 53.5 769.8 60.7 767.1 67 763.9 72.6 760.4 78.3 755.9 83.2 751 87.9 745.3 92.6 738.6 96.6 731.7 100.6 723.9 104.5 715.2 118.7 680 125.1 665.5 129.1 657.7 132.8 651.5 136.4 646.1 140.5 641 145.8 635.4 149.1 632.5 152 630.3 158.4 626.2 164.8 623 168.8 621.5 173 620.1 181 618.1 189.6 616.9 198.5 616.5 207.5 616.9 216.1 618.1 224.1 620 228.3 621.4 232.4 622.9 238.8 626.1 245.2 630.1 248.1 632.4 251.4 635.3 256.7 640.8 260.8 646 264.5 651.3 268.2 657.5 272.2 665.3 278.6 679.8 289.2 706.2 293.1 715.7 297.4 725.1 301.4 732.9 306 740.4 310.8 747 315.8 752.7 321.6 758 325.3 760.8 328.5 762.8 331.9 764.8 335.5 766.6 339.4 768.2 343.6 769.7 351.4 771.7 356.2 772.6 361.2 773.2 370.1 773.7 379 773.4 384 772.8 388.8 772M21.8 771.8 28.6 770 34.9 767.9 40.5 765.3 46.4 761.9 51.7 758.1 56.3 754 60.9 749.1 65 743.9 68.2 739.2 71.5 733.7 74.5 728 77.7 721.6 83.3 708.5 95.9 677 99.5 669 102.9 661.9 106.8 654.9 111.1 648.1 115 642.8 119.5 637.8 124.6 633 129.6 629.1 135.4 625.6 141.9 622.6 149.2 620 156 618.3 164.5 617 172.1 616.5 181.1 616.7 189.8 617.7 198 619.4 202.4 620.7 206.5 622.2 213.2 625.2 219.8 629.1 222.8 631.3 226.2 634.2 231.7 639.6 235.9 644.7 240.1 650.7 243.8 656.9 247.9 664.7 250.9 671.2 254.4 679.2 265.2 706.3 269.5 716.5 274.2 726.6 278.7 735 283.9 743.2 286.9 747.1 289.6 750.3 292.5 753.4 295.7 756.4 299.2 759.2 302.2 761.3 307.1 764.4 311.6 766.6 316.6 768.6 321.9 770.4 327.6 771.8 333.6 772.8 339.9 773.5 345 773.7 350.1 773.6 356.5 773.2 362.6 772.4 368.5 771.2 374.1 769.7 379.2 767.8 384 765.7 389.2 762.8M21.8 762.3 25.6 759.7 29.2 756.9 32.4 753.9 35.3 750.9 38.1 747.7 41.1 743.8 43.8 739.8 46.8 735 51.3 726.5 56 716.5 60.3 706.2 70.8 679.8 77.2 665.3 80.9 658.2 84.5 652 88.1 646.6 92.2 641.4 96.8 636.5 102.1 631.8 108.1 627.5 114.2 624.2 121.1 621.4 128.7 619.1 137 617.5 144.5 616.7 153.5 616.5 162.3 617.2 170.8 618.6 175.3 619.7 179.6 621.1 183.7 622.6 187.5 624.3 194.3 628.2 197.4 630.3 201 633.1 206.6 638.5 211 643.5 215.3 649.5 219.5 656.3 223.3 663.4 226.7 670.5 230.1 678.5 241.6 707.2 246.2 718.1 251.3 728.8 256.4 737.9 259.6 742.6 263 747.2 266.3 751 269.9 754.7 273.9 758.2 277.5 760.9 281.5 763.4 285.9 765.8 292.7 768.7 299.2 770.7 307.4 772.5 314.8 773.4 322.5 773.7 331.4 773.3 338.8 772.4 346.9 770.6 353.4 768.5 359.2 766.1 365.3 762.8 370.7 759.1 375.4 755 380.2 750.2 384.9 744.3 389 738.3M21.2 737.6 26.3 728.6 31.4 717.8 36 706.9 46.9 679.7 52.6 666.7 55.8 660.3 58.9 654.7 62.3 649.2 65.7 644.6 70.5 638.8 75.4 634 80.4 630.1 85.9 626.5 92.2 623.3 98.3 620.9 106 618.8 113.2 617.5 118.1 616.9 123.2 616.6 132.2 616.7 141 617.5 145.8 618.4 150.4 619.5 154.7 620.8 158.8 622.3 162.7 623.9 166.3 625.8 169.7 627.7 173.5 630.4 176.4 632.6 179.7 635.5 184.4 640.4 189.1 646.2 193.6 653 197.9 660.6 201.4 667.7 205.3 676.4 218.2 708.7 223.6 721.1 226.7 727.5 229.7 733.1 232.9 738.7 236.1 743.4 240.1 748.6 244.7 753.6 249.3 757.7 254.4 761.5 259.4 764.5 264.9 767.2 271 769.5 277.6 771.3 282.3 772.3 287.2 773 292.2 773.5 297.4 773.7 306.3 773.4 311.3 772.9 316.2 772.1 320.9 771.1 325.3 769.9 329.5 768.5 333.5 766.9 337.2 765.1 340.6 763.2 343.8 761.1 347.5 758.4 353.4 753.2 358.5 747.5 363.3 740.9 367.9 733.4 372.4 724.9 376.6 715.5 380.9 705.3 389.3 684M21.4 683.3 26.4 671.6 30.8 662.3 35.4 653.9 39.8 647.1 44.9 640.6 50.2 635.1 55.7 630.6 62.1 626.4 65.6 624.5 69.4 622.8 76.6 620.2 81 619 85.7 618 94.3 616.9 103.3 616.5 108.4 616.7 113.4 617.1 121.9 618.4 126.5 619.5 130.9 620.8 136 622.7 141.6 625.3 146.6 628.3 151.1 631.5 155.2 635 159.4 639.2 163.2 643.7 167 649 170.1 653.7 172.8 658.6 178.5 670 183.8 682.4 195.8 712.5 199.6 721.2 203.1 728.3 207.3 736 211.7 742.8 216.2 748.7 220.8 753.6 226.8 758.9 230.6 761.6 233.8 763.6 237.3 765.5 241 767.2 245 768.8 249.3 770.2 253.8 771.3 258.5 772.3 267.2 773.4 276.1 773.7 281.2 773.5 286.3 773 293.6 771.9 301.5 769.9 307.7 767.7 314.2 764.6 319.9 761.1 325.7 756.6 330.7 751.9 335.6 746.1 339.4 740.8 342.8 735.4 346.3 729.1 349.5 722.7 355.2 709.6 368.1 677.3 371.6 669.3 375.1 662.2 378.5 655.9 381.8 650.4 385.6 645.1 389.2 640.6M21.6 639.9 25.7 635.6 30.4 631.6 35.7 627.8 40.8 624.9 46.5 622.4 52.7 620.2 59.5 618.5 65.5 617.4 73.1 616.7 79.5 616.5 87.1 616.9 94.6 617.8 101.6 619.3 108.1 621.2 114.1 623.6 119.4 626.4 123.5 628.9 127.2 631.6 130.6 634.5 133.8 637.5 137.2 641.2 140.3 645.1 143.1 649.1 146.1 653.8 151.1 662.9 155.8 673 160.4 683.9 171.3 711.1 174.7 719.1 178.1 726.3 181.8 733.3 186 740.2 190.2 746.2 194.6 751.3 200.1 756.7 203.6 759.5 206.7 761.6 213.4 765.5 220.2 768.5 224.4 769.9 228.8 771.1 237.1 772.7 245.9 773.6 254.9 773.6 262.5 773 270.9 771.6 277.6 769.8 284.8 767.2 291.2 764 297.6 759.9 303.1 755.4 307.9 750.5 312.2 745.4 315.9 740.1 320.1 733.2 323.8 726.2 326.9 719.7 330.3 711.7 341.7 683.1 346.4 672.1 351.9 660.7 357 651.7 360.2 647 363.7 642.4 367.6 638 371.3 634.4 375.4 631 379.2 628.3 384.3 625.3 388.9 623.1M21.7 622.7 26.7 620.8 31.1 619.5 36.9 618.2 41.7 617.4 48 616.7 53.1 616.5 58.2 616.6 63.3 616.9 68.3 617.4 74.3 618.5 78.9 619.6 84.3 621.3 88.3 622.8 93 625 97.2 627.4 101.2 630 104 632.2 107.4 635.1 110.4 638.2 113.3 641.3 118.3 647.8 123.4 656 127.9 664.4 132.2 673.8 136.5 684 147.3 711.2 150.8 719.2 153.8 725.6 157.9 733.4 161.6 739.6 165.3 744.9 169.5 750.1 174.9 755.6 178.3 758.4 181.3 760.6 187.8 764.7 194.3 767.7 198.4 769.2 202.7 770.6 210.9 772.4 219.5 773.4 228.5 773.7 236.1 773.3 243.5 772.3 250.5 770.7 258 768.3 264.7 765.4 270.6 762 275.9 758.2 281.1 753.5 285.7 748.6 289.7 743.3 294.2 736.6 298.1 729.6 301.6 722.5 305.5 713.8 318.7 680.8 324.7 667 327.9 660.6 331.4 654.3 334.9 648.9 338.7 643.6 343.7 637.9 348.7 633.1 354.6 628.7 360.4 625.3 367 622.3 373.3 620.1 381.3 618.2 388.6 617.1M21.6 616.9 30.6 616.5 38.2 616.8 46.9 617.8 55 619.6 62.5 622.1 69.1 625.1 75.8 629 81.5 633.4 86.5 638.2 91.4 643.9 96.2 650.6 100.7 658.2 104.7 666 108.6 674.6 123.1 710.6 129.5 725 133.6 732.8 137.3 739 140.9 744.4 145.1 749.5 150.4 755.1 153.7 758 156.6 760.2 163.1 764.2 169.5 767.4 173.5 768.9 177.8 770.3 185.8 772.2 194.5 773.3 203.4 773.7 212.3 773.3 220.9 772 228.9 770.1 233.1 768.7 237.1 767.1 243.4 763.9 249.8 759.8 252.7 757.6 256 754.7 261.2 749.1 265.3 743.9 269 738.5 272.6 732.3 276.6 724.5 283.1 710.1 297.2 674.9 301.2 666.2 305.1 658.4 309.6 650.8 314.3 644.2 319.2 638.4 324.9 633.1 330.7 628.7 337.4 624.8 341.2 623 345.2 621.4 352.8 619.1 357.4 618.1 362.3 617.3 371.1 616.6 380.1 616.6 388.9 617.5M21.9 617.7 29 619.1 35.5 621 41.5 623.3 47.8 626.6 53.4 630.2 58.3 634.1 63.2 638.9 68 644.7 71.4 649.3 74.8 654.8 78.2 661.1 81.4 667.5 87.1 680.5 100.4 713.6 104.2 722.3 107.8 729.4 111.6 736.4 116.1 743.1 120.1 748.3 124.6 753.3 129.8 758 135.1 761.8 141 765.2 147.6 768.2 155.1 770.6 162 772.2 169.4 773.2 177 773.7 186 773.5 194.7 772.4 202.8 770.7 207.2 769.4 211.3 767.9 217.8 764.8 224.4 760.8 227.4 758.6 230.8 755.8 236.2 750.3 240.4 745.2 244.2 739.8 247.9 733.6 252 725.9 255 719.4 258.5 711.4 269.3 684.3 273.6 674 277.9 664.7 282.4 656.2 287.5 648 293 640.9 295.9 637.7 299 634.7 302.4 631.9 305.3 629.7 309.3 627.1 313.6 624.7 318.3 622.6 323.4 620.7 328.9 619.1 333.6 618.1 339.7 617.2 344.7 616.7 351.1 616.5 356.3 616.6 362.6 617.2 368.7 618.1 373.3 619.1 378.8 620.7 384 622.6 388.7 624.7M21.4 625.2 25.6 627.6 29.5 630.2 33.1 633 37 636.6 40.5 640.3 43.6 644.1 47 648.7 50 653.5 55 662.6 59.8 672.6 64.4 683.6 75.2 710.7 81.7 725.2 85.3 732.3 89 738.5 92.6 743.9 96.7 749.1 101.3 754 106.7 758.7 112.8 762.9 118.9 766.2 125.8 769 133.5 771.3 141.8 772.8 149.4 773.5 158.3 773.6 167.2 772.9 175.6 771.5 180.1 770.3 184.4 768.9 188.4 767.4 192.2 765.7 199 761.8 202 759.7 205.6 756.9 211.2 751.5 215.5 746.4 219.8 740.4 224 733.5 227.7 726.5 231.1 719.3 234.6 711.3 245.7 683.4 250.3 672.5 255 662.5 260.1 653.4 263.1 648.6 266 644.6 269.1 640.8 272.6 637 276.4 633.5 279.9 630.7 283.7 628 287.9 625.6 294.5 622.5 300.7 620.3 307.4 618.5 314.7 617.3 322.2 616.6 329.9 616.5 337.5 617.1 346 618.4 352.8 620.1 359.1 622.2 364.8 624.8 370.8 628.2 376 632 380.6 636 385.3 641 389.4 646.2M21.7 646.8 24.8 651.5 28.1 657 31.1 662.7 34.2 669.1 39.6 681.5 51.6 711.6 57.7 725.3 60.6 731 63.8 736.5 66.8 741.3 70.2 745.9 75 751.7 80 756.5 85 760.4 90.6 764 97 767.1 103 769.4 110.8 771.6 118 772.8 123 773.4 128.1 773.7 137.1 773.5 145.8 772.6 150.6 771.7 155.2 770.6 159.5 769.3 163.6 767.7 167.4 766.1 171 764.2 174.3 762.2 178.2 759.6 181 757.4 184.3 754.4 189 749.5 193.6 743.7 198 736.9 202.3 729.2 205.9 722.1 209.7 713.4 222.4 681.9 227.7 669.5 230.8 663.1 233.7 657.4 236.6 652.6 239.7 647.9 243.6 642.6 247.5 638.2 251.8 634 256.8 630.1 261.5 627 266.8 624.1 272.6 621.7 277.9 619.9 282.4 618.8 287.2 617.8 295.9 616.8 304.8 616.5 309.9 616.7 314.9 617.2 323.4 618.7 327.9 619.8 332.2 621.1 336.3 622.7 340.1 624.4 343.6 626.3 347.7 628.8 353.5 633.2 359.1 638.6 364.5 644.9 369.6 652.3 373.9 659.9 378.5 669.2 383.2 680.1 389.4 695.5M21.5 696.3 27.3 710.9 32.1 721.8 36.7 731.1 41.1 738.7 45.8 745.4 51.1 751.7 56.8 757.1 62.6 761.5 66.7 764 70.3 765.9 74.1 767.6 78.1 769.1 82.5 770.5 87 771.6 95.4 773 100.5 773.5 105.6 773.7 114.5 773.4 123.2 772.3 127.9 771.4 132.4 770.2 137.7 768.5 143.6 766 148.8 763.2 153.5 760.1 158.5 756.1 162.8 751.9 166.7 747.5 170.6 742.2 173.7 737.5 176.5 732.7 179.5 727 182.6 720.6 187.9 708.2 200.2 677.4 204.1 668.7 207.6 661.6 211.8 653.9 216.2 647.1 220.8 641.2 225.4 636.3 231.4 631.1 235.2 628.4 238.5 626.4 242 624.5 245.8 622.8 249.8 621.2 254.1 619.9 258.6 618.7 263.3 617.8 272 616.8 281 616.5 286.1 616.7 291.1 617.2 298.4 618.4 306.3 620.5 312.4 622.7 318.9 625.8 324.6 629.4 330.3 633.8 335.2 638.6 340.1 644.4 343 648.3 346.1 653.1 349.2 658.6 352.2 664.3 358.4 678 370.7 708.8 376 721.2 379.1 727.6 382.5 733.9 385.9 739.4 389.1 744.1M21.4 744.8 25.5 749.9 30.3 754.8 35 758.9 40.4 762.6 45.5 765.5 51.2 768 57.5 770.2 64.3 771.9 72.9 773.2 80.5 773.7 88.2 773.6 95.7 772.9 103 771.6 109.7 769.9 115.9 767.6 122.4 764.6 126.6 762.1 130.4 759.4 133.9 756.6 137.7 753.1 141.2 749.3 144.3 745.5 147.1 741.5 150.2 736.7 155.2 727.6 160 717.6 164.6 706.7 175.7 678.8 179.1 670.8 182.5 663.6 186.3 656.6 190.5 649.7 194.8 643.7 199.1 638.7 204.7 633.3 208.3 630.5 211.3 628.3 218.1 624.5 221.9 622.7 226 621.2 230.3 619.8 234.8 618.7 243.2 617.2 252.1 616.6 261 616.7 268.5 617.4 276.9 619 283.5 620.9 290.5 623.6 296.7 626.9 302.9 631.1 308.3 635.7 313 640.6 317.2 645.8 320.9 651.1 324.6 657.3 328.2 664.4 331.3 670.8 334.7 678.8 345.9 706.7 350.5 717.7 355.2 727.7 360.2 736.8 363.3 741.6 366.7 746.2 369.8 750 373.3 753.7 377.2 757.3 380.8 760 384.7 762.7 389 765.1M21.7 765.5 26.4 767.7 31.5 769.6 37 771.1 41.7 772.1 47.8 773 54.1 773.6 59.2 773.7 65.6 773.5 70.7 773 76.8 772.1 81.4 771.1 86.9 769.5 92 767.6 96.8 765.4 101.1 763.1 105 760.5 108 758.3 111.3 755.4 114.4 752.4 117.3 749.3 122.8 742.1 127.9 733.9 132.3 725.4 136.7 716.1 140.9 705.8 151.4 679.4 157.9 664.9 162 657.2 165.7 651 169.8 645 174.1 639.8 179.5 634.4 182.9 631.5 185.9 629.3 192.5 625.3 199.1 622.3 203.2 620.8 207.5 619.5 215.7 617.7 224.4 616.7 233.4 616.5 241 617 248.4 618 255.3 619.6 262.7 622 269.4 625 275.3 628.5 280.5 632.3 285.7 636.9 290.2 641.9 294.2 647.2 298.6 653.9 302.5 660.9 306 668 309.9 676.7 322.8 709 328.5 722.1 331.6 728.5 335.1 734.8 338.5 740.3 342.2 745.6 347.1 751.4 352 756.2 356.9 760.1 362.5 763.7 368.8 766.9 374.8 769.2 381.4 771.2 388.5 772.6M21.5 772.7 26.5 773.3 31.6 773.6 36.7 773.7 41.8 773.5 46.9 773 51.8 772.3 56.5 771.3 60.9 770.1 65.2 768.7 69.2 767.1 72.9 765.4 76.4 763.5 79.6 761.5 83.4 758.8 86.8 755.9 89.9 752.9 94.4 747.9 98.9 742 103.2 735.2 107.4 727.5 110.8 720.3 114.3 712.3 126 683 130.6 672 135.4 662 140.5 652.9 143.5 648.2 146.4 644.2 149.6 640.4 153.1 636.7 156.3 633.7 159.8 630.9 163.6 628.2 167.8 625.7 173.3 623.1 179.3 620.8 186 618.9 193.1 617.5 200.6 616.7 207 616.5 213.4 616.7 220.9 617.5 226.9 618.5 233.7 620.3 238.9 622.1 244.6 624.6 249.8 627.5 254.4 630.7 259.3 634.6 263.5 638.9"/><path stroke="#A2142F" d="M27.8 649.6 32.5 653.7 36.9 658.1 41.5 663.2 45.8 668.5 49.9 673.9 54.6 680.7 71.3 706.6 78.5 717.1 82.6 722.5 86.9 727.8 91.1 732.3 95.5 736.6 100.8 741.2 106.7 745.4 112.4 748.8 118.5 751.7 125.1 754.2 132.1 756.1 139.4 757.3 146 757.9 153.6 757.9 161.2 757.2 168.5 755.9 175.4 754 182 751.5 188.1 748.5 194.4 744.6 200.1 740.3 204.9 736.2 209.8 731.3 214.3 726.2 219 720.3 227.3 708.6 242.3 685.2 248.2 676.5 254.4 668 260.8 660.4 264.5 656.5 268.4 652.8 272.6 649.3 276.4 646.4 280.5 643.7 284.8 641.2 289.4 639 293.4 637.4 300.2 635.2 306.4 633.7 312.9 632.7 319.5 632.3 326.1 632.3 332.7 632.9 339.2 634 346.2 635.8 352 637.9 358.3 640.7 363.3 643.6 368.7 647.2 373.7 651.1 378.9 655.8 384.2 661.4 389 667.2M21.3 667.8 25.4 673.2 30.1 680 47.2 706.5 54.9 717.6 59 723 63.4 728.3 67.5 732.8 71.4 736.6 76.8 741.1 81.9 744.9 87.6 748.3 92.8 751 99.3 753.6 105.3 755.4 111.6 756.7 118.1 757.6 125.7 758 133.3 757.7 140.7 756.7 147.9 755 154.6 752.8 161.7 749.7 168.2 746 174.2 741.9 179 737.9 184.1 733.1 189.3 727.4 194.1 721.6 198.1 716.1 202.8 709.3 218.7 684.7 225.4 674.8 233.2 664.6 240.4 656.6 244.9 652.4 249.8 648.4 254.3 645.1 259.2 642.1 264.5 639.4 270.1 637.1 276 635.2 281.4 633.9 289.7 632.6 297.3 632.2 304.8 632.5 312.3 633.4 319.5 635 327.1 637.5 334.1 640.7 340.6 644.4 346.6 648.5 352 653.1 357.5 658.5 363.1 664.7 368.2 671.3 373.4 678.7 389.3 703.2M21.5 703.9 27.8 713.2 33.1 720.6 38.3 727.1 43.4 732.7 49 738 54.6 742.5 60.6 746.6 66.4 749.8 72.7 752.6 79.4 754.9 86.6 756.5 94 757.6 101.6 758 109.1 757.7 116.6 756.7 123.7 755.1 128.9 753.5 133.7 751.6 138.4 749.4 143.4 746.5 148.2 743.4 152.6 740 156.7 736.4 161.1 732.1 168.1 724 174.9 715 181.2 705.7 197.1 681 201.8 674.2 205.8 668.8 210.6 662.9 215.2 657.8 220.2 653 225 648.9 230.9 644.7 237.3 641 244.3 637.8 251 635.5 258.1 633.8 265.5 632.7 273.1 632.2 280.7 632.5 287.2 633.3 294.5 634.8 300.5 636.6 307 639.1 313 642.2 318.6 645.6 323.7 649.4 329 654 332.9 657.8 336.5 661.8 343.7 670.6 351.5 681.7 366.9 705.7 373.6 715.6 377.7 721.1 381.5 725.8 385.5 730.4 389.2 734.3M21.5 734.8 26.1 739 31.1 742.9 35.8 746.1 40.8 749 46.2 751.6 51.1 753.5 57.1 755.3 62.4 756.5 68.9 757.5 74.6 757.9 80.3 757.9 86.9 757.5 92.5 756.7 98.7 755.3 104.7 753.5 110.4 751.3 114.3 749.4 118.6 747 122.1 744.8 126 742 129.7 739.1 133.2 735.9 140.1 728.8 145.9 721.8 152.2 713.2 158 704.5 172.6 681.8 180.9 670.1 185.6 664.2 190.1 659 194.4 654.6 199.1 650.5 204.8 646.1 211 642.2 217.8 638.8 224.4 636.3 231.3 634.4 238.6 633 246.1 632.3 253.7 632.3 260.3 632.8 266.8 633.9 273 635.4 279.7 637.7 285.9 640.5 291.7 643.8 297.1 647.4 302.7 651.9 307.2 656.1 311.4 660.5 315.9 665.7 320.1 671.1 328.2 682.8 342 704.3 347.4 712.4 353.6 721 359.4 728 366.2 735.3 369.7 738.4 373.3 741.4 377.2 744.3 380.6 746.5 384.9 748.9 388.7 750.8M21.3 751.2 26.1 753.1 30.3 754.5 34.7 755.7 39.2 756.7 43.8 757.4 48.5 757.8 53.3 758 58 757.9 62.8 757.5 67.4 756.9 71.9 756 76.4 754.9 80.6 753.6 85.5 751.7 89.4 749.9 93.8 747.5 100.6 743.1 106.8 738.1 112.9 732.2 118.5 726 123.7 719.4 129.4 711.5 148.1 682.5 155.9 671.4 160.5 665.4 165 660.2 169.2 655.8 173.8 651.6 179.4 647.1 185.5 643.1 192.2 639.6 198.6 636.9 205.4 634.8 212.6 633.3 220.1 632.4 227.7 632.2 234.3 632.6 240.8 633.5 247.1 634.9 253.1 636.8 258.7 639 264.1 641.6 269.7 645 274.9 648.8 279.7 652.8 284.2 657.1 288.9 662.2 293.7 668 297.8 673.4 302.5 680.2 319.2 706.1 326.4 716.6 330.5 722.1 334.8 727.4 338.9 731.9 342.7 735.7 348 740.4 353.1 744.2 358.6 747.7 363.8 750.4 370.2 753.1 376.1 755 382.4 756.5 388.8 757.5M21.6 757.6 29.1 758 35.8 757.8 42.3 757.1 49.6 755.6 56.5 753.6 63 751 69 748 75.2 744.1 80.9 739.7 86.1 735 91.5 729.5 96.4 723.7 101 717.7 106.2 710.3 123.7 683.2 131.4 672.1 136 666.1 140.4 660.9 144.6 656.4 149.1 652.2 154.7 647.7 160.7 643.6 167.3 640 173.6 637.3 180.4 635.1 187.6 633.5 195 632.5 201.7 632.2 209.2 632.5 216.7 633.5 223.8 635.1 230.6 637.3 237 640.1 243.5 643.7 249.6 647.7 255.1 652.2 259.6 656.5 263.8 660.9 268.2 666.1 272.8 672.1 280.5 683.3 298.5 711 303.7 718.4 308.3 724.4 313.8 730.7 319.2 736.2 324.5 740.8 330.3 745 336.7 748.8 343.6 752.1 351.1 754.7 358.2 756.4 366.6 757.6 374.2 758 381.7 757.6 389.2 756.6M21.9 756.5 27.2 755.2 33.2 753.4 38.9 751.1 44.2 748.4 49.1 745.5 54.4 741.8 59.2 737.8 63.7 733.5 70.9 725.6 78.7 715.4 85.4 705.4 100.9 681.4 105.5 674.6 109.6 669.1 114.3 663.3 118.9 658.1 123.3 653.8 128.1 649.7 133.2 645.9 138.7 642.4 144.7 639.3 150.3 637 157.2 634.9 163.4 633.5 169.9 632.6 176.6 632.2 184.2 632.4 191.6 633.3 198.8 634.9 205.7 637 212.1 639.6 218.7 643.2 224.8 647.2 230.4 651.6 235 655.8 239.2 660.3 243.7 665.5 248.3 671.4 256.1 682.5 275.3 712.2 281 720.1 286.2 726.6 292.3 733.4 298.6 739.2 304.9 744 311.9 748.4 316.4 750.6 321.1 752.7 326.2 754.4 330.5 755.6 335.9 756.8 340.6 757.4 345.3 757.8 350 758 354.8 757.9 360.4 757.4 365 756.7 370.4 755.5 374.8 754.2 379.8 752.5 384.5 750.4 389 748.1M21.5 747.7 28.4 743.3 34.5 738.4 40.7 732.5 46.8 725.7 52 719.1 57.6 711.1 75.6 683.4 83.3 672.3 87.4 666.9 91.8 661.6 95.9 657.1 100.4 652.8 105.8 648.3 111.1 644.6 116.8 641.3 123 638.4 129.6 635.9 135.7 634.3 143 633 149.6 632.3 157.2 632.3 164.7 632.9 172 634.2 179 636.1 185.6 638.5 192.5 641.9 198.8 645.7 204.5 650 209.2 654.2 214.1 659.1 218.6 664.2 223.3 670.1 231.6 681.8 246.2 704.6 252 713.3 258.3 721.8 264.6 729.4 268.3 733.3 272.2 737.1 275.7 740.1 279.5 743 283.5 745.8 287.8 748.3 292.3 750.6 296.2 752.3 302 754.4 308.2 756 314.6 757.2 321.1 757.8 327.8 758 334.4 757.6 340.9 756.7 347.2 755.3 353.2 753.4 358.8 751.2 364.2 748.6 369.8 745.2 375 741.4 379.8 737.4 384.3 733.1 389 728.1M21.3 727.5 27 720.4 32.7 712.5 38.1 704.3 51.9 682.9 59.2 672.4 63.3 666.9 67.2 662.3 71.3 657.8 75.2 654 80.5 649.4 85.7 645.6 91.2 642.1 97.3 639.1 103.8 636.5 109.8 634.7 116.1 633.4 122.6 632.6 130.2 632.2 137.8 632.6 145.2 633.6 152.3 635.3 159.1 637.5 166.1 640.6 172.6 644.3 178.6 648.5 183.4 652.5 188.4 657.3 193.1 662.4 197.9 668.3 202 673.7 206.7 680.5 223 705.7 229.7 715.7 237.1 725.3 244.2 733.2 248.7 737.5 253.5 741.5 258 744.8 262.9 747.8 268.2 750.5 272.9 752.6 278.8 754.6 284 756 292.3 757.4 299.8 757.9 307.4 757.8 314.9 757 322.2 755.5 329.9 753.2 336.3 750.5 342.9 747 349 742.9 354.6 738.5 360.2 733.2 365.4 727.6 370.7 721.1 376 713.8 381.5 705.7 389.2 693.7M21.3 693.1 28.7 681.7 34.2 673.7 39.7 666.4 44.6 660.6 50 655.1 55.8 649.9 61.6 645.6 67.1 642.2 73.9 638.8 80.5 636.3 88.3 634.1 95.7 632.9 103.2 632.3 110.8 632.4 118.3 633.1 125.6 634.5 130.8 636 136.6 638.1 141.3 640.2 146.4 643 151.2 646.1 155.7 649.4 159.9 652.9 164.4 657.2 171.5 665.2 178.8 674.8 185.5 684.8 201.4 709.4 206.1 716.2 210.2 721.6 214.9 727.5 220.1 733.1 225.2 737.9 230 741.9 236 746.1 242.5 749.7 249.6 752.8 256.4 755.1 263.5 756.7 271 757.7 278.6 758 286.1 757.6 292.6 756.7 298.9 755.4 304.9 753.5 311.4 750.9 317.4 747.9 323 744.4 328.1 740.6 333.4 736 337.2 732.2 341.3 727.7 348.9 718.2 356.2 707.7 370.4 685.6 376.2 676.8 382.9 667.7 389.3 660.2M21.6 659.6 26.4 654.7 31.1 650.5 36.1 646.6 40.9 643.5 46 640.7 51.4 638.2 57.2 636.1 63.3 634.4 69.7 633.1 76.2 632.4 81.9 632.2 88.6 632.5 95.1 633.2 101.4 634.5 107.5 636.2 113.3 638.4 117.2 640.1 121.6 642.5 125.1 644.6 129.1 647.4 132.9 650.3 136.4 653.4 140.3 657.2 144 661.1 150.2 668.7 156.5 677.2 162.3 685.9 176.5 708 184.7 719.7 189.4 725.7 193.9 730.8 198.8 735.8 203.5 739.9 209.2 744.2 215.4 748.1 222.3 751.5 228.8 754 235.8 755.9 243.1 757.2 250.6 757.9 258.2 757.9 264.8 757.3 272.1 756 278.3 754.4 284.9 752 291.1 749.1 296.8 745.8 302.1 742.1 307.6 737.6 312.1 733.4 316.3 728.9 320.7 723.7 324.8 718.3 332.5 707.1 351.3 678.2 357 670.2 362.2 663.7 368.9 656.4 375.2 650.6 382.2 645.3 389.3 641.1M21.9 640.7 26.5 638.6 30.6 637 35.7 635.3 40.1 634.2 45.5 633.2 50.2 632.6 54.9 632.3 59.7 632.2 64.4 632.5 69.1 632.9 73.7 633.7 79.1 634.9 83.4 636.2 88.4 638 92.3 639.7 96.8 642 103.7 646.4 110 651.2 116.2 657.1 122.4 663.9 127.6 670.4 133.3 678.3 152 707.3 160.2 719 164.8 725 169.3 730.2 173.6 734.6 178.2 738.8 183.8 743.2 189.9 747.2 196.6 750.7 203 753.4 209.9 755.5 217.1 756.9 224.6 757.8 232.2 758 238.8 757.5 245.3 756.6 251.6 755.2 257.5 753.3 263.2 751 269.2 748 274.8 744.5 279.9 740.8 284.7 736.7 289.1 732.3 293.7 727.3 298.5 721.4 302.5 715.9 307.2 709.1 323.1 684.5 330.3 673.9 334.3 668.5 338.1 663.8 341.7 659.8 345.4 655.9 349.9 651.7 354.9 647.7 360.2 644.1 365.2 641.2 370.6 638.6 376.3 636.4 382.4 634.7 388.7 633.3M21.4 633.2 28.9 632.4 36.5 632.3 44 632.8 51.4 634 58.4 635.9 65 638.3 71.9 641.6 78.3 645.4 84.1 649.7 89.4 654.3 94.8 659.8 100.2 666.1 104.8 672.1 110 679.5 128 707.2 135.7 718.3 140.3 724.3 144.7 729.5 149 734 153.5 738.2 159 742.7 165.1 746.7 171.7 750.3 178.1 753 184.9 755.2 192 756.8 199.5 757.7 206.1 758 213.7 757.6 221.2 756.6 228.3 755 235.1 752.8 241.4 750 247.9 746.4 253.9 742.3 259.4 737.8 263.9 733.5 268.1 729.1 272.5 723.8 276.7 718.4 284.4 707.3 302.3 679.6 307.5 672.2 312.1 666.2 317.1 660.4 322.4 654.9 327.7 650.2 333.4 645.9 339.6 642 345.7 639 352.2 636.5 359.1 634.5 366.4 633.1 373.9 632.3 381.5 632.3 389 632.9M21.8 633 28.2 634.2 34.3 635.8 40.1 637.9 45.6 640.3 50.7 643.1 56.2 646.7 61.2 650.6 66.4 655.3 70.2 659.1 74.2 663.7 78 668.4 82.1 673.8 89.3 684.4 105.6 709.6 110.3 716.4 114.4 721.9 119.2 727.7 123.8 732.8 128.3 737.1 133.1 741.2 138.2 744.9 143.9 748.3 149.9 751.3 155.6 753.6 161.6 755.4 167.9 756.7 174.4 757.6 181.1 758 188.6 757.7 196.1 756.8 203.3 755.3 210.1 753.1 216.5 750.4 223.1 746.9 229.2 742.8 234.8 738.4 239.3 734.2 243.6 729.7 248 724.5 252.6 718.5 260.4 707.4 279.1 678.4 284.4 671.1 289.5 664.5 295.6 657.7 301.8 651.8 308 646.9 314.8 642.5 319.3 640.2 323.2 638.4 328.1 636.5 332.3 635.2 337.7 633.9 342.3 633.1 346.9 632.5 351.7 632.3 356.4 632.2 361.2 632.5 365.8 633 371.3 634 375.8 635 380.1 636.3 384.2 637.8 388.9 639.9M21.5 640.3 28.7 644.4 35.9 649.5 42.9 655.7 49.7 663 55.4 670.1 61.1 678.1 80.3 707.7 88 718.8 92.2 724.1 96.6 729.4 100.8 733.8 104.8 737.5 110.2 742.1 115.5 745.7 121.2 749.1 127.4 752 134 754.4 140.2 756 147.5 757.3 154.1 757.9 161.7 757.9 169.2 757.3 176.5 756 183.5 754 190 751.6 196.9 748.2 203.1 744.3 208.9 740 213.6 735.9 218.4 730.9 223 725.8 227.7 719.8 235.9 708.1 250.5 685.4 256.4 676.7 262.6 668.2 268.4 661.2 272.1 657.2 276 653.5 279.5 650.4 283.2 647.5 287.2 644.7 290.7 642.6 295.2 640.2 299 638.4 304.8 636.3 310.9 634.5 317.2 633.3 322.8 632.6 329.4 632.2 335.1 632.4 341.7 633 348.1 634.1 353.4 635.5 359.3 637.5 364.8 639.9 370 642.6 374.9 645.6 380 649.4 384.8 653.5 389.2 657.8M21.5 658.4 28.5 666.4 35.3 675.5 41.6 684.8 56.6 708.2 64.4 719.3 68.1 724.1 72 728.7 76.2 733.2 80.1 736.9 85.5 741.5 91.4 745.7 97.1 749 103.3 751.9 109.9 754.3 116 756 123.3 757.3 129.9 757.9 137.5 757.9 145.1 757.3 152.4 756 159.4 754.1 165.9 751.6 172.8 748.2 179.1 744.4 184.8 740.1 189.5 735.9 194.4 731 199.4 725.3 204.1 719.3 212.2 707.6 229.7 680.5 237.6 669.5"/><path stroke="#EDB120" d="M312.7 727.4 317.7 724.7 323.1 721.3 328.3 717.7 333.9 713.5 344.2 705.1 363.9 687.5 371.8 680.7 380.6 673.8 389.3 667.8M21.7 667.5 26.6 664.6 31 662.2 36.2 659.8 40.9 657.9 45.7 656.2 50.7 654.7 55.7 653.6 60.1 652.8 65.3 652.2 70.6 651.9 75.1 651.9 80.4 652.2 84.8 652.6 90 653.5 95.1 654.6 100 656 107.6 658.6 115.5 662.2 123.5 666.7 131.2 671.8 137.9 676.8 145 682.5 169.5 704.2 179.1 712.2 189.2 719.7 193.9 722.8 198.8 725.7 205.2 729 211.1 731.6 217.3 733.9 222.9 735.5 229.4 736.9 235.4 737.8 242.1 738.3 248.1 738.3 253.4 738 259.3 737.2 265.2 736.1 270.9 734.6 276.4 732.8 282.5 730.4 287.7 727.9 293.3 724.9 298.2 721.9 302.9 718.8 312.4 711.6 321.9 703.5 344.8 683.2 351.8 677.4 358.5 672.4 366.2 667.3 373.6 663.1 381.3 659.4 388.8 656.5M21.3 656.3 29.1 654.1 37.2 652.7 45.4 652 52.9 651.9 60.4 652.6 68.5 654 76.3 656.1 83.9 658.8 90.4 661.7 96.7 665.1 103.4 669.2 110.3 674 115.8 678.3 122.3 683.6 144.6 703.5 154.2 711.6 164.3 719.1 169 722.2 173.8 725.2 180.1 728.5 186 731.2 192.2 733.5 197.8 735.2 204.3 736.7 210.2 737.6 216.2 738.2 222.2 738.3 227.4 738.1 232.7 737.6 237.8 736.8 243.6 735.5 248.6 734.1 254.1 732.2 259.4 729.9 264.6 727.4 269.6 724.7 275 721.3 280.2 717.8 285.3 714 296.1 705.1 316.3 687.1 324.8 679.9 334.2 672.6 343.6 666.4 349.2 663.2 355 660.4 360.3 658.1 365.8 656.2 371.5 654.6 377.3 653.3 383.2 652.5 389.2 652M21.7 651.9 27 651.9 33 652.2 38.9 652.9 44.8 654 50.5 655.5 56.1 657.3 61.5 659.4 66.7 661.9 71.8 664.5 77.2 667.8 82.5 671.3 88.2 675.4 99.5 684.7 120.3 703.2 129.3 710.9 139.4 718.5 148.9 724.6 155.1 728 161 730.8 167.1 733.1 172.7 734.9 179.1 736.5 185 737.5 191 738.1 197 738.3 203 738.1 209 737.6 214.9 736.6 221.3 735 227 733.3 233.1 731 239 728.3 245.2 724.9 250.1 721.9 254.7 718.8 264.8 711.2 273.9 703.6 295.7 684.1 302.1 678.8 307.6 674.5 313.9 670 320.5 665.9 326.7 662.4 332.6 659.7 339.3 657 346.3 654.9 353.6 653.3 361 652.3 368.5 651.9 375.3 652.1 382 652.8 389.3 654.1M21.8 654.3 26.1 655.4 31 656.9 39.7 660.5 48.6 665 57 670.3 64.4 675.6 72 681.7 97.6 704.3 107.2 712.4 116.8 719.5 121.5 722.6 126.3 725.5 132 728.5 137.3 730.9 142.7 733 148.3 734.8 154 736.2 159.8 737.3 165.8 738 171.1 738.3 177.1 738.2 183.8 737.7 189.7 736.8 196.2 735.3 201.9 733.7 208 731.4 213.9 728.8 220.3 725.4 225.1 722.5 229.8 719.4 239.9 711.9 249.5 703.8 273 683 280 677.3 286.1 672.7 293.7 667.5 301.1 663.3 308.2 659.8 315.6 656.9 320.5 655.4 324.8 654.3 329.9 653.2 334.3 652.6 339.6 652.1 344.1 651.9 353.1 652.2 362 653.4 366.3 654.4 371.3 655.7 380.2 658.9 384.9 660.9 389.4 663.1M21.8 663.5 26.7 666.3 31.5 669.3 36.7 672.9 41.8 676.7 52 685.1 72.2 703.2 80.7 710.4 90.1 717.6 98.9 723.5 104.5 726.7 110.2 729.5 116.2 732.1 121.7 734 127.4 735.6 133.2 736.9 139.1 737.8 145.1 738.2 151.1 738.3 157.1 738 163.1 737.3 169.6 736 176.1 734.2 182.3 732.1 188.3 729.5 194 726.7 199 723.9 204.3 720.4 209.5 716.8 215.1 712.6 224.7 704.5 250.2 681.9 257.8 675.8 265.2 670.5 273.6 665.2 282.5 660.6 291.2 657 296.1 655.5 300.4 654.4 306.2 653.2 311.4 652.4 317.4 652 322.6 651.9 327.9 652.1 333.9 652.7 339.7 653.8 345.5 655.2 351.1 656.9 356.5 659 361.8 661.3 366.9 664 372.4 667.2 377.7 670.6 383.4 674.7 388.9 679M21.3 679.5 29.2 686.2 47.9 702.9 56.9 710.6 66.4 717.8 75.8 724 81.4 727.1 86.5 729.7 91.8 731.9 97.3 733.9 103 735.5 108.8 736.8 114.7 737.7 119.9 738.2 125.9 738.3 131.9 738.1 137.9 737.4 144.5 736.2 150.2 734.8 156.5 732.7 162.6 730.3 168.4 727.5 173.4 724.8 178.8 721.4 184 717.9 189.6 713.7 200.4 704.8 219.6 687.7 227.5 680.9 236.3 673.9 244.4 668.3 249.2 665.4 254.2 662.6 259.4 660.2 264.1 658.2 269.6 656.2 274.5 654.8 279.6 653.6 284.7 652.8 291.4 652.1 297.4 651.9 303.5 652.1 310.2 652.8 316.8 654 323.2 655.7 329.4 657.8 335.5 660.3 341.3 663.1 347.4 666.6 353.4 670.4 359.1 674.5 364.6 678.8 371 684.1 389.2 700.3M21.5 700.8 34.8 712.1 40.9 716.8 46.7 720.8 52.6 724.5 58.3 727.6 64.1 730.4 69.5 732.6 75.7 734.6 81.4 736.1 87.3 737.2 93.2 738 99.2 738.3 105.3 738.2 111.2 737.8 117.9 736.8 122.3 735.8 127.2 734.5 132.1 732.9 136.8 731 141.4 729 146.5 726.4 155.6 720.9 163.7 715.2 171.8 708.7 179.2 702.3 197.9 685.6 208.1 677.2 213.7 672.9 218.9 669.3 224.3 665.9 229.2 663.2 235 660.3 241 657.8 247.3 655.7 253 654.2 259.6 652.9 265.5 652.2 272.3 651.9 278.3 652 284.3 652.5 290.2 653.5 295.9 654.8 301.6 656.4 307.1 658.4 312.4 660.7 318.1 663.6 323.7 666.8 331.9 672.2 340.8 679 349.9 686.6 374.4 708.3 382 714.4 389.3 719.8M21.7 720.2 26.5 723.2 31.4 726.1 36.5 728.7 41 730.8 46.4 732.9 51.3 734.5 56.3 735.9 61.4 736.9 66.6 737.7 71.8 738.2 77.1 738.3 82.3 738.2 87.6 737.7 92.7 737 97.8 735.9 102.8 734.6 111.1 731.7 119 728.2 127.1 723.7 134.8 718.7 141.5 713.7 149.1 707.6 173.6 685.9 183.2 677.8 193.4 670.3 198.7 666.9 203.6 664 209.3 661.1 215.3 658.5 221.5 656.3 227.8 654.5 234.4 653.1 240.3 652.3 246.3 651.9 252.3 651.9 258.3 652.3 264.3 653.1 270.1 654.3 275.8 655.9 281.3 657.7 286.7 659.9 292.5 662.7 298.1 665.8 307.6 672 317 679.2 326.1 686.8 348.4 706.7 354.9 712 361 716.7 367.9 721.5 375.2 725.9 382.2 729.5 388.9 732.3M21.4 732.5 29.7 735.2 37.7 737 45.9 738 54.1 738.3 62.4 737.9 70.5 736.6 78.4 734.7 86.7 731.9 93.3 729 100.3 725.4 106.9 721.3 113.9 716.5 120 711.8 126.4 706.5 148.8 686.6 158.4 678.5 168.4 670.9 173.1 667.8 178 664.9 184.3 661.6 190.2 658.9 196.4 656.6 202 654.9 208.5 653.5 214.4 652.5 220.4 652 226.4 651.9 231.7 652.1 237.6 652.7 242.8 653.6 248.5 654.9 253.5 656.4 259 658.4 264.3 660.7 269.4 663.2 274.4 666 279.8 669.4 285 673 290 676.8 300.2 685.2 319.9 702.8 328.4 710 337.2 716.9 346 722.8 351.5 726.1 356.6 728.7 361.8 731.1 367.2 733.2 372.8 734.9 377.8 736.2 383.7 737.3 388.9 737.9M21.4 738 27.4 738.3 33.5 738.2 39.4 737.7 46.1 736.7 51.9 735.4 58.2 733.5 63.7 731.5 69.6 728.9 75.3 725.9 80.8 722.7 86.1 719.2 91.8 715 103.1 705.8 124.4 686.8 133.5 679.2 143.5 671.6 153 665.5 159.3 662.1 165.2 659.4 171.3 657 176.9 655.2 183.3 653.7 189.2 652.7 195.2 652.1 201.2 651.9 207.2 652.1 213.2 652.7 219.1 653.7 225.5 655.2 231.1 657 237.2 659.3 243.1 662 249.4 665.4 258.9 671.5 268.9 679.1 278 686.8 299.8 706.2 311.2 715.4 317.5 719.9 323.4 723.7 329.6 727.2 335.4 730 342.1 732.8 348.4 734.8 355.6 736.6 362.2 737.6 369 738.2 375.7 738.3 382.5 737.9 389.1 736.9M21.7 736.8 26 735.9 31 734.5 35.9 732.9 40.6 731.1 45.2 729 50.3 726.4 59.4 721 67.5 715.3 75.6 708.8 83.6 701.9 101.7 685.7 111.3 677.7 121.5 670.2 126.2 667.1 131.1 664.3 136.9 661.3 142.1 659 147.6 656.9 153.2 655.2 158.9 653.8 164.1 652.8 170 652.2 175.3 651.9 181.3 652 188 652.5 193.9 653.4 200.4 654.9 206.1 656.6 212.2 658.9 218.1 661.5 224.4 664.9 229.3 667.8 234 670.9 244.1 678.4 253.7 686.5 276.6 706.9 283.6 712.6 289.7 717.3 296.7 722 304 726.4 311 729.9 318.4 732.9 323.3 734.5 327.6 735.7 336.3 737.4 345.3 738.2 354.3 738.2 363.2 737.2 372 735.4 380.4 732.8 389.1 729.2M21.5 728.9 27.2 725.9 32.7 722.7 38.6 718.8 44.2 714.7 55.6 705.4 75.8 687.4 84.8 679.7 94.3 672.4 103.7 666.2 109.3 663.1 115.1 660.3 120.4 658 125.9 656.1 131.6 654.5 137.4 653.3 143.3 652.4 149.3 652 155.3 651.9 162.1 652.3 168 653.1 174.6 654.4 181 656.2 187.1 658.5 193.1 661.1 198.8 664 203.7 666.8 209.1 670.3 219.2 677.8 228.8 685.8 253.8 708 261.4 714.1 268.8 719.5 277.2 724.8 285.4 729.1 294 732.7 302.4 735.4 308.2 736.7 313.4 737.5 319.3 738.1 324.6 738.3 329.9 738.2 335.8 737.7 341 736.9 346.8 735.7 351.8 734.3 357.3 732.5 362.7 730.3 367.9 727.8 372.9 725.1 378.4 721.8 383.6 718.2 389.2 714.1M21.6 713.6 31.8 705.2 52 687.1 60.5 679.9 69.9 672.7 79.3 666.4 84.9 663.3 90.7 660.4 96 658.2 101.5 656.2 107.2 654.6 113 653.3 118.9 652.5 124.1 652 130.2 651.9 136.2 652.1 142.1 652.8 148.7 654 154.4 655.5 160.7 657.5 166.7 660 172.6 662.8 177.5 665.5 183 668.9 188.2 672.5 193.8 676.7 204 685.1 223.2 702.2 231.1 709 239.9 716 248 721.6 252.8 724.6 257.8 727.3 262.9 729.8 267.6 731.8 272.4 733.6 277.3 735.1 282.3 736.3 287.5 737.3 294.1 738 300.2 738.3 306.2 738.2 312.9 737.6 318.8 736.6 325.3 735.1 331.6 733.1 337.7 730.7 343.5 728 349.2 724.9 355.2 721.2 361 717.2 366.6 713 373 707.7 389.2 693.4M21.5 693 36.2 680.2 42.2 675.4 47.9 671.3 53.8 667.4 59.3 664.1 65 661.2 71 658.6 77.1 656.3 82.8 654.7 89.3 653.3 95.2 652.4 102 651.9 108 651.9 114 652.3 120.6 653.2 125.7 654.3 130.7 655.6 135.6 657.2 140.4 659 145 661 150.1 663.6 159.2 669.1 167.2 674.7 175.4 681.2 183.4 688.1 202 704.7 212.2 713.2 217.8 717.4 223 721 228.4 724.4 233.4 727.1 239.2 730 245.2 732.5 251.5 734.6 257.2 736.1 263.8 737.3 269.7 738 275.7 738.3 281.7 738.2 287.7 737.7 293.6 736.8 299.4 735.6 305.1 733.9 310.6 732 315.9 729.7 321.7 726.9 327.2 723.7 336.1 717.9 345.5 710.6 354 703.4 376.4 683.6 382.8 678.2 388.9 673.5M21.3 673.1 26.5 669.5 31.8 666.1 36.8 663.3 41.9 660.8 47.2 658.5 52 656.7 57.6 655 62.7 653.8 68.6 652.8 73.8 652.2 79 651.9 84.3 651.9 89.5 652.3 94.7 652.9 99.9 653.8 105.6 655.3 113.9 658 121.9 661.5 130.1 665.9 138.4 671.2 145.1 676.2 152.7 682.3 177.7 704.5 187.4 712.5 197.5 720 202.9 723.4 207.8 726.3 213.5 729.2 219.5 731.8 225.7 734 232 735.8 238.6 737.1 244.5 737.9 250.5 738.3 256.5 738.3 262.5 737.8 268.5 737 274.3 735.8 280 734.3 285.5 732.4 290.9 730.2 296.7 727.4 302.3 724.3 311.7 718.1 321.2 710.9 330.2 703.2 351.5 684.3 357.9 678.9 363.5 674.6 369.7 670.1 376.3 666 382.5 662.5 389 659.5M21.5 659.2 30.4 655.9 39 653.7 47.8 652.4 56.8 651.9 65.8 652.3 74.7 653.6 83.3 655.8 92.2 658.9 98.8 661.9 105.1 665.3 111.7 669.4 118.6 674.3 124.1 678.5 130.5 683.9 152.4 703.3 161.4 711 170.9 718.2 180.3 724.3"/></g><g clip-path="url(#clipe)"><use href="#coast" transform="translate(0 695.1)"/></g><rect x="21.2" y="579.2" width="368.2" height="231.8" fill="none" stroke="#8a8a8a" stroke-width="0.6"/><line x1="21.2" x2="389.4" y1="579.7" y2="579.7" stroke="#DD6530" stroke-width="1.5"/><line x1="21.2" x2="389.4" y1="810.8" y2="810.8" stroke="#DD6530" stroke-width="1.6"/><g font-size="6.9" fill="#333"><text transform="translate(18.2 802.3) scale(0.9 1)" text-anchor="end">-80</text><text transform="translate(18.2 776.1) scale(0.9 1)" text-anchor="end">-60</text><text transform="translate(18.2 749.9) scale(0.9 1)" text-anchor="end">-40</text><text transform="translate(18.2 723.7) scale(0.9 1)" text-anchor="end">-20</text><text transform="translate(18.2 697.5) scale(0.9 1)" text-anchor="end">0</text><text transform="translate(18.2 671.3) scale(0.9 1)" text-anchor="end">20</text><text transform="translate(18.2 645.1) scale(0.9 1)" text-anchor="end">40</text><text transform="translate(18.2 618.9) scale(0.9 1)" text-anchor="end">60</text><text transform="translate(18.2 592.7) scale(0.9 1)" text-anchor="end">80</text><text transform="translate(51.9 820.5) scale(0.9 1)" text-anchor="middle">-150</text><text transform="translate(103.0 820.5) scale(0.9 1)" text-anchor="middle">-100</text><text transform="translate(154.2 820.5) scale(0.9 1)" text-anchor="middle">-50</text><text transform="translate(205.3 820.5) scale(0.9 1)" text-anchor="middle">0</text><text transform="translate(256.4 820.5) scale(0.9 1)" text-anchor="middle">50</text><text transform="translate(307.6 820.5) scale(0.9 1)" text-anchor="middle">100</text><text transform="translate(358.7 820.5) scale(0.9 1)" text-anchor="middle">150</text></g><text x="205.3" y="829.0" font-size="7.15" fill="#333" text-anchor="middle">Longitude [°]</text><text transform="translate(6.3 695.1) rotate(-90)" font-size="7.15" fill="#333" text-anchor="middle">Latitude [°]</text><rect x="301.5" y="584.2" width="82.8" height="46.8" fill="#fff" stroke="#999" stroke-width="0.5"/><line x1="303.8" x2="322.2" y1="588.1" y2="588.1" stroke="#D95319" stroke-width="0.55"/><text x="323.7" y="590.1" font-size="5.75" fill="#222">sat 1 inc 89° alt 441km</text><line x1="303.8" x2="322.2" y1="595.9" y2="595.9" stroke="#77AC30" stroke-width="0.55"/><text x="323.7" y="597.9" font-size="5.75" fill="#222">sat 2 inc 80° alt 426km</text><line x1="303.8" x2="322.2" y1="603.7" y2="603.7" stroke="#0072BD" stroke-width="0.55"/><text x="323.7" y="605.7" font-size="5.75" fill="#222">sat 3 inc 71° alt 411km</text><line x1="303.8" x2="322.2" y1="611.5" y2="611.5" stroke="#7E2F8E" stroke-width="0.55"/><text x="323.7" y="613.5" font-size="5.75" fill="#222">sat 4 inc 60° alt 396km</text><line x1="303.8" x2="322.2" y1="619.3" y2="619.3" stroke="#A2142F" stroke-width="0.55"/><text x="323.7" y="621.3" font-size="5.75" fill="#222">sat 5 inc 48° alt 382km</text><line x1="303.8" x2="322.2" y1="627.1" y2="627.1" stroke="#EDB120" stroke-width="0.55"/><text x="323.7" y="629.1" font-size="5.75" fill="#222">sat 6 inc 33° alt 369km</text><text transform="translate(194.4 849.5) scale(0.93 1)" font-size="15.6" fill="#000" text-anchor="middle">(e)</text><clipPath id="clipb"><rect x="429.1" y="21.6" width="247.3" height="189.8"/></clipPath><path d="M429.1 203.24H676.4M429.1 198.46H676.4M429.1 195.08H676.4M429.1 192.45H676.4M429.1 190.30H676.4M429.1 188.49H676.4M429.1 186.91H676.4M429.1 185.53H676.4M429.1 176.12H676.4M429.1 171.35H676.4M429.1 167.96H676.4M429.1 165.33H676.4M429.1 163.19H676.4M429.1 161.37H676.4M429.1 159.80H676.4M429.1 158.41H676.4M429.1 149.01H676.4M429.1 144.23H676.4M429.1 140.85H676.4M429.1 138.22H676.4M429.1 136.07H676.4M429.1 134.26H676.4M429.1 132.68H676.4M429.1 131.30H676.4M429.1 121.89H676.4M429.1 117.12H676.4M429.1 113.73H676.4M429.1 111.11H676.4M429.1 108.96H676.4M429.1 107.14H676.4M429.1 105.57H676.4M429.1 104.18H676.4M429.1 94.78H676.4M429.1 90.01H676.4M429.1 86.62H676.4M429.1 83.99H676.4M429.1 81.84H676.4M429.1 80.03H676.4M429.1 78.46H676.4M429.1 77.07H676.4M429.1 67.67H676.4M429.1 62.89H676.4M429.1 59.50H676.4M429.1 56.88H676.4M429.1 54.73H676.4M429.1 52.91H676.4M429.1 51.34H676.4M429.1 49.95H676.4M429.1 40.55H676.4M429.1 35.78H676.4M429.1 32.39H676.4M429.1 29.76H676.4M429.1 27.62H676.4M429.1 25.80H676.4M429.1 24.23H676.4M429.1 22.84H676.4" stroke="#ececec" stroke-width="0.7" fill="none"/><path d="M429.1 184.29H676.4M429.1 157.17H676.4M429.1 130.06H676.4M429.1 102.94H676.4M429.1 75.83H676.4M429.1 48.71H676.4M461.36 21.6V211.4M504.37 21.6V211.4M547.37 21.6V211.4M590.38 21.6V211.4M633.39 21.6V211.4" stroke="#dcdcdc" stroke-width="0.7" fill="none"/><path d="M429.1 203.24h1.5M676.4 203.24h-1.5M429.1 198.46h1.5M676.4 198.46h-1.5M429.1 195.08h1.5M676.4 195.08h-1.5M429.1 192.45h1.5M676.4 192.45h-1.5M429.1 190.30h1.5M676.4 190.30h-1.5M429.1 188.49h1.5M676.4 188.49h-1.5M429.1 186.91h1.5M676.4 186.91h-1.5M429.1 185.53h1.5M676.4 185.53h-1.5M429.1 176.12h1.5M676.4 176.12h-1.5M429.1 171.35h1.5M676.4 171.35h-1.5M429.1 167.96h1.5M676.4 167.96h-1.5M429.1 165.33h1.5M676.4 165.33h-1.5M429.1 163.19h1.5M676.4 163.19h-1.5M429.1 161.37h1.5M676.4 161.37h-1.5M429.1 159.80h1.5M676.4 159.80h-1.5M429.1 158.41h1.5M676.4 158.41h-1.5M429.1 149.01h1.5M676.4 149.01h-1.5M429.1 144.23h1.5M676.4 144.23h-1.5M429.1 140.85h1.5M676.4 140.85h-1.5M429.1 138.22h1.5M676.4 138.22h-1.5M429.1 136.07h1.5M676.4 136.07h-1.5M429.1 134.26h1.5M676.4 134.26h-1.5M429.1 132.68h1.5M676.4 132.68h-1.5M429.1 131.30h1.5M676.4 131.30h-1.5M429.1 121.89h1.5M676.4 121.89h-1.5M429.1 117.12h1.5M676.4 117.12h-1.5M429.1 113.73h1.5M676.4 113.73h-1.5M429.1 111.11h1.5M676.4 111.11h-1.5M429.1 108.96h1.5M676.4 108.96h-1.5M429.1 107.14h1.5M676.4 107.14h-1.5M429.1 105.57h1.5M676.4 105.57h-1.5M429.1 104.18h1.5M676.4 104.18h-1.5M429.1 94.78h1.5M676.4 94.78h-1.5M429.1 90.01h1.5M676.4 90.01h-1.5M429.1 86.62h1.5M676.4 86.62h-1.5M429.1 83.99h1.5M676.4 83.99h-1.5M429.1 81.84h1.5M676.4 81.84h-1.5M429.1 80.03h1.5M676.4 80.03h-1.5M429.1 78.46h1.5M676.4 78.46h-1.5M429.1 77.07h1.5M676.4 77.07h-1.5M429.1 67.67h1.5M676.4 67.67h-1.5M429.1 62.89h1.5M676.4 62.89h-1.5M429.1 59.50h1.5M676.4 59.50h-1.5M429.1 56.88h1.5M676.4 56.88h-1.5M429.1 54.73h1.5M676.4 54.73h-1.5M429.1 52.91h1.5M676.4 52.91h-1.5M429.1 51.34h1.5M676.4 51.34h-1.5M429.1 49.95h1.5M676.4 49.95h-1.5M429.1 40.55h1.5M676.4 40.55h-1.5M429.1 35.78h1.5M676.4 35.78h-1.5M429.1 32.39h1.5M676.4 32.39h-1.5M429.1 29.76h1.5M676.4 29.76h-1.5M429.1 27.62h1.5M676.4 27.62h-1.5M429.1 25.80h1.5M676.4 25.80h-1.5M429.1 24.23h1.5M676.4 24.23h-1.5M429.1 22.84h1.5M676.4 22.84h-1.5M429.1 211.40h2.5M676.4 211.40h-2.5M429.1 184.29h2.5M676.4 184.29h-2.5M429.1 157.17h2.5M676.4 157.17h-2.5M429.1 130.06h2.5M676.4 130.06h-2.5M429.1 102.94h2.5M676.4 102.94h-2.5M429.1 75.83h2.5M676.4 75.83h-2.5M429.1 48.71h2.5M676.4 48.71h-2.5M429.1 21.60h2.5M676.4 21.60h-2.5M461.36 211.4v-2.5M461.36 21.6v2.5M504.37 211.4v-2.5M504.37 21.6v2.5M547.37 211.4v-2.5M547.37 21.6v2.5M590.38 211.4v-2.5M590.38 21.6v2.5M633.39 211.4v-2.5M633.39 21.6v2.5" stroke="#7a7a7a" stroke-width="0.6" fill="none"/><g clip-path="url(#clipb)" fill="none" stroke-width="1.8" stroke-linejoin="round"><path stroke="#0072BD" d="M429.1 189.7 439.9 164.1 450.6 151.2 461.4 142.4 472.1 137.2 482.9 133.5 493.6 130.3 504.4 127.8 515.1 124.2 525.9 117.5 536.6 112.9 547.4 98.6 558.1 92.3 568.9 86.6 579.6 78.1 590.4 65.8 601.1 61.0 611.9 50.5 622.6 -16.7"/><path stroke="#D95319" d="M429.1 189.7 439.9 164.1 450.6 151.2 461.4 142.4 472.1 137.4 482.9 134.5 493.6 132.1 504.4 130.5 515.1 128.2 525.9 124.5 676.4 38.0"/></g><rect x="429.1" y="21.6" width="247.3" height="189.8" fill="none" stroke="#9a9a9a" stroke-width="0.8"/><g font-size="10.5" fill="#262626"><text x="461.4" y="226.0" text-anchor="middle">20</text><text x="504.4" y="226.0" text-anchor="middle">40</text><text x="547.4" y="226.0" text-anchor="middle">60</text><text x="590.4" y="226.0" text-anchor="middle">80</text><text x="633.4" y="226.0" text-anchor="middle">100</text><text x="676.4" y="226.0" text-anchor="middle">120</text><text x="420.3" y="190.8" text-anchor="end">10</text><text x="420.5" y="185.5" font-size="8.2">2</text><text x="420.3" y="136.6" text-anchor="end">10</text><text x="420.5" y="131.3" font-size="8.2">4</text><text x="420.3" y="82.3" text-anchor="end">10</text><text x="420.5" y="77.0" font-size="8.2">6</text><text x="420.3" y="28.1" text-anchor="end">10</text><text x="420.5" y="22.8" font-size="8.2">8</text></g><text x="552.8" y="240.9" font-size="11.6" fill="#262626" text-anchor="middle">SH Degree</text><text transform="translate(404 119.0) rotate(-90)" font-size="12.1" fill="#262626" text-anchor="middle">SST condition number</text><text transform="translate(539.1 11.5) scale(0.87 1)" font-size="16.2" font-weight="bold" fill="#000" text-anchor="middle">PO6</text><rect x="599.2" y="177.5" width="71.2" height="27.0" fill="#fff" stroke="#8a8a8a" stroke-width="0.6"/><line x1="601.8" x2="624.4" y1="184.2" y2="184.2" stroke="#0072BD" stroke-width="1.8"/><text x="626.6" y="187.7" font-size="9.4" fill="#262626">1.00 days</text><line x1="601.8" x2="624.4" y1="197.8" y2="197.8" stroke="#D95319" stroke-width="1.8"/><text x="626.6" y="201.2" font-size="9.4" fill="#262626">6.98 days</text><text transform="translate(539.1 271.2) scale(0.93 1)" font-size="15.6" fill="#000" text-anchor="middle">(b)</text><clipPath id="clipd"><rect x="429.1" y="317.1" width="247.3" height="189.2"/></clipPath><path d="M429.1 498.16H676.4M429.1 493.40H676.4M429.1 490.03H676.4M429.1 487.41H676.4M429.1 485.27H676.4M429.1 483.46H676.4M429.1 481.89H676.4M429.1 480.51H676.4M429.1 471.14H676.4M429.1 466.38H676.4M429.1 463.00H676.4M429.1 460.38H676.4M429.1 458.24H676.4M429.1 456.43H676.4M429.1 454.86H676.4M429.1 453.48H676.4M429.1 444.11H676.4M429.1 439.35H676.4M429.1 435.97H676.4M429.1 433.35H676.4M429.1 431.21H676.4M429.1 429.40H676.4M429.1 427.83H676.4M429.1 426.45H676.4M429.1 417.08H676.4M429.1 412.32H676.4M429.1 408.94H676.4M429.1 406.32H676.4M429.1 404.18H676.4M429.1 402.37H676.4M429.1 400.81H676.4M429.1 399.42H676.4M429.1 390.05H676.4M429.1 385.29H676.4M429.1 381.91H676.4M429.1 379.29H676.4M429.1 377.15H676.4M429.1 375.34H676.4M429.1 373.78H676.4M429.1 372.39H676.4M429.1 363.02H676.4M429.1 358.26H676.4M429.1 354.88H676.4M429.1 352.26H676.4M429.1 350.12H676.4M429.1 348.32H676.4M429.1 346.75H676.4M429.1 345.37H676.4M429.1 335.99H676.4M429.1 331.23H676.4M429.1 327.86H676.4M429.1 325.24H676.4M429.1 323.10H676.4M429.1 321.29H676.4M429.1 319.72H676.4M429.1 318.34H676.4" stroke="#ececec" stroke-width="0.7" fill="none"/><path d="M429.1 479.27H676.4M429.1 452.24H676.4M429.1 425.21H676.4M429.1 398.19H676.4M429.1 371.16H676.4M429.1 344.13H676.4M461.36 317.1V506.3M504.37 317.1V506.3M547.37 317.1V506.3M590.38 317.1V506.3M633.39 317.1V506.3" stroke="#dcdcdc" stroke-width="0.7" fill="none"/><path d="M429.1 498.16h1.5M676.4 498.16h-1.5M429.1 493.40h1.5M676.4 493.40h-1.5M429.1 490.03h1.5M676.4 490.03h-1.5M429.1 487.41h1.5M676.4 487.41h-1.5M429.1 485.27h1.5M676.4 485.27h-1.5M429.1 483.46h1.5M676.4 483.46h-1.5M429.1 481.89h1.5M676.4 481.89h-1.5M429.1 480.51h1.5M676.4 480.51h-1.5M429.1 471.14h1.5M676.4 471.14h-1.5M429.1 466.38h1.5M676.4 466.38h-1.5M429.1 463.00h1.5M676.4 463.00h-1.5M429.1 460.38h1.5M676.4 460.38h-1.5M429.1 458.24h1.5M676.4 458.24h-1.5M429.1 456.43h1.5M676.4 456.43h-1.5M429.1 454.86h1.5M676.4 454.86h-1.5M429.1 453.48h1.5M676.4 453.48h-1.5M429.1 444.11h1.5M676.4 444.11h-1.5M429.1 439.35h1.5M676.4 439.35h-1.5M429.1 435.97h1.5M676.4 435.97h-1.5M429.1 433.35h1.5M676.4 433.35h-1.5M429.1 431.21h1.5M676.4 431.21h-1.5M429.1 429.40h1.5M676.4 429.40h-1.5M429.1 427.83h1.5M676.4 427.83h-1.5M429.1 426.45h1.5M676.4 426.45h-1.5M429.1 417.08h1.5M676.4 417.08h-1.5M429.1 412.32h1.5M676.4 412.32h-1.5M429.1 408.94h1.5M676.4 408.94h-1.5M429.1 406.32h1.5M676.4 406.32h-1.5M429.1 404.18h1.5M676.4 404.18h-1.5M429.1 402.37h1.5M676.4 402.37h-1.5M429.1 400.81h1.5M676.4 400.81h-1.5M429.1 399.42h1.5M676.4 399.42h-1.5M429.1 390.05h1.5M676.4 390.05h-1.5M429.1 385.29h1.5M676.4 385.29h-1.5M429.1 381.91h1.5M676.4 381.91h-1.5M429.1 379.29h1.5M676.4 379.29h-1.5M429.1 377.15h1.5M676.4 377.15h-1.5M429.1 375.34h1.5M676.4 375.34h-1.5M429.1 373.78h1.5M676.4 373.78h-1.5M429.1 372.39h1.5M676.4 372.39h-1.5M429.1 363.02h1.5M676.4 363.02h-1.5M429.1 358.26h1.5M676.4 358.26h-1.5M429.1 354.88h1.5M676.4 354.88h-1.5M429.1 352.26h1.5M676.4 352.26h-1.5M429.1 350.12h1.5M676.4 350.12h-1.5M429.1 348.32h1.5M676.4 348.32h-1.5M429.1 346.75h1.5M676.4 346.75h-1.5M429.1 345.37h1.5M676.4 345.37h-1.5M429.1 335.99h1.5M676.4 335.99h-1.5M429.1 331.23h1.5M676.4 331.23h-1.5M429.1 327.86h1.5M676.4 327.86h-1.5M429.1 325.24h1.5M676.4 325.24h-1.5M429.1 323.10h1.5M676.4 323.10h-1.5M429.1 321.29h1.5M676.4 321.29h-1.5M429.1 319.72h1.5M676.4 319.72h-1.5M429.1 318.34h1.5M676.4 318.34h-1.5M429.1 506.30h2.5M676.4 506.30h-2.5M429.1 479.27h2.5M676.4 479.27h-2.5M429.1 452.24h2.5M676.4 452.24h-2.5M429.1 425.21h2.5M676.4 425.21h-2.5M429.1 398.19h2.5M676.4 398.19h-2.5M429.1 371.16h2.5M676.4 371.16h-2.5M429.1 344.13h2.5M676.4 344.13h-2.5M429.1 317.10h2.5M676.4 317.10h-2.5M461.36 506.3v-2.5M461.36 317.1v2.5M504.37 506.3v-2.5M504.37 317.1v2.5M547.37 506.3v-2.5M547.37 317.1v2.5M590.38 506.3v-2.5M590.38 317.1v2.5M633.39 506.3v-2.5M633.39 317.1v2.5" stroke="#7a7a7a" stroke-width="0.6" fill="none"/><g clip-path="url(#clipd)" fill="none" stroke-width="1.8" stroke-linejoin="round"><path stroke="#0072BD" d="M429.1 506.3 439.9 487.4 450.6 475.5 461.4 469.0 472.1 465.2 482.9 462.8 493.6 461.5 504.4 460.8 525.9 460.4 547.4 460.2 558.1 435.7 568.9 420.0 579.6 409.1 590.4 374.4 601.1 364.2 611.9 357.6 622.6 345.2 633.4 333.9 654.9 295.0"/><path stroke="#D95319" d="M429.1 506.3 439.9 487.4 450.6 475.5 461.4 469.0 472.1 465.4 482.9 463.1 493.6 461.9 504.4 461.2 525.9 460.9 579.6 460.8 590.4 458.6 676.4 410.8"/></g><rect x="429.1" y="317.1" width="247.3" height="189.2" fill="none" stroke="#9a9a9a" stroke-width="0.8"/><g font-size="10.5" fill="#262626"><text x="461.4" y="520.9" text-anchor="middle">20</text><text x="504.4" y="520.9" text-anchor="middle">40</text><text x="547.4" y="520.9" text-anchor="middle">60</text><text x="590.4" y="520.9" text-anchor="middle">80</text><text x="633.4" y="520.9" text-anchor="middle">100</text><text x="676.4" y="520.9" text-anchor="middle">120</text><text x="420.3" y="485.8" text-anchor="end">10</text><text x="420.5" y="480.5" font-size="8.2">2</text><text x="420.3" y="431.7" text-anchor="end">10</text><text x="420.5" y="426.4" font-size="8.2">4</text><text x="420.3" y="377.7" text-anchor="end">10</text><text x="420.5" y="372.4" font-size="8.2">6</text><text x="420.3" y="323.6" text-anchor="end">10</text><text x="420.5" y="318.3" font-size="8.2">8</text></g><text x="552.8" y="535.8" font-size="11.6" fill="#262626" text-anchor="middle">SH Degree</text><text transform="translate(404 414.2) rotate(-90)" font-size="12.1" fill="#262626" text-anchor="middle">SST condition number</text><text transform="translate(539.1 307.0) scale(0.87 1)" font-size="16.2" font-weight="bold" fill="#000" text-anchor="middle">MSPI6</text><rect x="599.2" y="473.4" width="71.2" height="26.0" fill="#fff" stroke="#8a8a8a" stroke-width="0.6"/><line x1="601.8" x2="624.4" y1="479.9" y2="479.9" stroke="#0072BD" stroke-width="1.8"/><text x="626.6" y="483.3" font-size="9.4" fill="#262626">1.00 days</text><line x1="601.8" x2="624.4" y1="492.9" y2="492.9" stroke="#D95319" stroke-width="1.8"/><text x="626.6" y="496.3" font-size="9.4" fill="#262626">6.98 days</text><text transform="translate(539.1 560.2) scale(0.93 1)" font-size="15.6" fill="#000" text-anchor="middle">(d)</text><clipPath id="clipf"><rect x="429.1" y="601.2" width="247.3" height="189.0"/></clipPath><path d="M429.1 782.07H676.4M429.1 777.32H676.4M429.1 773.94H676.4M429.1 771.33H676.4M429.1 769.19H676.4M429.1 767.38H676.4M429.1 765.82H676.4M429.1 764.44H676.4M429.1 755.07H676.4M429.1 750.32H676.4M429.1 746.94H676.4M429.1 744.33H676.4M429.1 742.19H676.4M429.1 740.38H676.4M429.1 738.82H676.4M429.1 737.44H676.4M429.1 728.07H676.4M429.1 723.32H676.4M429.1 719.94H676.4M429.1 717.33H676.4M429.1 715.19H676.4M429.1 713.38H676.4M429.1 711.82H676.4M429.1 710.44H676.4M429.1 701.07H676.4M429.1 696.32H676.4M429.1 692.94H676.4M429.1 690.33H676.4M429.1 688.19H676.4M429.1 686.38H676.4M429.1 684.82H676.4M429.1 683.44H676.4M429.1 674.07H676.4M429.1 669.32H676.4M429.1 665.94H676.4M429.1 663.33H676.4M429.1 661.19H676.4M429.1 659.38H676.4M429.1 657.82H676.4M429.1 656.44H676.4M429.1 647.07H676.4M429.1 642.32H676.4M429.1 638.94H676.4M429.1 636.33H676.4M429.1 634.19H676.4M429.1 632.38H676.4M429.1 630.82H676.4M429.1 629.44H676.4M429.1 620.07H676.4M429.1 615.32H676.4M429.1 611.94H676.4M429.1 609.33H676.4M429.1 607.19H676.4M429.1 605.38H676.4M429.1 603.82H676.4M429.1 602.44H676.4" stroke="#ececec" stroke-width="0.7" fill="none"/><path d="M429.1 763.20H676.4M429.1 736.20H676.4M429.1 709.20H676.4M429.1 682.20H676.4M429.1 655.20H676.4M429.1 628.20H676.4M461.36 601.2V790.2M504.37 601.2V790.2M547.37 601.2V790.2M590.38 601.2V790.2M633.39 601.2V790.2" stroke="#dcdcdc" stroke-width="0.7" fill="none"/><path d="M429.1 782.07h1.5M676.4 782.07h-1.5M429.1 777.32h1.5M676.4 777.32h-1.5M429.1 773.94h1.5M676.4 773.94h-1.5M429.1 771.33h1.5M676.4 771.33h-1.5M429.1 769.19h1.5M676.4 769.19h-1.5M429.1 767.38h1.5M676.4 767.38h-1.5M429.1 765.82h1.5M676.4 765.82h-1.5M429.1 764.44h1.5M676.4 764.44h-1.5M429.1 755.07h1.5M676.4 755.07h-1.5M429.1 750.32h1.5M676.4 750.32h-1.5M429.1 746.94h1.5M676.4 746.94h-1.5M429.1 744.33h1.5M676.4 744.33h-1.5M429.1 742.19h1.5M676.4 742.19h-1.5M429.1 740.38h1.5M676.4 740.38h-1.5M429.1 738.82h1.5M676.4 738.82h-1.5M429.1 737.44h1.5M676.4 737.44h-1.5M429.1 728.07h1.5M676.4 728.07h-1.5M429.1 723.32h1.5M676.4 723.32h-1.5M429.1 719.94h1.5M676.4 719.94h-1.5M429.1 717.33h1.5M676.4 717.33h-1.5M429.1 715.19h1.5M676.4 715.19h-1.5M429.1 713.38h1.5M676.4 713.38h-1.5M429.1 711.82h1.5M676.4 711.82h-1.5M429.1 710.44h1.5M676.4 710.44h-1.5M429.1 701.07h1.5M676.4 701.07h-1.5M429.1 696.32h1.5M676.4 696.32h-1.5M429.1 692.94h1.5M676.4 692.94h-1.5M429.1 690.33h1.5M676.4 690.33h-1.5M429.1 688.19h1.5M676.4 688.19h-1.5M429.1 686.38h1.5M676.4 686.38h-1.5M429.1 684.82h1.5M676.4 684.82h-1.5M429.1 683.44h1.5M676.4 683.44h-1.5M429.1 674.07h1.5M676.4 674.07h-1.5M429.1 669.32h1.5M676.4 669.32h-1.5M429.1 665.94h1.5M676.4 665.94h-1.5M429.1 663.33h1.5M676.4 663.33h-1.5M429.1 661.19h1.5M676.4 661.19h-1.5M429.1 659.38h1.5M676.4 659.38h-1.5M429.1 657.82h1.5M676.4 657.82h-1.5M429.1 656.44h1.5M676.4 656.44h-1.5M429.1 647.07h1.5M676.4 647.07h-1.5M429.1 642.32h1.5M676.4 642.32h-1.5M429.1 638.94h1.5M676.4 638.94h-1.5M429.1 636.33h1.5M676.4 636.33h-1.5M429.1 634.19h1.5M676.4 634.19h-1.5M429.1 632.38h1.5M676.4 632.38h-1.5M429.1 630.82h1.5M676.4 630.82h-1.5M429.1 629.44h1.5M676.4 629.44h-1.5M429.1 620.07h1.5M676.4 620.07h-1.5M429.1 615.32h1.5M676.4 615.32h-1.5M429.1 611.94h1.5M676.4 611.94h-1.5M429.1 609.33h1.5M676.4 609.33h-1.5M429.1 607.19h1.5M676.4 607.19h-1.5M429.1 605.38h1.5M676.4 605.38h-1.5M429.1 603.82h1.5M676.4 603.82h-1.5M429.1 602.44h1.5M676.4 602.44h-1.5M429.1 790.20h2.5M676.4 790.20h-2.5M429.1 763.20h2.5M676.4 763.20h-2.5M429.1 736.20h2.5M676.4 736.20h-2.5M429.1 709.20h2.5M676.4 709.20h-2.5M429.1 682.20h2.5M676.4 682.20h-2.5M429.1 655.20h2.5M676.4 655.20h-2.5M429.1 628.20h2.5M676.4 628.20h-2.5M429.1 601.20h2.5M676.4 601.20h-2.5M461.36 790.2v-2.5M461.36 601.2v2.5M504.37 790.2v-2.5M504.37 601.2v2.5M547.37 790.2v-2.5M547.37 601.2v2.5M590.38 790.2v-2.5M590.38 601.2v2.5M633.39 790.2v-2.5M633.39 601.2v2.5" stroke="#7a7a7a" stroke-width="0.6" fill="none"/><g clip-path="url(#clipf)" fill="none" stroke-width="1.8" stroke-linejoin="round"><path stroke="#0072BD" d="M429.1 790.2 439.9 771.8 450.6 761.8 461.4 755.9 472.1 751.5 482.9 749.0 493.6 747.6 504.4 746.5 515.1 746.0 525.9 745.8 536.6 745.7 547.4 745.6 558.1 742.1 568.9 725.8 579.6 710.5 590.4 695.1 601.1 678.4 611.9 666.5 622.6 659.0 633.4 643.6 644.1 632.2 654.9 617.1 665.6 601.1 676.4 585.0"/><path stroke="#D95319" d="M429.1 790.2 439.9 771.8 450.6 761.8 461.4 755.9 472.1 752.1 482.9 750.0 493.6 748.6 504.4 747.8 525.9 747.4 622.6 746.7 633.4 742.6 676.4 716.6"/><path stroke="#EDB120" d="M429.1 790.2 439.9 771.8 450.6 761.8 461.4 755.9 472.1 752.1 482.9 750.0 493.6 748.6 504.4 747.8 525.9 747.4 622.6 747.3 633.4 743.2 676.4 717.2"/><path stroke="#7E2F8E" d="M429.1 790.2 439.9 771.8 450.6 761.8 461.4 755.9 472.1 752.1 482.9 750.0 493.6 748.6 504.4 747.8 525.9 747.4 622.6 747.3 633.4 743.2 676.4 717.2"/></g><rect x="429.1" y="601.2" width="247.3" height="189.0" fill="none" stroke="#9a9a9a" stroke-width="0.8"/><g font-size="10.5" fill="#262626"><text x="461.4" y="804.8" text-anchor="middle">20</text><text x="504.4" y="804.8" text-anchor="middle">40</text><text x="547.4" y="804.8" text-anchor="middle">60</text><text x="590.4" y="804.8" text-anchor="middle">80</text><text x="633.4" y="804.8" text-anchor="middle">100</text><text x="676.4" y="804.8" text-anchor="middle">120</text><text x="420.3" y="769.7" text-anchor="end">10</text><text x="420.5" y="764.4" font-size="8.2">2</text><text x="420.3" y="715.7" text-anchor="end">10</text><text x="420.5" y="710.4" font-size="8.2">4</text><text x="420.3" y="661.7" text-anchor="end">10</text><text x="420.5" y="656.4" font-size="8.2">6</text><text x="420.3" y="607.7" text-anchor="end">10</text><text x="420.5" y="602.4" font-size="8.2">8</text></g><text x="552.8" y="819.7" font-size="11.6" fill="#262626" text-anchor="middle">SH Degree</text><text transform="translate(404 698.2) rotate(-90)" font-size="12.1" fill="#262626" text-anchor="middle">SST condition number</text><text transform="translate(539.1 591.1) scale(0.87 1)" font-size="16.2" font-weight="bold" fill="#000" text-anchor="middle">OSPI6</text><rect x="434.5" y="607" width="76.5" height="51.3" fill="#fff" stroke="#8a8a8a" stroke-width="0.6"/><line x1="437.1" x2="459.7" y1="615.0" y2="615.0" stroke="#0072BD" stroke-width="1.8"/><text x="461.9" y="618.4" font-size="9.4" fill="#262626">1.00 days</text><line x1="437.1" x2="459.7" y1="627.1" y2="627.1" stroke="#D95319" stroke-width="1.8"/><text x="461.9" y="630.5" font-size="9.4" fill="#262626">2.99 days</text><line x1="437.1" x2="459.7" y1="639.6" y2="639.6" stroke="#EDB120" stroke-width="1.8"/><text x="461.9" y="643.0" font-size="9.4" fill="#262626">4.98 days</text><line x1="437.1" x2="459.7" y1="652.0" y2="652.0" stroke="#7E2F8E" stroke-width="1.8"/><text x="461.9" y="655.4" font-size="9.4" fill="#262626">12.96 days</text><text transform="translate(539.1 851.2) scale(0.93 1)" font-size="15.6" fill="#000" text-anchor="middle">(f)</text></svg></body></html>
